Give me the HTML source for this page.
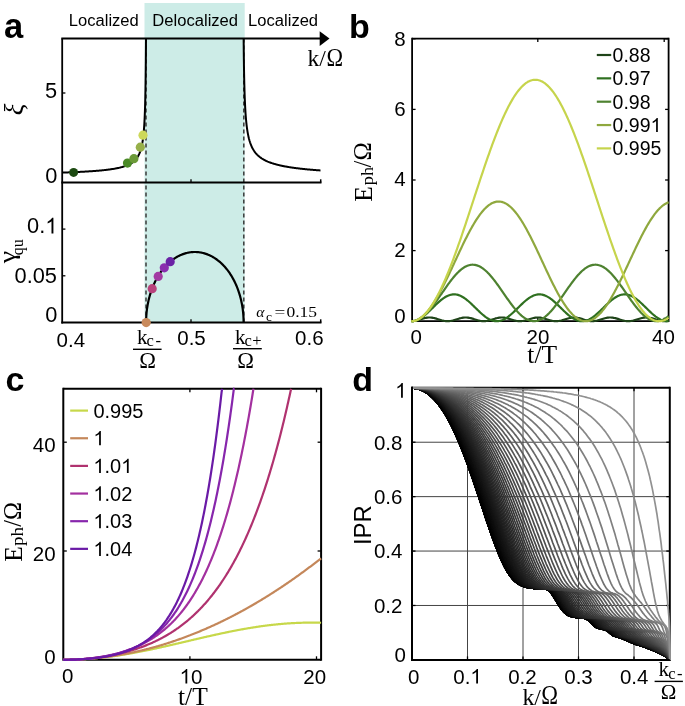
<!DOCTYPE html>
<html><head><meta charset="utf-8"><style>
html,body{margin:0;padding:0;background:#fff;}
svg{display:block;will-change:transform;}
text{-webkit-font-smoothing:antialiased;}
</style></head><body>
<svg width="685" height="706" viewBox="0 0 685 706"><rect x="144.5" y="3" width="100.2" height="319.5" fill="#cdece7"/>
<text x="4" y="38.2" font-family='"Liberation Sans", sans-serif' font-size="34.5" font-weight="bold">a</text>
<text x="68.8" y="25.5" font-family='"Liberation Sans", sans-serif' font-size="15.6" textLength="70" lengthAdjust="spacingAndGlyphs">Localized</text>
<text x="152.3" y="25.5" font-family='"Liberation Sans", sans-serif' font-size="15.6" textLength="85.8" lengthAdjust="spacingAndGlyphs">Delocalized</text>
<text x="248.1" y="25.8" font-family='"Liberation Sans", sans-serif' font-size="15.6" textLength="70" lengthAdjust="spacingAndGlyphs">Localized</text>
<line x1="146" y1="38.5" x2="146" y2="322.5" stroke="#3a3a3a" stroke-width="1.5" stroke-dasharray="4 3"/>
<line x1="243.8" y1="38.5" x2="243.8" y2="322.5" stroke="#3a3a3a" stroke-width="1.5" stroke-dasharray="4 3"/>
<path d="M62.2 172.6 L62.85 172.58 L63.51 172.56 L64.16 172.54 L64.82 172.51 L65.47 172.49 L66.12 172.47 L66.78 172.44 L67.43 172.42 L68.08 172.39 L68.74 172.37 L69.39 172.34 L70.05 172.32 L70.7 172.29 L71.35 172.27 L72.01 172.24 L72.66 172.21 L73.31 172.19 L73.97 172.16 L74.62 172.13 L75.28 172.1 L75.93 172.07 L76.58 172.04 L77.24 172.01 L77.89 171.98 L78.54 171.95 L79.2 171.92 L79.85 171.89 L80.51 171.85 L81.16 171.82 L81.81 171.79 L82.47 171.75 L83.12 171.72 L83.77 171.68 L84.43 171.64 L85.08 171.61 L85.74 171.57 L86.39 171.53 L87.04 171.49 L87.7 171.45 L88.35 171.41 L89.01 171.37 L89.66 171.33 L90.31 171.28 L90.97 171.24 L91.62 171.19 L92.27 171.15 L92.93 171.1 L93.58 171.05 L94.24 171 L94.89 170.95 L95.54 170.9 L96.2 170.85 L96.85 170.8 L97.5 170.74 L98.16 170.69 L98.81 170.63 L99.47 170.57 L100.12 170.51 L100.77 170.45 L101.43 170.39 L102.08 170.32 L102.73 170.26 L103.39 170.19 L104.04 170.12 L104.7 170.05 L105.35 169.97 L106 169.9 L106.66 169.82 L107.31 169.74 L107.96 169.66 L108.62 169.57 L109.27 169.49 L109.93 169.4 L110.58 169.31 L111.23 169.21 L111.89 169.11 L112.54 169.01 L113.19 168.9 L113.85 168.8 L114.5 168.68 L115.16 168.57 L115.81 168.44 L116.46 168.32 L117.12 168.19 L117.77 168.05 L118.43 167.91 L119.08 167.77 L119.73 167.61 L120.39 167.46 L121.04 167.29 L121.69 167.12 L122.35 166.93 L123 166.74 L123.66 166.55 L124.31 166.34 L124.96 166.12 L125.62 165.88 L126.27 165.64 L126.92 165.38 L127.58 165.11 L128.23 164.82 L128.89 164.51 L129.54 164.18 L130.19 163.83 L130.85 163.45 L131.5 163.05 L132.15 162.61 L132.81 162.14 L133.46 161.63 L134.12 161.07 L134.77 160.46 L135.42 159.79 L136.08 159.05 L136.73 158.23 L137.38 157.3 L138.04 156.26 L138.69 155.06 L139.35 153.69 L140 152.09 L140.66 150.15 L141.22 148.22 L141.69 146.28 L142.1 144.35 L142.45 142.42 L142.75 140.48 L143.02 138.55 L143.26 136.62 L143.47 134.68 L143.66 132.75 L143.84 130.82 L143.99 128.88 L144.13 126.95 L144.26 125.01 L144.38 123.08 L144.48 121.15 L144.58 119.21 L144.67 117.28 L144.76 115.35 L144.83 113.41 L144.91 111.48 L144.97 109.54 L145.04 107.61 L145.1 105.68 L145.15 103.74 L145.2 101.81 L145.25 99.88 L145.3 97.94 L145.34 96.01 L145.38 94.08 L145.42 92.14 L145.46 90.21 L145.49 88.27 L145.52 86.34 L145.56 84.41 L145.59 82.47 L145.61 80.54 L145.64 78.61 L145.67 76.67 L145.69 74.74 L145.71 72.81 L145.74 70.87 L145.76 68.94 L145.78 67 L145.8 65.07 L145.82 63.14 L145.84 61.2 L145.85 59.27 L145.87 57.34 L145.89 55.4 L145.9 53.47 L145.92 51.54 L145.93 49.6 L145.94 47.67 L145.96 45.73 L145.97 43.8 L145.98 41.87 L146 39.93 L146.01 38" fill="none" stroke="#000" stroke-width="2" stroke-linejoin="round" stroke-linecap="butt" />
<path d="M243.63 38 L243.65 39.77 L243.66 41.53 L243.68 43.3 L243.7 45.07 L243.72 46.83 L243.73 48.6 L243.75 50.37 L243.77 52.13 L243.79 53.9 L243.81 55.67 L243.84 57.43 L243.86 59.2 L243.88 60.97 L243.91 62.73 L243.93 64.5 L243.96 66.27 L243.99 68.03 L244.02 69.8 L244.05 71.57 L244.08 73.33 L244.12 75.1 L244.15 76.87 L244.19 78.63 L244.23 80.4 L244.27 82.17 L244.31 83.93 L244.36 85.7 L244.41 87.47 L244.46 89.23 L244.51 91 L244.56 92.77 L244.62 94.53 L244.69 96.3 L244.75 98.07 L244.82 99.83 L244.9 101.6 L244.98 103.37 L245.06 105.13 L245.16 106.9 L245.25 108.67 L245.36 110.43 L245.47 112.2 L245.59 113.97 L245.72 115.73 L245.86 117.5 L246.01 119.27 L246.17 121.03 L246.35 122.8 L246.54 124.57 L246.75 126.33 L246.98 128.1 L247.23 129.87 L247.51 131.63 L247.82 133.4 L248.17 135.17 L248.55 136.93 L248.97 138.7 L249.46 140.47 L250 142.23 L250.59 143.93 L251.18 145.43 L251.78 146.77 L252.37 147.98 L252.96 149.08 L253.55 150.07 L254.15 150.99 L254.74 151.83 L255.33 152.6 L255.92 153.33 L256.52 154 L257.11 154.62 L257.7 155.21 L258.29 155.76 L258.89 156.28 L259.48 156.77 L260.07 157.24 L260.66 157.67 L261.26 158.09 L261.85 158.49 L262.44 158.86 L263.03 159.22 L263.63 159.56 L264.22 159.89 L264.81 160.21 L265.4 160.51 L266 160.8 L266.59 161.07 L267.18 161.34 L267.77 161.6 L268.37 161.84 L268.96 162.08 L269.55 162.31 L270.14 162.53 L270.74 162.75 L271.33 162.96 L271.92 163.16 L272.51 163.35 L273.11 163.54 L273.7 163.72 L274.29 163.9 L274.88 164.07 L275.47 164.24 L276.07 164.4 L276.66 164.56 L277.25 164.72 L277.84 164.87 L278.44 165.01 L279.03 165.15 L279.62 165.29 L280.21 165.43 L280.81 165.56 L281.4 165.69 L281.99 165.81 L282.58 165.94 L283.18 166.05 L283.77 166.17 L284.36 166.29 L284.95 166.4 L285.55 166.51 L286.14 166.61 L286.73 166.72 L287.32 166.82 L287.92 166.92 L288.51 167.02 L289.1 167.12 L289.69 167.21 L290.29 167.3 L290.88 167.39 L291.47 167.48 L292.06 167.57 L292.66 167.66 L293.25 167.74 L293.84 167.82 L294.43 167.9 L295.03 167.98 L295.62 168.06 L296.21 168.14 L296.8 168.21 L297.39 168.29 L297.99 168.36 L298.58 168.43 L299.17 168.5 L299.76 168.57 L300.36 168.64 L300.95 168.71 L301.54 168.78 L302.13 168.84 L302.73 168.9 L303.32 168.97 L303.91 169.03 L304.5 169.09 L305.1 169.15 L305.69 169.21 L306.28 169.27 L306.87 169.33 L307.47 169.38 L308.06 169.44 L308.65 169.5 L309.24 169.55 L309.84 169.6 L310.43 169.66 L311.02 169.71 L311.61 169.76 L312.21 169.81 L312.8 169.86 L313.39 169.91 L313.98 169.96 L314.58 170.01 L315.17 170.06 L315.76 170.1 L316.35 170.15 L316.95 170.2 L317.54 170.24 L318.13 170.29 L318.72 170.33 L319.32 170.37 L319.91 170.42 L320.5 170.46" fill="none" stroke="#000" stroke-width="2" stroke-linejoin="round" stroke-linecap="butt" />
<path d="M146.1 322.5 L146.11 321.39 L146.12 320.27 L146.15 319.16 L146.2 318.05 L146.25 316.94 L146.32 315.83 L146.4 314.73 L146.49 313.62 L146.59 312.52 L146.71 311.42 L146.83 310.32 L146.97 309.22 L147.12 308.13 L147.29 307.04 L147.46 305.96 L147.65 304.88 L147.85 303.81 L148.06 302.73 L148.28 301.67 L148.51 300.61 L148.75 299.55 L149.01 298.5 L149.28 297.46 L149.56 296.42 L149.85 295.39 L150.15 294.37 L150.46 293.35 L150.79 292.34 L151.12 291.34 L151.47 290.35 L151.82 289.36 L152.19 288.38 L152.57 287.41 L152.96 286.45 L153.35 285.5 L153.76 284.56 L154.18 283.62 L154.61 282.7 L155.05 281.78 L155.5 280.88 L155.96 279.99 L156.43 279.11 L156.91 278.23 L157.4 277.37 L157.89 276.52 L158.4 275.69 L158.91 274.86 L159.44 274.05 L159.97 273.24 L160.51 272.45 L161.07 271.68 L161.62 270.91 L162.19 270.16 L162.77 269.42 L163.35 268.69 L163.94 267.98 L164.54 267.28 L165.15 266.6 L165.76 265.93 L166.38 265.27 L167.01 264.63 L167.65 264 L168.29 263.38 L168.94 262.78 L169.59 262.2 L170.25 261.63 L170.92 261.08 L171.59 260.54 L172.27 260.02 L172.96 259.51 L173.65 259.02 L174.34 258.54 L175.05 258.08 L175.75 257.64 L176.46 257.21 L177.18 256.8 L177.9 256.4 L178.62 256.02 L179.35 255.66 L180.08 255.31 L180.81 254.99 L181.55 254.67 L182.29 254.38 L183.04 254.1 L183.79 253.84 L184.54 253.6 L185.29 253.37 L186.05 253.16 L186.81 252.97 L187.57 252.79 L188.33 252.63 L189.09 252.49 L189.86 252.37 L190.62 252.27 L191.39 252.18 L192.16 252.11 L192.93 252.05 L193.7 252.02 L194.47 252 L195.23 252 L196 252.02 L196.77 252.05 L197.54 252.11 L198.31 252.18 L199.08 252.27 L199.84 252.37 L200.61 252.49 L201.37 252.63 L202.13 252.79 L202.89 252.97 L203.65 253.16 L204.41 253.37 L205.16 253.6 L205.91 253.84 L206.66 254.1 L207.41 254.38 L208.15 254.67 L208.89 254.99 L209.62 255.31 L210.35 255.66 L211.08 256.02 L211.8 256.4 L212.52 256.8 L213.24 257.21 L213.95 257.64 L214.65 258.08 L215.36 258.54 L216.05 259.02 L216.74 259.51 L217.43 260.02 L218.11 260.54 L218.78 261.08 L219.45 261.63 L220.11 262.2 L220.76 262.78 L221.41 263.38 L222.05 264 L222.69 264.63 L223.32 265.27 L223.94 265.93 L224.55 266.6 L225.16 267.28 L225.76 267.98 L226.35 268.69 L226.93 269.42 L227.51 270.16 L228.08 270.91 L228.63 271.68 L229.19 272.45 L229.73 273.24 L230.26 274.05 L230.79 274.86 L231.3 275.69 L231.81 276.52 L232.3 277.37 L232.79 278.23 L233.27 279.11 L233.74 279.99 L234.2 280.88 L234.65 281.78 L235.09 282.7 L235.52 283.62 L235.94 284.56 L236.35 285.5 L236.74 286.45 L237.13 287.41 L237.51 288.38 L237.88 289.36 L238.23 290.35 L238.58 291.34 L238.91 292.34 L239.24 293.35 L239.55 294.37 L239.85 295.39 L240.14 296.42 L240.42 297.46 L240.69 298.5 L240.95 299.55 L241.19 300.61 L241.42 301.67 L241.64 302.73 L241.85 303.81 L242.05 304.88 L242.24 305.96 L242.41 307.04 L242.58 308.13 L242.73 309.22 L242.87 310.32 L242.99 311.42 L243.11 312.52 L243.21 313.62 L243.3 314.73 L243.38 315.83 L243.45 316.94 L243.5 318.05 L243.55 319.16 L243.58 320.27 L243.59 321.39 L243.6 322.5" fill="none" stroke="#000" stroke-width="2.2" stroke-linejoin="round" stroke-linecap="butt" />
<line x1="62.2" y1="38.5" x2="62.2" y2="323.4" stroke="#000" stroke-width="1.8" />
<line x1="61.3" y1="38.5" x2="320.5" y2="38.5" stroke="#000" stroke-width="1.8" />
<polygon points="319.7,31.2 329.5,38.6 319.7,46" fill="#000"/>
<line x1="61.3" y1="182.5" x2="321.5" y2="182.5" stroke="#000" stroke-width="1.8" />
<line x1="61.3" y1="322.5" x2="321.5" y2="322.5" stroke="#000" stroke-width="1.8" />
<line x1="191" y1="182.5" x2="191" y2="179.3" stroke="#000" stroke-width="1.3" />
<line x1="191" y1="322.5" x2="191" y2="319.3" stroke="#000" stroke-width="1.3" />
<line x1="320.7" y1="182.5" x2="320.7" y2="179.3" stroke="#000" stroke-width="1.5" />
<line x1="320.7" y1="322.5" x2="320.7" y2="319.3" stroke="#000" stroke-width="1.5" />
<line x1="62.2" y1="93" x2="65.4" y2="93" stroke="#000" stroke-width="1.3" />
<line x1="62.2" y1="229.1" x2="65.4" y2="229.1" stroke="#000" stroke-width="1.3" />
<line x1="62.2" y1="275.8" x2="65.4" y2="275.8" stroke="#000" stroke-width="1.3" />
<circle cx="73.6" cy="172.4" r="4.5" fill="#1d4a12"/>
<circle cx="127.5" cy="163.1" r="4.6" fill="#4a8a26"/>
<circle cx="133.9" cy="158.7" r="4.6" fill="#6b9a38"/>
<circle cx="140.3" cy="147.2" r="4.6" fill="#97b04a"/>
<circle cx="143" cy="135.2" r="4.6" fill="#cdd85a"/>
<circle cx="146.2" cy="322.6" r="4.6" fill="#c98a5c"/>
<circle cx="152.2" cy="288.7" r="4.6" fill="#b8427c"/>
<circle cx="158.2" cy="276.4" r="4.6" fill="#a23aa2"/>
<circle cx="164.3" cy="267.8" r="4.6" fill="#8a2eae"/>
<circle cx="170.2" cy="261.7" r="4.6" fill="#6a22a6"/>
<text x="57" y="97.7" font-family='"Liberation Sans", sans-serif' font-size="21.8" text-anchor="end">5</text>
<text x="57.4" y="183.3" font-family='"Liberation Sans", sans-serif' font-size="21.8" text-anchor="end">0</text>
<text x="27.1" y="233.4" font-family='"Liberation Sans", sans-serif' font-size="21.8" style="font-kerning:none">0. </text>
<path d="M764 0H584V1147Q519 1085 413 1023Q307 961 222 931V1104Q371 1174 483 1274Q595 1374 642 1466H764Z" transform="translate(45.28,233.4) scale(0.01064,-0.01064)"/>
<text x="57" y="283" font-family='"Liberation Sans", sans-serif' font-size="21.8" text-anchor="end">0.05</text>
<text x="57.4" y="322.3" font-family='"Liberation Sans", sans-serif' font-size="21.8" text-anchor="end">0</text>
<text x="70.8" y="347.4" font-family='"Liberation Sans", sans-serif' font-size="20.5" text-anchor="middle">0.4</text>
<text x="191.5" y="345.4" font-family='"Liberation Sans", sans-serif' font-size="20.5" text-anchor="middle">0.5</text>
<text x="309.3" y="345.4" font-family='"Liberation Sans", sans-serif' font-size="20.5" text-anchor="middle">0.6</text>
<text x="307.4" y="66.4" font-family='"Liberation Serif", serif' font-size="23.5">k/</text>
<text x="326.4" y="65.6" font-family='"Liberation Serif", serif' font-size="24.5" textLength="16.6" lengthAdjust="spacingAndGlyphs">Ω</text>
<text transform="translate(22.5,109.5) rotate(-90)" font-family='"Liberation Serif", serif' font-size="27" font-style="italic" text-anchor="middle">ξ</text>
<text transform="translate(14.7,263.2) rotate(-90)" font-family='"Liberation Serif", serif' font-size="24"><tspan textLength="12.3" lengthAdjust="spacingAndGlyphs">γ</tspan></text>
<text transform="translate(22.8,255.2) rotate(-90)" font-family='"Liberation Serif", serif' font-size="17" textLength="15.9" lengthAdjust="spacingAndGlyphs">qu</text>
<text x="137" y="344.1" font-family='"Liberation Serif", serif' font-size="21">k</text>
<text x="146.6" y="346.3" font-family='"Liberation Serif", serif' font-size="16.5">c</text>
<text x="155.5" y="346.3" font-family='"Liberation Serif", serif' font-size="16.5">-</text>
<text x="234.9" y="344" font-family='"Liberation Serif", serif' font-size="21">k</text>
<text x="244.5" y="346.2" font-family='"Liberation Serif", serif' font-size="16.5">c</text>
<text x="252.3" y="346.2" font-family='"Liberation Serif", serif' font-size="16.5">+</text>
<line x1="133" y1="349.3" x2="161.6" y2="349.3" stroke="#000" stroke-width="1.4" />
<line x1="233" y1="348.7" x2="261.8" y2="348.7" stroke="#000" stroke-width="1.4" />
<text x="147.6" y="367.7" font-family='"Liberation Serif", serif' font-size="22.5" text-anchor="middle">Ω</text>
<text x="245.5" y="367.7" font-family='"Liberation Serif", serif' font-size="22.5" text-anchor="middle">Ω</text>
<text x="256.3" y="317.3" font-family='"Liberation Serif", serif' font-size="15.5" font-style="italic">α</text>
<text x="266" y="321.3" font-family='"Liberation Serif", serif' font-size="13.5">c</text>
<text x="274.6" y="317" font-family='"Liberation Serif", serif' font-size="15" textLength="10.8" lengthAdjust="spacingAndGlyphs">=</text>
<text x="286.4" y="317.3" font-family='"Liberation Serif", serif' font-size="14.5" textLength="30.6" lengthAdjust="spacingAndGlyphs">0.15</text>
<text x="349" y="37.9" font-family='"Liberation Sans", sans-serif' font-size="34" font-weight="bold">b</text>
<line x1="412.1" y1="37.7" x2="412.1" y2="322.1" stroke="#000" stroke-width="1.8" />
<line x1="668.6" y1="37.7" x2="668.6" y2="322.1" stroke="#000" stroke-width="1.8" />
<line x1="412.1" y1="38.6" x2="668.6" y2="38.6" stroke="#000" stroke-width="1.8" />
<line x1="412.1" y1="321.2" x2="668.6" y2="321.2" stroke="#000" stroke-width="1.8" />
<line x1="412.1" y1="250.6" x2="415.6" y2="250.6" stroke="#000" stroke-width="1.3" />
<line x1="668.6" y1="250.6" x2="665.1" y2="250.6" stroke="#000" stroke-width="1.3" />
<line x1="412.1" y1="180" x2="415.6" y2="180" stroke="#000" stroke-width="1.3" />
<line x1="668.6" y1="180" x2="665.1" y2="180" stroke="#000" stroke-width="1.3" />
<line x1="412.1" y1="109.4" x2="415.6" y2="109.4" stroke="#000" stroke-width="1.3" />
<line x1="668.6" y1="109.4" x2="665.1" y2="109.4" stroke="#000" stroke-width="1.3" />
<line x1="412.1" y1="38.8" x2="415.6" y2="38.8" stroke="#000" stroke-width="1.3" />
<line x1="668.6" y1="38.8" x2="665.1" y2="38.8" stroke="#000" stroke-width="1.3" />
<line x1="537.8" y1="38.6" x2="537.8" y2="42.1" stroke="#000" stroke-width="1.3" />
<line x1="537.8" y1="321.2" x2="537.8" y2="317.7" stroke="#000" stroke-width="1.3" />
<line x1="664.2" y1="38.6" x2="664.2" y2="42.1" stroke="#000" stroke-width="1.3" />
<line x1="664.2" y1="321.2" x2="664.2" y2="317.7" stroke="#000" stroke-width="1.3" />
<path d="M411.4 321.2 L412.26 321.18 L413.12 321.12 L413.98 321.02 L414.84 320.88 L415.7 320.71 L416.56 320.5 L417.42 320.27 L418.28 320.03 L419.14 319.76 L420 319.49 L420.86 319.21 L421.72 318.94 L422.58 318.67 L423.44 318.42 L424.3 318.19 L425.16 317.99 L426.02 317.82 L426.88 317.68 L427.74 317.58 L428.6 317.51 L429.46 317.49 L430.32 317.51 L431.18 317.57 L432.04 317.68 L432.91 317.81 L433.77 317.99 L434.63 318.19 L435.49 318.42 L436.35 318.67 L437.21 318.93 L438.07 319.2 L438.93 319.48 L439.79 319.75 L440.65 320.02 L441.51 320.27 L442.37 320.5 L443.23 320.7 L444.09 320.87 L444.95 321.01 L445.81 321.12 L446.67 321.18 L447.53 321.2 L448.39 321.18 L449.25 321.12 L450.11 321.02 L450.97 320.88 L451.83 320.71 L452.69 320.51 L453.55 320.28 L454.41 320.03 L455.27 319.77 L456.13 319.49 L456.99 319.22 L457.85 318.94 L458.71 318.68 L459.57 318.43 L460.43 318.2 L461.29 317.99 L462.15 317.82 L463.01 317.68 L463.87 317.58 L464.73 317.52 L465.59 317.49 L466.45 317.51 L467.31 317.57 L468.17 317.67 L469.03 317.81 L469.89 317.98 L470.75 318.18 L471.61 318.41 L472.47 318.66 L473.33 318.92 L474.19 319.2 L475.05 319.47 L475.92 319.75 L476.78 320.01 L477.64 320.26 L478.5 320.49 L479.36 320.7 L480.22 320.87 L481.08 321.01 L481.94 321.11 L482.8 321.18 L483.66 321.2 L484.52 321.18 L485.38 321.12 L486.24 321.02 L487.1 320.89 L487.96 320.72 L488.82 320.51 L489.68 320.29 L490.54 320.04 L491.4 319.77 L492.26 319.5 L493.12 319.22 L493.98 318.95 L494.84 318.68 L495.7 318.43 L496.56 318.2 L497.42 318 L498.28 317.83 L499.14 317.68 L500 317.58 L500.86 317.52 L501.72 317.49 L502.58 317.51 L503.44 317.57 L504.3 317.67 L505.16 317.81 L506.02 317.98 L506.88 318.18 L507.74 318.4 L508.6 318.65 L509.46 318.92 L510.32 319.19 L511.18 319.47 L512.04 319.74 L512.9 320.01 L513.76 320.26 L514.62 320.49 L515.48 320.69 L516.34 320.87 L517.2 321.01 L518.06 321.11 L518.93 321.18 L519.79 321.2 L520.65 321.18 L521.51 321.12 L522.37 321.03 L523.23 320.89 L524.09 320.72 L524.95 320.52 L525.81 320.29 L526.67 320.04 L527.53 319.78 L528.39 319.51 L529.25 319.23 L530.11 318.96 L530.97 318.69 L531.83 318.44 L532.69 318.21 L533.55 318 L534.41 317.83 L535.27 317.69 L536.13 317.58 L536.99 317.52 L537.85 317.49 L538.71 317.51 L539.57 317.57 L540.43 317.67 L541.29 317.8 L542.15 317.97 L543.01 318.17 L543.87 318.4 L544.73 318.65 L545.59 318.91 L546.45 319.18 L547.31 319.46 L548.17 319.73 L549.03 320 L549.89 320.25 L550.75 320.48 L551.61 320.69 L552.47 320.86 L553.33 321 L554.19 321.11 L555.05 321.17 L555.91 321.2 L556.77 321.18 L557.63 321.13 L558.49 321.03 L559.35 320.89 L560.21 320.72 L561.07 320.53 L561.94 320.3 L562.8 320.05 L563.66 319.79 L564.52 319.52 L565.38 319.24 L566.24 318.96 L567.1 318.7 L567.96 318.45 L568.82 318.22 L569.68 318.01 L570.54 317.83 L571.4 317.69 L572.26 317.59 L573.12 317.52 L573.98 317.49 L574.84 317.51 L575.7 317.57 L576.56 317.66 L577.42 317.8 L578.28 317.97 L579.14 318.17 L580 318.39 L580.86 318.64 L581.72 318.9 L582.58 319.17 L583.44 319.45 L584.3 319.73 L585.16 319.99 L586.02 320.24 L586.88 320.48 L587.74 320.68 L588.6 320.86 L589.46 321 L590.32 321.11 L591.18 321.17 L592.04 321.2 L592.9 321.18 L593.76 321.13 L594.62 321.03 L595.48 320.9 L596.34 320.73 L597.2 320.53 L598.06 320.3 L598.92 320.06 L599.78 319.8 L600.64 319.52 L601.5 319.25 L602.36 318.97 L603.22 318.7 L604.08 318.45 L604.95 318.22 L605.81 318.01 L606.67 317.84 L607.53 317.69 L608.39 317.59 L609.25 317.52 L610.11 317.49 L610.97 317.51 L611.83 317.56 L612.69 317.66 L613.55 317.79 L614.41 317.96 L615.27 318.16 L616.13 318.39 L616.99 318.63 L617.85 318.9 L618.71 319.17 L619.57 319.44 L620.43 319.72 L621.29 319.99 L622.15 320.24 L623.01 320.47 L623.87 320.68 L624.73 320.85 L625.59 321 L626.45 321.1 L627.31 321.17 L628.17 321.2 L629.03 321.19 L629.89 321.13 L630.75 321.03 L631.61 320.9 L632.47 320.73 L633.33 320.54 L634.19 320.31 L635.05 320.06 L635.91 319.8 L636.77 319.53 L637.63 319.25 L638.49 318.98 L639.35 318.71 L640.21 318.46 L641.07 318.23 L641.93 318.02 L642.79 317.84 L643.65 317.7 L644.51 317.59 L645.37 317.52 L646.23 317.49 L647.09 317.51 L647.96 317.56 L648.82 317.66 L649.68 317.79 L650.54 317.96 L651.4 318.15 L652.26 318.38 L653.12 318.63 L653.98 318.89 L654.84 319.16 L655.7 319.44 L656.56 319.71 L657.42 319.98 L658.28 320.23 L659.14 320.46 L660 320.67 L660.86 320.85 L661.72 320.99 L662.58 321.1 L663.44 321.17 L664.3 321.2 L665.16 321.19 L666.02 321.13 L666.88 321.04 L667.74 320.91 L668.6 320.74" fill="none" stroke="#1f4419" stroke-width="2.2" stroke-linejoin="round" stroke-linecap="butt" />
<path d="M411.4 321.2 L412.26 321.17 L413.12 321.09 L413.98 320.96 L414.84 320.77 L415.7 320.53 L416.56 320.24 L417.42 319.9 L418.28 319.51 L419.14 319.08 L420 318.6 L420.86 318.07 L421.72 317.51 L422.58 316.9 L423.44 316.26 L424.3 315.59 L425.16 314.88 L426.02 314.14 L426.88 313.38 L427.74 312.6 L428.6 311.8 L429.46 310.98 L430.32 310.15 L431.18 309.31 L432.04 308.46 L432.91 307.61 L433.77 306.76 L434.63 305.92 L435.49 305.08 L436.35 304.26 L437.21 303.44 L438.07 302.65 L438.93 301.88 L439.79 301.12 L440.65 300.4 L441.51 299.71 L442.37 299.05 L443.23 298.42 L444.09 297.83 L444.95 297.28 L445.81 296.77 L446.67 296.31 L447.53 295.89 L448.39 295.53 L449.25 295.21 L450.11 294.94 L450.97 294.72 L451.83 294.55 L452.69 294.44 L453.55 294.38 L454.41 294.38 L455.27 294.43 L456.13 294.53 L456.99 294.68 L457.85 294.89 L458.71 295.15 L459.57 295.46 L460.43 295.82 L461.29 296.23 L462.15 296.68 L463.01 297.18 L463.87 297.72 L464.73 298.31 L465.59 298.93 L466.45 299.58 L467.31 300.27 L468.17 300.99 L469.03 301.73 L469.89 302.5 L470.75 303.29 L471.61 304.1 L472.47 304.93 L473.33 305.76 L474.19 306.61 L475.05 307.45 L475.92 308.3 L476.78 309.15 L477.64 309.99 L478.5 310.83 L479.36 311.65 L480.22 312.45 L481.08 313.24 L481.94 314.01 L482.8 314.75 L483.66 315.46 L484.52 316.14 L485.38 316.79 L486.24 317.4 L487.1 317.97 L487.96 318.5 L488.82 318.99 L489.68 319.44 L490.54 319.83 L491.4 320.18 L492.26 320.48 L493.12 320.73 L493.98 320.93 L494.84 321.07 L495.7 321.16 L496.56 321.2 L497.42 321.18 L498.28 321.11 L499.14 320.99 L500 320.81 L500.86 320.58 L501.72 320.3 L502.58 319.97 L503.44 319.59 L504.3 319.16 L505.16 318.69 L506.02 318.17 L506.88 317.62 L507.74 317.02 L508.6 316.38 L509.46 315.71 L510.32 315.01 L511.18 314.28 L512.04 313.53 L512.9 312.75 L513.76 311.95 L514.62 311.13 L515.48 310.31 L516.34 309.47 L517.2 308.62 L518.06 307.77 L518.93 306.92 L519.79 306.08 L520.65 305.24 L521.51 304.41 L522.37 303.59 L523.23 302.8 L524.09 302.02 L524.95 301.26 L525.81 300.53 L526.67 299.83 L527.53 299.17 L528.39 298.53 L529.25 297.94 L530.11 297.38 L530.97 296.86 L531.83 296.39 L532.69 295.97 L533.55 295.59 L534.41 295.26 L535.27 294.98 L536.13 294.75 L536.99 294.58 L537.85 294.46 L538.71 294.39 L539.57 294.37 L540.43 294.41 L541.29 294.5 L542.15 294.65 L543.01 294.85 L543.87 295.1 L544.73 295.4 L545.59 295.75 L546.45 296.15 L547.31 296.6 L548.17 297.09 L549.03 297.62 L549.89 298.19 L550.75 298.81 L551.61 299.46 L552.47 300.14 L553.33 300.85 L554.19 301.59 L555.05 302.36 L555.91 303.15 L556.77 303.95 L557.63 304.77 L558.49 305.61 L559.35 306.45 L560.21 307.3 L561.07 308.15 L561.94 308.99 L562.8 309.84 L563.66 310.67 L564.52 311.5 L565.38 312.31 L566.24 313.1 L567.1 313.86 L567.96 314.61 L568.82 315.33 L569.68 316.01 L570.54 316.67 L571.4 317.29 L572.26 317.87 L573.12 318.41 L573.98 318.9 L574.84 319.36 L575.7 319.76 L576.56 320.12 L577.42 320.43 L578.28 320.69 L579.14 320.9 L580 321.05 L580.86 321.15 L581.72 321.2 L582.58 321.19 L583.44 321.13 L584.3 321.01 L585.16 320.85 L586.02 320.63 L586.88 320.36 L587.74 320.04 L588.6 319.66 L589.46 319.25 L590.32 318.78 L591.18 318.27 L592.04 317.72 L592.9 317.13 L593.76 316.5 L594.62 315.84 L595.48 315.15 L596.34 314.42 L597.2 313.67 L598.06 312.9 L598.92 312.1 L599.78 311.29 L600.64 310.46 L601.5 309.62 L602.36 308.78 L603.22 307.93 L604.08 307.08 L604.95 306.23 L605.81 305.39 L606.67 304.56 L607.53 303.74 L608.39 302.94 L609.25 302.16 L610.11 301.4 L610.97 300.67 L611.83 299.96 L612.69 299.29 L613.55 298.65 L614.41 298.04 L615.27 297.48 L616.13 296.96 L616.99 296.48 L617.85 296.04 L618.71 295.66 L619.57 295.32 L620.43 295.03 L621.29 294.79 L622.15 294.61 L623.01 294.48 L623.87 294.4 L624.73 294.37 L625.59 294.4 L626.45 294.48 L627.31 294.62 L628.17 294.81 L629.03 295.05 L629.89 295.34 L630.75 295.68 L631.61 296.07 L632.47 296.51 L633.33 296.99 L634.19 297.52 L635.05 298.08 L635.91 298.69 L636.77 299.33 L637.63 300.01 L638.49 300.72 L639.35 301.45 L640.21 302.21 L641.07 303 L641.93 303.8 L642.79 304.62 L643.65 305.45 L644.51 306.29 L645.37 307.14 L646.23 307.99 L647.09 308.84 L647.96 309.68 L648.82 310.52 L649.68 311.34 L650.54 312.16 L651.4 312.95 L652.26 313.72 L653.12 314.47 L653.98 315.2 L654.84 315.89 L655.7 316.55 L656.56 317.17 L657.42 317.76 L658.28 318.31 L659.14 318.82 L660 319.28 L660.86 319.69 L661.72 320.06 L662.58 320.38 L663.44 320.64 L664.3 320.86 L665.16 321.02 L666.02 321.13 L666.88 321.19 L667.74 321.19 L668.6 321.14" fill="none" stroke="#2f7020" stroke-width="2.2" stroke-linejoin="round" stroke-linecap="butt" />
<path d="M411.4 321.2 L412.26 321.17 L413.12 321.09 L413.98 320.95 L414.84 320.76 L415.7 320.52 L416.56 320.22 L417.42 319.87 L418.28 319.46 L419.14 319.01 L420 318.5 L420.86 317.94 L421.72 317.34 L422.58 316.69 L423.44 315.99 L424.3 315.25 L425.16 314.46 L426.02 313.63 L426.88 312.77 L427.74 311.86 L428.6 310.92 L429.46 309.94 L430.32 308.93 L431.18 307.89 L432.04 306.82 L432.91 305.72 L433.77 304.6 L434.63 303.45 L435.49 302.28 L436.35 301.1 L437.21 299.9 L438.07 298.69 L438.93 297.46 L439.79 296.23 L440.65 294.99 L441.51 293.75 L442.37 292.5 L443.23 291.26 L444.09 290.02 L444.95 288.78 L445.81 287.56 L446.67 286.34 L447.53 285.14 L448.39 283.95 L449.25 282.78 L450.11 281.63 L450.97 280.5 L451.83 279.39 L452.69 278.32 L453.55 277.27 L454.41 276.25 L455.27 275.26 L456.13 274.31 L456.99 273.39 L457.85 272.51 L458.71 271.67 L459.57 270.88 L460.43 270.12 L461.29 269.41 L462.15 268.75 L463.01 268.13 L463.87 267.56 L464.73 267.04 L465.59 266.57 L466.45 266.16 L467.31 265.79 L468.17 265.48 L469.03 265.22 L469.89 265.01 L470.75 264.86 L471.61 264.76 L472.47 264.72 L473.33 264.73 L474.19 264.8 L475.05 264.92 L475.92 265.1 L476.78 265.33 L477.64 265.62 L478.5 265.95 L479.36 266.34 L480.22 266.79 L481.08 267.28 L481.94 267.82 L482.8 268.41 L483.66 269.05 L484.52 269.74 L485.38 270.47 L486.24 271.24 L487.1 272.06 L487.96 272.92 L488.82 273.81 L489.68 274.75 L490.54 275.72 L491.4 276.72 L492.26 277.75 L493.12 278.82 L493.98 279.91 L494.84 281.02 L495.7 282.16 L496.56 283.32 L497.42 284.5 L498.28 285.7 L499.14 286.91 L500 288.13 L500.86 289.36 L501.72 290.6 L502.58 291.84 L503.44 293.08 L504.3 294.33 L505.16 295.57 L506.02 296.81 L506.88 298.04 L507.74 299.25 L508.6 300.46 L509.46 301.65 L510.32 302.83 L511.18 303.99 L512.04 305.12 L512.9 306.23 L513.76 307.32 L514.62 308.38 L515.48 309.4 L516.34 310.4 L517.2 311.36 L518.06 312.29 L518.93 313.18 L519.79 314.03 L520.65 314.83 L521.51 315.6 L522.37 316.32 L523.23 317 L524.09 317.63 L524.95 318.21 L525.81 318.74 L526.67 319.23 L527.53 319.66 L528.39 320.04 L529.25 320.36 L530.11 320.64 L530.97 320.86 L531.83 321.02 L532.69 321.14 L533.55 321.19 L534.41 321.19 L535.27 321.14 L536.13 321.03 L536.99 320.87 L537.85 320.65 L538.71 320.38 L539.57 320.06 L540.43 319.68 L541.29 319.26 L542.15 318.78 L543.01 318.25 L543.87 317.67 L544.73 317.04 L545.59 316.37 L546.45 315.65 L547.31 314.89 L548.17 314.08 L549.03 313.24 L549.89 312.35 L550.75 311.43 L551.61 310.47 L552.47 309.47 L553.33 308.45 L554.19 307.39 L555.05 306.31 L555.91 305.2 L556.77 304.06 L557.63 302.91 L558.49 301.74 L559.35 300.54 L560.21 299.34 L561.07 298.12 L561.94 296.89 L562.8 295.65 L563.66 294.41 L564.52 293.17 L565.38 291.92 L566.24 290.68 L567.1 289.44 L567.96 288.21 L568.82 286.99 L569.68 285.78 L570.54 284.58 L571.4 283.4 L572.26 282.24 L573.12 281.1 L573.98 279.98 L574.84 278.89 L575.7 277.82 L576.56 276.79 L577.42 275.78 L578.28 274.81 L579.14 273.88 L580 272.98 L580.86 272.12 L581.72 271.3 L582.58 270.52 L583.44 269.79 L584.3 269.1 L585.16 268.46 L586.02 267.86 L586.88 267.32 L587.74 266.82 L588.6 266.37 L589.46 265.98 L590.32 265.64 L591.18 265.35 L592.04 265.12 L592.9 264.94 L593.76 264.81 L594.62 264.74 L595.48 264.72 L596.34 264.76 L597.2 264.85 L598.06 265 L598.92 265.2 L599.78 265.46 L600.64 265.77 L601.5 266.13 L602.36 266.54 L603.22 267.01 L604.08 267.53 L604.95 268.09 L605.81 268.71 L606.67 269.37 L607.53 270.07 L608.39 270.82 L609.25 271.62 L610.11 272.45 L610.97 273.33 L611.83 274.24 L612.69 275.19 L613.55 276.18 L614.41 277.2 L615.27 278.24 L616.13 279.32 L616.99 280.42 L617.85 281.55 L618.71 282.7 L619.57 283.87 L620.43 285.06 L621.29 286.26 L622.15 287.47 L623.01 288.7 L623.87 289.93 L624.73 291.18 L625.59 292.42 L626.45 293.66 L627.31 294.91 L628.17 296.15 L629.03 297.38 L629.89 298.6 L630.75 299.82 L631.61 301.02 L632.47 302.2 L633.33 303.37 L634.19 304.52 L635.05 305.64 L635.91 306.74 L636.77 307.81 L637.63 308.86 L638.49 309.87 L639.35 310.85 L640.21 311.8 L641.07 312.71 L641.93 313.58 L642.79 314.41 L643.65 315.2 L644.51 315.94 L645.37 316.64 L646.23 317.3 L647.09 317.9 L647.96 318.46 L648.82 318.97 L649.68 319.43 L650.54 319.84 L651.4 320.2 L652.26 320.5 L653.12 320.75 L653.98 320.94 L654.84 321.08 L655.7 321.17 L656.56 321.2 L657.42 321.18 L658.28 321.1 L659.14 320.96 L660 320.78 L660.86 320.54 L661.72 320.24 L662.58 319.89 L663.44 319.49 L664.3 319.04 L665.16 318.54 L666.02 317.98 L666.88 317.38 L667.74 316.73 L668.6 316.04" fill="none" stroke="#4e8230" stroke-width="2.2" stroke-linejoin="round" stroke-linecap="butt" />
<path d="M411.4 321.2 L412.26 321.17 L413.12 321.09 L413.98 320.94 L414.84 320.74 L415.7 320.48 L416.56 320.17 L417.42 319.8 L418.28 319.37 L419.14 318.89 L420 318.35 L420.86 317.76 L421.72 317.11 L422.58 316.41 L423.44 315.66 L424.3 314.85 L425.16 314 L426.02 313.09 L426.88 312.13 L427.74 311.13 L428.6 310.07 L429.46 308.97 L430.32 307.83 L431.18 306.64 L432.04 305.4 L432.91 304.13 L433.77 302.81 L434.63 301.45 L435.49 300.06 L436.35 298.63 L437.21 297.16 L438.07 295.66 L438.93 294.12 L439.79 292.55 L440.65 290.96 L441.51 289.33 L442.37 287.68 L443.23 286 L444.09 284.3 L444.95 282.58 L445.81 280.83 L446.67 279.07 L447.53 277.29 L448.39 275.5 L449.25 273.69 L450.11 271.87 L450.97 270.04 L451.83 268.2 L452.69 266.36 L453.55 264.51 L454.41 262.66 L455.27 260.8 L456.13 258.95 L456.99 257.1 L457.85 255.25 L458.71 253.41 L459.57 251.58 L460.43 249.75 L461.29 247.94 L462.15 246.14 L463.01 244.35 L463.87 242.58 L464.73 240.83 L465.59 239.1 L466.45 237.39 L467.31 235.71 L468.17 234.04 L469.03 232.41 L469.89 230.8 L470.75 229.22 L471.61 227.67 L472.47 226.16 L473.33 224.68 L474.19 223.23 L475.05 221.82 L475.92 220.45 L476.78 219.11 L477.64 217.82 L478.5 216.57 L479.36 215.36 L480.22 214.2 L481.08 213.08 L481.94 212.01 L482.8 210.99 L483.66 210.01 L484.52 209.08 L485.38 208.21 L486.24 207.38 L487.1 206.61 L487.96 205.89 L488.82 205.22 L489.68 204.61 L490.54 204.05 L491.4 203.54 L492.26 203.09 L493.12 202.7 L493.98 202.37 L494.84 202.09 L495.7 201.86 L496.56 201.7 L497.42 201.59 L498.28 201.54 L499.14 201.54 L500 201.61 L500.86 201.73 L501.72 201.91 L502.58 202.14 L503.44 202.43 L504.3 202.78 L505.16 203.19 L506.02 203.65 L506.88 204.17 L507.74 204.74 L508.6 205.36 L509.46 206.04 L510.32 206.77 L511.18 207.56 L512.04 208.4 L512.9 209.28 L513.76 210.22 L514.62 211.21 L515.48 212.24 L516.34 213.32 L517.2 214.45 L518.06 215.63 L518.93 216.84 L519.79 218.1 L520.65 219.4 L521.51 220.74 L522.37 222.12 L523.23 223.54 L524.09 225 L524.95 226.49 L525.81 228.01 L526.67 229.56 L527.53 231.15 L528.39 232.76 L529.25 234.41 L530.11 236.07 L530.97 237.77 L531.83 239.48 L532.69 241.22 L533.55 242.97 L534.41 244.74 L535.27 246.53 L536.13 248.34 L536.99 250.15 L537.85 251.98 L538.71 253.81 L539.57 255.65 L540.43 257.5 L541.29 259.35 L542.15 261.21 L543.01 263.06 L543.87 264.91 L544.73 266.76 L545.59 268.61 L546.45 270.44 L547.31 272.27 L548.17 274.09 L549.03 275.89 L549.89 277.68 L550.75 279.46 L551.61 281.22 L552.47 282.96 L553.33 284.68 L554.19 286.37 L555.05 288.04 L555.91 289.69 L556.77 291.31 L557.63 292.9 L558.49 294.46 L559.35 295.99 L560.21 297.48 L561.07 298.94 L561.94 300.37 L562.8 301.76 L563.66 303.1 L564.52 304.41 L565.38 305.68 L566.24 306.9 L567.1 308.08 L567.96 309.22 L568.82 310.31 L569.68 311.35 L570.54 312.35 L571.4 313.29 L572.26 314.19 L573.12 315.03 L573.98 315.83 L574.84 316.57 L575.7 317.26 L576.56 317.89 L577.42 318.47 L578.28 319 L579.14 319.47 L580 319.88 L580.86 320.24 L581.72 320.54 L582.58 320.79 L583.44 320.98 L584.3 321.11 L585.16 321.18 L586.02 321.2 L586.88 321.16 L587.74 321.06 L588.6 320.9 L589.46 320.69 L590.32 320.42 L591.18 320.09 L592.04 319.71 L592.9 319.27 L593.76 318.78 L594.62 318.23 L595.48 317.62 L596.34 316.96 L597.2 316.25 L598.06 315.49 L598.92 314.67 L599.78 313.8 L600.64 312.88 L601.5 311.92 L602.36 310.9 L603.22 309.84 L604.08 308.73 L604.95 307.57 L605.81 306.37 L606.67 305.13 L607.53 303.84 L608.39 302.52 L609.25 301.15 L610.11 299.75 L610.97 298.31 L611.83 296.83 L612.69 295.32 L613.55 293.78 L614.41 292.21 L615.27 290.6 L616.13 288.97 L616.99 287.31 L617.85 285.63 L618.71 283.92 L619.57 282.2 L620.43 280.45 L621.29 278.68 L622.15 276.9 L623.01 275.1 L623.87 273.29 L624.73 271.47 L625.59 269.64 L626.45 267.8 L627.31 265.95 L628.17 264.1 L629.03 262.25 L629.89 260.39 L630.75 258.54 L631.61 256.69 L632.47 254.85 L633.33 253.01 L634.19 251.17 L635.05 249.35 L635.91 247.54 L636.77 245.75 L637.63 243.96 L638.49 242.2 L639.35 240.45 L640.21 238.73 L641.07 237.02 L641.93 235.34 L642.79 233.68 L643.65 232.05 L644.51 230.45 L645.37 228.88 L646.23 227.34 L647.09 225.83 L647.96 224.35 L648.82 222.92 L649.68 221.51 L650.54 220.15 L651.4 218.83 L652.26 217.54 L653.12 216.3 L653.98 215.1 L654.84 213.95 L655.7 212.84 L656.56 211.78 L657.42 210.77 L658.28 209.8 L659.14 208.89 L660 208.02 L660.86 207.21 L661.72 206.45 L662.58 205.74 L663.44 205.08 L664.3 204.48 L665.16 203.93 L666.02 203.44 L666.88 203 L667.74 202.62 L668.6 202.3" fill="none" stroke="#8fa83e" stroke-width="2.2" stroke-linejoin="round" stroke-linecap="butt" />
<path d="M411.4 321.2 L412.26 321.17 L413.12 321.09 L413.98 320.94 L414.84 320.74 L415.7 320.48 L416.56 320.17 L417.42 319.8 L418.28 319.37 L419.14 318.88 L420 318.34 L420.86 317.74 L421.72 317.09 L422.58 316.38 L423.44 315.61 L424.3 314.79 L425.16 313.92 L426.02 312.99 L426.88 312.01 L427.74 310.98 L428.6 309.89 L429.46 308.75 L430.32 307.56 L431.18 306.32 L432.04 305.03 L432.91 303.68 L433.77 302.29 L434.63 300.85 L435.49 299.37 L436.35 297.83 L437.21 296.25 L438.07 294.63 L438.93 292.96 L439.79 291.24 L440.65 289.48 L441.51 287.68 L442.37 285.84 L443.23 283.96 L444.09 282.04 L444.95 280.08 L445.81 278.08 L446.67 276.04 L447.53 273.97 L448.39 271.86 L449.25 269.72 L450.11 267.55 L450.97 265.34 L451.83 263.11 L452.69 260.84 L453.55 258.54 L454.41 256.22 L455.27 253.87 L456.13 251.5 L456.99 249.1 L457.85 246.68 L458.71 244.23 L459.57 241.77 L460.43 239.28 L461.29 236.78 L462.15 234.26 L463.01 231.72 L463.87 229.17 L464.73 226.61 L465.59 224.03 L466.45 221.44 L467.31 218.84 L468.17 216.24 L469.03 213.62 L469.89 211 L470.75 208.37 L471.61 205.74 L472.47 203.11 L473.33 200.48 L474.19 197.85 L475.05 195.21 L475.92 192.58 L476.78 189.96 L477.64 187.34 L478.5 184.72 L479.36 182.11 L480.22 179.52 L481.08 176.93 L481.94 174.35 L482.8 171.78 L483.66 169.23 L484.52 166.7 L485.38 164.18 L486.24 161.67 L487.1 159.19 L487.96 156.72 L488.82 154.28 L489.68 151.86 L490.54 149.46 L491.4 147.08 L492.26 144.73 L493.12 142.41 L493.98 140.12 L494.84 137.85 L495.7 135.61 L496.56 133.41 L497.42 131.23 L498.28 129.09 L499.14 126.99 L500 124.91 L500.86 122.88 L501.72 120.88 L502.58 118.92 L503.44 117 L504.3 115.11 L505.16 113.27 L506.02 111.47 L506.88 109.71 L507.74 108 L508.6 106.33 L509.46 104.7 L510.32 103.12 L511.18 101.59 L512.04 100.1 L512.9 98.66 L513.76 97.27 L514.62 95.93 L515.48 94.63 L516.34 93.39 L517.2 92.2 L518.06 91.06 L518.93 89.98 L519.79 88.94 L520.65 87.96 L521.51 87.03 L522.37 86.16 L523.23 85.34 L524.09 84.57 L524.95 83.86 L525.81 83.21 L526.67 82.61 L527.53 82.07 L528.39 81.58 L529.25 81.15 L530.11 80.78 L530.97 80.47 L531.83 80.21 L532.69 80.01 L533.55 79.86 L534.41 79.78 L535.27 79.75 L536.13 79.78 L536.99 79.86 L537.85 80.01 L538.71 80.21 L539.57 80.46 L540.43 80.78 L541.29 81.15 L542.15 81.58 L543.01 82.07 L543.87 82.61 L544.73 83.21 L545.59 83.86 L546.45 84.57 L547.31 85.33 L548.17 86.15 L549.03 87.03 L549.89 87.95 L550.75 88.93 L551.61 89.97 L552.47 91.05 L553.33 92.19 L554.19 93.38 L555.05 94.62 L555.91 95.92 L556.77 97.26 L557.63 98.65 L558.49 100.09 L559.35 101.57 L560.21 103.11 L561.07 104.69 L561.94 106.31 L562.8 107.99 L563.66 109.7 L564.52 111.46 L565.38 113.26 L566.24 115.1 L567.1 116.98 L567.96 118.9 L568.82 120.86 L569.68 122.86 L570.54 124.9 L571.4 126.97 L572.26 129.08 L573.12 131.22 L573.98 133.39 L574.84 135.6 L575.7 137.83 L576.56 140.1 L577.42 142.39 L578.28 144.72 L579.14 147.07 L580 149.44 L580.86 151.84 L581.72 154.26 L582.58 156.71 L583.44 159.17 L584.3 161.66 L585.16 164.16 L586.02 166.68 L586.88 169.21 L587.74 171.77 L588.6 174.33 L589.46 176.91 L590.32 179.5 L591.18 182.1 L592.04 184.7 L592.9 187.32 L593.76 189.94 L594.62 192.56 L595.48 195.19 L596.34 197.83 L597.2 200.46 L598.06 203.09 L598.92 205.73 L599.78 208.36 L600.64 210.98 L601.5 213.6 L602.36 216.22 L603.22 218.82 L604.08 221.42 L604.95 224.01 L605.81 226.59 L606.67 229.15 L607.53 231.71 L608.39 234.24 L609.25 236.76 L610.11 239.27 L610.97 241.75 L611.83 244.22 L612.69 246.66 L613.55 249.08 L614.41 251.48 L615.27 253.86 L616.13 256.21 L616.99 258.53 L617.85 260.82 L618.71 263.09 L619.57 265.33 L620.43 267.53 L621.29 269.71 L622.15 271.85 L623.01 273.95 L623.87 276.03 L624.73 278.06 L625.59 280.06 L626.45 282.02 L627.31 283.95 L628.17 285.83 L629.03 287.67 L629.89 289.47 L630.75 291.23 L631.61 292.94 L632.47 294.62 L633.33 296.24 L634.19 297.82 L635.05 299.36 L635.91 300.84 L636.77 302.28 L637.63 303.68 L638.49 305.02 L639.35 306.31 L640.21 307.55 L641.07 308.74 L641.93 309.88 L642.79 310.97 L643.65 312 L644.51 312.99 L645.37 313.91 L646.23 314.79 L647.09 315.61 L647.96 316.37 L648.82 317.08 L649.68 317.74 L650.54 318.33 L651.4 318.88 L652.26 319.36 L653.12 319.79 L653.98 320.16 L654.84 320.48 L655.7 320.74 L656.56 320.94 L657.42 321.08 L658.28 321.17 L659.14 321.2 L660 321.17 L660.86 321.09 L661.72 320.94 L662.58 320.74 L663.44 320.48 L664.3 320.17 L665.16 319.8 L666.02 319.37 L666.88 318.88 L667.74 318.34 L668.6 317.74" fill="none" stroke="#c6d44c" stroke-width="2.2" stroke-linejoin="round" stroke-linecap="butt" />
<line x1="596.8" y1="55" x2="611.2" y2="55" stroke="#1f4419" stroke-width="2.2" />
<text x="612.6" y="61.9" font-family='"Liberation Sans", sans-serif' font-size="19.5">0.88</text>
<line x1="596.8" y1="78.35" x2="611.2" y2="78.35" stroke="#2f7020" stroke-width="2.2" />
<text x="612.6" y="85.25" font-family='"Liberation Sans", sans-serif' font-size="19.5">0.97</text>
<line x1="596.8" y1="101.7" x2="611.2" y2="101.7" stroke="#4e8230" stroke-width="2.2" />
<text x="612.6" y="108.6" font-family='"Liberation Sans", sans-serif' font-size="19.5">0.98</text>
<line x1="596.8" y1="125.05" x2="611.2" y2="125.05" stroke="#8fa83e" stroke-width="2.2" />
<text x="612.6" y="131.95" font-family='"Liberation Sans", sans-serif' font-size="19.5" style="font-kerning:none">0.99 </text>
<path d="M764 0H584V1147Q519 1085 413 1023Q307 961 222 931V1104Q371 1174 483 1274Q595 1374 642 1466H764Z" transform="translate(650.55,131.95) scale(0.00952,-0.00952)"/>
<line x1="596.8" y1="148.4" x2="611.2" y2="148.4" stroke="#c6d44c" stroke-width="2.2" />
<text x="612.6" y="155.3" font-family='"Liberation Sans", sans-serif' font-size="19.5">0.995</text>
<text x="405.6" y="45.8" font-family='"Liberation Sans", sans-serif' font-size="20.5" text-anchor="end">8</text>
<text x="405.6" y="115.9" font-family='"Liberation Sans", sans-serif' font-size="20.5" text-anchor="end">6</text>
<text x="405.6" y="186.4" font-family='"Liberation Sans", sans-serif' font-size="20.5" text-anchor="end">4</text>
<text x="405.6" y="257" font-family='"Liberation Sans", sans-serif' font-size="20.5" text-anchor="end">2</text>
<text x="405.6" y="322.8" font-family='"Liberation Sans", sans-serif' font-size="20.5" text-anchor="end">0</text>
<text x="416.3" y="344.2" font-family='"Liberation Sans", sans-serif' font-size="20.5" text-anchor="middle">0</text>
<text x="538" y="344.2" font-family='"Liberation Sans", sans-serif' font-size="20.5" text-anchor="middle">20</text>
<text x="663.5" y="344.2" font-family='"Liberation Sans", sans-serif' font-size="20.5" text-anchor="middle">40</text>
<text x="542.2" y="363.4" font-family='"Liberation Serif", serif' font-size="25" text-anchor="middle" textLength="29.8" lengthAdjust="spacingAndGlyphs">t/T</text>
<text transform="translate(371.9,201.8) rotate(-90)" font-family='"Liberation Serif", serif' font-size="24.8" textLength="15.5" lengthAdjust="spacingAndGlyphs">E</text>
<text transform="translate(372.93,185.2) rotate(-90)" font-family='"Liberation Serif", serif' font-size="16" textLength="18.2" lengthAdjust="spacingAndGlyphs">ph</text>
<text transform="translate(371,167.4) rotate(-90)" font-family='"Liberation Serif", serif' font-size="25.8" textLength="25.1" lengthAdjust="spacingAndGlyphs">/Ω</text>
<text x="5.6" y="391" font-family='"Liberation Sans", sans-serif' font-size="34" font-weight="bold">c</text>
<line x1="63.3" y1="387.8" x2="63.3" y2="660.8" stroke="#000" stroke-width="2" />
<line x1="321.1" y1="387.8" x2="321.1" y2="660.8" stroke="#000" stroke-width="2" />
<line x1="63.3" y1="388.8" x2="321.1" y2="388.8" stroke="#000" stroke-width="2" />
<line x1="63.3" y1="659.8" x2="321.1" y2="659.8" stroke="#000" stroke-width="2" />
<line x1="63.3" y1="551" x2="66.8" y2="551" stroke="#000" stroke-width="1.3" />
<line x1="321.1" y1="551" x2="317.6" y2="551" stroke="#000" stroke-width="1.3" />
<line x1="63.3" y1="442.2" x2="66.8" y2="442.2" stroke="#000" stroke-width="1.3" />
<line x1="321.1" y1="442.2" x2="317.6" y2="442.2" stroke="#000" stroke-width="1.3" />
<line x1="189.9" y1="388.8" x2="189.9" y2="392.3" stroke="#000" stroke-width="1.3" />
<line x1="189.9" y1="659.8" x2="189.9" y2="656.3" stroke="#000" stroke-width="1.3" />
<line x1="316.5" y1="388.8" x2="316.5" y2="392.3" stroke="#000" stroke-width="1.3" />
<line x1="316.5" y1="659.8" x2="316.5" y2="656.3" stroke="#000" stroke-width="1.3" />
<path d="M63.3 659.8 L63.95 659.8 L64.59 659.8 L65.24 659.79 L65.88 659.79 L66.53 659.78 L67.18 659.78 L67.82 659.77 L68.47 659.76 L69.12 659.75 L69.76 659.74 L70.41 659.72 L71.05 659.71 L71.7 659.69 L72.35 659.68 L72.99 659.66 L73.64 659.64 L74.28 659.62 L74.93 659.6 L75.58 659.58 L76.22 659.55 L76.87 659.53 L77.51 659.5 L78.16 659.47 L78.81 659.44 L79.45 659.41 L80.1 659.38 L80.75 659.35 L81.39 659.31 L82.04 659.28 L82.68 659.24 L83.33 659.21 L83.98 659.17 L84.62 659.13 L85.27 659.09 L85.91 659.04 L86.56 659 L87.21 658.95 L87.85 658.91 L88.5 658.86 L89.14 658.81 L89.79 658.76 L90.44 658.71 L91.08 658.66 L91.73 658.61 L92.38 658.55 L93.02 658.5 L93.67 658.44 L94.31 658.39 L94.96 658.33 L95.61 658.27 L96.25 658.21 L96.9 658.14 L97.54 658.08 L98.19 658.02 L98.84 657.95 L99.48 657.88 L100.13 657.82 L100.77 657.75 L101.42 657.68 L102.07 657.61 L102.71 657.53 L103.36 657.46 L104.01 657.39 L104.65 657.31 L105.3 657.23 L105.94 657.16 L106.59 657.08 L107.24 657 L107.88 656.92 L108.53 656.83 L109.17 656.75 L109.82 656.67 L110.47 656.58 L111.11 656.5 L111.76 656.41 L112.4 656.32 L113.05 656.23 L113.7 656.14 L114.34 656.05 L114.99 655.96 L115.64 655.87 L116.28 655.77 L116.93 655.68 L117.57 655.58 L118.22 655.48 L118.87 655.39 L119.51 655.29 L120.16 655.19 L120.8 655.09 L121.45 654.99 L122.1 654.88 L122.74 654.78 L123.39 654.67 L124.03 654.57 L124.68 654.46 L125.33 654.36 L125.97 654.25 L126.62 654.14 L127.27 654.03 L127.91 653.92 L128.56 653.81 L129.2 653.7 L129.85 653.58 L130.5 653.47 L131.14 653.35 L131.79 653.24 L132.43 653.12 L133.08 653 L133.73 652.89 L134.37 652.77 L135.02 652.65 L135.66 652.53 L136.31 652.41 L136.96 652.29 L137.6 652.16 L138.25 652.04 L138.9 651.92 L139.54 651.79 L140.19 651.67 L140.83 651.54 L141.48 651.41 L142.13 651.28 L142.77 651.16 L143.42 651.03 L144.06 650.9 L144.71 650.77 L145.36 650.64 L146 650.51 L146.65 650.37 L147.29 650.24 L147.94 650.11 L148.59 649.97 L149.23 649.84 L149.88 649.71 L150.53 649.57 L151.17 649.43 L151.82 649.3 L152.46 649.16 L153.11 649.02 L153.76 648.88 L154.4 648.74 L155.05 648.61 L155.69 648.47 L156.34 648.33 L156.99 648.18 L157.63 648.04 L158.28 647.9 L158.93 647.76 L159.57 647.62 L160.22 647.47 L160.86 647.33 L161.51 647.19 L162.16 647.04 L162.8 646.9 L163.45 646.75 L164.09 646.61 L164.74 646.46 L165.39 646.32 L166.03 646.17 L166.68 646.02 L167.32 645.88 L167.97 645.73 L168.62 645.58 L169.26 645.43 L169.91 645.28 L170.56 645.14 L171.2 644.99 L171.85 644.84 L172.49 644.69 L173.14 644.54 L173.79 644.39 L174.43 644.24 L175.08 644.09 L175.72 643.94 L176.37 643.79 L177.02 643.64 L177.66 643.49 L178.31 643.34 L178.95 643.19 L179.6 643.03 L180.25 642.88 L180.89 642.73 L181.54 642.58 L182.19 642.43 L182.83 642.28 L183.48 642.12 L184.12 641.97 L184.77 641.82 L185.42 641.67 L186.06 641.52 L186.71 641.36 L187.35 641.21 L188 641.06 L188.65 640.91 L189.29 640.76 L189.94 640.6 L190.58 640.45 L191.23 640.3 L191.88 640.15 L192.52 640 L193.17 639.84 L193.82 639.69 L194.46 639.54 L195.11 639.39 L195.75 639.24 L196.4 639.09 L197.05 638.94 L197.69 638.79 L198.34 638.64 L198.98 638.48 L199.63 638.33 L200.28 638.18 L200.92 638.03 L201.57 637.88 L202.21 637.73 L202.86 637.59 L203.51 637.44 L204.15 637.29 L204.8 637.14 L205.45 636.99 L206.09 636.84 L206.74 636.7 L207.38 636.55 L208.03 636.4 L208.68 636.25 L209.32 636.11 L209.97 635.96 L210.61 635.82 L211.26 635.67 L211.91 635.53 L212.55 635.38 L213.2 635.24 L213.84 635.09 L214.49 634.95 L215.14 634.81 L215.78 634.66 L216.43 634.52 L217.08 634.38 L217.72 634.24 L218.37 634.1 L219.01 633.96 L219.66 633.82 L220.31 633.68 L220.95 633.54 L221.6 633.4 L222.24 633.26 L222.89 633.13 L223.54 632.99 L224.18 632.85 L224.83 632.72 L225.47 632.58 L226.12 632.45 L226.77 632.32 L227.41 632.18 L228.06 632.05 L228.71 631.92 L229.35 631.79 L230 631.65 L230.64 631.52 L231.29 631.4 L231.94 631.27 L232.58 631.14 L233.23 631.01 L233.87 630.88 L234.52 630.76 L235.17 630.63 L235.81 630.51 L236.46 630.38 L237.11 630.26 L237.75 630.14 L238.4 630.02 L239.04 629.89 L239.69 629.77 L240.34 629.66 L240.98 629.54 L241.63 629.42 L242.27 629.3 L242.92 629.18 L243.57 629.07 L244.21 628.95 L244.86 628.84 L245.5 628.73 L246.15 628.62 L246.8 628.5 L247.44 628.39 L248.09 628.28 L248.74 628.17 L249.38 628.07 L250.03 627.96 L250.67 627.85 L251.32 627.75 L251.97 627.64 L252.61 627.54 L253.26 627.44 L253.9 627.34 L254.55 627.23 L255.2 627.13 L255.84 627.04 L256.49 626.94 L257.13 626.84 L257.78 626.74 L258.43 626.65 L259.07 626.56 L259.72 626.46 L260.37 626.37 L261.01 626.28 L261.66 626.19 L262.3 626.1 L262.95 626.01 L263.6 625.92 L264.24 625.84 L264.89 625.75 L265.53 625.67 L266.18 625.59 L266.83 625.5 L267.47 625.42 L268.12 625.34 L268.76 625.27 L269.41 625.19 L270.06 625.11 L270.7 625.04 L271.35 624.96 L272 624.89 L272.64 624.82 L273.29 624.74 L273.93 624.67 L274.58 624.61 L275.23 624.54 L275.87 624.47 L276.52 624.41 L277.16 624.34 L277.81 624.28 L278.46 624.21 L279.1 624.15 L279.75 624.09 L280.39 624.04 L281.04 623.98 L281.69 623.92 L282.33 623.87 L282.98 623.81 L283.63 623.76 L284.27 623.71 L284.92 623.66 L285.56 623.61 L286.21 623.56 L286.86 623.51 L287.5 623.46 L288.15 623.42 L288.79 623.38 L289.44 623.33 L290.09 623.29 L290.73 623.25 L291.38 623.21 L292.02 623.18 L292.67 623.14 L293.32 623.1 L293.96 623.07 L294.61 623.04 L295.26 623.01 L295.9 622.98 L296.55 622.95 L297.19 622.92 L297.84 622.89 L298.49 622.87 L299.13 622.84 L299.78 622.82 L300.42 622.8 L301.07 622.78 L301.72 622.76 L302.36 622.74 L303.01 622.72 L303.65 622.71 L304.3 622.69 L304.95 622.68 L305.59 622.67 L306.24 622.66 L306.89 622.65 L307.53 622.64 L308.18 622.63 L308.82 622.63 L309.47 622.62 L310.12 622.62 L310.76 622.62 L311.41 622.62 L312.05 622.62 L312.7 622.62 L313.35 622.62 L313.99 622.63 L314.64 622.63 L315.28 622.64 L315.93 622.65 L316.58 622.66 L317.22 622.67 L317.87 622.68 L318.52 622.69 L319.16 622.71 L319.81 622.72 L320.45 622.74 L321.1 622.76" fill="none" stroke="#c7d84a" stroke-width="2.2" stroke-linejoin="round" stroke-linecap="butt" />
<path d="M63.3 659.8 L63.95 659.8 L64.59 659.8 L65.24 659.79 L65.88 659.79 L66.53 659.78 L67.18 659.78 L67.82 659.77 L68.47 659.76 L69.12 659.75 L69.76 659.74 L70.41 659.72 L71.05 659.71 L71.7 659.69 L72.35 659.68 L72.99 659.66 L73.64 659.64 L74.28 659.62 L74.93 659.59 L75.58 659.57 L76.22 659.54 L76.87 659.52 L77.51 659.49 L78.16 659.46 L78.81 659.43 L79.45 659.4 L80.1 659.37 L80.75 659.34 L81.39 659.3 L82.04 659.26 L82.68 659.23 L83.33 659.19 L83.98 659.15 L84.62 659.11 L85.27 659.06 L85.91 659.02 L86.56 658.97 L87.21 658.93 L87.85 658.88 L88.5 658.83 L89.14 658.78 L89.79 658.73 L90.44 658.68 L91.08 658.62 L91.73 658.57 L92.38 658.51 L93.02 658.45 L93.67 658.39 L94.31 658.33 L94.96 658.27 L95.61 658.21 L96.25 658.14 L96.9 658.08 L97.54 658.01 L98.19 657.94 L98.84 657.87 L99.48 657.8 L100.13 657.73 L100.77 657.66 L101.42 657.58 L102.07 657.5 L102.71 657.43 L103.36 657.35 L104.01 657.27 L104.65 657.19 L105.3 657.11 L105.94 657.02 L106.59 656.94 L107.24 656.85 L107.88 656.76 L108.53 656.68 L109.17 656.59 L109.82 656.49 L110.47 656.4 L111.11 656.31 L111.76 656.21 L112.4 656.12 L113.05 656.02 L113.7 655.92 L114.34 655.82 L114.99 655.72 L115.64 655.62 L116.28 655.51 L116.93 655.41 L117.57 655.3 L118.22 655.19 L118.87 655.08 L119.51 654.97 L120.16 654.86 L120.8 654.75 L121.45 654.64 L122.1 654.52 L122.74 654.4 L123.39 654.29 L124.03 654.17 L124.68 654.05 L125.33 653.92 L125.97 653.8 L126.62 653.68 L127.27 653.55 L127.91 653.42 L128.56 653.3 L129.2 653.17 L129.85 653.04 L130.5 652.9 L131.14 652.77 L131.79 652.64 L132.43 652.5 L133.08 652.36 L133.73 652.22 L134.37 652.08 L135.02 651.94 L135.66 651.8 L136.31 651.66 L136.96 651.51 L137.6 651.37 L138.25 651.22 L138.9 651.07 L139.54 650.92 L140.19 650.77 L140.83 650.62 L141.48 650.46 L142.13 650.31 L142.77 650.15 L143.42 650 L144.06 649.84 L144.71 649.68 L145.36 649.52 L146 649.35 L146.65 649.19 L147.29 649.02 L147.94 648.86 L148.59 648.69 L149.23 648.52 L149.88 648.35 L150.53 648.18 L151.17 648.01 L151.82 647.83 L152.46 647.66 L153.11 647.48 L153.76 647.3 L154.4 647.12 L155.05 646.94 L155.69 646.76 L156.34 646.58 L156.99 646.39 L157.63 646.21 L158.28 646.02 L158.93 645.83 L159.57 645.64 L160.22 645.45 L160.86 645.26 L161.51 645.07 L162.16 644.87 L162.8 644.68 L163.45 644.48 L164.09 644.28 L164.74 644.08 L165.39 643.88 L166.03 643.68 L166.68 643.48 L167.32 643.27 L167.97 643.07 L168.62 642.86 L169.26 642.65 L169.91 642.44 L170.56 642.23 L171.2 642.02 L171.85 641.8 L172.49 641.59 L173.14 641.37 L173.79 641.16 L174.43 640.94 L175.08 640.72 L175.72 640.5 L176.37 640.27 L177.02 640.05 L177.66 639.82 L178.31 639.6 L178.95 639.37 L179.6 639.14 L180.25 638.91 L180.89 638.68 L181.54 638.45 L182.19 638.21 L182.83 637.98 L183.48 637.74 L184.12 637.5 L184.77 637.26 L185.42 637.02 L186.06 636.78 L186.71 636.54 L187.35 636.29 L188 636.05 L188.65 635.8 L189.29 635.55 L189.94 635.31 L190.58 635.05 L191.23 634.8 L191.88 634.55 L192.52 634.3 L193.17 634.04 L193.82 633.78 L194.46 633.52 L195.11 633.26 L195.75 633 L196.4 632.74 L197.05 632.48 L197.69 632.21 L198.34 631.95 L198.98 631.68 L199.63 631.41 L200.28 631.14 L200.92 630.87 L201.57 630.6 L202.21 630.33 L202.86 630.05 L203.51 629.77 L204.15 629.5 L204.8 629.22 L205.45 628.94 L206.09 628.66 L206.74 628.38 L207.38 628.09 L208.03 627.81 L208.68 627.52 L209.32 627.23 L209.97 626.94 L210.61 626.65 L211.26 626.36 L211.91 626.07 L212.55 625.78 L213.2 625.48 L213.84 625.18 L214.49 624.89 L215.14 624.59 L215.78 624.29 L216.43 623.99 L217.08 623.68 L217.72 623.38 L218.37 623.07 L219.01 622.77 L219.66 622.46 L220.31 622.15 L220.95 621.84 L221.6 621.53 L222.24 621.21 L222.89 620.9 L223.54 620.58 L224.18 620.27 L224.83 619.95 L225.47 619.63 L226.12 619.31 L226.77 618.99 L227.41 618.66 L228.06 618.34 L228.71 618.01 L229.35 617.69 L230 617.36 L230.64 617.03 L231.29 616.7 L231.94 616.36 L232.58 616.03 L233.23 615.7 L233.87 615.36 L234.52 615.02 L235.17 614.68 L235.81 614.34 L236.46 614 L237.11 613.66 L237.75 613.32 L238.4 612.97 L239.04 612.63 L239.69 612.28 L240.34 611.93 L240.98 611.58 L241.63 611.23 L242.27 610.88 L242.92 610.52 L243.57 610.17 L244.21 609.81 L244.86 609.45 L245.5 609.09 L246.15 608.73 L246.8 608.37 L247.44 608.01 L248.09 607.64 L248.74 607.28 L249.38 606.91 L250.03 606.55 L250.67 606.18 L251.32 605.81 L251.97 605.43 L252.61 605.06 L253.26 604.69 L253.9 604.31 L254.55 603.93 L255.2 603.56 L255.84 603.18 L256.49 602.8 L257.13 602.41 L257.78 602.03 L258.43 601.65 L259.07 601.26 L259.72 600.87 L260.37 600.49 L261.01 600.1 L261.66 599.7 L262.3 599.31 L262.95 598.92 L263.6 598.52 L264.24 598.13 L264.89 597.73 L265.53 597.33 L266.18 596.93 L266.83 596.53 L267.47 596.13 L268.12 595.73 L268.76 595.32 L269.41 594.91 L270.06 594.51 L270.7 594.1 L271.35 593.69 L272 593.28 L272.64 592.86 L273.29 592.45 L273.93 592.04 L274.58 591.62 L275.23 591.2 L275.87 590.78 L276.52 590.36 L277.16 589.94 L277.81 589.52 L278.46 589.09 L279.1 588.67 L279.75 588.24 L280.39 587.81 L281.04 587.39 L281.69 586.96 L282.33 586.52 L282.98 586.09 L283.63 585.66 L284.27 585.22 L284.92 584.78 L285.56 584.35 L286.21 583.91 L286.86 583.47 L287.5 583.02 L288.15 582.58 L288.79 582.14 L289.44 581.69 L290.09 581.24 L290.73 580.8 L291.38 580.35 L292.02 579.9 L292.67 579.44 L293.32 578.99 L293.96 578.54 L294.61 578.08 L295.26 577.62 L295.9 577.16 L296.55 576.7 L297.19 576.24 L297.84 575.78 L298.49 575.32 L299.13 574.85 L299.78 574.39 L300.42 573.92 L301.07 573.45 L301.72 572.98 L302.36 572.51 L303.01 572.04 L303.65 571.56 L304.3 571.09 L304.95 570.61 L305.59 570.13 L306.24 569.66 L306.89 569.18 L307.53 568.69 L308.18 568.21 L308.82 567.73 L309.47 567.24 L310.12 566.76 L310.76 566.27 L311.41 565.78 L312.05 565.29 L312.7 564.8 L313.35 564.3 L313.99 563.81 L314.64 563.31 L315.28 562.82 L315.93 562.32 L316.58 561.82 L317.22 561.32 L317.87 560.82 L318.52 560.31 L319.16 559.81 L319.81 559.3 L320.45 558.8 L321.1 558.29" fill="none" stroke="#c4875a" stroke-width="2.2" stroke-linejoin="round" stroke-linecap="butt" />
<path d="M63.3 659.8 L63.95 659.8 L64.59 659.8 L65.24 659.79 L65.88 659.79 L66.53 659.78 L67.18 659.77 L67.82 659.76 L68.47 659.75 L69.12 659.74 L69.76 659.72 L70.41 659.71 L71.05 659.69 L71.7 659.67 L72.35 659.65 L72.99 659.63 L73.64 659.61 L74.28 659.58 L74.93 659.55 L75.58 659.53 L76.22 659.5 L76.87 659.47 L77.51 659.43 L78.16 659.4 L78.81 659.36 L79.45 659.33 L80.1 659.29 L80.75 659.25 L81.39 659.2 L82.04 659.16 L82.68 659.11 L83.33 659.07 L83.98 659.02 L84.62 658.97 L85.27 658.92 L85.91 658.86 L86.56 658.81 L87.21 658.75 L87.85 658.69 L88.5 658.63 L89.14 658.57 L89.79 658.51 L90.44 658.45 L91.08 658.38 L91.73 658.31 L92.38 658.24 L93.02 658.17 L93.67 658.1 L94.31 658.02 L94.96 657.94 L95.61 657.87 L96.25 657.79 L96.9 657.7 L97.54 657.62 L98.19 657.54 L98.84 657.45 L99.48 657.36 L100.13 657.27 L100.77 657.18 L101.42 657.08 L102.07 656.99 L102.71 656.89 L103.36 656.79 L104.01 656.69 L104.65 656.58 L105.3 656.48 L105.94 656.37 L106.59 656.26 L107.24 656.15 L107.88 656.04 L108.53 655.92 L109.17 655.81 L109.82 655.69 L110.47 655.57 L111.11 655.45 L111.76 655.32 L112.4 655.19 L113.05 655.07 L113.7 654.93 L114.34 654.8 L114.99 654.67 L115.64 654.53 L116.28 654.39 L116.93 654.25 L117.57 654.11 L118.22 653.96 L118.87 653.81 L119.51 653.66 L120.16 653.51 L120.8 653.36 L121.45 653.2 L122.1 653.04 L122.74 652.88 L123.39 652.72 L124.03 652.55 L124.68 652.38 L125.33 652.21 L125.97 652.04 L126.62 651.86 L127.27 651.69 L127.91 651.51 L128.56 651.32 L129.2 651.14 L129.85 650.95 L130.5 650.76 L131.14 650.57 L131.79 650.37 L132.43 650.18 L133.08 649.98 L133.73 649.77 L134.37 649.57 L135.02 649.36 L135.66 649.15 L136.31 648.93 L136.96 648.72 L137.6 648.5 L138.25 648.28 L138.9 648.05 L139.54 647.83 L140.19 647.59 L140.83 647.36 L141.48 647.13 L142.13 646.89 L142.77 646.64 L143.42 646.4 L144.06 646.15 L144.71 645.9 L145.36 645.64 L146 645.39 L146.65 645.13 L147.29 644.86 L147.94 644.6 L148.59 644.33 L149.23 644.05 L149.88 643.78 L150.53 643.5 L151.17 643.21 L151.82 642.93 L152.46 642.64 L153.11 642.34 L153.76 642.04 L154.4 641.74 L155.05 641.44 L155.69 641.13 L156.34 640.82 L156.99 640.51 L157.63 640.19 L158.28 639.86 L158.93 639.54 L159.57 639.21 L160.22 638.87 L160.86 638.54 L161.51 638.19 L162.16 637.85 L162.8 637.5 L163.45 637.14 L164.09 636.79 L164.74 636.42 L165.39 636.06 L166.03 635.69 L166.68 635.31 L167.32 634.93 L167.97 634.55 L168.62 634.16 L169.26 633.77 L169.91 633.38 L170.56 632.97 L171.2 632.57 L171.85 632.16 L172.49 631.74 L173.14 631.33 L173.79 630.9 L174.43 630.47 L175.08 630.04 L175.72 629.6 L176.37 629.16 L177.02 628.71 L177.66 628.25 L178.31 627.8 L178.95 627.33 L179.6 626.86 L180.25 626.39 L180.89 625.91 L181.54 625.42 L182.19 624.93 L182.83 624.44 L183.48 623.94 L184.12 623.43 L184.77 622.92 L185.42 622.4 L186.06 621.88 L186.71 621.35 L187.35 620.81 L188 620.27 L188.65 619.72 L189.29 619.17 L189.94 618.61 L190.58 618.04 L191.23 617.47 L191.88 616.89 L192.52 616.31 L193.17 615.72 L193.82 615.12 L194.46 614.51 L195.11 613.9 L195.75 613.29 L196.4 612.66 L197.05 612.03 L197.69 611.39 L198.34 610.75 L198.98 610.09 L199.63 609.43 L200.28 608.77 L200.92 608.09 L201.57 607.41 L202.21 606.72 L202.86 606.03 L203.51 605.32 L204.15 604.61 L204.8 603.89 L205.45 603.17 L206.09 602.43 L206.74 601.69 L207.38 600.94 L208.03 600.18 L208.68 599.41 L209.32 598.63 L209.97 597.85 L210.61 597.06 L211.26 596.26 L211.91 595.45 L212.55 594.63 L213.2 593.8 L213.84 592.96 L214.49 592.12 L215.14 591.26 L215.78 590.4 L216.43 589.52 L217.08 588.64 L217.72 587.75 L218.37 586.84 L219.01 585.93 L219.66 585.01 L220.31 584.08 L220.95 583.13 L221.6 582.18 L222.24 581.22 L222.89 580.25 L223.54 579.26 L224.18 578.27 L224.83 577.26 L225.47 576.25 L226.12 575.22 L226.77 574.18 L227.41 573.13 L228.06 572.07 L228.71 571 L229.35 569.92 L230 568.82 L230.64 567.72 L231.29 566.6 L231.94 565.47 L232.58 564.32 L233.23 563.17 L233.87 562 L234.52 560.82 L235.17 559.62 L235.81 558.42 L236.46 557.2 L237.11 555.97 L237.75 554.72 L238.4 553.46 L239.04 552.19 L239.69 550.9 L240.34 549.6 L240.98 548.29 L241.63 546.96 L242.27 545.62 L242.92 544.26 L243.57 542.89 L244.21 541.5 L244.86 540.1 L245.5 538.69 L246.15 537.25 L246.8 535.81 L247.44 534.34 L248.09 532.87 L248.74 531.37 L249.38 529.86 L250.03 528.34 L250.67 526.79 L251.32 525.23 L251.97 523.66 L252.61 522.06 L253.26 520.45 L253.9 518.83 L254.55 517.18 L255.2 515.52 L255.84 513.84 L256.49 512.14 L257.13 510.42 L257.78 508.69 L258.43 506.93 L259.07 505.16 L259.72 503.37 L260.37 501.56 L261.01 499.73 L261.66 497.88 L262.3 496.01 L262.95 494.12 L263.6 492.21 L264.24 490.28 L264.89 488.33 L265.53 486.35 L266.18 484.36 L266.83 482.35 L267.47 480.31 L268.12 478.25 L268.76 476.17 L269.41 474.07 L270.06 471.94 L270.7 469.79 L271.35 467.62 L272 465.43 L272.64 463.21 L273.29 460.97 L273.93 458.7 L274.58 456.41 L275.23 454.1 L275.87 451.76 L276.52 449.4 L277.16 447.01 L277.81 444.59 L278.46 442.15 L279.1 439.68 L279.75 437.19 L280.39 434.67 L281.04 432.12 L281.69 429.55 L282.33 426.94 L282.98 424.31 L283.63 421.65 L284.27 418.97 L284.92 416.25 L285.56 413.51 L286.21 410.73 L286.86 407.93 L287.5 405.09 L288.15 402.23 L288.79 399.33 L289.44 396.41 L290.09 393.45 L290.73 390.46 L291.3 388.8" fill="none" stroke="#b0326f" stroke-width="2.2" stroke-linejoin="round" stroke-linecap="butt" />
<path d="M63.3 659.8 L63.95 659.8 L64.59 659.8 L65.24 659.79 L65.88 659.79 L66.53 659.78 L67.18 659.77 L67.82 659.76 L68.47 659.75 L69.12 659.73 L69.76 659.72 L70.41 659.7 L71.05 659.68 L71.7 659.66 L72.35 659.64 L72.99 659.62 L73.64 659.59 L74.28 659.56 L74.93 659.53 L75.58 659.5 L76.22 659.47 L76.87 659.44 L77.51 659.4 L78.16 659.36 L78.81 659.33 L79.45 659.28 L80.1 659.24 L80.75 659.2 L81.39 659.15 L82.04 659.1 L82.68 659.05 L83.33 659 L83.98 658.95 L84.62 658.89 L85.27 658.84 L85.91 658.78 L86.56 658.72 L87.21 658.66 L87.85 658.59 L88.5 658.53 L89.14 658.46 L89.79 658.39 L90.44 658.32 L91.08 658.24 L91.73 658.17 L92.38 658.09 L93.02 658.01 L93.67 657.93 L94.31 657.84 L94.96 657.76 L95.61 657.67 L96.25 657.58 L96.9 657.49 L97.54 657.39 L98.19 657.3 L98.84 657.2 L99.48 657.1 L100.13 657 L100.77 656.89 L101.42 656.78 L102.07 656.67 L102.71 656.56 L103.36 656.45 L104.01 656.33 L104.65 656.21 L105.3 656.09 L105.94 655.97 L106.59 655.84 L107.24 655.71 L107.88 655.58 L108.53 655.45 L109.17 655.31 L109.82 655.17 L110.47 655.03 L111.11 654.89 L111.76 654.74 L112.4 654.59 L113.05 654.44 L113.7 654.28 L114.34 654.13 L114.99 653.97 L115.64 653.8 L116.28 653.64 L116.93 653.47 L117.57 653.29 L118.22 653.12 L118.87 652.94 L119.51 652.76 L120.16 652.57 L120.8 652.39 L121.45 652.2 L122.1 652 L122.74 651.8 L123.39 651.6 L124.03 651.4 L124.68 651.19 L125.33 650.98 L125.97 650.77 L126.62 650.55 L127.27 650.33 L127.91 650.1 L128.56 649.87 L129.2 649.64 L129.85 649.4 L130.5 649.16 L131.14 648.92 L131.79 648.67 L132.43 648.42 L133.08 648.16 L133.73 647.9 L134.37 647.64 L135.02 647.37 L135.66 647.1 L136.31 646.82 L136.96 646.54 L137.6 646.25 L138.25 645.96 L138.9 645.67 L139.54 645.37 L140.19 645.07 L140.83 644.76 L141.48 644.44 L142.13 644.12 L142.77 643.8 L143.42 643.47 L144.06 643.14 L144.71 642.8 L145.36 642.46 L146 642.11 L146.65 641.75 L147.29 641.39 L147.94 641.03 L148.59 640.65 L149.23 640.28 L149.88 639.89 L150.53 639.51 L151.17 639.11 L151.82 638.71 L152.46 638.3 L153.11 637.89 L153.76 637.47 L154.4 637.05 L155.05 636.61 L155.69 636.18 L156.34 635.73 L156.99 635.28 L157.63 634.82 L158.28 634.35 L158.93 633.88 L159.57 633.4 L160.22 632.92 L160.86 632.42 L161.51 631.92 L162.16 631.41 L162.8 630.89 L163.45 630.37 L164.09 629.84 L164.74 629.3 L165.39 628.75 L166.03 628.19 L166.68 627.63 L167.32 627.05 L167.97 626.47 L168.62 625.88 L169.26 625.28 L169.91 624.67 L170.56 624.06 L171.2 623.43 L171.85 622.79 L172.49 622.15 L173.14 621.49 L173.79 620.83 L174.43 620.15 L175.08 619.47 L175.72 618.77 L176.37 618.07 L177.02 617.35 L177.66 616.63 L178.31 615.89 L178.95 615.14 L179.6 614.38 L180.25 613.61 L180.89 612.83 L181.54 612.04 L182.19 611.23 L182.83 610.42 L183.48 609.59 L184.12 608.75 L184.77 607.89 L185.42 607.03 L186.06 606.15 L186.71 605.26 L187.35 604.35 L188 603.43 L188.65 602.5 L189.29 601.55 L189.94 600.59 L190.58 599.62 L191.23 598.63 L191.88 597.63 L192.52 596.61 L193.17 595.58 L193.82 594.53 L194.46 593.47 L195.11 592.39 L195.75 591.29 L196.4 590.18 L197.05 589.06 L197.69 587.91 L198.34 586.75 L198.98 585.57 L199.63 584.38 L200.28 583.17 L200.92 581.93 L201.57 580.69 L202.21 579.42 L202.86 578.13 L203.51 576.83 L204.15 575.5 L204.8 574.16 L205.45 572.8 L206.09 571.42 L206.74 570.01 L207.38 568.59 L208.03 567.14 L208.68 565.68 L209.32 564.19 L209.97 562.68 L210.61 561.15 L211.26 559.59 L211.91 558.02 L212.55 556.42 L213.2 554.79 L213.84 553.14 L214.49 551.47 L215.14 549.78 L215.78 548.05 L216.43 546.31 L217.08 544.54 L217.72 542.74 L218.37 540.91 L219.01 539.06 L219.66 537.18 L220.31 535.28 L220.95 533.34 L221.6 531.38 L222.24 529.39 L222.89 527.37 L223.54 525.32 L224.18 523.24 L224.83 521.13 L225.47 518.99 L226.12 516.81 L226.77 514.61 L227.41 512.37 L228.06 510.1 L228.71 507.8 L229.35 505.46 L230 503.09 L230.64 500.68 L231.29 498.24 L231.94 495.76 L232.58 493.25 L233.23 490.7 L233.87 488.11 L234.52 485.48 L235.17 482.82 L235.81 480.11 L236.46 477.37 L237.11 474.59 L237.75 471.76 L238.4 468.9 L239.04 465.99 L239.69 463.04 L240.34 460.05 L240.98 457.01 L241.63 453.93 L242.27 450.8 L242.92 447.63 L243.57 444.41 L244.21 441.14 L244.86 437.82 L245.5 434.46 L246.15 431.05 L246.8 427.59 L247.44 424.07 L248.09 420.51 L248.74 416.89 L249.38 413.22 L250.03 409.5 L250.67 405.72 L251.32 401.88 L251.97 397.99 L252.61 394.05 L253.26 390.04 L253.62 388.8" fill="none" stroke="#a3309f" stroke-width="2.2" stroke-linejoin="round" stroke-linecap="butt" />
<path d="M63.3 659.8 L63.95 659.8 L64.59 659.8 L65.24 659.79 L65.88 659.79 L66.53 659.78 L67.18 659.77 L67.82 659.76 L68.47 659.75 L69.12 659.74 L69.76 659.73 L70.41 659.71 L71.05 659.7 L71.7 659.68 L72.35 659.66 L72.99 659.64 L73.64 659.61 L74.28 659.59 L74.93 659.56 L75.58 659.54 L76.22 659.51 L76.87 659.48 L77.51 659.45 L78.16 659.41 L78.81 659.38 L79.45 659.34 L80.1 659.3 L80.75 659.26 L81.39 659.22 L82.04 659.18 L82.68 659.13 L83.33 659.09 L83.98 659.04 L84.62 658.99 L85.27 658.94 L85.91 658.89 L86.56 658.83 L87.21 658.77 L87.85 658.71 L88.5 658.65 L89.14 658.59 L89.79 658.53 L90.44 658.46 L91.08 658.39 L91.73 658.32 L92.38 658.25 L93.02 658.18 L93.67 658.1 L94.31 658.03 L94.96 657.95 L95.61 657.87 L96.25 657.78 L96.9 657.7 L97.54 657.61 L98.19 657.52 L98.84 657.42 L99.48 657.33 L100.13 657.23 L100.77 657.13 L101.42 657.03 L102.07 656.93 L102.71 656.82 L103.36 656.71 L104.01 656.6 L104.65 656.49 L105.3 656.37 L105.94 656.25 L106.59 656.13 L107.24 656 L107.88 655.88 L108.53 655.75 L109.17 655.61 L109.82 655.48 L110.47 655.34 L111.11 655.2 L111.76 655.05 L112.4 654.91 L113.05 654.75 L113.7 654.6 L114.34 654.44 L114.99 654.28 L115.64 654.12 L116.28 653.95 L116.93 653.78 L117.57 653.61 L118.22 653.43 L118.87 653.25 L119.51 653.06 L120.16 652.88 L120.8 652.68 L121.45 652.49 L122.1 652.29 L122.74 652.08 L123.39 651.88 L124.03 651.66 L124.68 651.45 L125.33 651.23 L125.97 651 L126.62 650.77 L127.27 650.54 L127.91 650.3 L128.56 650.06 L129.2 649.81 L129.85 649.55 L130.5 649.3 L131.14 649.03 L131.79 648.77 L132.43 648.49 L133.08 648.21 L133.73 647.93 L134.37 647.64 L135.02 647.35 L135.66 647.05 L136.31 646.74 L136.96 646.43 L137.6 646.11 L138.25 645.79 L138.9 645.45 L139.54 645.12 L140.19 644.77 L140.83 644.43 L141.48 644.07 L142.13 643.71 L142.77 643.34 L143.42 642.96 L144.06 642.57 L144.71 642.18 L145.36 641.78 L146 641.38 L146.65 640.96 L147.29 640.54 L147.94 640.11 L148.59 639.67 L149.23 639.23 L149.88 638.77 L150.53 638.31 L151.17 637.84 L151.82 637.35 L152.46 636.86 L153.11 636.37 L153.76 635.86 L154.4 635.34 L155.05 634.81 L155.69 634.27 L156.34 633.72 L156.99 633.17 L157.63 632.6 L158.28 632.02 L158.93 631.43 L159.57 630.83 L160.22 630.21 L160.86 629.59 L161.51 628.95 L162.16 628.3 L162.8 627.64 L163.45 626.97 L164.09 626.29 L164.74 625.59 L165.39 624.88 L166.03 624.15 L166.68 623.42 L167.32 622.67 L167.97 621.9 L168.62 621.12 L169.26 620.33 L169.91 619.52 L170.56 618.69 L171.2 617.85 L171.85 617 L172.49 616.13 L173.14 615.24 L173.79 614.33 L174.43 613.41 L175.08 612.47 L175.72 611.52 L176.37 610.54 L177.02 609.55 L177.66 608.54 L178.31 607.51 L178.95 606.46 L179.6 605.4 L180.25 604.31 L180.89 603.2 L181.54 602.07 L182.19 600.92 L182.83 599.75 L183.48 598.56 L184.12 597.34 L184.77 596.1 L185.42 594.84 L186.06 593.56 L186.71 592.25 L187.35 590.92 L188 589.56 L188.65 588.18 L189.29 586.77 L189.94 585.33 L190.58 583.87 L191.23 582.38 L191.88 580.87 L192.52 579.32 L193.17 577.75 L193.82 576.15 L194.46 574.51 L195.11 572.85 L195.75 571.16 L196.4 569.43 L197.05 567.67 L197.69 565.88 L198.34 564.06 L198.98 562.2 L199.63 560.31 L200.28 558.38 L200.92 556.42 L201.57 554.42 L202.21 552.38 L202.86 550.31 L203.51 548.19 L204.15 546.04 L204.8 543.85 L205.45 541.61 L206.09 539.34 L206.74 537.02 L207.38 534.66 L208.03 532.25 L208.68 529.8 L209.32 527.31 L209.97 524.77 L210.61 522.18 L211.26 519.54 L211.91 516.86 L212.55 514.12 L213.2 511.33 L213.84 508.49 L214.49 505.6 L215.14 502.66 L215.78 499.66 L216.43 496.6 L217.08 493.49 L217.72 490.32 L218.37 487.09 L219.01 483.8 L219.66 480.45 L220.31 477.04 L220.95 473.56 L221.6 470.02 L222.24 466.41 L222.89 462.74 L223.54 458.99 L224.18 455.18 L224.83 451.3 L225.47 447.34 L226.12 443.31 L226.77 439.21 L227.41 435.03 L228.06 430.77 L228.71 426.44 L229.35 422.02 L230 417.52 L230.64 412.93 L231.29 408.27 L231.94 403.51 L232.58 398.67 L233.23 393.73 L233.87 388.71 L233.99 388.8" fill="none" stroke="#8726ac" stroke-width="2.2" stroke-linejoin="round" stroke-linecap="butt" />
<path d="M63.3 659.8 L63.95 659.8 L64.59 659.8 L65.24 659.79 L65.88 659.79 L66.53 659.78 L67.18 659.78 L67.82 659.77 L68.47 659.76 L69.12 659.75 L69.76 659.74 L70.41 659.72 L71.05 659.71 L71.7 659.69 L72.35 659.68 L72.99 659.66 L73.64 659.64 L74.28 659.62 L74.93 659.59 L75.58 659.57 L76.22 659.55 L76.87 659.52 L77.51 659.49 L78.16 659.46 L78.81 659.43 L79.45 659.4 L80.1 659.36 L80.75 659.33 L81.39 659.29 L82.04 659.25 L82.68 659.22 L83.33 659.17 L83.98 659.13 L84.62 659.09 L85.27 659.04 L85.91 658.99 L86.56 658.94 L87.21 658.89 L87.85 658.84 L88.5 658.79 L89.14 658.73 L89.79 658.67 L90.44 658.61 L91.08 658.55 L91.73 658.49 L92.38 658.43 L93.02 658.36 L93.67 658.29 L94.31 658.22 L94.96 658.15 L95.61 658.07 L96.25 658 L96.9 657.92 L97.54 657.84 L98.19 657.75 L98.84 657.67 L99.48 657.58 L100.13 657.49 L100.77 657.4 L101.42 657.3 L102.07 657.21 L102.71 657.11 L103.36 657 L104.01 656.9 L104.65 656.79 L105.3 656.68 L105.94 656.57 L106.59 656.45 L107.24 656.33 L107.88 656.21 L108.53 656.09 L109.17 655.96 L109.82 655.83 L110.47 655.7 L111.11 655.56 L111.76 655.42 L112.4 655.28 L113.05 655.13 L113.7 654.98 L114.34 654.83 L114.99 654.67 L115.64 654.51 L116.28 654.35 L116.93 654.18 L117.57 654.01 L118.22 653.83 L118.87 653.65 L119.51 653.47 L120.16 653.28 L120.8 653.09 L121.45 652.89 L122.1 652.69 L122.74 652.48 L123.39 652.27 L124.03 652.05 L124.68 651.83 L125.33 651.61 L125.97 651.38 L126.62 651.14 L127.27 650.9 L127.91 650.65 L128.56 650.4 L129.2 650.14 L129.85 649.88 L130.5 649.61 L131.14 649.33 L131.79 649.05 L132.43 648.76 L133.08 648.47 L133.73 648.17 L134.37 647.86 L135.02 647.54 L135.66 647.22 L136.31 646.89 L136.96 646.56 L137.6 646.21 L138.25 645.86 L138.9 645.5 L139.54 645.14 L140.19 644.76 L140.83 644.38 L141.48 643.98 L142.13 643.58 L142.77 643.17 L143.42 642.76 L144.06 642.33 L144.71 641.89 L145.36 641.44 L146 640.99 L146.65 640.52 L147.29 640.04 L147.94 639.55 L148.59 639.05 L149.23 638.54 L149.88 638.02 L150.53 637.49 L151.17 636.95 L151.82 636.39 L152.46 635.82 L153.11 635.24 L153.76 634.65 L154.4 634.04 L155.05 633.42 L155.69 632.79 L156.34 632.14 L156.99 631.48 L157.63 630.8 L158.28 630.11 L158.93 629.4 L159.57 628.68 L160.22 627.94 L160.86 627.19 L161.51 626.42 L162.16 625.63 L162.8 624.82 L163.45 624 L164.09 623.16 L164.74 622.3 L165.39 621.42 L166.03 620.52 L166.68 619.61 L167.32 618.67 L167.97 617.71 L168.62 616.73 L169.26 615.73 L169.91 614.71 L170.56 613.66 L171.2 612.6 L171.85 611.5 L172.49 610.39 L173.14 609.25 L173.79 608.08 L174.43 606.89 L175.08 605.68 L175.72 604.44 L176.37 603.16 L177.02 601.87 L177.66 600.54 L178.31 599.18 L178.95 597.8 L179.6 596.38 L180.25 594.94 L180.89 593.46 L181.54 591.95 L182.19 590.4 L182.83 588.82 L183.48 587.21 L184.12 585.56 L184.77 583.88 L185.42 582.16 L186.06 580.4 L186.71 578.6 L187.35 576.77 L188 574.89 L188.65 572.97 L189.29 571.01 L189.94 569.01 L190.58 566.96 L191.23 564.87 L191.88 562.73 L192.52 560.54 L193.17 558.31 L193.82 556.03 L194.46 553.7 L195.11 551.32 L195.75 548.88 L196.4 546.39 L197.05 543.85 L197.69 541.25 L198.34 538.6 L198.98 535.88 L199.63 533.11 L200.28 530.28 L200.92 527.38 L201.57 524.42 L202.21 521.4 L202.86 518.31 L203.51 515.15 L204.15 511.92 L204.8 508.62 L205.45 505.25 L206.09 501.81 L206.74 498.29 L207.38 494.69 L208.03 491.01 L208.68 487.26 L209.32 483.42 L209.97 479.5 L210.61 475.49 L211.26 471.39 L211.91 467.2 L212.55 462.93 L213.2 458.55 L213.84 454.09 L214.49 449.52 L215.14 444.85 L215.78 440.09 L216.43 435.21 L217.08 430.23 L217.72 425.15 L218.37 419.95 L219.01 414.63 L219.66 409.2 L220.31 403.65 L220.95 397.98 L221.6 392.19 L222.08 388.8" fill="none" stroke="#6a1aa6" stroke-width="2.2" stroke-linejoin="round" stroke-linecap="butt" />
<line x1="70.2" y1="410.6" x2="88" y2="410.6" stroke="#c7d84a" stroke-width="2.2" />
<text x="93.4" y="417.7" font-family='"Liberation Sans", sans-serif' font-size="20">0.995</text>
<line x1="70.2" y1="438.25" x2="88" y2="438.25" stroke="#c4875a" stroke-width="2.2" />
<text x="93.4" y="445.35" font-family='"Liberation Sans", sans-serif' font-size="20" style="font-kerning:none"> </text>
<path d="M764 0H584V1147Q519 1085 413 1023Q307 961 222 931V1104Q371 1174 483 1274Q595 1374 642 1466H764Z" transform="translate(93.4,445.35) scale(0.00977,-0.00977)"/>
<line x1="70.2" y1="465.9" x2="88" y2="465.9" stroke="#b0326f" stroke-width="2.2" />
<text x="93.4" y="473" font-family='"Liberation Sans", sans-serif' font-size="20" style="font-kerning:none"> .0 </text>
<path d="M764 0H584V1147Q519 1085 413 1023Q307 961 222 931V1104Q371 1174 483 1274Q595 1374 642 1466H764Z" transform="translate(93.4,473) scale(0.00977,-0.00977)"/>
<path d="M764 0H584V1147Q519 1085 413 1023Q307 961 222 931V1104Q371 1174 483 1274Q595 1374 642 1466H764Z" transform="translate(121.2,473) scale(0.00977,-0.00977)"/>
<line x1="70.2" y1="493.55" x2="88" y2="493.55" stroke="#a3309f" stroke-width="2.2" />
<text x="93.4" y="500.65" font-family='"Liberation Sans", sans-serif' font-size="20" style="font-kerning:none"> .02</text>
<path d="M764 0H584V1147Q519 1085 413 1023Q307 961 222 931V1104Q371 1174 483 1274Q595 1374 642 1466H764Z" transform="translate(93.4,500.65) scale(0.00977,-0.00977)"/>
<line x1="70.2" y1="521.2" x2="88" y2="521.2" stroke="#8726ac" stroke-width="2.2" />
<text x="93.4" y="528.3" font-family='"Liberation Sans", sans-serif' font-size="20" style="font-kerning:none"> .03</text>
<path d="M764 0H584V1147Q519 1085 413 1023Q307 961 222 931V1104Q371 1174 483 1274Q595 1374 642 1466H764Z" transform="translate(93.4,528.3) scale(0.00977,-0.00977)"/>
<line x1="70.2" y1="548.85" x2="88" y2="548.85" stroke="#6a1aa6" stroke-width="2.2" />
<text x="93.4" y="555.95" font-family='"Liberation Sans", sans-serif' font-size="20" style="font-kerning:none"> .04</text>
<path d="M764 0H584V1147Q519 1085 413 1023Q307 961 222 931V1104Q371 1174 483 1274Q595 1374 642 1466H764Z" transform="translate(93.4,555.95) scale(0.00977,-0.00977)"/>
<text x="55.6" y="452.3" font-family='"Liberation Sans", sans-serif' font-size="20.5" text-anchor="end">40</text>
<text x="55.6" y="561.2" font-family='"Liberation Sans", sans-serif' font-size="20.5" text-anchor="end">20</text>
<text x="55.6" y="664" font-family='"Liberation Sans", sans-serif' font-size="20.5" text-anchor="end">0</text>
<text x="67.8" y="682.6" font-family='"Liberation Sans", sans-serif' font-size="20.5" text-anchor="middle">0</text>
<text x="179.6" y="683.6" font-family='"Liberation Sans", sans-serif' font-size="20.5" style="font-kerning:none"> 0</text>
<path d="M764 0H584V1147Q519 1085 413 1023Q307 961 222 931V1104Q371 1174 483 1274Q595 1374 642 1466H764Z" transform="translate(179.6,683.6) scale(0.01001,-0.01001)"/>
<text x="314.7" y="683.6" font-family='"Liberation Sans", sans-serif' font-size="20.5" text-anchor="middle">20</text>
<text x="192.9" y="704.9" font-family='"Liberation Serif", serif' font-size="25" text-anchor="middle" textLength="29.8" lengthAdjust="spacingAndGlyphs">t/T</text>
<text transform="translate(21.9,561.8) rotate(-90)" font-family='"Liberation Serif", serif' font-size="24.8" textLength="15.5" lengthAdjust="spacingAndGlyphs">E</text>
<text transform="translate(22.93,546) rotate(-90)" font-family='"Liberation Serif", serif' font-size="16" textLength="19.1" lengthAdjust="spacingAndGlyphs">ph</text>
<text transform="translate(21.1,526.8) rotate(-90)" font-family='"Liberation Serif", serif' font-size="25.8" textLength="24.6" lengthAdjust="spacingAndGlyphs">/Ω</text>
<text x="352.3" y="391" font-family='"Liberation Sans", sans-serif' font-size="34" font-weight="bold">d</text>
<line x1="467.5" y1="387.8" x2="467.5" y2="659.9" stroke="#444" stroke-width="1" />
<line x1="523" y1="387.8" x2="523" y2="659.9" stroke="#444" stroke-width="1" />
<line x1="578.5" y1="387.8" x2="578.5" y2="659.9" stroke="#444" stroke-width="1" />
<line x1="634" y1="387.8" x2="634" y2="659.9" stroke="#444" stroke-width="1" />
<line x1="412" y1="605.48" x2="669.8" y2="605.48" stroke="#444" stroke-width="1" />
<line x1="412" y1="551.06" x2="669.8" y2="551.06" stroke="#444" stroke-width="1" />
<line x1="412" y1="496.64" x2="669.8" y2="496.64" stroke="#444" stroke-width="1" />
<line x1="412" y1="442.22" x2="669.8" y2="442.22" stroke="#444" stroke-width="1" />
<line x1="412" y1="386.8" x2="412" y2="660.9" stroke="#000" stroke-width="2" />
<line x1="669.8" y1="386.8" x2="669.8" y2="660.9" stroke="#000" stroke-width="2" />
<line x1="412" y1="387.8" x2="669.8" y2="387.8" stroke="#000" stroke-width="2" />
<line x1="412" y1="659.9" x2="669.8" y2="659.9" stroke="#000" stroke-width="2" />
<line x1="412" y1="605.48" x2="415.5" y2="605.48" stroke="#000" stroke-width="1.3" />
<line x1="669.8" y1="605.48" x2="666.3" y2="605.48" stroke="#000" stroke-width="1.3" />
<line x1="412" y1="551.06" x2="415.5" y2="551.06" stroke="#000" stroke-width="1.3" />
<line x1="669.8" y1="551.06" x2="666.3" y2="551.06" stroke="#000" stroke-width="1.3" />
<line x1="412" y1="496.64" x2="415.5" y2="496.64" stroke="#000" stroke-width="1.3" />
<line x1="669.8" y1="496.64" x2="666.3" y2="496.64" stroke="#000" stroke-width="1.3" />
<line x1="412" y1="442.22" x2="415.5" y2="442.22" stroke="#000" stroke-width="1.3" />
<line x1="669.8" y1="442.22" x2="666.3" y2="442.22" stroke="#000" stroke-width="1.3" />
<line x1="467.5" y1="387.8" x2="467.5" y2="391.3" stroke="#000" stroke-width="1.3" />
<line x1="467.5" y1="659.9" x2="467.5" y2="656.4" stroke="#000" stroke-width="1.3" />
<line x1="523" y1="387.8" x2="523" y2="391.3" stroke="#000" stroke-width="1.3" />
<line x1="523" y1="659.9" x2="523" y2="656.4" stroke="#000" stroke-width="1.3" />
<line x1="578.5" y1="387.8" x2="578.5" y2="391.3" stroke="#000" stroke-width="1.3" />
<line x1="578.5" y1="659.9" x2="578.5" y2="656.4" stroke="#000" stroke-width="1.3" />
<line x1="634" y1="387.8" x2="634" y2="391.3" stroke="#000" stroke-width="1.3" />
<line x1="634" y1="659.9" x2="634" y2="656.4" stroke="#000" stroke-width="1.3" />
<polyline points="412.0,387.8 413.7,387.9 415.4,388.1 417.2,388.4 418.9,388.9 420.6,389.4 422.3,390.2 424.0,391.0 425.7,392.0 427.4,393.1 429.1,394.4 430.7,395.8 432.4,397.3 434.1,399.0 435.8,400.9 437.4,402.8 439.1,405.0 440.7,407.2 442.4,409.6 444.0,412.2 445.7,414.9 447.3,417.7 448.9,420.6 450.6,423.7 452.2,427.0 453.8,430.3 455.4,433.8 457.0,437.4 458.6,441.2 460.2,445.0 461.8,449.0 463.4,453.0 465.0,457.2 466.6,461.5 468.2,465.8 469.7,470.2 471.3,474.7 472.9,479.2 474.4,483.8 476.0,488.4 477.5,493.0 479.1,497.7 480.6,502.3 482.2,507.0 483.7,511.6 485.2,516.2 486.7,520.8 488.3,525.3 489.8,529.7 491.3,534.0 492.8,538.3 494.3,542.4 495.8,546.3 497.3,550.2 498.7,553.8 500.2,557.3 501.7,560.6 503.2,563.7 504.6,566.6 506.1,569.3 507.5,571.8 509.0,574.0 510.4,576.0 511.9,577.9 513.3,579.5 514.7,580.9 516.2,582.1 517.6,583.2 519.0,584.1 520.4,584.9 521.8,585.5 523.2,586.1 524.6,586.6 526.0,586.9 527.4,587.3 528.8,587.5 530.1,587.8 531.5,588.0 532.9,588.1 534.2,588.2 535.6,588.4 536.9,588.4 538.3,588.5 539.6,588.6 541.0,588.7 542.3,588.8 543.6,588.9 544.9,589.0 546.2,589.1 547.6,589.6 548.9,590.5 550.2,591.8 551.5,593.5 552.7,595.4 554.0,597.4 555.3,599.5 556.6,601.6 557.8,603.7 559.1,605.8 560.4,607.7 561.6,609.3 562.8,610.8 564.1,612.2 565.3,613.4 566.6,614.5 567.8,615.2 569.0,615.7 570.2,616.1 571.4,616.5 572.6,616.8 573.8,617.0 575.0,617.2 576.2,617.3 577.4,617.4 578.5,617.5 579.7,617.5 580.9,617.6 582.0,617.7 583.2,618.0 584.3,618.3 585.5,618.7 586.6,619.2 587.7,619.8 588.8,620.6 590.0,621.6 591.1,622.7 592.2,623.9 593.3,625.1 594.4,626.2 595.5,627.0 596.5,627.6 597.6,628.0 598.7,628.3 599.7,628.5 600.8,628.8 601.9,629.0 602.9,629.3 603.9,629.5 605.0,629.8 606.0,630.2 607.0,630.7 608.0,631.4 609.0,632.3 610.0,633.2 611.0,634.1 612.0,634.9 613.0,635.5 614.0,635.9 615.0,636.3 615.9,636.6 616.9,636.8 617.8,637.1 618.8,637.3 619.7,637.6 620.7,637.9 621.6,638.2 622.5,638.6 623.4,639.0 624.3,639.4 625.2,639.8 626.1,640.2 627.0,640.6 627.9,640.9 628.7,641.3 629.6,641.7 630.5,642.1 631.3,642.4 632.2,642.8 633.0,643.1 633.8,643.5 634.7,643.8 635.5,644.1 636.3,644.4 637.1,644.6 637.9,644.9 638.7,645.1 639.4,645.3 640.2,645.6 641.0,645.8 641.7,646.0 642.5,646.3 643.2,646.5 644.0,646.8 644.7,647.0 645.4,647.3 646.1,647.6 646.8,647.8 647.5,648.1 648.2,648.4 648.9,648.7 649.6,648.9 650.2,649.2 650.9,649.4 651.5,649.7 652.2,649.9 652.8,650.2 653.4,650.4 654.0,650.7 654.6,651.0 655.2,651.2 655.8,651.5 656.4,651.7 657.0,652.0 657.5,652.2 658.1,652.5 658.6,652.7 659.1,653.0 659.7,653.2 660.2,653.5 660.7,653.7 661.2,653.9 661.6,654.2 662.1,654.4 662.6,654.6 663.0,654.9 663.5,655.1 663.9,655.4 664.3,655.6 664.7,655.8 665.1,656.1 665.5,656.3 665.9,656.6 666.2,656.8 666.6,657.1 666.9,657.3 667.2,657.5 667.6,657.7 667.8,658.0 668.1,658.2 668.4,658.3 668.6,658.5 668.9,658.7 669.1,658.8 669.3,658.9 669.5,659.0 669.6,659.1 669.8,659.2 669.9,659.2 670.0,659.3 670.0,659.9" fill="none" stroke="#000000" stroke-width="1.7" stroke-linejoin="round"/>
<polyline points="412.0,388.1 413.7,388.2 415.4,388.4 417.2,388.7 418.9,389.1 420.6,389.7 422.3,390.5 424.0,391.3 425.7,392.3 427.4,393.4 429.1,394.7 430.7,396.1 432.4,397.6 434.1,399.3 435.8,401.2 437.4,403.1 439.1,405.2 440.7,407.5 442.4,409.9 444.0,412.5 445.7,415.1 447.3,418.0 448.9,420.9 450.6,424.0 452.2,427.3 453.8,430.6 455.4,434.1 457.0,437.7 458.6,441.5 460.2,445.3 461.8,449.3 463.4,453.3 465.0,457.5 466.6,461.7 468.2,466.0 469.7,470.4 471.3,474.9 472.9,479.4 474.4,484.0 476.0,488.6 477.5,493.2 479.1,497.9 480.6,502.5 482.2,507.2 483.7,511.8 485.2,516.4 486.7,521.0 488.3,525.4 489.8,529.9 491.3,534.2 492.8,538.4 494.3,542.5 495.8,546.5 497.3,550.3 498.7,553.9 500.2,557.4 501.7,560.7 503.2,563.8 504.6,566.7 506.1,569.4 507.5,571.8 509.0,574.1 510.4,576.1 511.9,577.9 513.3,579.5 514.7,580.9 516.2,582.2 517.6,583.2 519.0,584.1 520.4,584.9 521.8,585.5 523.2,586.1 524.6,586.6 526.0,587.0 527.4,587.3 528.8,587.6 530.1,587.8 531.5,588.0 532.9,588.1 534.2,588.2 535.6,588.4 536.9,588.4 538.3,588.5 539.6,588.6 541.0,588.7 542.3,588.8 543.6,588.9 544.9,589.0 546.2,589.1 547.6,589.6 548.9,590.5 550.2,591.8 551.5,593.5 552.7,595.4 554.0,597.4 555.3,599.5 556.6,601.6 557.8,603.7 559.1,605.8 560.4,607.6 561.6,609.3 562.8,610.8 564.1,612.2 565.3,613.4 566.6,614.4 567.8,615.2 569.0,615.7 570.2,616.1 571.4,616.5 572.6,616.8 573.8,617.0 575.0,617.2 576.2,617.3 577.4,617.4 578.5,617.5 579.7,617.5 580.9,617.6 582.0,617.7 583.2,617.9 584.3,618.3 585.5,618.7 586.6,619.2 587.7,619.8 588.8,620.6 590.0,621.6 591.1,622.7 592.2,623.9 593.3,625.1 594.4,626.1 595.5,627.0 596.5,627.6 597.6,628.0 598.7,628.3 599.7,628.5 600.8,628.8 601.9,629.0 602.9,629.3 603.9,629.5 605.0,629.8 606.0,630.2 607.0,630.7 608.0,631.4 609.0,632.3 610.0,633.2 611.0,634.1 612.0,634.9 613.0,635.5 614.0,635.9 615.0,636.3 615.9,636.6 616.9,636.8 617.8,637.1 618.8,637.3 619.7,637.6 620.7,637.9 621.6,638.2 622.5,638.6 623.4,639.0 624.3,639.4 625.2,639.8 626.1,640.2 627.0,640.6 627.9,640.9 628.7,641.3 629.6,641.7 630.5,642.1 631.3,642.4 632.2,642.8 633.0,643.1 633.8,643.5 634.7,643.8 635.5,644.1 636.3,644.4 637.1,644.6 637.9,644.9 638.7,645.1 639.4,645.3 640.2,645.6 641.0,645.8 641.7,646.0 642.5,646.3 643.2,646.5 644.0,646.8 644.7,647.0 645.4,647.3 646.1,647.6 646.8,647.8 647.5,648.1 648.2,648.4 648.9,648.7 649.6,648.9 650.2,649.2 650.9,649.4 651.5,649.7 652.2,649.9 652.8,650.2 653.4,650.4 654.0,650.7 654.6,651.0 655.2,651.2 655.8,651.5 656.4,651.7 657.0,652.0 657.5,652.2 658.1,652.5 658.6,652.7 659.1,653.0 659.7,653.2 660.2,653.5 660.7,653.7 661.2,653.9 661.6,654.2 662.1,654.4 662.6,654.6 663.0,654.9 663.5,655.1 663.9,655.4 664.3,655.6 664.7,655.8 665.1,656.1 665.5,656.3 665.9,656.6 666.2,656.8 666.6,657.1 666.9,657.3 667.2,657.5 667.6,657.7 667.8,658.0 668.1,658.2 668.4,658.3 668.6,658.5 668.9,658.7 669.1,658.8 669.3,658.9 669.5,659.0 669.6,659.1 669.8,659.2 669.9,659.2 670.0,659.3 670.0,659.9" fill="none" stroke="#000000" stroke-width="1.7" stroke-linejoin="round"/>
<polyline points="412.0,388.1 413.7,388.2 415.4,388.4 417.2,388.7 418.9,389.1 420.6,389.7 422.3,390.5 424.0,391.3 425.7,392.3 427.4,393.4 429.1,394.7 430.7,396.1 432.4,397.6 434.1,399.3 435.8,401.2 437.4,403.1 439.1,405.2 440.7,407.5 442.4,409.9 444.0,412.5 445.7,415.1 447.3,418.0 448.9,420.9 450.6,424.0 452.2,427.3 453.8,430.6 455.4,434.1 457.0,437.7 458.6,441.5 460.2,445.3 461.8,449.3 463.4,453.3 465.0,457.5 466.6,461.7 468.2,466.0 469.7,470.4 471.3,474.9 472.9,479.4 474.4,484.0 476.0,488.6 477.5,493.2 479.1,497.9 480.6,502.6 482.2,507.2 483.7,511.8 485.2,516.4 486.7,521.0 488.3,525.5 489.8,529.9 491.3,534.2 492.8,538.4 494.3,542.5 495.8,546.5 497.3,550.3 498.7,553.9 500.2,557.4 501.7,560.7 503.2,563.8 504.6,566.7 506.1,569.4 507.5,571.8 509.0,574.1 510.4,576.1 511.9,577.9 513.3,579.5 514.7,580.9 516.2,582.2 517.6,583.2 519.0,584.1 520.4,584.9 521.8,585.5 523.2,586.1 524.6,586.6 526.0,587.0 527.4,587.3 528.8,587.6 530.1,587.8 531.5,588.0 532.9,588.1 534.2,588.2 535.6,588.4 536.9,588.5 538.3,588.5 539.6,588.6 541.0,588.7 542.3,588.8 543.6,588.9 544.9,589.0 546.2,589.1 547.6,589.6 548.9,590.4 550.2,591.8 551.5,593.5 552.7,595.4 554.0,597.4 555.3,599.5 556.6,601.6 557.8,603.7 559.1,605.8 560.4,607.6 561.6,609.3 562.8,610.8 564.1,612.2 565.3,613.4 566.6,614.4 567.8,615.2 569.0,615.7 570.2,616.1 571.4,616.5 572.6,616.8 573.8,617.0 575.0,617.2 576.2,617.3 577.4,617.4 578.5,617.5 579.7,617.5 580.9,617.6 582.0,617.7 583.2,617.9 584.3,618.3 585.5,618.7 586.6,619.2 587.7,619.8 588.8,620.6 590.0,621.6 591.1,622.7 592.2,623.9 593.3,625.1 594.4,626.1 595.5,627.0 596.5,627.6 597.6,628.0 598.7,628.3 599.7,628.5 600.8,628.8 601.9,629.0 602.9,629.3 603.9,629.5 605.0,629.8 606.0,630.2 607.0,630.7 608.0,631.4 609.0,632.3 610.0,633.2 611.0,634.1 612.0,634.9 613.0,635.5 614.0,635.9 615.0,636.3 615.9,636.6 616.9,636.8 617.8,637.1 618.8,637.3 619.7,637.6 620.7,637.9 621.6,638.2 622.5,638.6 623.4,639.0 624.3,639.4 625.2,639.8 626.1,640.2 627.0,640.6 627.9,640.9 628.7,641.3 629.6,641.7 630.5,642.1 631.3,642.4 632.2,642.8 633.0,643.1 633.8,643.5 634.7,643.8 635.5,644.1 636.3,644.4 637.1,644.6 637.9,644.9 638.7,645.1 639.4,645.3 640.2,645.6 641.0,645.8 641.7,646.0 642.5,646.3 643.2,646.5 644.0,646.8 644.7,647.0 645.4,647.3 646.1,647.6 646.8,647.8 647.5,648.1 648.2,648.4 648.9,648.7 649.6,648.9 650.2,649.2 650.9,649.4 651.5,649.7 652.2,649.9 652.8,650.2 653.4,650.4 654.0,650.7 654.6,651.0 655.2,651.2 655.8,651.5 656.4,651.7 657.0,652.0 657.5,652.2 658.1,652.5 658.6,652.7 659.1,653.0 659.7,653.2 660.2,653.5 660.7,653.7 661.2,653.9 661.6,654.2 662.1,654.4 662.6,654.6 663.0,654.9 663.5,655.1 663.9,655.4 664.3,655.6 664.7,655.8 665.1,656.1 665.5,656.3 665.9,656.6 666.2,656.8 666.6,657.1 666.9,657.3 667.2,657.5 667.6,657.7 667.8,658.0 668.1,658.2 668.4,658.3 668.6,658.5 668.9,658.7 669.1,658.8 669.3,658.9 669.5,659.0 669.6,659.1 669.8,659.2 669.9,659.2 670.0,659.3 670.0,659.9" fill="none" stroke="#000000" stroke-width="1.7" stroke-linejoin="round"/>
<polyline points="412.0,388.1 413.7,388.2 415.4,388.4 417.2,388.7 418.9,389.1 420.6,389.7 422.3,390.5 424.0,391.3 425.7,392.3 427.4,393.4 429.1,394.7 430.7,396.1 432.4,397.6 434.1,399.3 435.8,401.2 437.4,403.1 439.1,405.2 440.7,407.5 442.4,409.9 444.0,412.5 445.7,415.1 447.3,418.0 448.9,420.9 450.6,424.0 452.2,427.3 453.8,430.6 455.4,434.1 457.0,437.7 458.6,441.5 460.2,445.3 461.8,449.3 463.4,453.3 465.0,457.5 466.6,461.7 468.2,466.0 469.7,470.4 471.3,474.9 472.9,479.4 474.4,484.0 476.0,488.6 477.5,493.2 479.1,497.9 480.6,502.6 482.2,507.2 483.7,511.8 485.2,516.4 486.7,521.0 488.3,525.5 489.8,529.9 491.3,534.2 492.8,538.4 494.3,542.5 495.8,546.5 497.3,550.3 498.7,554.0 500.2,557.4 501.7,560.7 503.2,563.8 504.6,566.7 506.1,569.4 507.5,571.9 509.0,574.1 510.4,576.1 511.9,577.9 513.3,579.5 514.7,581.0 516.2,582.2 517.6,583.2 519.0,584.2 520.4,584.9 521.8,585.6 523.2,586.1 524.6,586.6 526.0,587.0 527.4,587.3 528.8,587.6 530.1,587.8 531.5,588.0 532.9,588.1 534.2,588.2 535.6,588.4 536.9,588.5 538.3,588.5 539.6,588.6 541.0,588.7 542.3,588.8 543.6,588.9 544.9,589.0 546.2,589.1 547.6,589.6 548.9,590.4 550.2,591.8 551.5,593.5 552.7,595.4 554.0,597.4 555.3,599.5 556.6,601.6 557.8,603.7 559.1,605.8 560.4,607.6 561.6,609.3 562.8,610.8 564.1,612.2 565.3,613.4 566.6,614.4 567.8,615.2 569.0,615.7 570.2,616.1 571.4,616.5 572.6,616.8 573.8,617.0 575.0,617.2 576.2,617.3 577.4,617.4 578.5,617.5 579.7,617.5 580.9,617.6 582.0,617.7 583.2,617.9 584.3,618.3 585.5,618.7 586.6,619.2 587.7,619.8 588.8,620.6 590.0,621.6 591.1,622.7 592.2,623.9 593.3,625.1 594.4,626.1 595.5,627.0 596.5,627.6 597.6,628.0 598.7,628.3 599.7,628.5 600.8,628.8 601.9,629.0 602.9,629.3 603.9,629.5 605.0,629.8 606.0,630.2 607.0,630.7 608.0,631.4 609.0,632.3 610.0,633.2 611.0,634.1 612.0,634.9 613.0,635.5 614.0,635.9 615.0,636.3 615.9,636.6 616.9,636.8 617.8,637.1 618.8,637.3 619.7,637.6 620.7,637.9 621.6,638.2 622.5,638.6 623.4,639.0 624.3,639.4 625.2,639.8 626.1,640.2 627.0,640.6 627.9,640.9 628.7,641.3 629.6,641.7 630.5,642.1 631.3,642.4 632.2,642.8 633.0,643.1 633.8,643.5 634.7,643.8 635.5,644.1 636.3,644.4 637.1,644.6 637.9,644.9 638.7,645.1 639.4,645.3 640.2,645.6 641.0,645.8 641.7,646.0 642.5,646.3 643.2,646.5 644.0,646.8 644.7,647.0 645.4,647.3 646.1,647.6 646.8,647.8 647.5,648.1 648.2,648.4 648.9,648.7 649.6,648.9 650.2,649.2 650.9,649.4 651.5,649.7 652.2,649.9 652.8,650.2 653.4,650.4 654.0,650.7 654.6,651.0 655.2,651.2 655.8,651.5 656.4,651.7 657.0,652.0 657.5,652.2 658.1,652.5 658.6,652.7 659.1,653.0 659.7,653.2 660.2,653.5 660.7,653.7 661.2,653.9 661.6,654.2 662.1,654.4 662.6,654.6 663.0,654.9 663.5,655.1 663.9,655.4 664.3,655.6 664.7,655.8 665.1,656.1 665.5,656.3 665.9,656.6 666.2,656.8 666.6,657.1 666.9,657.3 667.2,657.5 667.6,657.7 667.8,658.0 668.1,658.2 668.4,658.3 668.6,658.5 668.9,658.7 669.1,658.8 669.3,658.9 669.5,659.0 669.6,659.1 669.8,659.2 669.9,659.2 670.0,659.3 670.0,659.9" fill="none" stroke="#000000" stroke-width="1.7" stroke-linejoin="round"/>
<polyline points="412.0,388.1 413.7,388.2 415.4,388.4 417.2,388.7 418.9,389.1 420.6,389.7 422.3,390.5 424.0,391.3 425.7,392.3 427.4,393.4 429.1,394.7 430.7,396.1 432.4,397.6 434.1,399.3 435.8,401.2 437.4,403.1 439.1,405.2 440.7,407.5 442.4,409.9 444.0,412.5 445.7,415.1 447.3,418.0 448.9,420.9 450.6,424.0 452.2,427.3 453.8,430.6 455.4,434.1 457.0,437.7 458.6,441.4 460.2,445.3 461.8,449.2 463.4,453.3 465.0,457.5 466.6,461.7 468.2,466.0 469.7,470.4 471.3,474.9 472.9,479.4 474.4,484.0 476.0,488.6 477.5,493.2 479.1,497.9 480.6,502.6 482.2,507.2 483.7,511.8 485.2,516.4 486.7,521.0 488.3,525.5 489.8,529.9 491.3,534.2 492.8,538.4 494.3,542.5 495.8,546.5 497.3,550.3 498.7,554.0 500.2,557.4 501.7,560.7 503.2,563.8 504.6,566.7 506.1,569.4 507.5,571.9 509.0,574.1 510.4,576.1 511.9,578.0 513.3,579.6 514.7,581.0 516.2,582.2 517.6,583.3 519.0,584.2 520.4,584.9 521.8,585.6 523.2,586.1 524.6,586.6 526.0,587.0 527.4,587.3 528.8,587.6 530.1,587.8 531.5,588.0 532.9,588.1 534.2,588.2 535.6,588.4 536.9,588.5 538.3,588.5 539.6,588.6 541.0,588.7 542.3,588.8 543.6,588.9 544.9,589.0 546.2,589.1 547.6,589.6 548.9,590.4 550.2,591.8 551.5,593.5 552.7,595.4 554.0,597.4 555.3,599.5 556.6,601.6 557.8,603.7 559.1,605.7 560.4,607.6 561.6,609.3 562.8,610.8 564.1,612.2 565.3,613.4 566.6,614.4 567.8,615.2 569.0,615.7 570.2,616.1 571.4,616.4 572.6,616.8 573.8,617.0 575.0,617.2 576.2,617.3 577.4,617.4 578.5,617.5 579.7,617.5 580.9,617.6 582.0,617.7 583.2,617.9 584.3,618.3 585.5,618.7 586.6,619.2 587.7,619.8 588.8,620.6 590.0,621.6 591.1,622.7 592.2,623.9 593.3,625.1 594.4,626.1 595.5,627.0 596.5,627.6 597.6,628.0 598.7,628.3 599.7,628.5 600.8,628.8 601.9,629.0 602.9,629.3 603.9,629.5 605.0,629.8 606.0,630.2 607.0,630.7 608.0,631.4 609.0,632.3 610.0,633.2 611.0,634.1 612.0,634.9 613.0,635.5 614.0,635.9 615.0,636.3 615.9,636.6 616.9,636.8 617.8,637.1 618.8,637.3 619.7,637.6 620.7,637.9 621.6,638.2 622.5,638.6 623.4,639.0 624.3,639.4 625.2,639.8 626.1,640.2 627.0,640.6 627.9,640.9 628.7,641.3 629.6,641.7 630.5,642.0 631.3,642.4 632.2,642.8 633.0,643.1 633.8,643.5 634.7,643.8 635.5,644.1 636.3,644.4 637.1,644.6 637.9,644.9 638.7,645.1 639.4,645.3 640.2,645.6 641.0,645.8 641.7,646.0 642.5,646.3 643.2,646.5 644.0,646.8 644.7,647.0 645.4,647.3 646.1,647.6 646.8,647.8 647.5,648.1 648.2,648.4 648.9,648.7 649.6,648.9 650.2,649.2 650.9,649.4 651.5,649.7 652.2,649.9 652.8,650.2 653.4,650.4 654.0,650.7 654.6,651.0 655.2,651.2 655.8,651.5 656.4,651.7 657.0,652.0 657.5,652.2 658.1,652.5 658.6,652.7 659.1,653.0 659.7,653.2 660.2,653.5 660.7,653.7 661.2,653.9 661.6,654.2 662.1,654.4 662.6,654.6 663.0,654.9 663.5,655.1 663.9,655.4 664.3,655.6 664.7,655.8 665.1,656.1 665.5,656.3 665.9,656.6 666.2,656.8 666.6,657.1 666.9,657.3 667.2,657.5 667.6,657.7 667.8,658.0 668.1,658.2 668.4,658.3 668.6,658.5 668.9,658.7 669.1,658.8 669.3,658.9 669.5,659.0 669.6,659.1 669.8,659.2 669.9,659.2 670.0,659.3 670.0,659.9" fill="none" stroke="#000000" stroke-width="1.7" stroke-linejoin="round"/>
<polyline points="412.0,388.1 413.7,388.2 415.4,388.4 417.2,388.7 418.9,389.1 420.6,389.7 422.3,390.4 424.0,391.3 425.7,392.3 427.4,393.4 429.1,394.7 430.7,396.1 432.4,397.6 434.1,399.3 435.8,401.2 437.4,403.1 439.1,405.2 440.7,407.5 442.4,409.9 444.0,412.4 445.7,415.1 447.3,418.0 448.9,420.9 450.6,424.0 452.2,427.2 453.8,430.6 455.4,434.1 457.0,437.7 458.6,441.4 460.2,445.3 461.8,449.2 463.4,453.3 465.0,457.5 466.6,461.7 468.2,466.0 469.7,470.4 471.3,474.9 472.9,479.4 474.4,484.0 476.0,488.6 477.5,493.2 479.1,497.9 480.6,502.6 482.2,507.2 483.7,511.8 485.2,516.4 486.7,521.0 488.3,525.5 489.8,529.9 491.3,534.2 492.8,538.4 494.3,542.5 495.8,546.5 497.3,550.3 498.7,554.0 500.2,557.5 501.7,560.8 503.2,563.9 504.6,566.8 506.1,569.4 507.5,571.9 509.0,574.1 510.4,576.2 511.9,578.0 513.3,579.6 514.7,581.0 516.2,582.2 517.6,583.3 519.0,584.2 520.4,584.9 521.8,585.6 523.2,586.1 524.6,586.6 526.0,587.0 527.4,587.3 528.8,587.6 530.1,587.8 531.5,588.0 532.9,588.1 534.2,588.3 535.6,588.4 536.9,588.5 538.3,588.5 539.6,588.6 541.0,588.7 542.3,588.8 543.6,588.9 544.9,589.0 546.2,589.1 547.6,589.6 548.9,590.4 550.2,591.8 551.5,593.5 552.7,595.3 554.0,597.4 555.3,599.5 556.6,601.6 557.8,603.7 559.1,605.7 560.4,607.6 561.6,609.3 562.8,610.8 564.1,612.2 565.3,613.4 566.6,614.4 567.8,615.2 569.0,615.7 570.2,616.1 571.4,616.4 572.6,616.8 573.8,617.0 575.0,617.2 576.2,617.3 577.4,617.4 578.5,617.5 579.7,617.5 580.9,617.6 582.0,617.7 583.2,617.9 584.3,618.3 585.5,618.7 586.6,619.2 587.7,619.8 588.8,620.6 590.0,621.6 591.1,622.7 592.2,623.9 593.3,625.1 594.4,626.1 595.5,627.0 596.5,627.6 597.6,628.0 598.7,628.3 599.7,628.5 600.8,628.8 601.9,629.0 602.9,629.3 603.9,629.5 605.0,629.8 606.0,630.2 607.0,630.7 608.0,631.4 609.0,632.3 610.0,633.2 611.0,634.1 612.0,634.8 613.0,635.5 614.0,635.9 615.0,636.3 615.9,636.6 616.9,636.8 617.8,637.1 618.8,637.3 619.7,637.6 620.7,637.9 621.6,638.2 622.5,638.6 623.4,639.0 624.3,639.4 625.2,639.8 626.1,640.2 627.0,640.5 627.9,640.9 628.7,641.3 629.6,641.7 630.5,642.0 631.3,642.4 632.2,642.8 633.0,643.1 633.8,643.5 634.7,643.8 635.5,644.1 636.3,644.4 637.1,644.6 637.9,644.9 638.7,645.1 639.4,645.3 640.2,645.6 641.0,645.8 641.7,646.0 642.5,646.3 643.2,646.5 644.0,646.8 644.7,647.0 645.4,647.3 646.1,647.6 646.8,647.8 647.5,648.1 648.2,648.4 648.9,648.6 649.6,648.9 650.2,649.2 650.9,649.4 651.5,649.7 652.2,649.9 652.8,650.2 653.4,650.4 654.0,650.7 654.6,650.9 655.2,651.2 655.8,651.5 656.4,651.7 657.0,652.0 657.5,652.2 658.1,652.5 658.6,652.7 659.1,653.0 659.7,653.2 660.2,653.5 660.7,653.7 661.2,653.9 661.6,654.2 662.1,654.4 662.6,654.6 663.0,654.9 663.5,655.1 663.9,655.4 664.3,655.6 664.7,655.8 665.1,656.1 665.5,656.3 665.9,656.6 666.2,656.8 666.6,657.1 666.9,657.3 667.2,657.5 667.6,657.7 667.8,658.0 668.1,658.2 668.4,658.3 668.6,658.5 668.9,658.7 669.1,658.8 669.3,658.9 669.5,659.0 669.6,659.1 669.8,659.2 669.9,659.2 670.0,659.3 670.0,659.9" fill="none" stroke="#000000" stroke-width="1.7" stroke-linejoin="round"/>
<polyline points="412.0,388.1 413.7,388.2 415.4,388.4 417.2,388.7 418.9,389.1 420.6,389.7 422.3,390.4 424.0,391.3 425.7,392.3 427.4,393.4 429.1,394.7 430.7,396.1 432.4,397.6 434.1,399.3 435.8,401.1 437.4,403.1 439.1,405.2 440.7,407.5 442.4,409.9 444.0,412.4 445.7,415.1 447.3,417.9 448.9,420.9 450.6,424.0 452.2,427.2 453.8,430.6 455.4,434.1 457.0,437.7 458.6,441.4 460.2,445.3 461.8,449.2 463.4,453.3 465.0,457.4 466.6,461.7 468.2,466.0 469.7,470.4 471.3,474.9 472.9,479.4 474.4,484.0 476.0,488.6 477.5,493.2 479.1,497.9 480.6,502.5 482.2,507.2 483.7,511.8 485.2,516.4 486.7,521.0 488.3,525.5 489.8,529.9 491.3,534.2 492.8,538.4 494.3,542.5 495.8,546.5 497.3,550.3 498.7,554.0 500.2,557.5 501.7,560.8 503.2,563.9 504.6,566.8 506.1,569.5 507.5,571.9 509.0,574.2 510.4,576.2 511.9,578.0 513.3,579.6 514.7,581.0 516.2,582.2 517.6,583.3 519.0,584.2 520.4,585.0 521.8,585.6 523.2,586.1 524.6,586.6 526.0,587.0 527.4,587.3 528.8,587.6 530.1,587.8 531.5,588.0 532.9,588.1 534.2,588.3 535.6,588.4 536.9,588.5 538.3,588.5 539.6,588.6 541.0,588.7 542.3,588.8 543.6,588.9 544.9,589.0 546.2,589.1 547.6,589.6 548.9,590.4 550.2,591.8 551.5,593.5 552.7,595.3 554.0,597.3 555.3,599.4 556.6,601.6 557.8,603.7 559.1,605.7 560.4,607.6 561.6,609.3 562.8,610.8 564.1,612.2 565.3,613.4 566.6,614.4 567.8,615.2 569.0,615.7 570.2,616.1 571.4,616.4 572.6,616.8 573.8,617.0 575.0,617.2 576.2,617.3 577.4,617.4 578.5,617.5 579.7,617.5 580.9,617.6 582.0,617.7 583.2,617.9 584.3,618.3 585.5,618.7 586.6,619.2 587.7,619.8 588.8,620.6 590.0,621.6 591.1,622.7 592.2,623.9 593.3,625.1 594.4,626.1 595.5,627.0 596.5,627.6 597.6,628.0 598.7,628.3 599.7,628.5 600.8,628.8 601.9,629.0 602.9,629.3 603.9,629.5 605.0,629.8 606.0,630.2 607.0,630.7 608.0,631.4 609.0,632.3 610.0,633.2 611.0,634.1 612.0,634.8 613.0,635.5 614.0,635.9 615.0,636.3 615.9,636.6 616.9,636.8 617.8,637.1 618.8,637.3 619.7,637.6 620.7,637.9 621.6,638.2 622.5,638.6 623.4,639.0 624.3,639.4 625.2,639.8 626.1,640.2 627.0,640.5 627.9,640.9 628.7,641.3 629.6,641.7 630.5,642.0 631.3,642.4 632.2,642.8 633.0,643.1 633.8,643.5 634.7,643.8 635.5,644.1 636.3,644.4 637.1,644.6 637.9,644.9 638.7,645.1 639.4,645.3 640.2,645.6 641.0,645.8 641.7,646.0 642.5,646.3 643.2,646.5 644.0,646.8 644.7,647.0 645.4,647.3 646.1,647.6 646.8,647.8 647.5,648.1 648.2,648.4 648.9,648.6 649.6,648.9 650.2,649.2 650.9,649.4 651.5,649.7 652.2,649.9 652.8,650.2 653.4,650.4 654.0,650.7 654.6,650.9 655.2,651.2 655.8,651.5 656.4,651.7 657.0,652.0 657.5,652.2 658.1,652.5 658.6,652.7 659.1,653.0 659.7,653.2 660.2,653.5 660.7,653.7 661.2,653.9 661.6,654.2 662.1,654.4 662.6,654.6 663.0,654.9 663.5,655.1 663.9,655.4 664.3,655.6 664.7,655.8 665.1,656.1 665.5,656.3 665.9,656.6 666.2,656.8 666.6,657.1 666.9,657.3 667.2,657.5 667.6,657.7 667.8,658.0 668.1,658.2 668.4,658.3 668.6,658.5 668.9,658.7 669.1,658.8 669.3,658.9 669.5,659.0 669.6,659.1 669.8,659.2 669.9,659.2 670.0,659.3 670.0,659.9" fill="none" stroke="#000000" stroke-width="1.7" stroke-linejoin="round"/>
<polyline points="412.0,388.1 413.7,388.2 415.4,388.4 417.2,388.7 418.9,389.1 420.6,389.7 422.3,390.4 424.0,391.3 425.7,392.3 427.4,393.4 429.1,394.7 430.7,396.1 432.4,397.6 434.1,399.3 435.8,401.1 437.4,403.1 439.1,405.2 440.7,407.5 442.4,409.9 444.0,412.4 445.7,415.1 447.3,417.9 448.9,420.9 450.6,424.0 452.2,427.2 453.8,430.6 455.4,434.1 457.0,437.7 458.6,441.4 460.2,445.2 461.8,449.2 463.4,453.3 465.0,457.4 466.6,461.7 468.2,466.0 469.7,470.4 471.3,474.8 472.9,479.4 474.4,483.9 476.0,488.6 477.5,493.2 479.1,497.9 480.6,502.5 482.2,507.2 483.7,511.8 485.2,516.4 486.7,521.0 488.3,525.5 489.8,529.9 491.3,534.2 492.8,538.4 494.3,542.5 495.8,546.5 497.3,550.3 498.7,554.0 500.2,557.5 501.7,560.8 503.2,563.9 504.6,566.8 506.1,569.5 507.5,571.9 509.0,574.2 510.4,576.2 511.9,578.0 513.3,579.6 514.7,581.0 516.2,582.3 517.6,583.3 519.0,584.2 520.4,585.0 521.8,585.6 523.2,586.1 524.6,586.6 526.0,587.0 527.4,587.3 528.8,587.6 530.1,587.8 531.5,588.0 532.9,588.1 534.2,588.3 535.6,588.4 536.9,588.5 538.3,588.5 539.6,588.6 541.0,588.7 542.3,588.8 543.6,588.9 544.9,589.0 546.2,589.1 547.6,589.5 548.9,590.4 550.2,591.8 551.5,593.4 552.7,595.3 554.0,597.3 555.3,599.4 556.6,601.5 557.8,603.6 559.1,605.7 560.4,607.6 561.6,609.3 562.8,610.8 564.1,612.1 565.3,613.4 566.6,614.4 567.8,615.2 569.0,615.7 570.2,616.1 571.4,616.4 572.6,616.8 573.8,617.0 575.0,617.2 576.2,617.3 577.4,617.4 578.5,617.5 579.7,617.5 580.9,617.6 582.0,617.7 583.2,617.9 584.3,618.3 585.5,618.7 586.6,619.1 587.7,619.8 588.8,620.5 590.0,621.5 591.1,622.7 592.2,623.9 593.3,625.0 594.4,626.1 595.5,627.0 596.5,627.6 597.6,628.0 598.7,628.3 599.7,628.5 600.8,628.8 601.9,629.0 602.9,629.3 603.9,629.5 605.0,629.8 606.0,630.2 607.0,630.7 608.0,631.4 609.0,632.3 610.0,633.2 611.0,634.0 612.0,634.8 613.0,635.5 614.0,635.9 615.0,636.3 615.9,636.5 616.9,636.8 617.8,637.1 618.8,637.3 619.7,637.6 620.7,637.9 621.6,638.2 622.5,638.6 623.4,639.0 624.3,639.4 625.2,639.8 626.1,640.2 627.0,640.5 627.9,640.9 628.7,641.3 629.6,641.7 630.5,642.0 631.3,642.4 632.2,642.8 633.0,643.1 633.8,643.5 634.7,643.8 635.5,644.1 636.3,644.4 637.1,644.6 637.9,644.9 638.7,645.1 639.4,645.3 640.2,645.6 641.0,645.8 641.7,646.0 642.5,646.3 643.2,646.5 644.0,646.8 644.7,647.0 645.4,647.3 646.1,647.6 646.8,647.8 647.5,648.1 648.2,648.4 648.9,648.6 649.6,648.9 650.2,649.2 650.9,649.4 651.5,649.7 652.2,649.9 652.8,650.2 653.4,650.4 654.0,650.7 654.6,650.9 655.2,651.2 655.8,651.5 656.4,651.7 657.0,652.0 657.5,652.2 658.1,652.5 658.6,652.7 659.1,653.0 659.7,653.2 660.2,653.4 660.7,653.7 661.2,653.9 661.6,654.2 662.1,654.4 662.6,654.6 663.0,654.9 663.5,655.1 663.9,655.3 664.3,655.6 664.7,655.8 665.1,656.1 665.5,656.3 665.9,656.6 666.2,656.8 666.6,657.1 666.9,657.3 667.2,657.5 667.6,657.7 667.8,658.0 668.1,658.2 668.4,658.3 668.6,658.5 668.9,658.7 669.1,658.8 669.3,658.9 669.5,659.0 669.6,659.1 669.8,659.2 669.9,659.2 670.0,659.3 670.0,659.9" fill="none" stroke="#000000" stroke-width="1.7" stroke-linejoin="round"/>
<polyline points="412.0,388.1 413.7,388.2 415.4,388.4 417.2,388.7 418.9,389.1 420.6,389.7 422.3,390.4 424.0,391.3 425.7,392.3 427.4,393.4 429.1,394.7 430.7,396.1 432.4,397.6 434.1,399.3 435.8,401.1 437.4,403.1 439.1,405.2 440.7,407.5 442.4,409.9 444.0,412.4 445.7,415.1 447.3,417.9 448.9,420.9 450.6,424.0 452.2,427.2 453.8,430.5 455.4,434.0 457.0,437.6 458.6,441.4 460.2,445.2 461.8,449.2 463.4,453.2 465.0,457.4 466.6,461.6 468.2,465.9 469.7,470.3 471.3,474.8 472.9,479.3 474.4,483.9 476.0,488.5 477.5,493.2 479.1,497.8 480.6,502.5 482.2,507.1 483.7,511.8 485.2,516.4 486.7,520.9 488.3,525.4 489.8,529.9 491.3,534.2 492.8,538.4 494.3,542.5 495.8,546.5 497.3,550.3 498.7,554.0 500.2,557.5 501.7,560.8 503.2,563.9 504.6,566.8 506.1,569.5 507.5,571.9 509.0,574.2 510.4,576.2 511.9,578.0 513.3,579.6 514.7,581.1 516.2,582.3 517.6,583.3 519.0,584.2 520.4,585.0 521.8,585.6 523.2,586.2 524.6,586.6 526.0,587.0 527.4,587.3 528.8,587.6 530.1,587.8 531.5,588.0 532.9,588.1 534.2,588.3 535.6,588.4 536.9,588.5 538.3,588.5 539.6,588.6 541.0,588.7 542.3,588.8 543.6,588.9 544.9,589.0 546.2,589.1 547.6,589.5 548.9,590.4 550.2,591.7 551.5,593.4 552.7,595.3 554.0,597.3 555.3,599.4 556.6,601.5 557.8,603.6 559.1,605.7 560.4,607.6 561.6,609.2 562.8,610.7 564.1,612.1 565.3,613.4 566.6,614.4 567.8,615.2 569.0,615.7 570.2,616.1 571.4,616.4 572.6,616.8 573.8,617.0 575.0,617.2 576.2,617.3 577.4,617.4 578.5,617.5 579.7,617.5 580.9,617.6 582.0,617.7 583.2,617.9 584.3,618.2 585.5,618.7 586.6,619.1 587.7,619.7 588.8,620.5 590.0,621.5 591.1,622.7 592.2,623.9 593.3,625.0 594.4,626.1 595.5,626.9 596.5,627.6 597.6,628.0 598.7,628.3 599.7,628.5 600.8,628.8 601.9,629.0 602.9,629.3 603.9,629.5 605.0,629.8 606.0,630.2 607.0,630.7 608.0,631.4 609.0,632.2 610.0,633.1 611.0,634.0 612.0,634.8 613.0,635.4 614.0,635.9 615.0,636.3 615.9,636.5 616.9,636.8 617.8,637.1 618.8,637.3 619.7,637.6 620.7,637.9 621.6,638.2 622.5,638.6 623.4,639.0 624.3,639.4 625.2,639.8 626.1,640.1 627.0,640.5 627.9,640.9 628.7,641.3 629.6,641.7 630.5,642.0 631.3,642.4 632.2,642.8 633.0,643.1 633.8,643.5 634.7,643.8 635.5,644.1 636.3,644.4 637.1,644.6 637.9,644.9 638.7,645.1 639.4,645.3 640.2,645.6 641.0,645.8 641.7,646.0 642.5,646.3 643.2,646.5 644.0,646.8 644.7,647.0 645.4,647.3 646.1,647.6 646.8,647.8 647.5,648.1 648.2,648.4 648.9,648.6 649.6,648.9 650.2,649.2 650.9,649.4 651.5,649.7 652.2,649.9 652.8,650.2 653.4,650.4 654.0,650.7 654.6,650.9 655.2,651.2 655.8,651.5 656.4,651.7 657.0,652.0 657.5,652.2 658.1,652.5 658.6,652.7 659.1,653.0 659.7,653.2 660.2,653.4 660.7,653.7 661.2,653.9 661.6,654.1 662.1,654.4 662.6,654.6 663.0,654.9 663.5,655.1 663.9,655.3 664.3,655.6 664.7,655.8 665.1,656.1 665.5,656.3 665.9,656.6 666.2,656.8 666.6,657.1 666.9,657.3 667.2,657.5 667.6,657.7 667.8,658.0 668.1,658.2 668.4,658.3 668.6,658.5 668.9,658.7 669.1,658.8 669.3,658.9 669.5,659.0 669.6,659.1 669.8,659.2 669.9,659.2 670.0,659.3 670.0,659.9" fill="none" stroke="#000000" stroke-width="1.7" stroke-linejoin="round"/>
<polyline points="412.0,388.1 413.7,388.2 415.4,388.4 417.2,388.7 418.9,389.1 420.6,389.7 422.3,390.4 424.0,391.3 425.7,392.3 427.4,393.4 429.1,394.7 430.7,396.1 432.4,397.6 434.1,399.3 435.8,401.1 437.4,403.1 439.1,405.2 440.7,407.5 442.4,409.8 444.0,412.4 445.7,415.1 447.3,417.9 448.9,420.8 450.6,423.9 452.2,427.2 453.8,430.5 455.4,434.0 457.0,437.6 458.6,441.3 460.2,445.2 461.8,449.1 463.4,453.2 465.0,457.3 466.6,461.6 468.2,465.9 469.7,470.3 471.3,474.8 472.9,479.3 474.4,483.9 476.0,488.5 477.5,493.1 479.1,497.8 480.6,502.4 482.2,507.1 483.7,511.7 485.2,516.3 486.7,520.9 488.3,525.4 489.8,529.8 491.3,534.2 492.8,538.4 494.3,542.5 495.8,546.5 497.3,550.3 498.7,554.0 500.2,557.5 501.7,560.8 503.2,563.9 504.6,566.8 506.1,569.5 507.5,572.0 509.0,574.2 510.4,576.2 511.9,578.1 513.3,579.7 514.7,581.1 516.2,582.3 517.6,583.3 519.0,584.2 520.4,585.0 521.8,585.6 523.2,586.2 524.6,586.6 526.0,587.0 527.4,587.3 528.8,587.6 530.1,587.8 531.5,588.0 532.9,588.1 534.2,588.3 535.6,588.4 536.9,588.5 538.3,588.5 539.6,588.6 541.0,588.7 542.3,588.8 543.6,588.9 544.9,589.0 546.2,589.1 547.6,589.5 548.9,590.4 550.2,591.7 551.5,593.4 552.7,595.2 554.0,597.2 555.3,599.3 556.6,601.5 557.8,603.6 559.1,605.6 560.4,607.5 561.6,609.2 562.8,610.7 564.1,612.1 565.3,613.3 566.6,614.4 567.8,615.1 569.0,615.7 570.2,616.1 571.4,616.4 572.6,616.8 573.8,617.0 575.0,617.2 576.2,617.3 577.4,617.4 578.5,617.5 579.7,617.5 580.9,617.6 582.0,617.7 583.2,617.9 584.3,618.2 585.5,618.6 586.6,619.1 587.7,619.7 588.8,620.5 590.0,621.5 591.1,622.6 592.2,623.8 593.3,625.0 594.4,626.1 595.5,626.9 596.5,627.5 597.6,628.0 598.7,628.3 599.7,628.5 600.8,628.8 601.9,629.0 602.9,629.3 603.9,629.5 605.0,629.8 606.0,630.2 607.0,630.7 608.0,631.4 609.0,632.2 610.0,633.1 611.0,634.0 612.0,634.8 613.0,635.4 614.0,635.9 615.0,636.3 615.9,636.5 616.9,636.8 617.8,637.1 618.8,637.3 619.7,637.6 620.7,637.9 621.6,638.2 622.5,638.6 623.4,639.0 624.3,639.4 625.2,639.7 626.1,640.1 627.0,640.5 627.9,640.9 628.7,641.3 629.6,641.7 630.5,642.0 631.3,642.4 632.2,642.8 633.0,643.1 633.8,643.5 634.7,643.8 635.5,644.1 636.3,644.4 637.1,644.6 637.9,644.9 638.7,645.1 639.4,645.3 640.2,645.6 641.0,645.8 641.7,646.0 642.5,646.3 643.2,646.5 644.0,646.7 644.7,647.0 645.4,647.3 646.1,647.6 646.8,647.8 647.5,648.1 648.2,648.4 648.9,648.6 649.6,648.9 650.2,649.2 650.9,649.4 651.5,649.7 652.2,649.9 652.8,650.2 653.4,650.4 654.0,650.7 654.6,650.9 655.2,651.2 655.8,651.5 656.4,651.7 657.0,652.0 657.5,652.2 658.1,652.5 658.6,652.7 659.1,653.0 659.7,653.2 660.2,653.4 660.7,653.7 661.2,653.9 661.6,654.1 662.1,654.4 662.6,654.6 663.0,654.9 663.5,655.1 663.9,655.3 664.3,655.6 664.7,655.8 665.1,656.1 665.5,656.3 665.9,656.6 666.2,656.8 666.6,657.0 666.9,657.3 667.2,657.5 667.6,657.7 667.8,658.0 668.1,658.2 668.4,658.3 668.6,658.5 668.9,658.7 669.1,658.8 669.3,658.9 669.5,659.0 669.6,659.1 669.8,659.2 669.9,659.2 670.0,659.3 670.0,659.9" fill="none" stroke="#000000" stroke-width="1.7" stroke-linejoin="round"/>
<polyline points="412.0,388.1 413.7,388.2 415.4,388.4 417.2,388.7 418.9,389.1 420.6,389.7 422.3,390.4 424.0,391.3 425.7,392.3 427.4,393.4 429.1,394.7 430.7,396.1 432.4,397.6 434.1,399.3 435.8,401.1 437.4,403.1 439.1,405.2 440.7,407.4 442.4,409.8 444.0,412.4 445.7,415.0 447.3,417.9 448.9,420.8 450.6,423.9 452.2,427.1 453.8,430.5 455.4,433.9 457.0,437.6 458.6,441.3 460.2,445.1 461.8,449.1 463.4,453.1 465.0,457.3 466.6,461.5 468.2,465.8 469.7,470.2 471.3,474.7 472.9,479.2 474.4,483.8 476.0,488.4 477.5,493.0 479.1,497.7 480.6,502.4 482.2,507.0 483.7,511.7 485.2,516.3 486.7,520.8 488.3,525.3 489.8,529.8 491.3,534.1 492.8,538.3 494.3,542.5 495.8,546.4 497.3,550.3 498.7,554.0 500.2,557.5 501.7,560.8 503.2,563.9 504.6,566.8 506.1,569.5 507.5,572.0 509.0,574.2 510.4,576.3 511.9,578.1 513.3,579.7 514.7,581.1 516.2,582.3 517.6,583.4 519.0,584.3 520.4,585.0 521.8,585.6 523.2,586.2 524.6,586.6 526.0,587.0 527.4,587.3 528.8,587.6 530.1,587.8 531.5,588.0 532.9,588.1 534.2,588.3 535.6,588.4 536.9,588.5 538.3,588.6 539.6,588.6 541.0,588.7 542.3,588.8 543.6,588.9 544.9,589.0 546.2,589.1 547.6,589.5 548.9,590.4 550.2,591.7 551.5,593.3 552.7,595.2 554.0,597.2 555.3,599.3 556.6,601.4 557.8,603.5 559.1,605.6 560.4,607.5 561.6,609.2 562.8,610.7 564.1,612.1 565.3,613.3 566.6,614.4 567.8,615.1 569.0,615.7 570.2,616.1 571.4,616.4 572.6,616.7 573.8,617.0 575.0,617.2 576.2,617.3 577.4,617.4 578.5,617.5 579.7,617.5 580.9,617.6 582.0,617.7 583.2,617.9 584.3,618.2 585.5,618.6 586.6,619.1 587.7,619.7 588.8,620.5 590.0,621.5 591.1,622.6 592.2,623.8 593.3,625.0 594.4,626.0 595.5,626.9 596.5,627.5 597.6,628.0 598.7,628.3 599.7,628.5 600.8,628.8 601.9,629.0 602.9,629.3 603.9,629.5 605.0,629.8 606.0,630.2 607.0,630.7 608.0,631.4 609.0,632.2 610.0,633.1 611.0,634.0 612.0,634.8 613.0,635.4 614.0,635.9 615.0,636.2 615.9,636.5 616.9,636.8 617.8,637.0 618.8,637.3 619.7,637.6 620.7,637.9 621.6,638.2 622.5,638.6 623.4,639.0 624.3,639.3 625.2,639.7 626.1,640.1 627.0,640.5 627.9,640.9 628.7,641.3 629.6,641.6 630.5,642.0 631.3,642.4 632.2,642.7 633.0,643.1 633.8,643.4 634.7,643.8 635.5,644.1 636.3,644.4 637.1,644.6 637.9,644.9 638.7,645.1 639.4,645.3 640.2,645.6 641.0,645.8 641.7,646.0 642.5,646.2 643.2,646.5 644.0,646.7 644.7,647.0 645.4,647.3 646.1,647.5 646.8,647.8 647.5,648.1 648.2,648.4 648.9,648.6 649.6,648.9 650.2,649.2 650.9,649.4 651.5,649.7 652.2,649.9 652.8,650.2 653.4,650.4 654.0,650.7 654.6,650.9 655.2,651.2 655.8,651.4 656.4,651.7 657.0,652.0 657.5,652.2 658.1,652.5 658.6,652.7 659.1,653.0 659.7,653.2 660.2,653.4 660.7,653.7 661.2,653.9 661.6,654.1 662.1,654.4 662.6,654.6 663.0,654.9 663.5,655.1 663.9,655.3 664.3,655.6 664.7,655.8 665.1,656.1 665.5,656.3 665.9,656.6 666.2,656.8 666.6,657.0 666.9,657.3 667.2,657.5 667.6,657.7 667.8,657.9 668.1,658.2 668.4,658.3 668.6,658.5 668.9,658.7 669.1,658.8 669.3,658.9 669.5,659.0 669.6,659.1 669.8,659.2 669.9,659.2 670.0,659.3 670.0,659.9" fill="none" stroke="#000000" stroke-width="1.7" stroke-linejoin="round"/>
<polyline points="412.0,388.1 413.7,388.2 415.4,388.4 417.2,388.7 418.9,389.1 420.6,389.7 422.3,390.4 424.0,391.3 425.7,392.3 427.4,393.4 429.1,394.7 430.7,396.0 432.4,397.6 434.1,399.3 435.8,401.1 437.4,403.0 439.1,405.2 440.7,407.4 442.4,409.8 444.0,412.3 445.7,415.0 447.3,417.8 448.9,420.8 450.6,423.8 452.2,427.1 453.8,430.4 455.4,433.9 457.0,437.5 458.6,441.2 460.2,445.0 461.8,449.0 463.4,453.0 465.0,457.2 466.6,461.4 468.2,465.7 469.7,470.1 471.3,474.6 472.9,479.1 474.4,483.7 476.0,488.3 477.5,492.9 479.1,497.6 480.6,502.3 482.2,506.9 483.7,511.6 485.2,516.2 486.7,520.7 488.3,525.3 489.8,529.7 491.3,534.0 492.8,538.3 494.3,542.4 495.8,546.4 497.3,550.2 498.7,553.9 500.2,557.4 501.7,560.8 503.2,563.9 504.6,566.8 506.1,569.5 507.5,572.0 509.0,574.2 510.4,576.3 511.9,578.1 513.3,579.7 514.7,581.1 516.2,582.3 517.6,583.4 519.0,584.3 520.4,585.0 521.8,585.7 523.2,586.2 524.6,586.6 526.0,587.0 527.4,587.3 528.8,587.6 530.1,587.8 531.5,588.0 532.9,588.1 534.2,588.3 535.6,588.4 536.9,588.5 538.3,588.6 539.6,588.6 541.0,588.7 542.3,588.8 543.6,588.9 544.9,589.0 546.2,589.1 547.6,589.5 548.9,590.3 550.2,591.6 551.5,593.3 552.7,595.2 554.0,597.1 555.3,599.2 556.6,601.4 557.8,603.5 559.1,605.5 560.4,607.4 561.6,609.1 562.8,610.6 564.1,612.0 565.3,613.3 566.6,614.3 567.8,615.1 569.0,615.6 570.2,616.1 571.4,616.4 572.6,616.7 573.8,617.0 575.0,617.2 576.2,617.3 577.4,617.4 578.5,617.5 579.7,617.5 580.9,617.6 582.0,617.7 583.2,617.9 584.3,618.2 585.5,618.6 586.6,619.1 587.7,619.7 588.8,620.5 590.0,621.4 591.1,622.6 592.2,623.8 593.3,624.9 594.4,626.0 595.5,626.9 596.5,627.5 597.6,627.9 598.7,628.2 599.7,628.5 600.8,628.8 601.9,629.0 602.9,629.3 603.9,629.5 605.0,629.8 606.0,630.1 607.0,630.7 608.0,631.3 609.0,632.2 610.0,633.1 611.0,634.0 612.0,634.8 613.0,635.4 614.0,635.9 615.0,636.2 615.9,636.5 616.9,636.8 617.8,637.0 618.8,637.3 619.7,637.6 620.7,637.9 621.6,638.2 622.5,638.6 623.4,638.9 624.3,639.3 625.2,639.7 626.1,640.1 627.0,640.5 627.9,640.9 628.7,641.3 629.6,641.6 630.5,642.0 631.3,642.4 632.2,642.7 633.0,643.1 633.8,643.4 634.7,643.8 635.5,644.1 636.3,644.3 637.1,644.6 637.9,644.9 638.7,645.1 639.4,645.3 640.2,645.5 641.0,645.8 641.7,646.0 642.5,646.2 643.2,646.5 644.0,646.7 644.7,647.0 645.4,647.3 646.1,647.5 646.8,647.8 647.5,648.1 648.2,648.4 648.9,648.6 649.6,648.9 650.2,649.1 650.9,649.4 651.5,649.7 652.2,649.9 652.8,650.2 653.4,650.4 654.0,650.7 654.6,650.9 655.2,651.2 655.8,651.4 656.4,651.7 657.0,652.0 657.5,652.2 658.1,652.5 658.6,652.7 659.1,653.0 659.7,653.2 660.2,653.4 660.7,653.7 661.2,653.9 661.6,654.1 662.1,654.4 662.6,654.6 663.0,654.9 663.5,655.1 663.9,655.3 664.3,655.6 664.7,655.8 665.1,656.1 665.5,656.3 665.9,656.6 666.2,656.8 666.6,657.0 666.9,657.3 667.2,657.5 667.6,657.7 667.8,657.9 668.1,658.2 668.4,658.3 668.6,658.5 668.9,658.7 669.1,658.8 669.3,658.9 669.5,659.0 669.6,659.1 669.8,659.2 669.9,659.2 670.0,659.3 670.0,659.9" fill="none" stroke="#000000" stroke-width="1.7" stroke-linejoin="round"/>
<polyline points="412.0,388.1 413.7,388.2 415.4,388.4 417.2,388.7 418.9,389.1 420.6,389.7 422.3,390.4 424.0,391.3 425.7,392.3 427.4,393.4 429.1,394.6 430.7,396.0 432.4,397.6 434.1,399.2 435.8,401.1 437.4,403.0 439.1,405.1 440.7,407.4 442.4,409.8 444.0,412.3 445.7,415.0 447.3,417.8 448.9,420.7 450.6,423.8 452.2,427.0 453.8,430.3 455.4,433.8 457.0,437.4 458.6,441.1 460.2,445.0 461.8,448.9 463.4,452.9 465.0,457.1 466.6,461.3 468.2,465.6 469.7,470.0 471.3,474.5 472.9,479.0 474.4,483.6 476.0,488.2 477.5,492.8 479.1,497.5 480.6,502.2 482.2,506.8 483.7,511.5 485.2,516.1 486.7,520.6 488.3,525.2 489.8,529.6 491.3,533.9 492.8,538.2 494.3,542.3 495.8,546.3 497.3,550.2 498.7,553.9 500.2,557.4 501.7,560.7 503.2,563.8 504.6,566.8 506.1,569.5 507.5,571.9 509.0,574.2 510.4,576.3 511.9,578.1 513.3,579.7 514.7,581.1 516.2,582.3 517.6,583.4 519.0,584.3 520.4,585.0 521.8,585.7 523.2,586.2 524.6,586.7 526.0,587.0 527.4,587.4 528.8,587.6 530.1,587.8 531.5,588.0 532.9,588.2 534.2,588.3 535.6,588.4 536.9,588.5 538.3,588.6 539.6,588.6 541.0,588.7 542.3,588.8 543.6,588.9 544.9,589.0 546.2,589.1 547.6,589.5 548.9,590.3 550.2,591.6 551.5,593.2 552.7,595.1 554.0,597.1 555.3,599.2 556.6,601.3 557.8,603.4 559.1,605.5 560.4,607.4 561.6,609.1 562.8,610.6 564.1,612.0 565.3,613.3 566.6,614.3 567.8,615.1 569.0,615.6 570.2,616.0 571.4,616.4 572.6,616.7 573.8,617.0 575.0,617.2 576.2,617.3 577.4,617.4 578.5,617.5 579.7,617.5 580.9,617.6 582.0,617.7 583.2,617.9 584.3,618.2 585.5,618.6 586.6,619.1 587.7,619.7 588.8,620.4 590.0,621.4 591.1,622.5 592.2,623.7 593.3,624.9 594.4,626.0 595.5,626.9 596.5,627.5 597.6,627.9 598.7,628.2 599.7,628.5 600.8,628.8 601.9,629.0 602.9,629.2 603.9,629.5 605.0,629.8 606.0,630.1 607.0,630.6 608.0,631.3 609.0,632.1 610.0,633.0 611.0,633.9 612.0,634.7 613.0,635.4 614.0,635.9 615.0,636.2 615.9,636.5 616.9,636.8 617.8,637.0 618.8,637.3 619.7,637.6 620.7,637.9 621.6,638.2 622.5,638.5 623.4,638.9 624.3,639.3 625.2,639.7 626.1,640.1 627.0,640.5 627.9,640.9 628.7,641.3 629.6,641.6 630.5,642.0 631.3,642.4 632.2,642.7 633.0,643.1 633.8,643.4 634.7,643.8 635.5,644.1 636.3,644.3 637.1,644.6 637.9,644.8 638.7,645.1 639.4,645.3 640.2,645.5 641.0,645.8 641.7,646.0 642.5,646.2 643.2,646.5 644.0,646.7 644.7,647.0 645.4,647.3 646.1,647.5 646.8,647.8 647.5,648.1 648.2,648.3 648.9,648.6 649.6,648.9 650.2,649.1 650.9,649.4 651.5,649.7 652.2,649.9 652.8,650.2 653.4,650.4 654.0,650.7 654.6,650.9 655.2,651.2 655.8,651.4 656.4,651.7 657.0,651.9 657.5,652.2 658.1,652.5 658.6,652.7 659.1,652.9 659.7,653.2 660.2,653.4 660.7,653.7 661.2,653.9 661.6,654.1 662.1,654.4 662.6,654.6 663.0,654.8 663.5,655.1 663.9,655.3 664.3,655.6 664.7,655.8 665.1,656.1 665.5,656.3 665.9,656.6 666.2,656.8 666.6,657.0 666.9,657.3 667.2,657.5 667.6,657.7 667.8,657.9 668.1,658.1 668.4,658.3 668.6,658.5 668.9,658.7 669.1,658.8 669.3,658.9 669.5,659.0 669.6,659.1 669.8,659.2 669.9,659.2 670.0,659.3 670.0,659.9" fill="none" stroke="#000000" stroke-width="1.7" stroke-linejoin="round"/>
<polyline points="412.0,388.1 413.7,388.2 415.4,388.4 417.2,388.7 418.9,389.1 420.6,389.7 422.3,390.4 424.0,391.3 425.7,392.3 427.4,393.4 429.1,394.6 430.7,396.0 432.4,397.5 434.1,399.2 435.8,401.0 437.4,403.0 439.1,405.1 440.7,407.3 442.4,409.7 444.0,412.2 445.7,414.9 447.3,417.7 448.9,420.6 450.6,423.7 452.2,426.9 453.8,430.3 455.4,433.7 457.0,437.3 458.6,441.0 460.2,444.9 461.8,448.8 463.4,452.8 465.0,457.0 466.6,461.2 468.2,465.5 469.7,469.9 471.3,474.4 472.9,478.9 474.4,483.4 476.0,488.1 477.5,492.7 479.1,497.4 480.6,502.0 482.2,506.7 483.7,511.3 485.2,515.9 486.7,520.5 488.3,525.0 489.8,529.5 491.3,533.8 492.8,538.1 494.3,542.2 495.8,546.2 497.3,550.1 498.7,553.8 500.2,557.3 501.7,560.7 503.2,563.8 504.6,566.7 506.1,569.4 507.5,571.9 509.0,574.2 510.4,576.2 511.9,578.1 513.3,579.7 514.7,581.1 516.2,582.3 517.6,583.4 519.0,584.3 520.4,585.0 521.8,585.7 523.2,586.2 524.6,586.7 526.0,587.0 527.4,587.4 528.8,587.6 530.1,587.8 531.5,588.0 532.9,588.2 534.2,588.3 535.6,588.4 536.9,588.5 538.3,588.6 539.6,588.6 541.0,588.7 542.3,588.8 543.6,588.9 544.9,589.0 546.2,589.1 547.6,589.5 548.9,590.3 550.2,591.6 551.5,593.2 552.7,595.0 554.0,597.0 555.3,599.1 556.6,601.2 557.8,603.3 559.1,605.4 560.4,607.3 561.6,609.0 562.8,610.5 564.1,611.9 565.3,613.2 566.6,614.3 567.8,615.1 569.0,615.6 570.2,616.0 571.4,616.4 572.6,616.7 573.8,617.0 575.0,617.2 576.2,617.3 577.4,617.4 578.5,617.5 579.7,617.5 580.9,617.6 582.0,617.7 583.2,617.9 584.3,618.2 585.5,618.6 586.6,619.1 587.7,619.7 588.8,620.4 590.0,621.4 591.1,622.5 592.2,623.7 593.3,624.9 594.4,625.9 595.5,626.8 596.5,627.5 597.6,627.9 598.7,628.2 599.7,628.5 600.8,628.7 601.9,629.0 602.9,629.2 603.9,629.5 605.0,629.8 606.0,630.1 607.0,630.6 608.0,631.3 609.0,632.1 610.0,633.0 611.0,633.9 612.0,634.7 613.0,635.4 614.0,635.9 615.0,636.2 615.9,636.5 616.9,636.8 617.8,637.0 618.8,637.3 619.7,637.5 620.7,637.8 621.6,638.2 622.5,638.5 623.4,638.9 624.3,639.3 625.2,639.7 626.1,640.1 627.0,640.5 627.9,640.9 628.7,641.2 629.6,641.6 630.5,642.0 631.3,642.3 632.2,642.7 633.0,643.1 633.8,643.4 634.7,643.7 635.5,644.0 636.3,644.3 637.1,644.6 637.9,644.8 638.7,645.1 639.4,645.3 640.2,645.5 641.0,645.8 641.7,646.0 642.5,646.2 643.2,646.5 644.0,646.7 644.7,647.0 645.4,647.2 646.1,647.5 646.8,647.8 647.5,648.1 648.2,648.3 648.9,648.6 649.6,648.9 650.2,649.1 650.9,649.4 651.5,649.6 652.2,649.9 652.8,650.2 653.4,650.4 654.0,650.7 654.6,650.9 655.2,651.2 655.8,651.4 656.4,651.7 657.0,651.9 657.5,652.2 658.1,652.4 658.6,652.7 659.1,652.9 659.7,653.2 660.2,653.4 660.7,653.7 661.2,653.9 661.6,654.1 662.1,654.4 662.6,654.6 663.0,654.8 663.5,655.1 663.9,655.3 664.3,655.6 664.7,655.8 665.1,656.1 665.5,656.3 665.9,656.6 666.2,656.8 666.6,657.0 666.9,657.3 667.2,657.5 667.6,657.7 667.8,657.9 668.1,658.1 668.4,658.3 668.6,658.5 668.9,658.7 669.1,658.8 669.3,658.9 669.5,659.0 669.6,659.1 669.8,659.2 669.9,659.2 670.0,659.3 670.0,659.9" fill="none" stroke="#000000" stroke-width="1.7" stroke-linejoin="round"/>
<polyline points="412.0,388.1 413.7,388.2 415.4,388.4 417.2,388.7 418.9,389.1 420.6,389.7 422.3,390.4 424.0,391.3 425.7,392.2 427.4,393.4 429.1,394.6 430.7,396.0 432.4,397.5 434.1,399.2 435.8,401.0 437.4,403.0 439.1,405.0 440.7,407.3 442.4,409.7 444.0,412.2 445.7,414.8 447.3,417.6 448.9,420.6 450.6,423.6 452.2,426.8 453.8,430.2 455.4,433.6 457.0,437.2 458.6,440.9 460.2,444.7 461.8,448.7 463.4,452.7 465.0,456.8 466.6,461.1 468.2,465.4 469.7,469.7 471.3,474.2 472.9,478.7 474.4,483.3 476.0,487.9 477.5,492.5 479.1,497.2 480.6,501.9 482.2,506.5 483.7,511.2 485.2,515.8 486.7,520.4 488.3,524.9 489.8,529.3 491.3,533.7 492.8,538.0 494.3,542.1 495.8,546.1 497.3,550.0 498.7,553.7 500.2,557.2 501.7,560.6 503.2,563.7 504.6,566.7 506.1,569.4 507.5,571.9 509.0,574.2 510.4,576.2 511.9,578.1 513.3,579.7 514.7,581.1 516.2,582.3 517.6,583.4 519.0,584.3 520.4,585.0 521.8,585.7 523.2,586.2 524.6,586.7 526.0,587.1 527.4,587.4 528.8,587.6 530.1,587.8 531.5,588.0 532.9,588.2 534.2,588.3 535.6,588.4 536.9,588.5 538.3,588.6 539.6,588.6 541.0,588.7 542.3,588.8 543.6,588.9 544.9,589.0 546.2,589.1 547.6,589.5 548.9,590.2 550.2,591.5 551.5,593.1 552.7,595.0 554.0,596.9 555.3,599.0 556.6,601.1 557.8,603.3 559.1,605.3 560.4,607.2 561.6,609.0 562.8,610.5 564.1,611.9 565.3,613.2 566.6,614.2 567.8,615.0 569.0,615.6 570.2,616.0 571.4,616.4 572.6,616.7 573.8,617.0 575.0,617.2 576.2,617.3 577.4,617.4 578.5,617.5 579.7,617.5 580.9,617.6 582.0,617.7 583.2,617.9 584.3,618.2 585.5,618.6 586.6,619.0 587.7,619.6 588.8,620.4 590.0,621.3 591.1,622.4 592.2,623.6 593.3,624.8 594.4,625.9 595.5,626.8 596.5,627.5 597.6,627.9 598.7,628.2 599.7,628.5 600.8,628.7 601.9,629.0 602.9,629.2 603.9,629.5 605.0,629.8 606.0,630.1 607.0,630.6 608.0,631.3 609.0,632.1 610.0,633.0 611.0,633.9 612.0,634.7 613.0,635.3 614.0,635.8 615.0,636.2 615.9,636.5 616.9,636.8 617.8,637.0 618.8,637.3 619.7,637.5 620.7,637.8 621.6,638.2 622.5,638.5 623.4,638.9 624.3,639.3 625.2,639.7 626.1,640.1 627.0,640.5 627.9,640.8 628.7,641.2 629.6,641.6 630.5,642.0 631.3,642.3 632.2,642.7 633.0,643.1 633.8,643.4 634.7,643.7 635.5,644.0 636.3,644.3 637.1,644.6 637.9,644.8 638.7,645.1 639.4,645.3 640.2,645.5 641.0,645.8 641.7,646.0 642.5,646.2 643.2,646.5 644.0,646.7 644.7,647.0 645.4,647.2 646.1,647.5 646.8,647.8 647.5,648.1 648.2,648.3 648.9,648.6 649.6,648.9 650.2,649.1 650.9,649.4 651.5,649.6 652.2,649.9 652.8,650.1 653.4,650.4 654.0,650.7 654.6,650.9 655.2,651.2 655.8,651.4 656.4,651.7 657.0,651.9 657.5,652.2 658.1,652.4 658.6,652.7 659.1,652.9 659.7,653.2 660.2,653.4 660.7,653.7 661.2,653.9 661.6,654.1 662.1,654.4 662.6,654.6 663.0,654.8 663.5,655.1 663.9,655.3 664.3,655.6 664.7,655.8 665.1,656.1 665.5,656.3 665.9,656.5 666.2,656.8 666.6,657.0 666.9,657.3 667.2,657.5 667.6,657.7 667.8,657.9 668.1,658.1 668.4,658.3 668.6,658.5 668.9,658.7 669.1,658.8 669.3,658.9 669.5,659.0 669.6,659.1 669.8,659.2 669.9,659.2 670.0,659.3 670.0,659.9" fill="none" stroke="#010101" stroke-width="1.7" stroke-linejoin="round"/>
<polyline points="412.0,388.1 413.7,388.2 415.4,388.3 417.2,388.7 418.9,389.1 420.6,389.7 422.3,390.4 424.0,391.3 425.7,392.2 427.4,393.3 429.1,394.6 430.7,396.0 432.4,397.5 434.1,399.2 435.8,401.0 437.4,402.9 439.1,405.0 440.7,407.2 442.4,409.6 444.0,412.1 445.7,414.8 447.3,417.6 448.9,420.5 450.6,423.5 452.2,426.7 453.8,430.1 455.4,433.5 457.0,437.1 458.6,440.8 460.2,444.6 461.8,448.5 463.4,452.5 465.0,456.7 466.6,460.9 468.2,465.2 469.7,469.6 471.3,474.0 472.9,478.5 474.4,483.1 476.0,487.7 477.5,492.3 479.1,497.0 480.6,501.7 482.2,506.3 483.7,511.0 485.2,515.6 486.7,520.2 488.3,524.7 489.8,529.2 491.3,533.5 492.8,537.8 494.3,541.9 495.8,546.0 497.3,549.9 498.7,553.6 500.2,557.1 501.7,560.5 503.2,563.6 504.6,566.6 506.1,569.3 507.5,571.8 509.0,574.1 510.4,576.2 511.9,578.0 513.3,579.7 514.7,581.1 516.2,582.3 517.6,583.4 519.0,584.3 520.4,585.0 521.8,585.7 523.2,586.2 524.6,586.7 526.0,587.1 527.4,587.4 528.8,587.6 530.1,587.8 531.5,588.0 532.9,588.2 534.2,588.3 535.6,588.4 536.9,588.5 538.3,588.6 539.6,588.6 541.0,588.7 542.3,588.8 543.6,588.9 544.9,589.0 546.2,589.1 547.6,589.4 548.9,590.2 550.2,591.4 551.5,593.0 552.7,594.9 554.0,596.8 555.3,598.9 556.6,601.0 557.8,603.2 559.1,605.2 560.4,607.2 561.6,608.9 562.8,610.4 564.1,611.8 565.3,613.1 566.6,614.2 567.8,615.0 569.0,615.6 570.2,616.0 571.4,616.4 572.6,616.7 573.8,617.0 575.0,617.2 576.2,617.3 577.4,617.4 578.5,617.5 579.7,617.5 580.9,617.6 582.0,617.7 583.2,617.9 584.3,618.2 585.5,618.6 586.6,619.0 587.7,619.6 588.8,620.3 590.0,621.3 591.1,622.4 592.2,623.6 593.3,624.8 594.4,625.9 595.5,626.8 596.5,627.4 597.6,627.9 598.7,628.2 599.7,628.5 600.8,628.7 601.9,629.0 602.9,629.2 603.9,629.5 605.0,629.7 606.0,630.1 607.0,630.6 608.0,631.2 609.0,632.0 610.0,632.9 611.0,633.8 612.0,634.6 613.0,635.3 614.0,635.8 615.0,636.2 615.9,636.5 616.9,636.7 617.8,637.0 618.8,637.3 619.7,637.5 620.7,637.8 621.6,638.1 622.5,638.5 623.4,638.9 624.3,639.3 625.2,639.7 626.1,640.1 627.0,640.4 627.9,640.8 628.7,641.2 629.6,641.6 630.5,641.9 631.3,642.3 632.2,642.7 633.0,643.0 633.8,643.4 634.7,643.7 635.5,644.0 636.3,644.3 637.1,644.6 637.9,644.8 638.7,645.1 639.4,645.3 640.2,645.5 641.0,645.7 641.7,646.0 642.5,646.2 643.2,646.4 644.0,646.7 644.7,647.0 645.4,647.2 646.1,647.5 646.8,647.8 647.5,648.0 648.2,648.3 648.9,648.6 649.6,648.9 650.2,649.1 650.9,649.4 651.5,649.6 652.2,649.9 652.8,650.1 653.4,650.4 654.0,650.6 654.6,650.9 655.2,651.2 655.8,651.4 656.4,651.7 657.0,651.9 657.5,652.2 658.1,652.4 658.6,652.7 659.1,652.9 659.7,653.2 660.2,653.4 660.7,653.6 661.2,653.9 661.6,654.1 662.1,654.4 662.6,654.6 663.0,654.8 663.5,655.1 663.9,655.3 664.3,655.6 664.7,655.8 665.1,656.1 665.5,656.3 665.9,656.5 666.2,656.8 666.6,657.0 666.9,657.3 667.2,657.5 667.6,657.7 667.8,657.9 668.1,658.1 668.4,658.3 668.6,658.5 668.9,658.7 669.1,658.8 669.3,658.9 669.5,659.0 669.6,659.1 669.8,659.2 669.9,659.2 670.0,659.3 670.0,659.9" fill="none" stroke="#010101" stroke-width="1.7" stroke-linejoin="round"/>
<polyline points="412.0,388.1 413.7,388.2 415.4,388.3 417.2,388.7 418.9,389.1 420.6,389.7 422.3,390.4 424.0,391.2 425.7,392.2 427.4,393.3 429.1,394.6 430.7,395.9 432.4,397.5 434.1,399.1 435.8,400.9 437.4,402.9 439.1,404.9 440.7,407.2 442.4,409.5 444.0,412.0 445.7,414.7 447.3,417.5 448.9,420.4 450.6,423.4 452.2,426.6 453.8,429.9 455.4,433.4 457.0,437.0 458.6,440.6 460.2,444.4 461.8,448.4 463.4,452.4 465.0,456.5 466.6,460.7 468.2,465.0 469.7,469.4 471.3,473.8 472.9,478.3 474.4,482.9 476.0,487.5 477.5,492.1 479.1,496.8 480.6,501.4 482.2,506.1 483.7,510.8 485.2,515.4 486.7,520.0 488.3,524.5 489.8,528.9 491.3,533.3 492.8,537.6 494.3,541.8 495.8,545.8 497.3,549.7 498.7,553.4 500.2,557.0 501.7,560.4 503.2,563.5 504.6,566.5 506.1,569.2 507.5,571.8 509.0,574.1 510.4,576.1 511.9,578.0 513.3,579.6 514.7,581.1 516.2,582.3 517.6,583.4 519.0,584.3 520.4,585.0 521.8,585.7 523.2,586.2 524.6,586.7 526.0,587.1 527.4,587.4 528.8,587.6 530.1,587.8 531.5,588.0 532.9,588.2 534.2,588.3 535.6,588.4 536.9,588.5 538.3,588.6 539.6,588.6 541.0,588.7 542.3,588.8 543.6,588.9 544.9,589.0 546.2,589.1 547.6,589.4 548.9,590.1 550.2,591.4 551.5,593.0 552.7,594.8 554.0,596.7 555.3,598.8 556.6,600.9 557.8,603.1 559.1,605.1 560.4,607.1 561.6,608.8 562.8,610.3 564.1,611.8 565.3,613.1 566.6,614.2 567.8,615.0 569.0,615.6 570.2,616.0 571.4,616.4 572.6,616.7 573.8,617.0 575.0,617.2 576.2,617.3 577.4,617.4 578.5,617.5 579.7,617.5 580.9,617.6 582.0,617.7 583.2,617.9 584.3,618.2 585.5,618.5 586.6,619.0 587.7,619.6 588.8,620.3 590.0,621.2 591.1,622.3 592.2,623.5 593.3,624.7 594.4,625.8 595.5,626.7 596.5,627.4 597.6,627.9 598.7,628.2 599.7,628.5 600.8,628.7 601.9,629.0 602.9,629.2 603.9,629.5 605.0,629.7 606.0,630.1 607.0,630.5 608.0,631.2 609.0,632.0 610.0,632.9 611.0,633.8 612.0,634.6 613.0,635.3 614.0,635.8 615.0,636.2 615.9,636.5 616.9,636.7 617.8,637.0 618.8,637.2 619.7,637.5 620.7,637.8 621.6,638.1 622.5,638.5 623.4,638.9 624.3,639.3 625.2,639.6 626.1,640.0 627.0,640.4 627.9,640.8 628.7,641.2 629.6,641.6 630.5,641.9 631.3,642.3 632.2,642.7 633.0,643.0 633.8,643.4 634.7,643.7 635.5,644.0 636.3,644.3 637.1,644.6 637.9,644.8 638.7,645.0 639.4,645.3 640.2,645.5 641.0,645.7 641.7,646.0 642.5,646.2 643.2,646.4 644.0,646.7 644.7,646.9 645.4,647.2 646.1,647.5 646.8,647.8 647.5,648.0 648.2,648.3 648.9,648.6 649.6,648.8 650.2,649.1 650.9,649.4 651.5,649.6 652.2,649.9 652.8,650.1 653.4,650.4 654.0,650.6 654.6,650.9 655.2,651.1 655.8,651.4 656.4,651.7 657.0,651.9 657.5,652.2 658.1,652.4 658.6,652.7 659.1,652.9 659.7,653.2 660.2,653.4 660.7,653.6 661.2,653.9 661.6,654.1 662.1,654.3 662.6,654.6 663.0,654.8 663.5,655.1 663.9,655.3 664.3,655.6 664.7,655.8 665.1,656.0 665.5,656.3 665.9,656.5 666.2,656.8 666.6,657.0 666.9,657.3 667.2,657.5 667.6,657.7 667.8,657.9 668.1,658.1 668.4,658.3 668.6,658.5 668.9,658.7 669.1,658.8 669.3,658.9 669.5,659.0 669.6,659.1 669.8,659.2 669.9,659.2 670.0,659.3 670.0,659.9" fill="none" stroke="#010101" stroke-width="1.7" stroke-linejoin="round"/>
<polyline points="412.0,388.1 413.7,388.2 415.4,388.3 417.2,388.7 418.9,389.1 420.6,389.7 422.3,390.4 424.0,391.2 425.7,392.2 427.4,393.3 429.1,394.5 430.7,395.9 432.4,397.4 434.1,399.1 435.8,400.9 437.4,402.8 439.1,404.9 440.7,407.1 442.4,409.5 444.0,411.9 445.7,414.6 447.3,417.4 448.9,420.3 450.6,423.3 452.2,426.5 453.8,429.8 455.4,433.2 457.0,436.8 458.6,440.5 460.2,444.3 461.8,448.2 463.4,452.2 465.0,456.3 466.6,460.5 468.2,464.8 469.7,469.1 471.3,473.6 472.9,478.1 474.4,482.6 476.0,487.2 477.5,491.9 479.1,496.5 480.6,501.2 482.2,505.8 483.7,510.5 485.2,515.1 486.7,519.7 488.3,524.2 489.8,528.7 491.3,533.1 492.8,537.4 494.3,541.6 495.8,545.6 497.3,549.5 498.7,553.2 500.2,556.8 501.7,560.2 503.2,563.4 504.6,566.4 506.1,569.1 507.5,571.7 509.0,574.0 510.4,576.1 511.9,577.9 513.3,579.6 514.7,581.0 516.2,582.3 517.6,583.4 519.0,584.3 520.4,585.0 521.8,585.7 523.2,586.2 524.6,586.7 526.0,587.1 527.4,587.4 528.8,587.6 530.1,587.9 531.5,588.0 532.9,588.2 534.2,588.3 535.6,588.4 536.9,588.5 538.3,588.6 539.6,588.6 541.0,588.7 542.3,588.8 543.6,588.9 544.9,589.0 546.2,589.1 547.6,589.4 548.9,590.1 550.2,591.3 551.5,592.9 552.7,594.7 554.0,596.6 555.3,598.7 556.6,600.8 557.8,602.9 559.1,605.0 560.4,607.0 561.6,608.7 562.8,610.3 564.1,611.7 565.3,613.0 566.6,614.1 567.8,614.9 569.0,615.5 570.2,616.0 571.4,616.3 572.6,616.7 573.8,617.0 575.0,617.2 576.2,617.3 577.4,617.4 578.5,617.4 579.7,617.5 580.9,617.6 582.0,617.7 583.2,617.9 584.3,618.1 585.5,618.5 586.6,619.0 587.7,619.5 588.8,620.2 590.0,621.2 591.1,622.3 592.2,623.4 593.3,624.6 594.4,625.7 595.5,626.7 596.5,627.4 597.6,627.8 598.7,628.2 599.7,628.4 600.8,628.7 601.9,628.9 602.9,629.2 603.9,629.4 605.0,629.7 606.0,630.0 607.0,630.5 608.0,631.1 609.0,631.9 610.0,632.8 611.0,633.7 612.0,634.6 613.0,635.2 614.0,635.8 615.0,636.2 615.9,636.5 616.9,636.7 617.8,637.0 618.8,637.2 619.7,637.5 620.7,637.8 621.6,638.1 622.5,638.5 623.4,638.8 624.3,639.2 625.2,639.6 626.1,640.0 627.0,640.4 627.9,640.8 628.7,641.2 629.6,641.5 630.5,641.9 631.3,642.3 632.2,642.6 633.0,643.0 633.8,643.3 634.7,643.7 635.5,644.0 636.3,644.3 637.1,644.5 637.9,644.8 638.7,645.0 639.4,645.3 640.2,645.5 641.0,645.7 641.7,646.0 642.5,646.2 643.2,646.4 644.0,646.7 644.7,646.9 645.4,647.2 646.1,647.5 646.8,647.7 647.5,648.0 648.2,648.3 648.9,648.6 649.6,648.8 650.2,649.1 650.9,649.4 651.5,649.6 652.2,649.9 652.8,650.1 653.4,650.4 654.0,650.6 654.6,650.9 655.2,651.1 655.8,651.4 656.4,651.6 657.0,651.9 657.5,652.2 658.1,652.4 658.6,652.7 659.1,652.9 659.7,653.2 660.2,653.4 660.7,653.6 661.2,653.9 661.6,654.1 662.1,654.3 662.6,654.6 663.0,654.8 663.5,655.1 663.9,655.3 664.3,655.5 664.7,655.8 665.1,656.0 665.5,656.3 665.9,656.5 666.2,656.8 666.6,657.0 666.9,657.3 667.2,657.5 667.6,657.7 667.8,657.9 668.1,658.1 668.4,658.3 668.6,658.5 668.9,658.7 669.1,658.8 669.3,658.9 669.5,659.0 669.6,659.1 669.8,659.2 669.9,659.2 670.0,659.3 670.0,659.9" fill="none" stroke="#010101" stroke-width="1.7" stroke-linejoin="round"/>
<polyline points="412.0,388.1 413.7,388.2 415.4,388.3 417.2,388.7 418.9,389.1 420.6,389.7 422.3,390.4 424.0,391.2 425.7,392.2 427.4,393.3 429.1,394.5 430.7,395.9 432.4,397.4 434.1,399.0 435.8,400.8 437.4,402.7 439.1,404.8 440.7,407.0 442.4,409.4 444.0,411.9 445.7,414.5 447.3,417.2 448.9,420.1 450.6,423.2 452.2,426.3 453.8,429.6 455.4,433.1 457.0,436.6 458.6,440.3 460.2,444.1 461.8,448.0 463.4,452.0 465.0,456.1 466.6,460.2 468.2,464.5 469.7,468.9 471.3,473.3 472.9,477.8 474.4,482.4 476.0,486.9 477.5,491.6 479.1,496.2 480.6,500.9 482.2,505.5 483.7,510.2 485.2,514.8 486.7,519.4 488.3,524.0 489.8,528.4 491.3,532.8 492.8,537.1 494.3,541.3 495.8,545.4 497.3,549.3 498.7,553.0 500.2,556.6 501.7,560.0 503.2,563.2 504.6,566.2 506.1,569.0 507.5,571.6 509.0,573.9 510.4,576.0 511.9,577.9 513.3,579.5 514.7,581.0 516.2,582.3 517.6,583.3 519.0,584.3 520.4,585.0 521.8,585.7 523.2,586.2 524.6,586.7 526.0,587.1 527.4,587.4 528.8,587.6 530.1,587.9 531.5,588.0 532.9,588.2 534.2,588.3 535.6,588.4 536.9,588.5 538.3,588.6 539.6,588.6 541.0,588.7 542.3,588.8 543.6,588.9 544.9,589.0 546.2,589.1 547.6,589.4 548.9,590.0 550.2,591.2 551.5,592.8 552.7,594.6 554.0,596.5 555.3,598.6 556.6,600.7 557.8,602.8 559.1,604.9 560.4,606.9 561.6,608.6 562.8,610.2 564.1,611.6 565.3,612.9 566.6,614.0 567.8,614.9 569.0,615.5 570.2,615.9 571.4,616.3 572.6,616.7 573.8,616.9 575.0,617.2 576.2,617.3 577.4,617.4 578.5,617.4 579.7,617.5 580.9,617.6 582.0,617.7 583.2,617.9 584.3,618.1 585.5,618.5 586.6,618.9 587.7,619.5 588.8,620.2 590.0,621.1 591.1,622.2 592.2,623.4 593.3,624.5 594.4,625.7 595.5,626.6 596.5,627.3 597.6,627.8 598.7,628.2 599.7,628.4 600.8,628.7 601.9,628.9 602.9,629.2 603.9,629.4 605.0,629.7 606.0,630.0 607.0,630.5 608.0,631.1 609.0,631.9 610.0,632.8 611.0,633.7 612.0,634.5 613.0,635.2 614.0,635.7 615.0,636.1 615.9,636.4 616.9,636.7 617.8,637.0 618.8,637.2 619.7,637.5 620.7,637.8 621.6,638.1 622.5,638.4 623.4,638.8 624.3,639.2 625.2,639.6 626.1,640.0 627.0,640.4 627.9,640.8 628.7,641.1 629.6,641.5 630.5,641.9 631.3,642.3 632.2,642.6 633.0,643.0 633.8,643.3 634.7,643.7 635.5,644.0 636.3,644.3 637.1,644.5 637.9,644.8 638.7,645.0 639.4,645.3 640.2,645.5 641.0,645.7 641.7,645.9 642.5,646.2 643.2,646.4 644.0,646.7 644.7,646.9 645.4,647.2 646.1,647.5 646.8,647.7 647.5,648.0 648.2,648.3 648.9,648.5 649.6,648.8 650.2,649.1 650.9,649.3 651.5,649.6 652.2,649.8 652.8,650.1 653.4,650.4 654.0,650.6 654.6,650.9 655.2,651.1 655.8,651.4 656.4,651.6 657.0,651.9 657.5,652.1 658.1,652.4 658.6,652.7 659.1,652.9 659.7,653.1 660.2,653.4 660.7,653.6 661.2,653.9 661.6,654.1 662.1,654.3 662.6,654.6 663.0,654.8 663.5,655.0 663.9,655.3 664.3,655.5 664.7,655.8 665.1,656.0 665.5,656.3 665.9,656.5 666.2,656.8 666.6,657.0 666.9,657.2 667.2,657.5 667.6,657.7 667.8,657.9 668.1,658.1 668.4,658.3 668.6,658.5 668.9,658.7 669.1,658.8 669.3,658.9 669.5,659.0 669.6,659.1 669.8,659.2 669.9,659.2 670.0,659.3 670.0,659.9" fill="none" stroke="#010101" stroke-width="1.7" stroke-linejoin="round"/>
<polyline points="412.0,388.1 413.7,388.2 415.4,388.3 417.2,388.7 418.9,389.1 420.6,389.7 422.3,390.4 424.0,391.2 425.7,392.2 427.4,393.3 429.1,394.5 430.7,395.9 432.4,397.4 434.1,399.0 435.8,400.8 437.4,402.7 439.1,404.7 440.7,406.9 442.4,409.3 444.0,411.7 445.7,414.4 447.3,417.1 448.9,420.0 450.6,423.0 452.2,426.2 453.8,429.5 455.4,432.9 457.0,436.4 458.6,440.1 460.2,443.8 461.8,447.7 463.4,451.7 465.0,455.8 466.6,460.0 468.2,464.2 469.7,468.6 471.3,473.0 472.9,477.5 474.4,482.0 476.0,486.6 477.5,491.2 479.1,495.9 480.6,500.6 482.2,505.2 483.7,509.9 485.2,514.5 486.7,519.1 488.3,523.6 489.8,528.1 491.3,532.5 492.8,536.8 494.3,541.0 495.8,545.1 497.3,549.0 498.7,552.8 500.2,556.4 501.7,559.8 503.2,563.1 504.6,566.1 506.1,568.9 507.5,571.4 509.0,573.8 510.4,575.9 511.9,577.8 513.3,579.5 514.7,580.9 516.2,582.2 517.6,583.3 519.0,584.2 520.4,585.0 521.8,585.7 523.2,586.2 524.6,586.7 526.0,587.1 527.4,587.4 528.8,587.6 530.1,587.9 531.5,588.0 532.9,588.2 534.2,588.3 535.6,588.4 536.9,588.5 538.3,588.6 539.6,588.7 541.0,588.7 542.3,588.8 543.6,588.9 544.9,589.0 546.2,589.1 547.6,589.4 548.9,590.0 550.2,591.1 551.5,592.7 552.7,594.5 554.0,596.4 555.3,598.4 556.6,600.6 557.8,602.7 559.1,604.8 560.4,606.7 561.6,608.5 562.8,610.1 564.1,611.5 565.3,612.8 566.6,614.0 567.8,614.9 569.0,615.5 570.2,615.9 571.4,616.3 572.6,616.6 573.8,616.9 575.0,617.1 576.2,617.3 577.4,617.4 578.5,617.4 579.7,617.5 580.9,617.6 582.0,617.7 583.2,617.8 584.3,618.1 585.5,618.5 586.6,618.9 587.7,619.4 588.8,620.1 590.0,621.0 591.1,622.1 592.2,623.3 593.3,624.5 594.4,625.6 595.5,626.6 596.5,627.3 597.6,627.8 598.7,628.1 599.7,628.4 600.8,628.7 601.9,628.9 602.9,629.2 603.9,629.4 605.0,629.7 606.0,630.0 607.0,630.4 608.0,631.0 609.0,631.8 610.0,632.7 611.0,633.6 612.0,634.4 613.0,635.2 614.0,635.7 615.0,636.1 615.9,636.4 616.9,636.7 617.8,636.9 618.8,637.2 619.7,637.5 620.7,637.7 621.6,638.1 622.5,638.4 623.4,638.8 624.3,639.2 625.2,639.6 626.1,640.0 627.0,640.4 627.9,640.7 628.7,641.1 629.6,641.5 630.5,641.9 631.3,642.2 632.2,642.6 633.0,643.0 633.8,643.3 634.7,643.6 635.5,644.0 636.3,644.2 637.1,644.5 637.9,644.8 638.7,645.0 639.4,645.2 640.2,645.5 641.0,645.7 641.7,645.9 642.5,646.2 643.2,646.4 644.0,646.6 644.7,646.9 645.4,647.2 646.1,647.4 646.8,647.7 647.5,648.0 648.2,648.3 648.9,648.5 649.6,648.8 650.2,649.1 650.9,649.3 651.5,649.6 652.2,649.8 652.8,650.1 653.4,650.3 654.0,650.6 654.6,650.8 655.2,651.1 655.8,651.4 656.4,651.6 657.0,651.9 657.5,652.1 658.1,652.4 658.6,652.6 659.1,652.9 659.7,653.1 660.2,653.4 660.7,653.6 661.2,653.8 661.6,654.1 662.1,654.3 662.6,654.6 663.0,654.8 663.5,655.0 663.9,655.3 664.3,655.5 664.7,655.8 665.1,656.0 665.5,656.3 665.9,656.5 666.2,656.8 666.6,657.0 666.9,657.2 667.2,657.5 667.6,657.7 667.8,657.9 668.1,658.1 668.4,658.3 668.6,658.5 668.9,658.7 669.1,658.8 669.3,658.9 669.5,659.0 669.6,659.1 669.8,659.2 669.9,659.2 670.0,659.3 670.0,659.9" fill="none" stroke="#020202" stroke-width="1.7" stroke-linejoin="round"/>
<polyline points="412.0,388.1 413.7,388.2 415.4,388.3 417.2,388.7 418.9,389.1 420.6,389.7 422.3,390.4 424.0,391.2 425.7,392.1 427.4,393.2 429.1,394.5 430.7,395.8 432.4,397.3 434.1,398.9 435.8,400.7 437.4,402.6 439.1,404.7 440.7,406.8 442.4,409.2 444.0,411.6 445.7,414.2 447.3,417.0 448.9,419.8 450.6,422.9 452.2,426.0 453.8,429.3 455.4,432.7 457.0,436.2 458.6,439.8 460.2,443.6 461.8,447.5 463.4,451.4 465.0,455.5 466.6,459.7 468.2,463.9 469.7,468.3 471.3,472.7 472.9,477.2 474.4,481.7 476.0,486.3 477.5,490.9 479.1,495.5 480.6,500.2 482.2,504.8 483.7,509.5 485.2,514.1 486.7,518.7 488.3,523.3 489.8,527.8 491.3,532.2 492.8,536.5 494.3,540.7 495.8,544.8 497.3,548.7 498.7,552.5 500.2,556.1 501.7,559.6 503.2,562.8 504.6,565.9 506.1,568.7 507.5,571.3 509.0,573.7 510.4,575.8 511.9,577.7 513.3,579.4 514.7,580.9 516.2,582.2 517.6,583.3 519.0,584.2 520.4,585.0 521.8,585.6 523.2,586.2 524.6,586.7 526.0,587.1 527.4,587.4 528.8,587.6 530.1,587.9 531.5,588.0 532.9,588.2 534.2,588.3 535.6,588.4 536.9,588.5 538.3,588.6 539.6,588.7 541.0,588.7 542.3,588.8 543.6,588.9 544.9,589.0 546.2,589.1 547.6,589.3 548.9,589.9 550.2,591.0 551.5,592.6 552.7,594.3 554.0,596.3 555.3,598.3 556.6,600.4 557.8,602.5 559.1,604.6 560.4,606.6 561.6,608.4 562.8,610.0 564.1,611.4 565.3,612.7 566.6,613.9 567.8,614.8 569.0,615.4 570.2,615.9 571.4,616.3 572.6,616.6 573.8,616.9 575.0,617.1 576.2,617.3 577.4,617.4 578.5,617.4 579.7,617.5 580.9,617.6 582.0,617.7 583.2,617.8 584.3,618.1 585.5,618.4 586.6,618.9 587.7,619.4 588.8,620.1 590.0,621.0 591.1,622.0 592.2,623.2 593.3,624.4 594.4,625.5 595.5,626.5 596.5,627.2 597.6,627.8 598.7,628.1 599.7,628.4 600.8,628.7 601.9,628.9 602.9,629.1 603.9,629.4 605.0,629.7 606.0,630.0 607.0,630.4 608.0,631.0 609.0,631.7 610.0,632.6 611.0,633.5 612.0,634.4 613.0,635.1 614.0,635.7 615.0,636.1 615.9,636.4 616.9,636.7 617.8,636.9 618.8,637.2 619.7,637.4 620.7,637.7 621.6,638.0 622.5,638.4 623.4,638.8 624.3,639.1 625.2,639.5 626.1,639.9 627.0,640.3 627.9,640.7 628.7,641.1 629.6,641.5 630.5,641.8 631.3,642.2 632.2,642.6 633.0,642.9 633.8,643.3 634.7,643.6 635.5,643.9 636.3,644.2 637.1,644.5 637.9,644.7 638.7,645.0 639.4,645.2 640.2,645.4 641.0,645.7 641.7,645.9 642.5,646.1 643.2,646.4 644.0,646.6 644.7,646.9 645.4,647.2 646.1,647.4 646.8,647.7 647.5,648.0 648.2,648.2 648.9,648.5 649.6,648.8 650.2,649.0 650.9,649.3 651.5,649.6 652.2,649.8 652.8,650.1 653.4,650.3 654.0,650.6 654.6,650.8 655.2,651.1 655.8,651.3 656.4,651.6 657.0,651.9 657.5,652.1 658.1,652.4 658.6,652.6 659.1,652.9 659.7,653.1 660.2,653.4 660.7,653.6 661.2,653.8 661.6,654.1 662.1,654.3 662.6,654.5 663.0,654.8 663.5,655.0 663.9,655.3 664.3,655.5 664.7,655.8 665.1,656.0 665.5,656.3 665.9,656.5 666.2,656.8 666.6,657.0 666.9,657.2 667.2,657.5 667.6,657.7 667.8,657.9 668.1,658.1 668.4,658.3 668.6,658.5 668.9,658.7 669.1,658.8 669.3,658.9 669.5,659.0 669.6,659.1 669.8,659.2 669.9,659.3 670.0,659.3 670.0,659.9" fill="none" stroke="#020202" stroke-width="1.7" stroke-linejoin="round"/>
<polyline points="412.0,388.1 413.7,388.2 415.4,388.3 417.2,388.7 418.9,389.1 420.6,389.7 422.3,390.4 424.0,391.2 425.7,392.1 427.4,393.2 429.1,394.4 430.7,395.8 432.4,397.3 434.1,398.9 435.8,400.6 437.4,402.5 439.1,404.6 440.7,406.7 442.4,409.0 444.0,411.5 445.7,414.1 447.3,416.8 448.9,419.7 450.6,422.7 452.2,425.8 453.8,429.1 455.4,432.4 457.0,435.9 458.6,439.6 460.2,443.3 461.8,447.2 463.4,451.1 465.0,455.2 466.6,459.3 468.2,463.6 469.7,467.9 471.3,472.3 472.9,476.8 474.4,481.3 476.0,485.9 477.5,490.5 479.1,495.1 480.6,499.8 482.2,504.4 483.7,509.1 485.2,513.7 486.7,518.3 488.3,522.9 489.8,527.4 491.3,531.8 492.8,536.1 494.3,540.3 495.8,544.4 497.3,548.4 498.7,552.2 500.2,555.8 501.7,559.3 503.2,562.6 504.6,565.6 506.1,568.5 507.5,571.1 509.0,573.5 510.4,575.7 511.9,577.6 513.3,579.3 514.7,580.8 516.2,582.1 517.6,583.2 519.0,584.2 520.4,585.0 521.8,585.6 523.2,586.2 524.6,586.7 526.0,587.1 527.4,587.4 528.8,587.6 530.1,587.9 531.5,588.0 532.9,588.2 534.2,588.3 535.6,588.4 536.9,588.5 538.3,588.6 539.6,588.7 541.0,588.7 542.3,588.8 543.6,588.9 544.9,589.0 546.2,589.1 547.6,589.3 548.9,589.9 550.2,590.9 551.5,592.4 552.7,594.2 554.0,596.1 555.3,598.1 556.6,600.2 557.8,602.4 559.1,604.5 560.4,606.4 561.6,608.3 562.8,609.9 564.1,611.3 565.3,612.6 566.6,613.8 567.8,614.7 569.0,615.4 570.2,615.9 571.4,616.2 572.6,616.6 573.8,616.9 575.0,617.1 576.2,617.3 577.4,617.4 578.5,617.4 579.7,617.5 580.9,617.6 582.0,617.7 583.2,617.8 584.3,618.1 585.5,618.4 586.6,618.8 587.7,619.4 588.8,620.0 590.0,620.9 591.1,621.9 592.2,623.1 593.3,624.3 594.4,625.4 595.5,626.4 596.5,627.2 597.6,627.7 598.7,628.1 599.7,628.4 600.8,628.6 601.9,628.9 602.9,629.1 603.9,629.4 605.0,629.6 606.0,629.9 607.0,630.4 608.0,630.9 609.0,631.7 610.0,632.5 611.0,633.5 612.0,634.3 613.0,635.1 614.0,635.6 615.0,636.1 615.9,636.4 616.9,636.6 617.8,636.9 618.8,637.2 619.7,637.4 620.7,637.7 621.6,638.0 622.5,638.4 623.4,638.7 624.3,639.1 625.2,639.5 626.1,639.9 627.0,640.3 627.9,640.7 628.7,641.1 629.6,641.4 630.5,641.8 631.3,642.2 632.2,642.5 633.0,642.9 633.8,643.2 634.7,643.6 635.5,643.9 636.3,644.2 637.1,644.5 637.9,644.7 638.7,645.0 639.4,645.2 640.2,645.4 641.0,645.7 641.7,645.9 642.5,646.1 643.2,646.4 644.0,646.6 644.7,646.9 645.4,647.1 646.1,647.4 646.8,647.7 647.5,648.0 648.2,648.2 648.9,648.5 649.6,648.8 650.2,649.0 650.9,649.3 651.5,649.5 652.2,649.8 652.8,650.1 653.4,650.3 654.0,650.6 654.6,650.8 655.2,651.1 655.8,651.3 656.4,651.6 657.0,651.8 657.5,652.1 658.1,652.4 658.6,652.6 659.1,652.9 659.7,653.1 660.2,653.3 660.7,653.6 661.2,653.8 661.6,654.1 662.1,654.3 662.6,654.5 663.0,654.8 663.5,655.0 663.9,655.3 664.3,655.5 664.7,655.8 665.1,656.0 665.5,656.3 665.9,656.5 666.2,656.7 666.6,657.0 666.9,657.2 667.2,657.5 667.6,657.7 667.8,657.9 668.1,658.1 668.4,658.3 668.6,658.5 668.9,658.7 669.1,658.8 669.3,658.9 669.5,659.0 669.6,659.1 669.8,659.2 669.9,659.3 670.0,659.3 670.0,659.9" fill="none" stroke="#020202" stroke-width="1.7" stroke-linejoin="round"/>
<polyline points="412.0,388.1 413.7,388.2 415.4,388.3 417.2,388.7 418.9,389.1 420.6,389.7 422.3,390.3 424.0,391.2 425.7,392.1 427.4,393.2 429.1,394.4 430.7,395.7 432.4,397.2 434.1,398.8 435.8,400.6 437.4,402.4 439.1,404.5 440.7,406.6 442.4,408.9 444.0,411.4 445.7,413.9 447.3,416.6 448.9,419.5 450.6,422.5 452.2,425.6 453.8,428.8 455.4,432.2 457.0,435.7 458.6,439.3 460.2,443.0 461.8,446.9 463.4,450.8 465.0,454.8 466.6,459.0 468.2,463.2 469.7,467.5 471.3,471.9 472.9,476.4 474.4,480.9 476.0,485.4 477.5,490.0 479.1,494.7 480.6,499.3 482.2,504.0 483.7,508.6 485.2,513.2 486.7,517.8 488.3,522.4 489.8,526.9 491.3,531.3 492.8,535.7 494.3,539.9 495.8,544.0 497.3,548.0 498.7,551.8 500.2,555.5 501.7,559.0 503.2,562.3 504.6,565.4 506.1,568.2 507.5,570.9 509.0,573.3 510.4,575.5 511.9,577.5 513.3,579.2 514.7,580.7 516.2,582.0 517.6,583.2 519.0,584.1 520.4,584.9 521.8,585.6 523.2,586.2 524.6,586.7 526.0,587.0 527.4,587.4 528.8,587.6 530.1,587.9 531.5,588.0 532.9,588.2 534.2,588.3 535.6,588.4 536.9,588.5 538.3,588.6 539.6,588.7 541.0,588.7 542.3,588.8 543.6,588.9 544.9,589.0 546.2,589.1 547.6,589.3 548.9,589.8 550.2,590.8 551.5,592.3 552.7,594.0 554.0,595.9 555.3,598.0 556.6,600.1 557.8,602.2 559.1,604.3 560.4,606.3 561.6,608.1 562.8,609.7 564.1,611.2 565.3,612.5 566.6,613.7 567.8,614.7 569.0,615.4 570.2,615.8 571.4,616.2 572.6,616.6 573.8,616.9 575.0,617.1 576.2,617.3 577.4,617.4 578.5,617.4 579.7,617.5 580.9,617.6 582.0,617.7 583.2,617.8 584.3,618.0 585.5,618.4 586.6,618.8 587.7,619.3 588.8,620.0 590.0,620.8 591.1,621.8 592.2,623.0 593.3,624.2 594.4,625.3 595.5,626.3 596.5,627.1 597.6,627.7 598.7,628.1 599.7,628.4 600.8,628.6 601.9,628.9 602.9,629.1 603.9,629.4 605.0,629.6 606.0,629.9 607.0,630.3 608.0,630.9 609.0,631.6 610.0,632.5 611.0,633.4 612.0,634.2 613.0,635.0 614.0,635.6 615.0,636.0 615.9,636.3 616.9,636.6 617.8,636.9 618.8,637.1 619.7,637.4 620.7,637.7 621.6,638.0 622.5,638.3 623.4,638.7 624.3,639.1 625.2,639.5 626.1,639.9 627.0,640.3 627.9,640.6 628.7,641.0 629.6,641.4 630.5,641.8 631.3,642.1 632.2,642.5 633.0,642.9 633.8,643.2 634.7,643.6 635.5,643.9 636.3,644.2 637.1,644.5 637.9,644.7 638.7,644.9 639.4,645.2 640.2,645.4 641.0,645.6 641.7,645.9 642.5,646.1 643.2,646.3 644.0,646.6 644.7,646.8 645.4,647.1 646.1,647.4 646.8,647.7 647.5,647.9 648.2,648.2 648.9,648.5 649.6,648.7 650.2,649.0 650.9,649.3 651.5,649.5 652.2,649.8 652.8,650.0 653.4,650.3 654.0,650.5 654.6,650.8 655.2,651.1 655.8,651.3 656.4,651.6 657.0,651.8 657.5,652.1 658.1,652.3 658.6,652.6 659.1,652.8 659.7,653.1 660.2,653.3 660.7,653.6 661.2,653.8 661.6,654.0 662.1,654.3 662.6,654.5 663.0,654.8 663.5,655.0 663.9,655.3 664.3,655.5 664.7,655.7 665.1,656.0 665.5,656.2 665.9,656.5 666.2,656.7 666.6,657.0 666.9,657.2 667.2,657.5 667.6,657.7 667.8,657.9 668.1,658.1 668.4,658.3 668.6,658.5 668.9,658.6 669.1,658.8 669.3,658.9 669.5,659.0 669.6,659.1 669.8,659.2 669.9,659.3 670.0,659.3 670.0,659.9" fill="none" stroke="#020202" stroke-width="1.7" stroke-linejoin="round"/>
<polyline points="412.0,388.1 413.7,388.2 415.4,388.3 417.2,388.7 418.9,389.1 420.6,389.6 422.3,390.3 424.0,391.1 425.7,392.1 427.4,393.1 429.1,394.3 430.7,395.7 432.4,397.1 434.1,398.7 435.8,400.5 437.4,402.3 439.1,404.3 440.7,406.5 442.4,408.8 444.0,411.2 445.7,413.8 447.3,416.5 448.9,419.3 450.6,422.2 452.2,425.3 453.8,428.6 455.4,431.9 457.0,435.4 458.6,439.0 460.2,442.7 461.8,446.5 463.4,450.4 465.0,454.5 466.6,458.6 468.2,462.8 469.7,467.1 471.3,471.5 472.9,475.9 474.4,480.4 476.0,484.9 477.5,489.5 479.1,494.2 480.6,498.8 482.2,503.4 483.7,508.1 485.2,512.7 486.7,517.3 488.3,521.9 489.8,526.4 491.3,530.8 492.8,535.2 494.3,539.4 495.8,543.6 497.3,547.6 498.7,551.4 500.2,555.1 501.7,558.6 503.2,562.0 504.6,565.1 506.1,568.0 507.5,570.6 509.0,573.1 510.4,575.3 511.9,577.3 513.3,579.1 514.7,580.6 516.2,581.9 517.6,583.1 519.0,584.1 520.4,584.9 521.8,585.5 523.2,586.1 524.6,586.6 526.0,587.0 527.4,587.4 528.8,587.6 530.1,587.9 531.5,588.0 532.9,588.2 534.2,588.3 535.6,588.4 536.9,588.5 538.3,588.6 539.6,588.7 541.0,588.7 542.3,588.8 543.6,588.9 544.9,589.0 546.2,589.1 547.6,589.3 548.9,589.8 550.2,590.7 551.5,592.2 552.7,593.9 554.0,595.8 555.3,597.8 556.6,599.9 557.8,602.0 559.1,604.1 560.4,606.1 561.6,608.0 562.8,609.6 564.1,611.1 565.3,612.4 566.6,613.6 567.8,614.6 569.0,615.3 570.2,615.8 571.4,616.2 572.6,616.5 573.8,616.9 575.0,617.1 576.2,617.3 577.4,617.4 578.5,617.4 579.7,617.5 580.9,617.6 582.0,617.7 583.2,617.8 584.3,618.0 585.5,618.3 586.6,618.8 587.7,619.3 588.8,619.9 590.0,620.7 591.1,621.7 592.2,622.9 593.3,624.1 594.4,625.2 595.5,626.2 596.5,627.1 597.6,627.7 598.7,628.0 599.7,628.3 600.8,628.6 601.9,628.8 602.9,629.1 603.9,629.3 605.0,629.6 606.0,629.9 607.0,630.3 608.0,630.8 609.0,631.5 610.0,632.4 611.0,633.3 612.0,634.2 613.0,634.9 614.0,635.5 615.0,636.0 615.9,636.3 616.9,636.6 617.8,636.9 618.8,637.1 619.7,637.4 620.7,637.6 621.6,638.0 622.5,638.3 623.4,638.7 624.3,639.0 625.2,639.4 626.1,639.8 627.0,640.2 627.9,640.6 628.7,641.0 629.6,641.4 630.5,641.7 631.3,642.1 632.2,642.5 633.0,642.8 633.8,643.2 634.7,643.5 635.5,643.9 636.3,644.2 637.1,644.4 637.9,644.7 638.7,644.9 639.4,645.2 640.2,645.4 641.0,645.6 641.7,645.9 642.5,646.1 643.2,646.3 644.0,646.6 644.7,646.8 645.4,647.1 646.1,647.4 646.8,647.6 647.5,647.9 648.2,648.2 648.9,648.5 649.6,648.7 650.2,649.0 650.9,649.2 651.5,649.5 652.2,649.8 652.8,650.0 653.4,650.3 654.0,650.5 654.6,650.8 655.2,651.0 655.8,651.3 656.4,651.6 657.0,651.8 657.5,652.1 658.1,652.3 658.6,652.6 659.1,652.8 659.7,653.1 660.2,653.3 660.7,653.6 661.2,653.8 661.6,654.0 662.1,654.3 662.6,654.5 663.0,654.8 663.5,655.0 663.9,655.2 664.3,655.5 664.7,655.7 665.1,656.0 665.5,656.2 665.9,656.5 666.2,656.7 666.6,657.0 666.9,657.2 667.2,657.4 667.6,657.7 667.8,657.9 668.1,658.1 668.4,658.3 668.6,658.5 668.9,658.6 669.1,658.8 669.3,658.9 669.5,659.0 669.6,659.1 669.8,659.2 669.9,659.3 670.0,659.3 670.0,659.9" fill="none" stroke="#030303" stroke-width="1.7" stroke-linejoin="round"/>
<polyline points="412.0,388.1 413.7,388.2 415.4,388.3 417.2,388.6 418.9,389.1 420.6,389.6 422.3,390.3 424.0,391.1 425.7,392.0 427.4,393.1 429.1,394.3 430.7,395.6 432.4,397.1 434.1,398.7 435.8,400.4 437.4,402.2 439.1,404.2 440.7,406.4 442.4,408.6 444.0,411.0 445.7,413.6 447.3,416.3 448.9,419.1 450.6,422.0 452.2,425.1 453.8,428.3 455.4,431.6 457.0,435.1 458.6,438.6 460.2,442.3 461.8,446.1 463.4,450.0 465.0,454.0 466.6,458.1 468.2,462.3 469.7,466.6 471.3,471.0 472.9,475.4 474.4,479.9 476.0,484.4 477.5,489.0 479.1,493.6 480.6,498.2 482.2,502.9 483.7,507.5 485.2,512.2 486.7,516.8 488.3,521.3 489.8,525.8 491.3,530.3 492.8,534.7 494.3,538.9 495.8,543.1 497.3,547.1 498.7,551.0 500.2,554.7 501.7,558.2 503.2,561.6 504.6,564.7 506.1,567.7 507.5,570.4 509.0,572.8 510.4,575.1 511.9,577.1 513.3,578.9 514.7,580.5 516.2,581.8 517.6,583.0 519.0,584.0 520.4,584.8 521.8,585.5 523.2,586.1 524.6,586.6 526.0,587.0 527.4,587.4 528.8,587.6 530.1,587.9 531.5,588.0 532.9,588.2 534.2,588.3 535.6,588.4 536.9,588.5 538.3,588.6 539.6,588.7 541.0,588.7 542.3,588.8 543.6,588.9 544.9,589.0 546.2,589.1 547.6,589.3 548.9,589.7 550.2,590.6 551.5,592.0 552.7,593.7 554.0,595.6 555.3,597.6 556.6,599.7 557.8,601.8 559.1,603.9 560.4,605.9 561.6,607.8 562.8,609.4 564.1,610.9 565.3,612.3 566.6,613.5 567.8,614.5 569.0,615.3 570.2,615.8 571.4,616.2 572.6,616.5 573.8,616.8 575.0,617.1 576.2,617.3 577.4,617.4 578.5,617.4 579.7,617.5 580.9,617.6 582.0,617.7 583.2,617.8 584.3,618.0 585.5,618.3 586.6,618.7 587.7,619.2 588.8,619.8 590.0,620.6 591.1,621.6 592.2,622.7 593.3,623.9 594.4,625.1 595.5,626.2 596.5,627.0 597.6,627.6 598.7,628.0 599.7,628.3 600.8,628.6 601.9,628.8 602.9,629.1 603.9,629.3 605.0,629.6 606.0,629.8 607.0,630.2 608.0,630.7 609.0,631.4 610.0,632.3 611.0,633.2 612.0,634.1 613.0,634.9 614.0,635.5 615.0,635.9 615.9,636.3 616.9,636.6 617.8,636.8 618.8,637.1 619.7,637.3 620.7,637.6 621.6,637.9 622.5,638.3 623.4,638.6 624.3,639.0 625.2,639.4 626.1,639.8 627.0,640.2 627.9,640.6 628.7,641.0 629.6,641.3 630.5,641.7 631.3,642.1 632.2,642.4 633.0,642.8 633.8,643.2 634.7,643.5 635.5,643.8 636.3,644.1 637.1,644.4 637.9,644.7 638.7,644.9 639.4,645.1 640.2,645.4 641.0,645.6 641.7,645.8 642.5,646.1 643.2,646.3 644.0,646.5 644.7,646.8 645.4,647.1 646.1,647.3 646.8,647.6 647.5,647.9 648.2,648.2 648.9,648.4 649.6,648.7 650.2,649.0 650.9,649.2 651.5,649.5 652.2,649.7 652.8,650.0 653.4,650.3 654.0,650.5 654.6,650.8 655.2,651.0 655.8,651.3 656.4,651.5 657.0,651.8 657.5,652.1 658.1,652.3 658.6,652.6 659.1,652.8 659.7,653.1 660.2,653.3 660.7,653.5 661.2,653.8 661.6,654.0 662.1,654.3 662.6,654.5 663.0,654.7 663.5,655.0 663.9,655.2 664.3,655.5 664.7,655.7 665.1,656.0 665.5,656.2 665.9,656.5 666.2,656.7 666.6,657.0 666.9,657.2 667.2,657.4 667.6,657.7 667.8,657.9 668.1,658.1 668.4,658.3 668.6,658.5 668.9,658.6 669.1,658.8 669.3,658.9 669.5,659.0 669.6,659.1 669.8,659.2 669.9,659.3 670.0,659.3 670.0,659.9" fill="none" stroke="#030303" stroke-width="1.7" stroke-linejoin="round"/>
<polyline points="412.0,388.1 413.7,388.2 415.4,388.3 417.2,388.6 418.9,389.1 420.6,389.6 422.3,390.3 424.0,391.1 425.7,392.0 427.4,393.1 429.1,394.2 430.7,395.5 432.4,397.0 434.1,398.6 435.8,400.3 437.4,402.1 439.1,404.1 440.7,406.2 442.4,408.5 444.0,410.9 445.7,413.4 447.3,416.0 448.9,418.8 450.6,421.8 452.2,424.8 453.8,428.0 455.4,431.3 457.0,434.7 458.6,438.3 460.2,441.9 461.8,445.7 463.4,449.6 465.0,453.6 466.6,457.7 468.2,461.9 469.7,466.1 471.3,470.4 472.9,474.9 474.4,479.3 476.0,483.8 477.5,488.4 479.1,493.0 480.6,497.6 482.2,502.3 483.7,506.9 485.2,511.5 486.7,516.1 488.3,520.7 489.8,525.2 491.3,529.7 492.8,534.1 494.3,538.3 495.8,542.5 497.3,546.6 498.7,550.5 500.2,554.2 501.7,557.8 503.2,561.2 504.6,564.3 506.1,567.3 507.5,570.0 509.0,572.6 510.4,574.8 511.9,576.9 513.3,578.7 514.7,580.3 516.2,581.7 517.6,582.9 519.0,583.9 520.4,584.7 521.8,585.4 523.2,586.0 524.6,586.6 526.0,587.0 527.4,587.3 528.8,587.6 530.1,587.8 531.5,588.0 532.9,588.2 534.2,588.3 535.6,588.4 536.9,588.5 538.3,588.6 539.6,588.7 541.0,588.7 542.3,588.8 543.6,588.9 544.9,589.0 546.2,589.1 547.6,589.2 548.9,589.7 550.2,590.5 551.5,591.9 552.7,593.6 554.0,595.4 555.3,597.4 556.6,599.5 557.8,601.6 559.1,603.7 560.4,605.7 561.6,607.6 562.8,609.3 564.1,610.8 565.3,612.2 566.6,613.4 567.8,614.4 569.0,615.2 570.2,615.7 571.4,616.1 572.6,616.5 573.8,616.8 575.0,617.1 576.2,617.2 577.4,617.4 578.5,617.4 579.7,617.5 580.9,617.6 582.0,617.7 583.2,617.8 584.3,618.0 585.5,618.3 586.6,618.7 587.7,619.2 588.8,619.7 590.0,620.5 591.1,621.5 592.2,622.6 593.3,623.8 594.4,625.0 595.5,626.0 596.5,626.9 597.6,627.5 598.7,628.0 599.7,628.3 600.8,628.5 601.9,628.8 602.9,629.0 603.9,629.3 605.0,629.5 606.0,629.8 607.0,630.2 608.0,630.7 609.0,631.4 610.0,632.2 611.0,633.1 612.0,634.0 613.0,634.8 614.0,635.4 615.0,635.9 615.9,636.3 616.9,636.5 617.8,636.8 618.8,637.1 619.7,637.3 620.7,637.6 621.6,637.9 622.5,638.2 623.4,638.6 624.3,639.0 625.2,639.4 626.1,639.8 627.0,640.1 627.9,640.5 628.7,640.9 629.6,641.3 630.5,641.7 631.3,642.0 632.2,642.4 633.0,642.8 633.8,643.1 634.7,643.5 635.5,643.8 636.3,644.1 637.1,644.4 637.9,644.6 638.7,644.9 639.4,645.1 640.2,645.4 641.0,645.6 641.7,645.8 642.5,646.0 643.2,646.3 644.0,646.5 644.7,646.8 645.4,647.0 646.1,647.3 646.8,647.6 647.5,647.9 648.2,648.1 648.9,648.4 649.6,648.7 650.2,648.9 650.9,649.2 651.5,649.5 652.2,649.7 652.8,650.0 653.4,650.2 654.0,650.5 654.6,650.7 655.2,651.0 655.8,651.3 656.4,651.5 657.0,651.8 657.5,652.0 658.1,652.3 658.6,652.5 659.1,652.8 659.7,653.0 660.2,653.3 660.7,653.5 661.2,653.8 661.6,654.0 662.1,654.2 662.6,654.5 663.0,654.7 663.5,655.0 663.9,655.2 664.3,655.5 664.7,655.7 665.1,656.0 665.5,656.2 665.9,656.5 666.2,656.7 666.6,657.0 666.9,657.2 667.2,657.4 667.6,657.7 667.8,657.9 668.1,658.1 668.4,658.3 668.6,658.5 668.9,658.6 669.1,658.8 669.3,658.9 669.5,659.0 669.6,659.1 669.8,659.2 669.9,659.3 670.0,659.3 670.0,659.9" fill="none" stroke="#040404" stroke-width="1.7" stroke-linejoin="round"/>
<polyline points="412.0,388.1 413.7,388.2 415.4,388.3 417.2,388.6 418.9,389.1 420.6,389.6 422.3,390.3 424.0,391.1 425.7,392.0 427.4,393.0 429.1,394.2 430.7,395.5 432.4,396.9 434.1,398.5 435.8,400.2 437.4,402.0 439.1,404.0 440.7,406.1 442.4,408.3 444.0,410.7 445.7,413.2 447.3,415.8 448.9,418.6 450.6,421.5 452.2,424.5 453.8,427.7 455.4,430.9 457.0,434.4 458.6,437.9 460.2,441.5 461.8,445.3 463.4,449.1 465.0,453.1 466.6,457.2 468.2,461.3 469.7,465.6 471.3,469.9 472.9,474.3 474.4,478.7 476.0,483.2 477.5,487.8 479.1,492.4 480.6,497.0 482.2,501.6 483.7,506.2 485.2,510.9 486.7,515.5 488.3,520.0 489.8,524.6 491.3,529.0 492.8,533.4 494.3,537.7 495.8,541.9 497.3,546.0 498.7,549.9 500.2,553.7 501.7,557.3 503.2,560.7 504.6,563.9 506.1,566.9 507.5,569.7 509.0,572.2 510.4,574.6 511.9,576.6 513.3,578.5 514.7,580.1 516.2,581.5 517.6,582.8 519.0,583.8 520.4,584.7 521.8,585.4 523.2,586.0 524.6,586.6 526.0,587.0 527.4,587.3 528.8,587.6 530.1,587.8 531.5,588.0 532.9,588.2 534.2,588.3 535.6,588.4 536.9,588.5 538.3,588.6 539.6,588.7 541.0,588.7 542.3,588.8 543.6,588.9 544.9,589.0 546.2,589.1 547.6,589.2 548.9,589.6 550.2,590.4 551.5,591.7 552.7,593.4 554.0,595.2 555.3,597.2 556.6,599.3 557.8,601.4 559.1,603.5 560.4,605.5 561.6,607.4 562.8,609.1 564.1,610.6 565.3,612.0 566.6,613.3 567.8,614.3 569.0,615.1 570.2,615.7 571.4,616.1 572.6,616.4 573.8,616.8 575.0,617.0 576.2,617.2 577.4,617.4 578.5,617.4 579.7,617.5 580.9,617.6 582.0,617.7 583.2,617.8 584.3,618.0 585.5,618.2 586.6,618.6 587.7,619.1 588.8,619.7 590.0,620.4 591.1,621.4 592.2,622.5 593.3,623.7 594.4,624.8 595.5,625.9 596.5,626.8 597.6,627.5 598.7,627.9 599.7,628.3 600.8,628.5 601.9,628.8 602.9,629.0 603.9,629.3 605.0,629.5 606.0,629.8 607.0,630.1 608.0,630.6 609.0,631.3 610.0,632.1 611.0,633.0 612.0,633.9 613.0,634.7 614.0,635.4 615.0,635.9 615.9,636.2 616.9,636.5 617.8,636.8 618.8,637.0 619.7,637.3 620.7,637.6 621.6,637.9 622.5,638.2 623.4,638.5 624.3,638.9 625.2,639.3 626.1,639.7 627.0,640.1 627.9,640.5 628.7,640.9 629.6,641.2 630.5,641.6 631.3,642.0 632.2,642.4 633.0,642.7 633.8,643.1 634.7,643.4 635.5,643.8 636.3,644.1 637.1,644.3 637.9,644.6 638.7,644.9 639.4,645.1 640.2,645.3 641.0,645.6 641.7,645.8 642.5,646.0 643.2,646.3 644.0,646.5 644.7,646.7 645.4,647.0 646.1,647.3 646.8,647.6 647.5,647.8 648.2,648.1 648.9,648.4 649.6,648.6 650.2,648.9 650.9,649.2 651.5,649.4 652.2,649.7 652.8,650.0 653.4,650.2 654.0,650.5 654.6,650.7 655.2,651.0 655.8,651.2 656.4,651.5 657.0,651.8 657.5,652.0 658.1,652.3 658.6,652.5 659.1,652.8 659.7,653.0 660.2,653.3 660.7,653.5 661.2,653.7 661.6,654.0 662.1,654.2 662.6,654.5 663.0,654.7 663.5,655.0 663.9,655.2 664.3,655.4 664.7,655.7 665.1,655.9 665.5,656.2 665.9,656.4 666.2,656.7 666.6,656.9 666.9,657.2 667.2,657.4 667.6,657.7 667.8,657.9 668.1,658.1 668.4,658.3 668.6,658.5 668.9,658.6 669.1,658.8 669.3,658.9 669.5,659.0 669.6,659.1 669.8,659.2 669.9,659.3 670.0,659.3 670.0,659.9" fill="none" stroke="#040404" stroke-width="1.7" stroke-linejoin="round"/>
<polyline points="412.0,388.1 413.7,388.2 415.4,388.3 417.2,388.6 418.9,389.1 420.6,389.6 422.3,390.2 424.0,391.0 425.7,391.9 427.4,393.0 429.1,394.1 430.7,395.4 432.4,396.8 434.1,398.4 435.8,400.1 437.4,401.9 439.1,403.8 440.7,405.9 442.4,408.1 444.0,410.5 445.7,412.9 447.3,415.5 448.9,418.3 450.6,421.2 452.2,424.2 453.8,427.3 455.4,430.6 457.0,434.0 458.6,437.5 460.2,441.1 461.8,444.8 463.4,448.6 465.0,452.6 466.6,456.6 468.2,460.7 469.7,465.0 471.3,469.3 472.9,473.6 474.4,478.1 476.0,482.5 477.5,487.1 479.1,491.7 480.6,496.3 482.2,500.9 483.7,505.5 485.2,510.1 486.7,514.7 488.3,519.3 489.8,523.8 491.3,528.3 492.8,532.7 494.3,537.0 495.8,541.2 497.3,545.3 498.7,549.3 500.2,553.1 501.7,556.7 503.2,560.2 504.6,563.4 506.1,566.4 507.5,569.3 509.0,571.9 510.4,574.2 511.9,576.4 513.3,578.2 514.7,579.9 516.2,581.4 517.6,582.6 519.0,583.7 520.4,584.6 521.8,585.3 523.2,585.9 524.6,586.5 526.0,586.9 527.4,587.3 528.8,587.6 530.1,587.8 531.5,588.0 532.9,588.2 534.2,588.3 535.6,588.4 536.9,588.5 538.3,588.6 539.6,588.7 541.0,588.7 542.3,588.8 543.6,588.9 544.9,589.0 546.2,589.1 547.6,589.2 548.9,589.6 550.2,590.3 551.5,591.6 552.7,593.2 554.0,595.0 555.3,597.0 556.6,599.0 557.8,601.1 559.1,603.2 560.4,605.3 561.6,607.2 562.8,608.9 564.1,610.5 565.3,611.9 566.6,613.1 567.8,614.2 569.0,615.1 570.2,615.6 571.4,616.0 572.6,616.4 573.8,616.7 575.0,617.0 576.2,617.2 577.4,617.3 578.5,617.4 579.7,617.5 580.9,617.6 582.0,617.6 583.2,617.8 584.3,617.9 585.5,618.2 586.6,618.6 587.7,619.0 588.8,619.6 590.0,620.3 591.1,621.2 592.2,622.3 593.3,623.5 594.4,624.7 595.5,625.8 596.5,626.7 597.6,627.4 598.7,627.9 599.7,628.2 600.8,628.5 601.9,628.7 602.9,629.0 603.9,629.2 605.0,629.5 606.0,629.7 607.0,630.1 608.0,630.5 609.0,631.2 610.0,632.0 611.0,632.9 612.0,633.8 613.0,634.6 614.0,635.3 615.0,635.8 615.9,636.2 616.9,636.5 617.8,636.8 618.8,637.0 619.7,637.3 620.7,637.5 621.6,637.8 622.5,638.1 623.4,638.5 624.3,638.9 625.2,639.3 626.1,639.7 627.0,640.1 627.9,640.4 628.7,640.8 629.6,641.2 630.5,641.6 631.3,641.9 632.2,642.3 633.0,642.7 633.8,643.0 634.7,643.4 635.5,643.7 636.3,644.0 637.1,644.3 637.9,644.6 638.7,644.8 639.4,645.1 640.2,645.3 641.0,645.5 641.7,645.8 642.5,646.0 643.2,646.2 644.0,646.5 644.7,646.7 645.4,647.0 646.1,647.3 646.8,647.5 647.5,647.8 648.2,648.1 648.9,648.4 649.6,648.6 650.2,648.9 650.9,649.2 651.5,649.4 652.2,649.7 652.8,649.9 653.4,650.2 654.0,650.4 654.6,650.7 655.2,650.9 655.8,651.2 656.4,651.5 657.0,651.7 657.5,652.0 658.1,652.2 658.6,652.5 659.1,652.8 659.7,653.0 660.2,653.2 660.7,653.5 661.2,653.7 661.6,654.0 662.1,654.2 662.6,654.4 663.0,654.7 663.5,654.9 663.9,655.2 664.3,655.4 664.7,655.7 665.1,655.9 665.5,656.2 665.9,656.4 666.2,656.7 666.6,656.9 666.9,657.2 667.2,657.4 667.6,657.6 667.8,657.9 668.1,658.1 668.4,658.3 668.6,658.5 668.9,658.6 669.1,658.8 669.3,658.9 669.5,659.0 669.6,659.1 669.8,659.2 669.9,659.3 670.0,659.3 670.0,659.9" fill="none" stroke="#050505" stroke-width="1.7" stroke-linejoin="round"/>
<polyline points="412.0,388.1 413.7,388.2 415.4,388.3 417.2,388.6 418.9,389.0 420.6,389.6 422.3,390.2 424.0,391.0 425.7,391.9 427.4,392.9 429.1,394.1 430.7,395.3 432.4,396.7 434.1,398.3 435.8,399.9 437.4,401.7 439.1,403.7 440.7,405.7 442.4,407.9 444.0,410.2 445.7,412.7 447.3,415.3 448.9,418.0 450.6,420.9 452.2,423.8 453.8,426.9 455.4,430.2 457.0,433.5 458.6,437.0 460.2,440.6 461.8,444.3 463.4,448.1 465.0,452.0 466.6,456.0 468.2,460.1 469.7,464.3 471.3,468.6 472.9,472.9 474.4,477.3 476.0,481.8 477.5,486.3 479.1,490.9 480.6,495.5 482.2,500.1 483.7,504.7 485.2,509.3 486.7,513.9 488.3,518.5 489.8,523.0 491.3,527.5 492.8,531.9 494.3,536.2 495.8,540.5 497.3,544.6 498.7,548.6 500.2,552.4 501.7,556.1 503.2,559.6 504.6,562.9 506.1,565.9 507.5,568.8 509.0,571.5 510.4,573.9 511.9,576.0 513.3,578.0 514.7,579.7 516.2,581.2 517.6,582.4 519.0,583.5 520.4,584.4 521.8,585.2 523.2,585.9 524.6,586.5 526.0,586.9 527.4,587.3 528.8,587.6 530.1,587.8 531.5,588.0 532.9,588.2 534.2,588.3 535.6,588.4 536.9,588.5 538.3,588.6 539.6,588.7 541.0,588.7 542.3,588.8 543.6,588.9 544.9,589.0 546.2,589.1 547.6,589.2 548.9,589.5 550.2,590.2 551.5,591.4 552.7,593.0 554.0,594.8 555.3,596.7 556.6,598.8 557.8,600.9 559.1,603.0 560.4,605.0 561.6,607.0 562.8,608.7 564.1,610.3 565.3,611.7 566.6,613.0 567.8,614.1 569.0,615.0 570.2,615.6 571.4,616.0 572.6,616.4 573.8,616.7 575.0,617.0 576.2,617.2 577.4,617.3 578.5,617.4 579.7,617.5 580.9,617.6 582.0,617.6 583.2,617.7 584.3,617.9 585.5,618.2 586.6,618.5 587.7,619.0 588.8,619.5 590.0,620.2 591.1,621.1 592.2,622.2 593.3,623.4 594.4,624.5 595.5,625.7 596.5,626.6 597.6,627.3 598.7,627.8 599.7,628.2 600.8,628.5 601.9,628.7 602.9,629.0 603.9,629.2 605.0,629.4 606.0,629.7 607.0,630.0 608.0,630.5 609.0,631.1 610.0,631.9 611.0,632.7 612.0,633.6 613.0,634.5 614.0,635.2 615.0,635.7 615.9,636.1 616.9,636.5 617.8,636.7 618.8,637.0 619.7,637.2 620.7,637.5 621.6,637.8 622.5,638.1 623.4,638.4 624.3,638.8 625.2,639.2 626.1,639.6 627.0,640.0 627.9,640.4 628.7,640.8 629.6,641.2 630.5,641.5 631.3,641.9 632.2,642.3 633.0,642.6 633.8,643.0 634.7,643.3 635.5,643.7 636.3,644.0 637.1,644.3 637.9,644.5 638.7,644.8 639.4,645.0 640.2,645.3 641.0,645.5 641.7,645.7 642.5,646.0 643.2,646.2 644.0,646.4 644.7,646.7 645.4,647.0 646.1,647.2 646.8,647.5 647.5,647.8 648.2,648.0 648.9,648.3 649.6,648.6 650.2,648.9 650.9,649.1 651.5,649.4 652.2,649.6 652.8,649.9 653.4,650.2 654.0,650.4 654.6,650.7 655.2,650.9 655.8,651.2 656.4,651.4 657.0,651.7 657.5,652.0 658.1,652.2 658.6,652.5 659.1,652.7 659.7,653.0 660.2,653.2 660.7,653.5 661.2,653.7 661.6,653.9 662.1,654.2 662.6,654.4 663.0,654.7 663.5,654.9 663.9,655.2 664.3,655.4 664.7,655.7 665.1,655.9 665.5,656.2 665.9,656.4 666.2,656.7 666.6,656.9 666.9,657.2 667.2,657.4 667.6,657.6 667.8,657.9 668.1,658.1 668.4,658.3 668.6,658.5 668.9,658.6 669.1,658.8 669.3,658.9 669.5,659.0 669.6,659.1 669.8,659.2 669.9,659.3 670.0,659.3 670.0,659.9" fill="none" stroke="#050505" stroke-width="1.7" stroke-linejoin="round"/>
<polyline points="412.0,388.1 413.7,388.1 415.4,388.3 417.2,388.6 418.9,389.0 420.6,389.6 422.3,390.2 424.0,391.0 425.7,391.9 427.4,392.9 429.1,394.0 430.7,395.3 432.4,396.6 434.1,398.2 435.8,399.8 437.4,401.6 439.1,403.5 440.7,405.5 442.4,407.7 444.0,410.0 445.7,412.4 447.3,415.0 448.9,417.7 450.6,420.5 452.2,423.5 453.8,426.5 455.4,429.7 457.0,433.1 458.6,436.5 460.2,440.1 461.8,443.7 463.4,447.5 465.0,451.4 466.6,455.4 468.2,459.5 469.7,463.6 471.3,467.9 472.9,472.2 474.4,476.6 476.0,481.0 477.5,485.5 479.1,490.1 480.6,494.6 482.2,499.2 483.7,503.8 485.2,508.5 486.7,513.0 488.3,517.6 489.8,522.2 491.3,526.6 492.8,531.1 494.3,535.4 495.8,539.7 497.3,543.8 498.7,547.8 500.2,551.7 501.7,555.4 503.2,558.9 504.6,562.2 506.1,565.4 507.5,568.3 509.0,571.0 510.4,573.4 511.9,575.7 513.3,577.6 514.7,579.4 516.2,580.9 517.6,582.2 519.0,583.4 520.4,584.3 521.8,585.1 523.2,585.8 524.6,586.4 526.0,586.9 527.4,587.2 528.8,587.5 530.1,587.8 531.5,588.0 532.9,588.2 534.2,588.3 535.6,588.4 536.9,588.5 538.3,588.6 539.6,588.7 541.0,588.8 542.3,588.8 543.6,588.9 544.9,589.0 546.2,589.1 547.6,589.2 548.9,589.5 550.2,590.1 551.5,591.2 552.7,592.8 554.0,594.5 555.3,596.5 556.6,598.5 557.8,600.6 559.1,602.7 560.4,604.8 561.6,606.7 562.8,608.5 564.1,610.1 565.3,611.5 566.6,612.8 567.8,614.0 569.0,614.9 570.2,615.5 571.4,615.9 572.6,616.3 573.8,616.7 575.0,617.0 576.2,617.2 577.4,617.3 578.5,617.4 579.7,617.5 580.9,617.6 582.0,617.6 583.2,617.7 584.3,617.9 585.5,618.1 586.6,618.5 587.7,618.9 588.8,619.4 590.0,620.1 591.1,621.0 592.2,622.0 593.3,623.2 594.4,624.4 595.5,625.5 596.5,626.5 597.6,627.3 598.7,627.8 599.7,628.1 600.8,628.4 601.9,628.7 602.9,628.9 603.9,629.2 605.0,629.4 606.0,629.7 607.0,630.0 608.0,630.4 609.0,631.0 610.0,631.7 611.0,632.6 612.0,633.5 613.0,634.4 614.0,635.1 615.0,635.7 615.9,636.1 616.9,636.4 617.8,636.7 618.8,636.9 619.7,637.2 620.7,637.5 621.6,637.7 622.5,638.0 623.4,638.4 624.3,638.8 625.2,639.2 626.1,639.6 627.0,639.9 627.9,640.3 628.7,640.7 629.6,641.1 630.5,641.5 631.3,641.9 632.2,642.2 633.0,642.6 633.8,642.9 634.7,643.3 635.5,643.6 636.3,644.0 637.1,644.2 637.9,644.5 638.7,644.8 639.4,645.0 640.2,645.2 641.0,645.5 641.7,645.7 642.5,645.9 643.2,646.2 644.0,646.4 644.7,646.7 645.4,646.9 646.1,647.2 646.8,647.5 647.5,647.7 648.2,648.0 648.9,648.3 649.6,648.6 650.2,648.8 650.9,649.1 651.5,649.4 652.2,649.6 652.8,649.9 653.4,650.1 654.0,650.4 654.6,650.6 655.2,650.9 655.8,651.2 656.4,651.4 657.0,651.7 657.5,651.9 658.1,652.2 658.6,652.5 659.1,652.7 659.7,653.0 660.2,653.2 660.7,653.4 661.2,653.7 661.6,653.9 662.1,654.2 662.6,654.4 663.0,654.7 663.5,654.9 663.9,655.1 664.3,655.4 664.7,655.6 665.1,655.9 665.5,656.2 665.9,656.4 666.2,656.7 666.6,656.9 666.9,657.1 667.2,657.4 667.6,657.6 667.8,657.9 668.1,658.1 668.4,658.3 668.6,658.5 668.9,658.6 669.1,658.8 669.3,658.9 669.5,659.0 669.6,659.1 669.8,659.2 669.9,659.3 670.0,659.3 670.0,659.9" fill="none" stroke="#060606" stroke-width="1.7" stroke-linejoin="round"/>
<polyline points="412.0,388.1 413.7,388.1 415.4,388.3 417.2,388.6 418.9,389.0 420.6,389.5 422.3,390.2 424.0,390.9 425.7,391.8 427.4,392.8 429.1,393.9 430.7,395.2 432.4,396.5 434.1,398.0 435.8,399.7 437.4,401.4 439.1,403.3 440.7,405.3 442.4,407.5 444.0,409.7 445.7,412.2 447.3,414.7 448.9,417.4 450.6,420.2 452.2,423.1 453.8,426.1 455.4,429.3 457.0,432.6 458.6,436.0 460.2,439.5 461.8,443.2 463.4,446.9 465.0,450.8 466.6,454.7 468.2,458.8 469.7,462.9 471.3,467.1 472.9,471.4 474.4,475.8 476.0,480.2 477.5,484.7 479.1,489.2 480.6,493.7 482.2,498.3 483.7,502.9 485.2,507.5 486.7,512.1 488.3,516.7 489.8,521.2 491.3,525.7 492.8,530.1 494.3,534.5 495.8,538.8 497.3,542.9 498.7,547.0 500.2,550.9 501.7,554.6 503.2,558.2 504.6,561.6 506.1,564.8 507.5,567.7 509.0,570.5 510.4,573.0 511.9,575.2 513.3,577.3 514.7,579.1 516.2,580.7 517.6,582.0 519.0,583.2 520.4,584.2 521.8,585.0 523.2,585.7 524.6,586.3 526.0,586.8 527.4,587.2 528.8,587.5 530.1,587.8 531.5,588.0 532.9,588.2 534.2,588.3 535.6,588.4 536.9,588.5 538.3,588.6 539.6,588.7 541.0,588.8 542.3,588.8 543.6,588.9 544.9,589.0 546.2,589.1 547.6,589.2 548.9,589.4 550.2,590.0 551.5,591.1 552.7,592.6 554.0,594.3 555.3,596.2 556.6,598.2 557.8,600.3 559.1,602.4 560.4,604.5 561.6,606.5 562.8,608.3 564.1,609.9 565.3,611.3 566.6,612.7 567.8,613.8 569.0,614.8 570.2,615.4 571.4,615.9 572.6,616.3 573.8,616.6 575.0,616.9 576.2,617.2 577.4,617.3 578.5,617.4 579.7,617.5 580.9,617.6 582.0,617.6 583.2,617.7 584.3,617.9 585.5,618.1 586.6,618.4 587.7,618.9 588.8,619.4 590.0,620.0 591.1,620.8 592.2,621.9 593.3,623.0 594.4,624.2 595.5,625.3 596.5,626.4 597.6,627.2 598.7,627.7 599.7,628.1 600.8,628.4 601.9,628.6 602.9,628.9 603.9,629.1 605.0,629.4 606.0,629.6 607.0,629.9 608.0,630.3 609.0,630.9 610.0,631.6 611.0,632.5 612.0,633.4 613.0,634.3 614.0,635.0 615.0,635.6 615.9,636.0 616.9,636.4 617.8,636.6 618.8,636.9 619.7,637.2 620.7,637.4 621.6,637.7 622.5,638.0 623.4,638.3 624.3,638.7 625.2,639.1 626.1,639.5 627.0,639.9 627.9,640.3 628.7,640.7 629.6,641.0 630.5,641.4 631.3,641.8 632.2,642.2 633.0,642.5 633.8,642.9 634.7,643.2 635.5,643.6 636.3,643.9 637.1,644.2 637.9,644.5 638.7,644.7 639.4,645.0 640.2,645.2 641.0,645.4 641.7,645.7 642.5,645.9 643.2,646.1 644.0,646.4 644.7,646.6 645.4,646.9 646.1,647.2 646.8,647.4 647.5,647.7 648.2,648.0 648.9,648.3 649.6,648.5 650.2,648.8 650.9,649.1 651.5,649.3 652.2,649.6 652.8,649.8 653.4,650.1 654.0,650.4 654.6,650.6 655.2,650.9 655.8,651.1 656.4,651.4 657.0,651.6 657.5,651.9 658.1,652.2 658.6,652.4 659.1,652.7 659.7,652.9 660.2,653.2 660.7,653.4 661.2,653.7 661.6,653.9 662.1,654.1 662.6,654.4 663.0,654.6 663.5,654.9 663.9,655.1 664.3,655.4 664.7,655.6 665.1,655.9 665.5,656.1 665.9,656.4 666.2,656.6 666.6,656.9 666.9,657.1 667.2,657.4 667.6,657.6 667.8,657.8 668.1,658.1 668.4,658.3 668.6,658.5 668.9,658.6 669.1,658.8 669.3,658.9 669.5,659.0 669.6,659.1 669.8,659.2 669.9,659.3 670.0,659.3 670.0,659.9" fill="none" stroke="#070707" stroke-width="1.7" stroke-linejoin="round"/>
<polyline points="412.0,388.1 413.7,388.1 415.4,388.3 417.2,388.6 418.9,389.0 420.6,389.5 422.3,390.2 424.0,390.9 425.7,391.8 427.4,392.7 429.1,393.9 430.7,395.1 432.4,396.4 434.1,397.9 435.8,399.5 437.4,401.3 439.1,403.1 440.7,405.1 442.4,407.2 444.0,409.5 445.7,411.9 447.3,414.4 448.9,417.0 450.6,419.8 452.2,422.7 453.8,425.7 455.4,428.8 457.0,432.1 458.6,435.5 460.2,438.9 461.8,442.5 463.4,446.3 465.0,450.1 466.6,454.0 468.2,458.0 469.7,462.1 471.3,466.3 472.9,470.6 474.4,474.9 476.0,479.3 477.5,483.7 479.1,488.2 480.6,492.8 482.2,497.3 483.7,501.9 485.2,506.5 486.7,511.1 488.3,515.7 489.8,520.2 491.3,524.7 492.8,529.1 494.3,533.5 495.8,537.8 497.3,542.0 498.7,546.1 500.2,550.0 501.7,553.8 503.2,557.4 504.6,560.8 506.1,564.1 507.5,567.1 509.0,569.9 510.4,572.4 511.9,574.8 513.3,576.9 514.7,578.7 516.2,580.4 517.6,581.8 519.0,583.0 520.4,584.0 521.8,584.8 523.2,585.6 524.6,586.2 526.0,586.7 527.4,587.1 528.8,587.5 530.1,587.7 531.5,588.0 532.9,588.1 534.2,588.3 535.6,588.4 536.9,588.5 538.3,588.6 539.6,588.7 541.0,588.8 542.3,588.8 543.6,588.9 544.9,589.0 546.2,589.1 547.6,589.2 548.9,589.4 550.2,589.9 551.5,590.9 552.7,592.3 554.0,594.0 555.3,595.9 556.6,597.9 557.8,600.0 559.1,602.1 560.4,604.2 561.6,606.2 562.8,608.0 564.1,609.7 565.3,611.1 566.6,612.5 567.8,613.7 569.0,614.7 570.2,615.4 571.4,615.8 572.6,616.2 573.8,616.6 575.0,616.9 576.2,617.1 577.4,617.3 578.5,617.4 579.7,617.5 580.9,617.6 582.0,617.6 583.2,617.7 584.3,617.8 585.5,618.1 586.6,618.4 587.7,618.8 588.8,619.3 590.0,619.9 591.1,620.7 592.2,621.7 593.3,622.8 594.4,624.0 595.5,625.2 596.5,626.2 597.6,627.1 598.7,627.7 599.7,628.1 600.8,628.4 601.9,628.6 602.9,628.9 603.9,629.1 605.0,629.3 606.0,629.6 607.0,629.9 608.0,630.3 609.0,630.8 610.0,631.5 611.0,632.3 612.0,633.2 613.0,634.1 614.0,634.9 615.0,635.5 615.9,636.0 616.9,636.3 617.8,636.6 618.8,636.9 619.7,637.1 620.7,637.4 621.6,637.7 622.5,638.0 623.4,638.3 624.3,638.7 625.2,639.0 626.1,639.4 627.0,639.8 627.9,640.2 628.7,640.6 629.6,641.0 630.5,641.4 631.3,641.7 632.2,642.1 633.0,642.5 633.8,642.8 634.7,643.2 635.5,643.5 636.3,643.9 637.1,644.2 637.9,644.4 638.7,644.7 639.4,644.9 640.2,645.2 641.0,645.4 641.7,645.6 642.5,645.9 643.2,646.1 644.0,646.3 644.7,646.6 645.4,646.8 646.1,647.1 646.8,647.4 647.5,647.7 648.2,647.9 648.9,648.2 649.6,648.5 650.2,648.8 650.9,649.0 651.5,649.3 652.2,649.6 652.8,649.8 653.4,650.1 654.0,650.3 654.6,650.6 655.2,650.8 655.8,651.1 656.4,651.4 657.0,651.6 657.5,651.9 658.1,652.1 658.6,652.4 659.1,652.7 659.7,652.9 660.2,653.2 660.7,653.4 661.2,653.6 661.6,653.9 662.1,654.1 662.6,654.4 663.0,654.6 663.5,654.9 663.9,655.1 664.3,655.4 664.7,655.6 665.1,655.9 665.5,656.1 665.9,656.4 666.2,656.6 666.6,656.9 666.9,657.1 667.2,657.4 667.6,657.6 667.8,657.8 668.1,658.1 668.4,658.3 668.6,658.4 668.9,658.6 669.1,658.8 669.3,658.9 669.5,659.0 669.6,659.1 669.8,659.2 669.9,659.3 670.0,659.3 670.0,659.9" fill="none" stroke="#070707" stroke-width="1.7" stroke-linejoin="round"/>
<polyline points="412.0,388.1 413.7,388.1 415.4,388.3 417.2,388.6 418.9,389.0 420.6,389.5 422.3,390.1 424.0,390.9 425.7,391.7 427.4,392.7 429.1,393.8 430.7,395.0 432.4,396.3 434.1,397.8 435.8,399.4 437.4,401.1 439.1,402.9 440.7,404.9 442.4,407.0 444.0,409.2 445.7,411.5 447.3,414.0 448.9,416.6 450.6,419.4 452.2,422.2 453.8,425.2 455.4,428.3 457.0,431.5 458.6,434.9 460.2,438.3 461.8,441.9 463.4,445.6 465.0,449.4 466.6,453.2 468.2,457.2 469.7,461.3 471.3,465.4 472.9,469.7 474.4,474.0 476.0,478.3 477.5,482.8 479.1,487.2 480.6,491.7 482.2,496.3 483.7,500.9 485.2,505.4 486.7,510.0 488.3,514.6 489.8,519.1 491.3,523.6 492.8,528.1 494.3,532.4 495.8,536.7 497.3,541.0 498.7,545.1 500.2,549.0 501.7,552.8 503.2,556.5 504.6,560.0 506.1,563.3 507.5,566.4 509.0,569.2 510.4,571.9 511.9,574.2 513.3,576.4 514.7,578.3 516.2,580.0 517.6,581.5 519.0,582.7 520.4,583.8 521.8,584.7 523.2,585.4 524.6,586.1 526.0,586.7 527.4,587.1 528.8,587.4 530.1,587.7 531.5,587.9 532.9,588.1 534.2,588.3 535.6,588.4 536.9,588.5 538.3,588.6 539.6,588.7 541.0,588.8 542.3,588.8 543.6,588.9 544.9,589.0 546.2,589.1 547.6,589.2 548.9,589.3 550.2,589.8 551.5,590.7 552.7,592.1 554.0,593.8 555.3,595.6 556.6,597.6 557.8,599.7 559.1,601.8 560.4,603.9 561.6,605.9 562.8,607.8 564.1,609.4 565.3,610.9 566.6,612.3 567.8,613.5 569.0,614.5 570.2,615.3 571.4,615.8 572.6,616.2 573.8,616.5 575.0,616.9 576.2,617.1 577.4,617.3 578.5,617.4 579.7,617.5 580.9,617.6 582.0,617.6 583.2,617.7 584.3,617.8 585.5,618.0 586.6,618.3 587.7,618.7 588.8,619.2 590.0,619.8 591.1,620.5 592.2,621.5 593.3,622.6 594.4,623.8 595.5,625.0 596.5,626.1 597.6,626.9 598.7,627.6 599.7,628.0 600.8,628.3 601.9,628.6 602.9,628.8 603.9,629.1 605.0,629.3 606.0,629.6 607.0,629.8 608.0,630.2 609.0,630.7 610.0,631.4 611.0,632.2 612.0,633.1 613.0,634.0 614.0,634.8 615.0,635.4 615.9,635.9 616.9,636.3 617.8,636.6 618.8,636.8 619.7,637.1 620.7,637.3 621.6,637.6 622.5,637.9 623.4,638.2 624.3,638.6 625.2,639.0 626.1,639.4 627.0,639.8 627.9,640.2 628.7,640.5 629.6,640.9 630.5,641.3 631.3,641.7 632.2,642.1 633.0,642.4 633.8,642.8 634.7,643.1 635.5,643.5 636.3,643.8 637.1,644.1 637.9,644.4 638.7,644.7 639.4,644.9 640.2,645.1 641.0,645.4 641.7,645.6 642.5,645.8 643.2,646.1 644.0,646.3 644.7,646.6 645.4,646.8 646.1,647.1 646.8,647.3 647.5,647.6 648.2,647.9 648.9,648.2 649.6,648.5 650.2,648.7 650.9,649.0 651.5,649.3 652.2,649.5 652.8,649.8 653.4,650.0 654.0,650.3 654.6,650.5 655.2,650.8 655.8,651.1 656.4,651.3 657.0,651.6 657.5,651.9 658.1,652.1 658.6,652.4 659.1,652.6 659.7,652.9 660.2,653.1 660.7,653.4 661.2,653.6 661.6,653.9 662.1,654.1 662.6,654.3 663.0,654.6 663.5,654.8 663.9,655.1 664.3,655.3 664.7,655.6 665.1,655.8 665.5,656.1 665.9,656.3 666.2,656.6 666.6,656.9 666.9,657.1 667.2,657.3 667.6,657.6 667.8,657.8 668.1,658.0 668.4,658.3 668.6,658.4 668.9,658.6 669.1,658.8 669.3,658.9 669.5,659.0 669.6,659.1 669.8,659.2 669.9,659.3 670.0,659.3 670.0,659.9" fill="none" stroke="#080808" stroke-width="1.7" stroke-linejoin="round"/>
<polyline points="412.0,388.1 413.7,388.1 415.4,388.3 417.2,388.6 418.9,389.0 420.6,389.5 422.3,390.1 424.0,390.8 425.7,391.7 427.4,392.6 429.1,393.7 430.7,394.9 432.4,396.2 434.1,397.6 435.8,399.2 437.4,400.9 439.1,402.7 440.7,404.6 442.4,406.7 444.0,408.9 445.7,411.2 447.3,413.7 448.9,416.2 450.6,418.9 452.2,421.8 453.8,424.7 455.4,427.8 457.0,431.0 458.6,434.3 460.2,437.7 461.8,441.2 463.4,444.8 465.0,448.6 466.6,452.4 468.2,456.4 469.7,460.4 471.3,464.5 472.9,468.7 474.4,473.0 476.0,477.3 477.5,481.7 479.1,486.2 480.6,490.6 482.2,495.2 483.7,499.7 485.2,504.3 486.7,508.8 488.3,513.4 489.8,517.9 491.3,522.4 492.8,526.9 494.3,531.3 495.8,535.6 497.3,539.8 498.7,544.0 500.2,548.0 501.7,551.8 503.2,555.5 504.6,559.1 506.1,562.4 507.5,565.6 509.0,568.5 510.4,571.2 511.9,573.7 513.3,575.9 514.7,577.9 516.2,579.6 517.6,581.1 519.0,582.4 520.4,583.6 521.8,584.5 523.2,585.3 524.6,586.0 526.0,586.6 527.4,587.0 528.8,587.4 530.1,587.7 531.5,587.9 532.9,588.1 534.2,588.3 535.6,588.4 536.9,588.5 538.3,588.6 539.6,588.7 541.0,588.8 542.3,588.8 543.6,588.9 544.9,589.0 546.2,589.1 547.6,589.2 548.9,589.3 550.2,589.7 551.5,590.5 552.7,591.9 554.0,593.5 555.3,595.3 556.6,597.3 557.8,599.4 559.1,601.5 560.4,603.5 561.6,605.6 562.8,607.5 564.1,609.2 565.3,610.7 566.6,612.0 567.8,613.3 569.0,614.4 570.2,615.2 571.4,615.7 572.6,616.1 573.8,616.5 575.0,616.8 576.2,617.1 577.4,617.3 578.5,617.4 579.7,617.5 580.9,617.6 582.0,617.6 583.2,617.7 584.3,617.8 585.5,618.0 586.6,618.3 587.7,618.6 588.8,619.1 590.0,619.7 591.1,620.4 592.2,621.3 593.3,622.4 594.4,623.6 595.5,624.8 596.5,625.9 597.6,626.8 598.7,627.5 599.7,627.9 600.8,628.3 601.9,628.5 602.9,628.8 603.9,629.0 605.0,629.3 606.0,629.5 607.0,629.8 608.0,630.1 609.0,630.6 610.0,631.2 611.0,632.0 612.0,632.9 613.0,633.8 614.0,634.6 615.0,635.3 615.9,635.8 616.9,636.2 617.8,636.5 618.8,636.8 619.7,637.0 620.7,637.3 621.6,637.6 622.5,637.8 623.4,638.2 624.3,638.5 625.2,638.9 626.1,639.3 627.0,639.7 627.9,640.1 628.7,640.5 629.6,640.9 630.5,641.2 631.3,641.6 632.2,642.0 633.0,642.4 633.8,642.7 634.7,643.1 635.5,643.4 636.3,643.8 637.1,644.1 637.9,644.4 638.7,644.6 639.4,644.9 640.2,645.1 641.0,645.3 641.7,645.6 642.5,645.8 643.2,646.0 644.0,646.3 644.7,646.5 645.4,646.8 646.1,647.0 646.8,647.3 647.5,647.6 648.2,647.9 648.9,648.1 649.6,648.4 650.2,648.7 650.9,649.0 651.5,649.2 652.2,649.5 652.8,649.7 653.4,650.0 654.0,650.3 654.6,650.5 655.2,650.8 655.8,651.0 656.4,651.3 657.0,651.6 657.5,651.8 658.1,652.1 658.6,652.3 659.1,652.6 659.7,652.9 660.2,653.1 660.7,653.3 661.2,653.6 661.6,653.8 662.1,654.1 662.6,654.3 663.0,654.6 663.5,654.8 663.9,655.1 664.3,655.3 664.7,655.6 665.1,655.8 665.5,656.1 665.9,656.3 666.2,656.6 666.6,656.8 666.9,657.1 667.2,657.3 667.6,657.6 667.8,657.8 668.1,658.0 668.4,658.2 668.6,658.4 668.9,658.6 669.1,658.8 669.3,658.9 669.5,659.0 669.6,659.1 669.8,659.2 669.9,659.3 670.0,659.3 670.0,659.9" fill="none" stroke="#090909" stroke-width="1.7" stroke-linejoin="round"/>
<polyline points="412.0,388.1 413.7,388.1 415.4,388.3 417.2,388.6 418.9,389.0 420.6,389.5 422.3,390.1 424.0,390.8 425.7,391.6 427.4,392.5 429.1,393.6 430.7,394.8 432.4,396.1 434.1,397.5 435.8,399.0 437.4,400.7 439.1,402.5 440.7,404.4 442.4,406.4 444.0,408.6 445.7,410.9 447.3,413.3 448.9,415.8 450.6,418.5 452.2,421.3 453.8,424.2 455.4,427.2 457.0,430.3 458.6,433.6 460.2,437.0 461.8,440.5 463.4,444.1 465.0,447.8 466.6,451.6 468.2,455.5 469.7,459.5 471.3,463.5 472.9,467.7 474.4,471.9 476.0,476.2 477.5,480.6 479.1,485.0 480.6,489.5 482.2,494.0 483.7,498.5 485.2,503.0 486.7,507.6 488.3,512.1 489.8,516.7 491.3,521.2 492.8,525.6 494.3,530.0 495.8,534.4 497.3,538.6 498.7,542.8 500.2,546.8 501.7,550.7 503.2,554.5 504.6,558.1 506.1,561.5 507.5,564.7 509.0,567.7 510.4,570.4 511.9,573.0 513.3,575.3 514.7,577.3 516.2,579.2 517.6,580.7 519.0,582.1 520.4,583.3 521.8,584.3 523.2,585.1 524.6,585.9 526.0,586.5 527.4,586.9 528.8,587.3 530.1,587.6 531.5,587.9 532.9,588.1 534.2,588.3 535.6,588.4 536.9,588.5 538.3,588.6 539.6,588.7 541.0,588.8 542.3,588.8 543.6,588.9 544.9,589.0 546.2,589.1 547.6,589.2 548.9,589.3 550.2,589.6 551.5,590.4 552.7,591.6 554.0,593.2 555.3,595.0 556.6,596.9 557.8,599.0 559.1,601.1 560.4,603.2 561.6,605.2 562.8,607.1 564.1,608.9 565.3,610.4 566.6,611.8 567.8,613.1 569.0,614.2 570.2,615.0 571.4,615.6 572.6,616.1 573.8,616.4 575.0,616.8 576.2,617.0 577.4,617.3 578.5,617.4 579.7,617.5 580.9,617.6 582.0,617.6 583.2,617.7 584.3,617.8 585.5,618.0 586.6,618.2 587.7,618.6 588.8,619.0 590.0,619.6 591.1,620.2 592.2,621.1 593.3,622.2 594.4,623.4 595.5,624.5 596.5,625.7 597.6,626.6 598.7,627.4 599.7,627.9 600.8,628.2 601.9,628.5 602.9,628.7 603.9,629.0 605.0,629.2 606.0,629.5 607.0,629.7 608.0,630.1 609.0,630.5 610.0,631.1 611.0,631.9 612.0,632.7 613.0,633.6 614.0,634.5 615.0,635.2 615.9,635.8 616.9,636.2 617.8,636.5 618.8,636.7 619.7,637.0 620.7,637.2 621.6,637.5 622.5,637.8 623.4,638.1 624.3,638.5 625.2,638.8 626.1,639.2 627.0,639.6 627.9,640.0 628.7,640.4 629.6,640.8 630.5,641.2 631.3,641.5 632.2,641.9 633.0,642.3 633.8,642.7 634.7,643.0 635.5,643.4 636.3,643.7 637.1,644.0 637.9,644.3 638.7,644.6 639.4,644.8 640.2,645.1 641.0,645.3 641.7,645.5 642.5,645.8 643.2,646.0 644.0,646.2 644.7,646.5 645.4,646.7 646.1,647.0 646.8,647.3 647.5,647.5 648.2,647.8 648.9,648.1 649.6,648.4 650.2,648.6 650.9,648.9 651.5,649.2 652.2,649.4 652.8,649.7 653.4,650.0 654.0,650.2 654.6,650.5 655.2,650.7 655.8,651.0 656.4,651.3 657.0,651.5 657.5,651.8 658.1,652.0 658.6,652.3 659.1,652.6 659.7,652.8 660.2,653.1 660.7,653.3 661.2,653.6 661.6,653.8 662.1,654.0 662.6,654.3 663.0,654.5 663.5,654.8 663.9,655.0 664.3,655.3 664.7,655.5 665.1,655.8 665.5,656.1 665.9,656.3 666.2,656.6 666.6,656.8 666.9,657.1 667.2,657.3 667.6,657.6 667.8,657.8 668.1,658.0 668.4,658.2 668.6,658.4 668.9,658.6 669.1,658.8 669.3,658.9 669.5,659.0 669.6,659.1 669.8,659.2 669.9,659.3 670.0,659.3 670.0,659.9" fill="none" stroke="#0a0a0a" stroke-width="1.7" stroke-linejoin="round"/>
<polyline points="412.0,388.1 413.7,388.1 415.4,388.3 417.2,388.6 418.9,389.0 420.6,389.4 422.3,390.0 424.0,390.7 425.7,391.5 427.4,392.5 429.1,393.5 430.7,394.7 432.4,395.9 434.1,397.3 435.8,398.9 437.4,400.5 439.1,402.2 440.7,404.1 442.4,406.1 444.0,408.3 445.7,410.5 447.3,412.9 448.9,415.4 450.6,418.0 452.2,420.8 453.8,423.6 455.4,426.6 457.0,429.7 458.6,432.9 460.2,436.3 461.8,439.7 463.4,443.3 465.0,446.9 466.6,450.7 468.2,454.5 469.7,458.5 471.3,462.5 472.9,466.6 474.4,470.8 476.0,475.1 477.5,479.4 479.1,483.8 480.6,488.2 482.2,492.7 483.7,497.2 485.2,501.7 486.7,506.3 488.3,510.8 489.8,515.3 491.3,519.8 492.8,524.3 494.3,528.7 495.8,533.0 497.3,537.3 498.7,541.5 500.2,545.6 501.7,549.5 503.2,553.3 504.6,557.0 506.1,560.4 507.5,563.7 509.0,566.8 510.4,569.6 511.9,572.2 513.3,574.6 514.7,576.7 516.2,578.6 517.6,580.3 519.0,581.7 520.4,583.0 521.8,584.0 523.2,584.9 524.6,585.7 526.0,586.4 527.4,586.8 528.8,587.3 530.1,587.6 531.5,587.8 532.9,588.1 534.2,588.2 535.6,588.4 536.9,588.5 538.3,588.6 539.6,588.7 541.0,588.8 542.3,588.8 543.6,588.9 544.9,589.0 546.2,589.1 547.6,589.2 548.9,589.3 550.2,589.6 551.5,590.2 552.7,591.3 554.0,592.9 555.3,594.6 556.6,596.6 557.8,598.6 559.1,600.7 560.4,602.8 561.6,604.8 562.8,606.8 564.1,608.6 565.3,610.1 566.6,611.5 567.8,612.9 569.0,614.0 570.2,614.9 571.4,615.5 572.6,616.0 573.8,616.4 575.0,616.7 576.2,617.0 577.4,617.2 578.5,617.4 579.7,617.5 580.9,617.5 582.0,617.6 583.2,617.7 584.3,617.8 585.5,617.9 586.6,618.2 587.7,618.5 588.8,618.9 590.0,619.4 591.1,620.1 592.2,620.9 593.3,622.0 594.4,623.1 595.5,624.3 596.5,625.4 597.6,626.4 598.7,627.2 599.7,627.8 600.8,628.2 601.9,628.4 602.9,628.7 603.9,628.9 605.0,629.2 606.0,629.4 607.0,629.7 608.0,630.0 609.0,630.4 610.0,630.9 611.0,631.7 612.0,632.5 613.0,633.4 614.0,634.3 615.0,635.1 615.9,635.7 616.9,636.1 617.8,636.4 618.8,636.7 619.7,636.9 620.7,637.2 621.6,637.5 622.5,637.7 623.4,638.0 624.3,638.4 625.2,638.8 626.1,639.1 627.0,639.5 627.9,639.9 628.7,640.3 629.6,640.7 630.5,641.1 631.3,641.5 632.2,641.8 633.0,642.2 633.8,642.6 634.7,642.9 635.5,643.3 636.3,643.6 637.1,644.0 637.9,644.3 638.7,644.5 639.4,644.8 640.2,645.0 641.0,645.3 641.7,645.5 642.5,645.7 643.2,646.0 644.0,646.2 644.7,646.4 645.4,646.7 646.1,646.9 646.8,647.2 647.5,647.5 648.2,647.8 648.9,648.0 649.6,648.3 650.2,648.6 650.9,648.9 651.5,649.1 652.2,649.4 652.8,649.7 653.4,649.9 654.0,650.2 654.6,650.4 655.2,650.7 655.8,650.9 656.4,651.2 657.0,651.5 657.5,651.7 658.1,652.0 658.6,652.3 659.1,652.5 659.7,652.8 660.2,653.0 660.7,653.3 661.2,653.5 661.6,653.8 662.1,654.0 662.6,654.3 663.0,654.5 663.5,654.8 663.9,655.0 664.3,655.3 664.7,655.5 665.1,655.8 665.5,656.0 665.9,656.3 666.2,656.5 666.6,656.8 666.9,657.0 667.2,657.3 667.6,657.5 667.8,657.8 668.1,658.0 668.4,658.2 668.6,658.4 668.9,658.6 669.1,658.8 669.3,658.9 669.5,659.0 669.6,659.1 669.8,659.2 669.9,659.3 670.0,659.3 670.0,659.9" fill="none" stroke="#0b0b0b" stroke-width="1.7" stroke-linejoin="round"/>
<polyline points="412.0,388.1 413.7,388.1 415.4,388.3 417.2,388.6 418.9,388.9 420.6,389.4 422.3,390.0 424.0,390.7 425.7,391.5 427.4,392.4 429.1,393.4 430.7,394.6 432.4,395.8 434.1,397.2 435.8,398.7 437.4,400.3 439.1,402.0 440.7,403.9 442.4,405.8 444.0,407.9 445.7,410.1 447.3,412.5 448.9,414.9 450.6,417.5 452.2,420.2 453.8,423.0 455.4,426.0 457.0,429.0 458.6,432.2 460.2,435.5 461.8,438.9 463.4,442.4 465.0,446.0 466.6,449.7 468.2,453.5 469.7,457.4 471.3,461.4 472.9,465.5 474.4,469.7 476.0,473.9 477.5,478.2 479.1,482.5 480.6,486.9 482.2,491.3 483.7,495.8 485.2,500.3 486.7,504.8 488.3,509.4 489.8,513.9 491.3,518.4 492.8,522.8 494.3,527.2 495.8,531.6 497.3,535.9 498.7,540.1 500.2,544.2 501.7,548.2 503.2,552.1 504.6,555.8 506.1,559.3 507.5,562.6 509.0,565.8 510.4,568.7 511.9,571.4 513.3,573.9 514.7,576.1 516.2,578.1 517.6,579.8 519.0,581.3 520.4,582.6 521.8,583.7 523.2,584.6 524.6,585.5 526.0,586.2 527.4,586.7 528.8,587.2 530.1,587.5 531.5,587.8 532.9,588.0 534.2,588.2 535.6,588.4 536.9,588.5 538.3,588.6 539.6,588.7 541.0,588.8 542.3,588.8 543.6,588.9 544.9,589.0 546.2,589.1 547.6,589.2 548.9,589.3 550.2,589.5 551.5,590.1 552.7,591.1 554.0,592.6 555.3,594.3 556.6,596.2 557.8,598.2 559.1,600.2 560.4,602.3 561.6,604.4 562.8,606.4 564.1,608.2 565.3,609.8 566.6,611.2 567.8,612.6 569.0,613.8 570.2,614.7 571.4,615.4 572.6,615.9 573.8,616.3 575.0,616.6 576.2,617.0 577.4,617.2 578.5,617.4 579.7,617.5 580.9,617.5 582.0,617.6 583.2,617.7 584.3,617.8 585.5,617.9 586.6,618.1 587.7,618.4 588.8,618.8 590.0,619.3 591.1,619.9 592.2,620.7 593.3,621.7 594.4,622.8 595.5,624.0 596.5,625.2 597.6,626.2 598.7,627.1 599.7,627.7 600.8,628.1 601.9,628.4 602.9,628.6 603.9,628.9 605.0,629.1 606.0,629.4 607.0,629.6 608.0,629.9 609.0,630.3 610.0,630.8 611.0,631.5 612.0,632.3 613.0,633.2 614.0,634.1 615.0,634.9 615.9,635.5 616.9,636.0 617.8,636.3 618.8,636.6 619.7,636.9 620.7,637.1 621.6,637.4 622.5,637.7 623.4,638.0 624.3,638.3 625.2,638.7 626.1,639.1 627.0,639.5 627.9,639.8 628.7,640.2 629.6,640.6 630.5,641.0 631.3,641.4 632.2,641.8 633.0,642.1 633.8,642.5 634.7,642.9 635.5,643.2 636.3,643.6 637.1,643.9 637.9,644.2 638.7,644.5 639.4,644.7 640.2,645.0 641.0,645.2 641.7,645.4 642.5,645.7 643.2,645.9 644.0,646.1 644.7,646.4 645.4,646.6 646.1,646.9 646.8,647.2 647.5,647.4 648.2,647.7 648.9,648.0 649.6,648.3 650.2,648.5 650.9,648.8 651.5,649.1 652.2,649.3 652.8,649.6 653.4,649.9 654.0,650.1 654.6,650.4 655.2,650.6 655.8,650.9 656.4,651.2 657.0,651.4 657.5,651.7 658.1,652.0 658.6,652.2 659.1,652.5 659.7,652.7 660.2,653.0 660.7,653.2 661.2,653.5 661.6,653.7 662.1,654.0 662.6,654.2 663.0,654.5 663.5,654.7 663.9,655.0 664.3,655.2 664.7,655.5 665.1,655.7 665.5,656.0 665.9,656.3 666.2,656.5 666.6,656.8 666.9,657.0 667.2,657.3 667.6,657.5 667.8,657.8 668.1,658.0 668.4,658.2 668.6,658.4 668.9,658.6 669.1,658.8 669.3,658.9 669.5,659.0 669.6,659.1 669.8,659.2 669.9,659.3 670.0,659.4 670.0,659.9" fill="none" stroke="#0c0c0c" stroke-width="1.7" stroke-linejoin="round"/>
<polyline points="412.0,388.1 413.7,388.1 415.4,388.3 417.2,388.6 418.9,388.9 420.6,389.4 422.3,390.0 424.0,390.6 425.7,391.4 427.4,392.3 429.1,393.3 430.7,394.4 432.4,395.7 434.1,397.0 435.8,398.5 437.4,400.1 439.1,401.8 440.7,403.6 442.4,405.5 444.0,407.6 445.7,409.7 447.3,412.0 448.9,414.5 450.6,417.0 452.2,419.7 453.8,422.4 455.4,425.3 457.0,428.3 458.6,431.5 460.2,434.7 461.8,438.0 463.4,441.5 465.0,445.1 466.6,448.7 468.2,452.5 469.7,456.3 471.3,460.3 472.9,464.3 474.4,468.4 476.0,472.6 477.5,476.8 479.1,481.2 480.6,485.5 482.2,489.9 483.7,494.4 485.2,498.8 486.7,503.3 488.3,507.8 489.8,512.3 491.3,516.8 492.8,521.3 494.3,525.7 495.8,530.1 497.3,534.4 498.7,538.6 500.2,542.8 501.7,546.8 503.2,550.7 504.6,554.4 506.1,558.0 507.5,561.4 509.0,564.7 510.4,567.7 511.9,570.5 513.3,573.0 514.7,575.3 516.2,577.4 517.6,579.2 519.0,580.8 520.4,582.2 521.8,583.4 523.2,584.4 524.6,585.3 526.0,586.0 527.4,586.6 528.8,587.1 530.1,587.4 531.5,587.7 532.9,588.0 534.2,588.2 535.6,588.3 536.9,588.5 538.3,588.6 539.6,588.7 541.0,588.8 542.3,588.8 543.6,588.9 544.9,589.0 546.2,589.1 547.6,589.2 548.9,589.3 550.2,589.4 551.5,589.9 552.7,590.8 554.0,592.2 555.3,593.9 556.6,595.7 557.8,597.7 559.1,599.8 560.4,601.9 561.6,603.9 562.8,605.9 564.1,607.8 565.3,609.4 566.6,610.9 567.8,612.3 569.0,613.5 570.2,614.5 571.4,615.3 572.6,615.8 573.8,616.2 575.0,616.6 576.2,616.9 577.4,617.2 578.5,617.3 579.7,617.5 580.9,617.5 582.0,617.6 583.2,617.7 584.3,617.8 585.5,617.9 586.6,618.1 587.7,618.3 588.8,618.7 590.0,619.2 591.1,619.8 592.2,620.5 593.3,621.5 594.4,622.6 595.5,623.7 596.5,624.9 597.6,626.0 598.7,626.9 599.7,627.6 600.8,628.0 601.9,628.3 602.9,628.6 603.9,628.8 605.0,629.1 606.0,629.3 607.0,629.6 608.0,629.8 609.0,630.2 610.0,630.7 611.0,631.3 612.0,632.1 613.0,633.0 614.0,633.9 615.0,634.7 615.9,635.4 616.9,635.9 617.8,636.3 618.8,636.6 619.7,636.8 620.7,637.1 621.6,637.3 622.5,637.6 623.4,637.9 624.3,638.2 625.2,638.6 626.1,639.0 627.0,639.4 627.9,639.8 628.7,640.1 629.6,640.5 630.5,640.9 631.3,641.3 632.2,641.7 633.0,642.0 633.8,642.4 634.7,642.8 635.5,643.1 636.3,643.5 637.1,643.8 637.9,644.1 638.7,644.4 639.4,644.7 640.2,644.9 641.0,645.2 641.7,645.4 642.5,645.6 643.2,645.9 644.0,646.1 644.7,646.3 645.4,646.6 646.1,646.8 646.8,647.1 647.5,647.4 648.2,647.7 648.9,647.9 649.6,648.2 650.2,648.5 650.9,648.8 651.5,649.0 652.2,649.3 652.8,649.6 653.4,649.8 654.0,650.1 654.6,650.3 655.2,650.6 655.8,650.9 656.4,651.1 657.0,651.4 657.5,651.7 658.1,651.9 658.6,652.2 659.1,652.4 659.7,652.7 660.2,653.0 660.7,653.2 661.2,653.5 661.6,653.7 662.1,653.9 662.6,654.2 663.0,654.4 663.5,654.7 663.9,654.9 664.3,655.2 664.7,655.5 665.1,655.7 665.5,656.0 665.9,656.2 666.2,656.5 666.6,656.7 666.9,657.0 667.2,657.3 667.6,657.5 667.8,657.7 668.1,658.0 668.4,658.2 668.6,658.4 668.9,658.6 669.1,658.8 669.3,658.9 669.5,659.0 669.6,659.1 669.8,659.2 669.9,659.3 670.0,659.4 670.0,659.9" fill="none" stroke="#0d0d0d" stroke-width="1.7" stroke-linejoin="round"/>
<polyline points="412.0,388.1 413.7,388.1 415.4,388.3 417.2,388.6 418.9,388.9 420.6,389.4 422.3,389.9 424.0,390.6 425.7,391.4 427.4,392.2 429.1,393.2 430.7,394.3 432.4,395.5 434.1,396.8 435.8,398.3 437.4,399.8 439.1,401.5 440.7,403.3 442.4,405.2 444.0,407.2 445.7,409.3 447.3,411.6 448.9,414.0 450.6,416.5 452.2,419.1 453.8,421.8 455.4,424.6 457.0,427.6 458.6,430.7 460.2,433.9 461.8,437.2 463.4,440.6 465.0,444.1 466.6,447.7 468.2,451.4 469.7,455.2 471.3,459.1 472.9,463.1 474.4,467.1 476.0,471.3 477.5,475.5 479.1,479.7 480.6,484.0 482.2,488.4 483.7,492.8 485.2,497.3 486.7,501.7 488.3,506.2 489.8,510.7 491.3,515.2 492.8,519.6 494.3,524.1 495.8,528.4 497.3,532.8 498.7,537.0 500.2,541.2 501.7,545.2 503.2,549.2 504.6,553.0 506.1,556.7 507.5,560.1 509.0,563.4 510.4,566.5 511.9,569.4 513.3,572.1 514.7,574.5 516.2,576.6 517.6,578.6 519.0,580.3 520.4,581.7 521.8,583.0 523.2,584.0 524.6,585.0 526.0,585.8 527.4,586.4 528.8,586.9 530.1,587.3 531.5,587.7 532.9,587.9 534.2,588.2 535.6,588.3 536.9,588.5 538.3,588.6 539.6,588.7 541.0,588.8 542.3,588.8 543.6,588.9 544.9,589.0 546.2,589.1 547.6,589.2 548.9,589.2 550.2,589.4 551.5,589.8 552.7,590.6 554.0,591.8 555.3,593.5 556.6,595.3 557.8,597.2 559.1,599.3 560.4,601.3 561.6,603.4 562.8,605.5 564.1,607.4 565.3,609.1 566.6,610.6 567.8,611.9 569.0,613.2 570.2,614.3 571.4,615.1 572.6,615.7 573.8,616.1 575.0,616.5 576.2,616.8 577.4,617.1 578.5,617.3 579.7,617.4 580.9,617.5 582.0,617.6 583.2,617.7 584.3,617.7 585.5,617.8 586.6,618.0 587.7,618.3 588.8,618.6 590.0,619.1 591.1,619.6 592.2,620.3 593.3,621.2 594.4,622.2 595.5,623.4 596.5,624.6 597.6,625.7 598.7,626.7 599.7,627.4 600.8,627.9 601.9,628.2 602.9,628.5 603.9,628.8 605.0,629.0 606.0,629.3 607.0,629.5 608.0,629.8 609.0,630.1 610.0,630.5 611.0,631.1 612.0,631.9 613.0,632.8 614.0,633.7 615.0,634.5 615.9,635.2 616.9,635.8 617.8,636.2 618.8,636.5 619.7,636.8 620.7,637.0 621.6,637.3 622.5,637.5 623.4,637.8 624.3,638.1 625.2,638.5 626.1,638.9 627.0,639.3 627.9,639.6 628.7,640.0 629.6,640.4 630.5,640.8 631.3,641.2 632.2,641.6 633.0,641.9 633.8,642.3 634.7,642.7 635.5,643.0 636.3,643.4 637.1,643.7 637.9,644.0 638.7,644.3 639.4,644.6 640.2,644.9 641.0,645.1 641.7,645.3 642.5,645.6 643.2,645.8 644.0,646.0 644.7,646.3 645.4,646.5 646.1,646.8 646.8,647.0 647.5,647.3 648.2,647.6 648.9,647.9 649.6,648.1 650.2,648.4 650.9,648.7 651.5,649.0 652.2,649.2 652.8,649.5 653.4,649.8 654.0,650.0 654.6,650.3 655.2,650.5 655.8,650.8 656.4,651.1 657.0,651.3 657.5,651.6 658.1,651.9 658.6,652.1 659.1,652.4 659.7,652.7 660.2,652.9 660.7,653.2 661.2,653.4 661.6,653.7 662.1,653.9 662.6,654.2 663.0,654.4 663.5,654.7 663.9,654.9 664.3,655.2 664.7,655.4 665.1,655.7 665.5,655.9 665.9,656.2 666.2,656.5 666.6,656.7 666.9,657.0 667.2,657.2 667.6,657.5 667.8,657.7 668.1,658.0 668.4,658.2 668.6,658.4 668.9,658.6 669.1,658.7 669.3,658.9 669.5,659.0 669.6,659.1 669.8,659.2 669.9,659.3 670.0,659.4 670.0,659.9" fill="none" stroke="#0e0e0e" stroke-width="1.7" stroke-linejoin="round"/>
<polyline points="412.0,388.1 413.7,388.1 415.4,388.3 417.2,388.5 418.9,388.9 420.6,389.3 422.3,389.9 424.0,390.5 425.7,391.3 427.4,392.1 429.1,393.1 430.7,394.2 432.4,395.4 434.1,396.7 435.8,398.1 437.4,399.6 439.1,401.2 440.7,403.0 442.4,404.8 444.0,406.8 445.7,408.9 447.3,411.1 448.9,413.4 450.6,415.9 452.2,418.5 453.8,421.1 455.4,423.9 457.0,426.8 458.6,429.9 460.2,433.0 461.8,436.2 463.4,439.6 465.0,443.0 466.6,446.6 468.2,450.2 469.7,454.0 471.3,457.8 472.9,461.8 474.4,465.8 476.0,469.8 477.5,474.0 479.1,478.2 480.6,482.5 482.2,486.8 483.7,491.2 485.2,495.6 486.7,500.0 488.3,504.5 489.8,509.0 491.3,513.4 492.8,517.9 494.3,522.3 495.8,526.7 497.3,531.0 498.7,535.3 500.2,539.5 501.7,543.6 503.2,547.6 504.6,551.4 506.1,555.2 507.5,558.7 509.0,562.1 510.4,565.3 511.9,568.2 513.3,571.0 514.7,573.5 516.2,575.8 517.6,577.8 519.0,579.6 520.4,581.2 521.8,582.5 523.2,583.6 524.6,584.7 526.0,585.5 527.4,586.2 528.8,586.8 530.1,587.2 531.5,587.6 532.9,587.9 534.2,588.1 535.6,588.3 536.9,588.4 538.3,588.6 539.6,588.7 541.0,588.8 542.3,588.8 543.6,588.9 544.9,589.0 546.2,589.1 547.6,589.2 548.9,589.2 550.2,589.4 551.5,589.7 552.7,590.3 554.0,591.5 555.3,593.0 556.6,594.8 557.8,596.7 559.1,598.7 560.4,600.8 561.6,602.8 562.8,604.9 564.1,606.8 565.3,608.6 566.6,610.2 567.8,611.6 569.0,612.9 570.2,614.0 571.4,614.9 572.6,615.6 573.8,616.0 575.0,616.4 576.2,616.7 577.4,617.0 578.5,617.3 579.7,617.4 580.9,617.5 582.0,617.6 583.2,617.7 584.3,617.7 585.5,617.8 586.6,618.0 587.7,618.2 588.8,618.5 590.0,618.9 591.1,619.4 592.2,620.1 593.3,620.9 594.4,621.9 595.5,623.0 596.5,624.2 597.6,625.4 598.7,626.4 599.7,627.2 600.8,627.8 601.9,628.2 602.9,628.5 603.9,628.7 605.0,629.0 606.0,629.2 607.0,629.4 608.0,629.7 609.0,630.0 610.0,630.4 611.0,630.9 612.0,631.6 613.0,632.5 614.0,633.4 615.0,634.3 615.9,635.0 616.9,635.6 617.8,636.1 618.8,636.4 619.7,636.7 620.7,636.9 621.6,637.2 622.5,637.5 623.4,637.7 624.3,638.0 625.2,638.4 626.1,638.7 627.0,639.1 627.9,639.5 628.7,639.9 629.6,640.3 630.5,640.7 631.3,641.1 632.2,641.5 633.0,641.8 633.8,642.2 634.7,642.6 635.5,642.9 636.3,643.3 637.1,643.6 637.9,644.0 638.7,644.3 639.4,644.5 640.2,644.8 641.0,645.0 641.7,645.3 642.5,645.5 643.2,645.7 644.0,646.0 644.7,646.2 645.4,646.5 646.1,646.7 646.8,647.0 647.5,647.2 648.2,647.5 648.9,647.8 649.6,648.1 650.2,648.4 650.9,648.6 651.5,648.9 652.2,649.2 652.8,649.4 653.4,649.7 654.0,650.0 654.6,650.2 655.2,650.5 655.8,650.7 656.4,651.0 657.0,651.3 657.5,651.5 658.1,651.8 658.6,652.1 659.1,652.3 659.7,652.6 660.2,652.9 660.7,653.1 661.2,653.4 661.6,653.6 662.1,653.9 662.6,654.1 663.0,654.4 663.5,654.6 663.9,654.9 664.3,655.1 664.7,655.4 665.1,655.6 665.5,655.9 665.9,656.2 666.2,656.4 666.6,656.7 666.9,656.9 667.2,657.2 667.6,657.5 667.8,657.7 668.1,657.9 668.4,658.2 668.6,658.4 668.9,658.6 669.1,658.7 669.3,658.9 669.5,659.0 669.6,659.1 669.8,659.2 669.9,659.3 670.0,659.4 670.0,659.9" fill="none" stroke="#0f0f0f" stroke-width="1.7" stroke-linejoin="round"/>
<polyline points="412.0,388.1 413.7,388.1 415.4,388.3 417.2,388.5 418.9,388.9 420.6,389.3 422.3,389.8 424.0,390.5 425.7,391.2 427.4,392.1 429.1,393.0 430.7,394.0 432.4,395.2 434.1,396.5 435.8,397.8 437.4,399.3 439.1,400.9 440.7,402.6 442.4,404.5 444.0,406.4 445.7,408.5 447.3,410.6 448.9,412.9 450.6,415.3 452.2,417.8 453.8,420.4 455.4,423.2 457.0,426.0 458.6,429.0 460.2,432.1 461.8,435.3 463.4,438.6 465.0,442.0 466.6,445.5 468.2,449.1 469.7,452.7 471.3,456.5 472.9,460.4 474.4,464.3 476.0,468.4 477.5,472.5 479.1,476.6 480.6,480.9 482.2,485.2 483.7,489.5 485.2,493.9 486.7,498.3 488.3,502.7 489.8,507.1 491.3,511.6 492.8,516.0 494.3,520.4 495.8,524.8 497.3,529.1 498.7,533.4 500.2,537.7 501.7,541.8 503.2,545.8 504.6,549.7 506.1,553.5 507.5,557.1 509.0,560.6 510.4,563.9 511.9,566.9 513.3,569.8 514.7,572.4 516.2,574.8 517.6,576.9 519.0,578.8 520.4,580.5 521.8,581.9 523.2,583.2 524.6,584.3 526.0,585.2 527.4,586.0 528.8,586.6 530.1,587.1 531.5,587.5 532.9,587.8 534.2,588.1 535.6,588.3 536.9,588.4 538.3,588.6 539.6,588.7 541.0,588.8 542.3,588.8 543.6,588.9 544.9,589.0 546.2,589.1 547.6,589.2 548.9,589.2 550.2,589.4 551.5,589.6 552.7,590.1 554.0,591.1 555.3,592.5 556.6,594.2 557.8,596.1 559.1,598.1 560.4,600.1 561.6,602.2 562.8,604.3 564.1,606.3 565.3,608.1 566.6,609.7 567.8,611.1 569.0,612.5 570.2,613.7 571.4,614.7 572.6,615.4 573.8,615.9 575.0,616.3 576.2,616.7 577.4,617.0 578.5,617.2 579.7,617.4 580.9,617.5 582.0,617.6 583.2,617.7 584.3,617.7 585.5,617.8 586.6,617.9 587.7,618.1 588.8,618.4 590.0,618.8 591.1,619.3 592.2,619.9 593.3,620.6 594.4,621.6 595.5,622.7 596.5,623.8 597.6,625.0 598.7,626.1 599.7,627.0 600.8,627.6 601.9,628.1 602.9,628.4 603.9,628.6 605.0,628.9 606.0,629.1 607.0,629.4 608.0,629.6 609.0,629.9 610.0,630.2 611.0,630.7 612.0,631.4 613.0,632.2 614.0,633.1 615.0,634.0 615.9,634.8 616.9,635.4 617.8,635.9 618.8,636.3 619.7,636.6 620.7,636.9 621.6,637.1 622.5,637.4 623.4,637.6 624.3,637.9 625.2,638.3 626.1,638.6 627.0,639.0 627.9,639.4 628.7,639.8 629.6,640.2 630.5,640.6 631.3,641.0 632.2,641.3 633.0,641.7 633.8,642.1 634.7,642.5 635.5,642.8 636.3,643.2 637.1,643.5 637.9,643.9 638.7,644.2 639.4,644.5 640.2,644.7 641.0,645.0 641.7,645.2 642.5,645.4 643.2,645.7 644.0,645.9 644.7,646.1 645.4,646.4 646.1,646.6 646.8,646.9 647.5,647.2 648.2,647.4 648.9,647.7 649.6,648.0 650.2,648.3 650.9,648.6 651.5,648.8 652.2,649.1 652.8,649.4 653.4,649.6 654.0,649.9 654.6,650.2 655.2,650.4 655.8,650.7 656.4,650.9 657.0,651.2 657.5,651.5 658.1,651.7 658.6,652.0 659.1,652.3 659.7,652.5 660.2,652.8 660.7,653.1 661.2,653.3 661.6,653.6 662.1,653.8 662.6,654.1 663.0,654.3 663.5,654.6 663.9,654.8 664.3,655.1 664.7,655.3 665.1,655.6 665.5,655.9 665.9,656.1 666.2,656.4 666.6,656.7 666.9,656.9 667.2,657.2 667.6,657.4 667.8,657.7 668.1,657.9 668.4,658.1 668.6,658.4 668.9,658.6 669.1,658.7 669.3,658.9 669.5,659.0 669.6,659.1 669.8,659.2 669.9,659.3 670.0,659.4 670.0,659.9" fill="none" stroke="#111111" stroke-width="1.7" stroke-linejoin="round"/>
<polyline points="412.0,388.1 413.7,388.1 415.4,388.3 417.2,388.5 418.9,388.9 420.6,389.3 422.3,389.8 424.0,390.4 425.7,391.1 427.4,392.0 429.1,392.9 430.7,393.9 432.4,395.0 434.1,396.3 435.8,397.6 437.4,399.1 439.1,400.6 440.7,402.3 442.4,404.1 444.0,406.0 445.7,408.0 447.3,410.1 448.9,412.3 450.6,414.7 452.2,417.2 453.8,419.7 455.4,422.4 457.0,425.2 458.6,428.1 460.2,431.1 461.8,434.3 463.4,437.5 465.0,440.8 466.6,444.3 468.2,447.8 469.7,451.4 471.3,455.2 472.9,459.0 474.4,462.9 476.0,466.8 477.5,470.9 479.1,475.0 480.6,479.2 482.2,483.4 483.7,487.7 485.2,492.0 486.7,496.4 488.3,500.8 489.8,505.2 491.3,509.6 492.8,514.0 494.3,518.4 495.8,522.8 497.3,527.1 498.7,531.4 500.2,535.7 501.7,539.9 503.2,543.9 504.6,547.9 506.1,551.7 507.5,555.4 509.0,559.0 510.4,562.3 511.9,565.5 513.3,568.5 514.7,571.2 516.2,573.7 517.6,576.0 519.0,578.0 520.4,579.8 521.8,581.3 523.2,582.6 524.6,583.8 526.0,584.9 527.4,585.7 528.8,586.4 530.1,586.9 531.5,587.4 532.9,587.7 534.2,588.0 535.6,588.2 536.9,588.4 538.3,588.5 539.6,588.7 541.0,588.8 542.3,588.8 543.6,588.9 544.9,589.0 546.2,589.1 547.6,589.2 548.9,589.3 550.2,589.3 551.5,589.5 552.7,589.9 554.0,590.7 555.3,592.0 556.6,593.7 557.8,595.5 559.1,597.4 560.4,599.5 561.6,601.5 562.8,603.6 564.1,605.6 565.3,607.5 566.6,609.2 567.8,610.7 569.0,612.0 570.2,613.3 571.4,614.4 572.6,615.2 573.8,615.8 575.0,616.2 576.2,616.6 577.4,616.9 578.5,617.2 579.7,617.4 580.9,617.5 582.0,617.6 583.2,617.7 584.3,617.7 585.5,617.8 586.6,617.9 587.7,618.1 588.8,618.3 590.0,618.7 591.1,619.1 592.2,619.6 593.3,620.3 594.4,621.2 595.5,622.2 596.5,623.4 597.6,624.6 598.7,625.7 599.7,626.7 600.8,627.4 601.9,627.9 602.9,628.3 603.9,628.6 605.0,628.8 606.0,629.0 607.0,629.3 608.0,629.5 609.0,629.8 610.0,630.1 611.0,630.5 612.0,631.1 613.0,631.9 614.0,632.7 615.0,633.6 615.9,634.5 616.9,635.2 617.8,635.8 618.8,636.2 619.7,636.5 620.7,636.8 621.6,637.0 622.5,637.3 623.4,637.6 624.3,637.8 625.2,638.2 626.1,638.5 627.0,638.9 627.9,639.3 628.7,639.7 629.6,640.1 630.5,640.4 631.3,640.8 632.2,641.2 633.0,641.6 633.8,642.0 634.7,642.3 635.5,642.7 636.3,643.1 637.1,643.4 637.9,643.8 638.7,644.1 639.4,644.4 640.2,644.6 641.0,644.9 641.7,645.1 642.5,645.4 643.2,645.6 644.0,645.8 644.7,646.1 645.4,646.3 646.1,646.6 646.8,646.8 647.5,647.1 648.2,647.4 648.9,647.6 649.6,647.9 650.2,648.2 650.9,648.5 651.5,648.7 652.2,649.0 652.8,649.3 653.4,649.6 654.0,649.8 654.6,650.1 655.2,650.3 655.8,650.6 656.4,650.9 657.0,651.1 657.5,651.4 658.1,651.7 658.6,651.9 659.1,652.2 659.7,652.5 660.2,652.7 660.7,653.0 661.2,653.3 661.6,653.5 662.1,653.8 662.6,654.0 663.0,654.3 663.5,654.5 663.9,654.8 664.3,655.0 664.7,655.3 665.1,655.6 665.5,655.8 665.9,656.1 666.2,656.4 666.6,656.6 666.9,656.9 667.2,657.1 667.6,657.4 667.8,657.7 668.1,657.9 668.4,658.1 668.6,658.3 668.9,658.5 669.1,658.7 669.3,658.9 669.5,659.0 669.6,659.1 669.8,659.2 669.9,659.3 670.0,659.4 670.0,659.9" fill="none" stroke="#121212" stroke-width="1.7" stroke-linejoin="round"/>
<polyline points="412.0,388.1 413.7,388.1 415.4,388.3 417.2,388.5 418.9,388.8 420.6,389.3 422.3,389.8 424.0,390.4 425.7,391.1 427.4,391.9 429.1,392.8 430.7,393.8 432.4,394.9 434.1,396.1 435.8,397.4 437.4,398.8 439.1,400.3 440.7,402.0 442.4,403.7 444.0,405.6 445.7,407.5 447.3,409.6 448.9,411.8 450.6,414.1 452.2,416.5 453.8,419.0 455.4,421.6 457.0,424.4 458.6,427.2 460.2,430.2 461.8,433.2 463.4,436.4 465.0,439.7 466.6,443.0 468.2,446.5 469.7,450.1 471.3,453.7 472.9,457.5 474.4,461.3 476.0,465.2 477.5,469.2 479.1,473.3 480.6,477.4 482.2,481.6 483.7,485.8 485.2,490.1 486.7,494.4 488.3,498.7 489.8,503.1 491.3,507.5 492.8,511.9 494.3,516.3 495.8,520.7 497.3,525.0 498.7,529.3 500.2,533.6 501.7,537.8 503.2,541.9 504.6,545.9 506.1,549.8 507.5,553.6 509.0,557.2 510.4,560.6 511.9,563.9 513.3,567.0 514.7,569.8 516.2,572.5 517.6,574.8 519.0,577.0 520.4,578.9 521.8,580.6 523.2,582.0 524.6,583.3 526.0,584.4 527.4,585.4 528.8,586.1 530.1,586.7 531.5,587.2 532.9,587.6 534.2,587.9 535.6,588.1 536.9,588.3 538.3,588.5 539.6,588.6 541.0,588.8 542.3,588.8 543.6,588.9 544.9,589.0 546.2,589.1 547.6,589.2 548.9,589.3 550.2,589.3 551.5,589.5 552.7,589.8 554.0,590.4 555.3,591.6 556.6,593.1 557.8,594.8 559.1,596.7 560.4,598.7 561.6,600.8 562.8,602.9 564.1,604.9 565.3,606.8 566.6,608.6 567.8,610.2 569.0,611.6 570.2,612.9 571.4,614.0 572.6,615.0 573.8,615.6 575.0,616.1 576.2,616.4 577.4,616.8 578.5,617.1 579.7,617.3 580.9,617.5 582.0,617.6 583.2,617.6 584.3,617.7 585.5,617.8 586.6,617.9 587.7,618.0 588.8,618.2 590.0,618.5 591.1,618.9 592.2,619.4 593.3,620.0 594.4,620.8 595.5,621.8 596.5,623.0 597.6,624.1 598.7,625.3 599.7,626.3 600.8,627.2 601.9,627.8 602.9,628.2 603.9,628.5 605.0,628.7 606.0,629.0 607.0,629.2 608.0,629.4 609.0,629.7 610.0,630.0 611.0,630.4 612.0,630.9 613.0,631.6 614.0,632.4 615.0,633.3 615.9,634.2 616.9,635.0 617.8,635.6 618.8,636.1 619.7,636.4 620.7,636.7 621.6,636.9 622.5,637.2 623.4,637.5 624.3,637.7 625.2,638.0 626.1,638.4 627.0,638.7 627.9,639.1 628.7,639.5 629.6,639.9 630.5,640.3 631.3,640.7 632.2,641.1 633.0,641.5 633.8,641.8 634.7,642.2 635.5,642.6 636.3,642.9 637.1,643.3 637.9,643.6 638.7,644.0 639.4,644.3 640.2,644.5 641.0,644.8 641.7,645.0 642.5,645.3 643.2,645.5 644.0,645.8 644.7,646.0 645.4,646.2 646.1,646.5 646.8,646.7 647.5,647.0 648.2,647.3 648.9,647.5 649.6,647.8 650.2,648.1 650.9,648.4 651.5,648.7 652.2,648.9 652.8,649.2 653.4,649.5 654.0,649.7 654.6,650.0 655.2,650.3 655.8,650.5 656.4,650.8 657.0,651.1 657.5,651.3 658.1,651.6 658.6,651.9 659.1,652.1 659.7,652.4 660.2,652.7 660.7,652.9 661.2,653.2 661.6,653.5 662.1,653.7 662.6,654.0 663.0,654.2 663.5,654.5 663.9,654.7 664.3,655.0 664.7,655.2 665.1,655.5 665.5,655.8 665.9,656.0 666.2,656.3 666.6,656.6 666.9,656.8 667.2,657.1 667.6,657.4 667.8,657.6 668.1,657.9 668.4,658.1 668.6,658.3 668.9,658.5 669.1,658.7 669.3,658.9 669.5,659.0 669.6,659.1 669.8,659.2 669.9,659.3 670.0,659.4 670.0,659.9" fill="none" stroke="#131313" stroke-width="1.7" stroke-linejoin="round"/>
<polyline points="412.0,388.1 413.7,388.1 415.4,388.3 417.2,388.5 418.9,388.8 420.6,389.2 422.3,389.7 424.0,390.3 425.7,391.0 427.4,391.8 429.1,392.6 430.7,393.6 432.4,394.7 434.1,395.9 435.8,397.1 437.4,398.5 439.1,400.0 440.7,401.6 442.4,403.3 444.0,405.1 445.7,407.0 447.3,409.0 448.9,411.2 450.6,413.4 452.2,415.8 453.8,418.2 455.4,420.8 457.0,423.5 458.6,426.3 460.2,429.2 461.8,432.1 463.4,435.3 465.0,438.5 466.6,441.8 468.2,445.2 469.7,448.7 471.3,452.2 472.9,455.9 474.4,459.7 476.0,463.5 477.5,467.4 479.1,471.4 480.6,475.5 482.2,479.6 483.7,483.8 485.2,488.0 486.7,492.3 488.3,496.6 489.8,501.0 491.3,505.3 492.8,509.7 494.3,514.1 495.8,518.4 497.3,522.8 498.7,527.1 500.2,531.3 501.7,535.5 503.2,539.7 504.6,543.7 506.1,547.7 507.5,551.5 509.0,555.2 510.4,558.8 511.9,562.1 513.3,565.3 514.7,568.3 516.2,571.0 517.6,573.6 519.0,575.9 520.4,577.9 521.8,579.7 523.2,581.3 524.6,582.7 526.0,583.9 527.4,584.9 528.8,585.8 530.1,586.4 531.5,587.0 532.9,587.4 534.2,587.8 535.6,588.1 536.9,588.3 538.3,588.5 539.6,588.6 541.0,588.7 542.3,588.8 543.6,588.9 544.9,589.0 546.2,589.1 547.6,589.2 548.9,589.3 550.2,589.3 551.5,589.4 552.7,589.6 554.0,590.1 555.3,591.1 556.6,592.5 557.8,594.2 559.1,596.0 560.4,598.0 561.6,600.0 562.8,602.1 564.1,604.1 565.3,606.1 566.6,607.9 567.8,609.6 569.0,611.0 570.2,612.4 571.4,613.6 572.6,614.6 573.8,615.4 575.0,615.9 576.2,616.3 577.4,616.7 578.5,617.0 579.7,617.2 580.9,617.4 582.0,617.6 583.2,617.6 584.3,617.7 585.5,617.8 586.6,617.9 587.7,618.0 588.8,618.1 590.0,618.4 591.1,618.8 592.2,619.2 593.3,619.8 594.4,620.5 595.5,621.4 596.5,622.5 597.6,623.6 598.7,624.8 599.7,625.9 600.8,626.8 601.9,627.5 602.9,628.0 603.9,628.4 605.0,628.6 606.0,628.9 607.0,629.1 608.0,629.4 609.0,629.6 610.0,629.9 611.0,630.2 612.0,630.6 613.0,631.2 614.0,632.0 615.0,632.9 615.9,633.8 616.9,634.6 617.8,635.3 618.8,635.9 619.7,636.3 620.7,636.6 621.6,636.8 622.5,637.1 623.4,637.4 624.3,637.6 625.2,637.9 626.1,638.2 627.0,638.6 627.9,639.0 628.7,639.4 629.6,639.7 630.5,640.1 631.3,640.5 632.2,640.9 633.0,641.3 633.8,641.7 634.7,642.1 635.5,642.4 636.3,642.8 637.1,643.2 637.9,643.5 638.7,643.8 639.4,644.1 640.2,644.4 641.0,644.7 641.7,645.0 642.5,645.2 643.2,645.4 644.0,645.7 644.7,645.9 645.4,646.1 646.1,646.4 646.8,646.6 647.5,646.9 648.2,647.2 648.9,647.4 649.6,647.7 650.2,648.0 650.9,648.3 651.5,648.6 652.2,648.8 652.8,649.1 653.4,649.4 654.0,649.7 654.6,649.9 655.2,650.2 655.8,650.4 656.4,650.7 657.0,651.0 657.5,651.3 658.1,651.5 658.6,651.8 659.1,652.1 659.7,652.3 660.2,652.6 660.7,652.9 661.2,653.1 661.6,653.4 662.1,653.6 662.6,653.9 663.0,654.2 663.5,654.4 663.9,654.7 664.3,654.9 664.7,655.2 665.1,655.5 665.5,655.7 665.9,656.0 666.2,656.3 666.6,656.5 666.9,656.8 667.2,657.1 667.6,657.3 667.8,657.6 668.1,657.8 668.4,658.1 668.6,658.3 668.9,658.5 669.1,658.7 669.3,658.9 669.5,659.0 669.6,659.1 669.8,659.2 669.9,659.3 670.0,659.4 670.0,659.9" fill="none" stroke="#151515" stroke-width="1.7" stroke-linejoin="round"/>
<polyline points="412.0,388.1 413.7,388.1 415.4,388.3 417.2,388.5 418.9,388.8 420.6,389.2 422.3,389.7 424.0,390.2 425.7,390.9 427.4,391.7 429.1,392.5 430.7,393.5 432.4,394.5 434.1,395.7 435.8,396.9 437.4,398.2 439.1,399.7 440.7,401.2 442.4,402.9 444.0,404.6 445.7,406.5 447.3,408.5 448.9,410.6 450.6,412.7 452.2,415.0 453.8,417.4 455.4,419.9 457.0,422.6 458.6,425.3 460.2,428.1 461.8,431.0 463.4,434.1 465.0,437.2 466.6,440.4 468.2,443.8 469.7,447.2 471.3,450.7 472.9,454.3 474.4,458.0 476.0,461.8 477.5,465.6 479.1,469.6 480.6,473.6 482.2,477.6 483.7,481.7 485.2,485.9 486.7,490.1 488.3,494.4 489.8,498.7 491.3,503.0 492.8,507.3 494.3,511.7 495.8,516.0 497.3,520.4 498.7,524.7 500.2,528.9 501.7,533.2 503.2,537.3 504.6,541.4 506.1,545.4 507.5,549.3 509.0,553.1 510.4,556.7 511.9,560.2 513.3,563.5 514.7,566.6 516.2,569.5 517.6,572.1 519.0,574.5 520.4,576.7 521.8,578.7 523.2,580.4 524.6,581.9 526.0,583.3 527.4,584.4 528.8,585.4 530.1,586.1 531.5,586.7 532.9,587.2 534.2,587.6 535.6,588.0 536.9,588.2 538.3,588.4 539.6,588.6 541.0,588.7 542.3,588.8 543.6,588.9 544.9,589.0 546.2,589.1 547.6,589.2 548.9,589.3 550.2,589.3 551.5,589.4 552.7,589.6 554.0,589.9 555.3,590.7 556.6,591.9 557.8,593.5 559.1,595.3 560.4,597.2 561.6,599.2 562.8,601.2 564.1,603.3 565.3,605.3 566.6,607.2 567.8,608.9 569.0,610.4 570.2,611.8 571.4,613.1 572.6,614.2 573.8,615.1 575.0,615.7 576.2,616.2 577.4,616.5 578.5,616.9 579.7,617.2 580.9,617.4 582.0,617.5 583.2,617.6 584.3,617.7 585.5,617.8 586.6,617.8 587.7,617.9 588.8,618.1 590.0,618.3 591.1,618.6 592.2,619.0 593.3,619.5 594.4,620.2 595.5,621.0 596.5,622.0 597.6,623.1 598.7,624.3 599.7,625.4 600.8,626.4 601.9,627.3 602.9,627.8 603.9,628.2 605.0,628.5 606.0,628.8 607.0,629.0 608.0,629.3 609.0,629.5 610.0,629.8 611.0,630.0 612.0,630.4 613.0,630.9 614.0,631.6 615.0,632.5 615.9,633.4 616.9,634.3 617.8,635.0 618.8,635.7 619.7,636.1 620.7,636.5 621.6,636.7 622.5,637.0 623.4,637.2 624.3,637.5 625.2,637.8 626.1,638.1 627.0,638.4 627.9,638.8 628.7,639.2 629.6,639.6 630.5,640.0 631.3,640.4 632.2,640.8 633.0,641.1 633.8,641.5 634.7,641.9 635.5,642.3 636.3,642.6 637.1,643.0 637.9,643.4 638.7,643.7 639.4,644.0 640.2,644.3 641.0,644.6 641.7,644.9 642.5,645.1 643.2,645.3 644.0,645.6 644.7,645.8 645.4,646.0 646.1,646.3 646.8,646.5 647.5,646.8 648.2,647.1 648.9,647.3 649.6,647.6 650.2,647.9 650.9,648.2 651.5,648.5 652.2,648.7 652.8,649.0 653.4,649.3 654.0,649.6 654.6,649.8 655.2,650.1 655.8,650.4 656.4,650.6 657.0,650.9 657.5,651.2 658.1,651.4 658.6,651.7 659.1,652.0 659.7,652.3 660.2,652.5 660.7,652.8 661.2,653.1 661.6,653.3 662.1,653.6 662.6,653.8 663.0,654.1 663.5,654.3 663.9,654.6 664.3,654.9 664.7,655.1 665.1,655.4 665.5,655.7 665.9,655.9 666.2,656.2 666.6,656.5 666.9,656.8 667.2,657.0 667.6,657.3 667.8,657.6 668.1,657.8 668.4,658.1 668.6,658.3 668.9,658.5 669.1,658.7 669.3,658.9 669.5,659.0 669.6,659.1 669.8,659.2 669.9,659.3 670.0,659.4 670.0,659.9" fill="none" stroke="#171717" stroke-width="1.7" stroke-linejoin="round"/>
<polyline points="412.0,388.1 413.7,388.1 415.4,388.3 417.2,388.5 418.9,388.8 420.6,389.2 422.3,389.6 424.0,390.2 425.7,390.8 427.4,391.6 429.1,392.4 430.7,393.3 432.4,394.3 434.1,395.4 435.8,396.6 437.4,397.9 439.1,399.4 440.7,400.9 442.4,402.5 444.0,404.2 445.7,406.0 447.3,407.9 448.9,409.9 450.6,412.1 452.2,414.3 453.8,416.6 455.4,419.1 457.0,421.6 458.6,424.3 460.2,427.0 461.8,429.9 463.4,432.8 465.0,435.9 466.6,439.1 468.2,442.3 469.7,445.7 471.3,449.1 472.9,452.6 474.4,456.3 476.0,460.0 477.5,463.7 479.1,467.6 480.6,471.5 482.2,475.5 483.7,479.6 485.2,483.7 486.7,487.9 488.3,492.1 489.8,496.3 491.3,500.6 492.8,504.9 494.3,509.2 495.8,513.5 497.3,517.8 498.7,522.1 500.2,526.4 501.7,530.6 503.2,534.8 504.6,538.9 506.1,543.0 507.5,546.9 509.0,550.7 510.4,554.5 511.9,558.0 513.3,561.4 514.7,564.6 516.2,567.7 517.6,570.5 519.0,573.0 520.4,575.4 521.8,577.5 523.2,579.4 524.6,581.1 526.0,582.5 527.4,583.8 528.8,584.8 530.1,585.7 531.5,586.4 532.9,587.0 534.2,587.5 535.6,587.8 536.9,588.1 538.3,588.4 539.6,588.5 541.0,588.7 542.3,588.8 543.6,588.9 544.9,589.0 546.2,589.1 547.6,589.2 548.9,589.3 550.2,589.3 551.5,589.4 552.7,589.5 554.0,589.8 555.3,590.3 556.6,591.3 557.8,592.8 559.1,594.5 560.4,596.3 561.6,598.3 562.8,600.3 564.1,602.4 565.3,604.4 566.6,606.4 567.8,608.2 569.0,609.8 570.2,611.2 571.4,612.5 572.6,613.7 573.8,614.7 575.0,615.5 576.2,616.0 577.4,616.4 578.5,616.7 579.7,617.1 580.9,617.3 582.0,617.5 583.2,617.6 584.3,617.7 585.5,617.8 586.6,617.8 587.7,617.9 588.8,618.0 590.0,618.2 591.1,618.5 592.2,618.8 593.3,619.3 594.4,619.8 595.5,620.6 596.5,621.5 597.6,622.5 598.7,623.7 599.7,624.9 600.8,626.0 601.9,626.9 602.9,627.6 603.9,628.1 605.0,628.4 606.0,628.7 607.0,628.9 608.0,629.2 609.0,629.4 610.0,629.6 611.0,629.9 612.0,630.2 613.0,630.7 614.0,631.3 615.0,632.1 615.9,632.9 616.9,633.8 617.8,634.7 618.8,635.4 619.7,635.9 620.7,636.3 621.6,636.6 622.5,636.9 623.4,637.1 624.3,637.4 625.2,637.6 626.1,637.9 627.0,638.3 627.9,638.6 628.7,639.0 629.6,639.4 630.5,639.8 631.3,640.2 632.2,640.6 633.0,641.0 633.8,641.3 634.7,641.7 635.5,642.1 636.3,642.5 637.1,642.8 637.9,643.2 638.7,643.5 639.4,643.9 640.2,644.2 641.0,644.5 641.7,644.7 642.5,645.0 643.2,645.2 644.0,645.5 644.7,645.7 645.4,645.9 646.1,646.2 646.8,646.4 647.5,646.7 648.2,646.9 648.9,647.2 649.6,647.5 650.2,647.8 650.9,648.1 651.5,648.3 652.2,648.6 652.8,648.9 653.4,649.2 654.0,649.5 654.6,649.7 655.2,650.0 655.8,650.3 656.4,650.5 657.0,650.8 657.5,651.1 658.1,651.3 658.6,651.6 659.1,651.9 659.7,652.2 660.2,652.4 660.7,652.7 661.2,653.0 661.6,653.2 662.1,653.5 662.6,653.8 663.0,654.0 663.5,654.3 663.9,654.5 664.3,654.8 664.7,655.1 665.1,655.3 665.5,655.6 665.9,655.9 666.2,656.2 666.6,656.4 666.9,656.7 667.2,657.0 667.6,657.2 667.8,657.5 668.1,657.8 668.4,658.0 668.6,658.3 668.9,658.5 669.1,658.7 669.3,658.9 669.5,659.0 669.6,659.1 669.8,659.3 669.9,659.3 670.0,659.4 670.0,659.9" fill="none" stroke="#181818" stroke-width="1.7" stroke-linejoin="round"/>
<polyline points="412.0,388.1 413.7,388.1 415.4,388.3 417.2,388.5 418.9,388.8 420.6,389.1 422.3,389.6 424.0,390.1 425.7,390.7 427.4,391.5 429.1,392.3 430.7,393.2 432.4,394.1 434.1,395.2 435.8,396.4 437.4,397.6 439.1,399.0 440.7,400.5 442.4,402.0 444.0,403.7 445.7,405.5 447.3,407.3 448.9,409.3 450.6,411.3 452.2,413.5 453.8,415.8 455.4,418.2 457.0,420.6 458.6,423.2 460.2,425.9 461.8,428.7 463.4,431.6 465.0,434.6 466.6,437.6 468.2,440.8 469.7,444.1 471.3,447.5 472.9,450.9 474.4,454.4 476.0,458.1 477.5,461.8 479.1,465.6 480.6,469.4 482.2,473.3 483.7,477.3 485.2,481.4 486.7,485.5 488.3,489.6 489.8,493.8 491.3,498.0 492.8,502.3 494.3,506.6 495.8,510.9 497.3,515.1 498.7,519.4 500.2,523.7 501.7,527.9 503.2,532.1 504.6,536.3 506.1,540.3 507.5,544.3 509.0,548.2 510.4,552.0 511.9,555.7 513.3,559.2 514.7,562.5 516.2,565.6 517.6,568.6 519.0,571.3 520.4,573.8 521.8,576.1 523.2,578.1 524.6,580.0 526.0,581.6 527.4,583.0 528.8,584.2 530.1,585.2 531.5,586.0 532.9,586.7 534.2,587.2 535.6,587.6 536.9,588.0 538.3,588.3 539.6,588.5 541.0,588.6 542.3,588.8 543.6,588.9 544.9,589.0 546.2,589.1 547.6,589.2 548.9,589.3 550.2,589.3 551.5,589.4 552.7,589.5 554.0,589.7 555.3,590.0 556.6,590.8 557.8,592.1 559.1,593.6 560.4,595.4 561.6,597.3 562.8,599.3 564.1,601.3 565.3,603.4 566.6,605.4 567.8,607.3 569.0,609.0 570.2,610.5 571.4,611.9 572.6,613.2 573.8,614.3 575.0,615.2 576.2,615.8 577.4,616.2 578.5,616.6 579.7,616.9 580.9,617.2 582.0,617.4 583.2,617.6 584.3,617.7 585.5,617.8 586.6,617.8 587.7,617.9 588.8,618.0 590.0,618.1 591.1,618.3 592.2,618.6 593.3,619.1 594.4,619.5 595.5,620.2 596.5,621.0 597.6,621.9 598.7,623.1 599.7,624.2 600.8,625.4 601.9,626.4 602.9,627.2 603.9,627.8 605.0,628.2 606.0,628.5 607.0,628.8 608.0,629.0 609.0,629.3 610.0,629.5 611.0,629.8 612.0,630.1 613.0,630.4 614.0,630.9 615.0,631.6 615.9,632.4 616.9,633.3 617.8,634.2 618.8,635.0 619.7,635.6 620.7,636.1 621.6,636.5 622.5,636.7 623.4,637.0 624.3,637.3 625.2,637.5 626.1,637.8 627.0,638.1 627.9,638.4 628.7,638.8 629.6,639.2 630.5,639.6 631.3,640.0 632.2,640.4 633.0,640.8 633.8,641.1 634.7,641.5 635.5,641.9 636.3,642.3 637.1,642.6 637.9,643.0 638.7,643.4 639.4,643.7 640.2,644.0 641.0,644.3 641.7,644.6 642.5,644.9 643.2,645.1 644.0,645.4 644.7,645.6 645.4,645.8 646.1,646.1 646.8,646.3 647.5,646.6 648.2,646.8 648.9,647.1 649.6,647.4 650.2,647.7 650.9,647.9 651.5,648.2 652.2,648.5 652.8,648.8 653.4,649.1 654.0,649.3 654.6,649.6 655.2,649.9 655.8,650.2 656.4,650.4 657.0,650.7 657.5,651.0 658.1,651.2 658.6,651.5 659.1,651.8 659.7,652.1 660.2,652.3 660.7,652.6 661.2,652.9 661.6,653.2 662.1,653.4 662.6,653.7 663.0,653.9 663.5,654.2 663.9,654.5 664.3,654.7 664.7,655.0 665.1,655.3 665.5,655.5 665.9,655.8 666.2,656.1 666.6,656.4 666.9,656.6 667.2,656.9 667.6,657.2 667.8,657.5 668.1,657.7 668.4,658.0 668.6,658.2 668.9,658.5 669.1,658.7 669.3,658.8 669.5,659.0 669.6,659.1 669.8,659.3 669.9,659.4 670.0,659.4 670.0,659.9" fill="none" stroke="#1a1a1a" stroke-width="1.7" stroke-linejoin="round"/>
<polyline points="412.0,388.1 413.7,388.1 415.4,388.3 417.2,388.5 418.9,388.7 420.6,389.1 422.3,389.5 424.0,390.1 425.7,390.7 427.4,391.3 429.1,392.1 430.7,393.0 432.4,393.9 434.1,395.0 435.8,396.1 437.4,397.3 439.1,398.7 440.7,400.1 442.4,401.6 444.0,403.2 445.7,404.9 447.3,406.7 448.9,408.6 450.6,410.6 452.2,412.7 453.8,414.9 455.4,417.2 457.0,419.6 458.6,422.2 460.2,424.8 461.8,427.5 463.4,430.3 465.0,433.2 466.6,436.2 468.2,439.3 469.7,442.5 471.3,445.7 472.9,449.1 474.4,452.6 476.0,456.1 477.5,459.7 479.1,463.4 480.6,467.2 482.2,471.1 483.7,475.0 485.2,479.0 486.7,483.0 488.3,487.1 489.8,491.2 491.3,495.4 492.8,499.6 494.3,503.8 495.8,508.1 497.3,512.3 498.7,516.6 500.2,520.8 501.7,525.0 503.2,529.2 504.6,533.4 506.1,537.5 507.5,541.5 509.0,545.5 510.4,549.3 511.9,553.1 513.3,556.7 514.7,560.1 516.2,563.4 517.6,566.5 519.0,569.4 520.4,572.1 521.8,574.5 523.2,576.7 524.6,578.7 526.0,580.5 527.4,582.1 528.8,583.4 530.1,584.6 531.5,585.5 532.9,586.3 534.2,586.9 535.6,587.4 536.9,587.8 538.3,588.1 539.6,588.4 541.0,588.6 542.3,588.8 543.6,588.9 544.9,589.0 546.2,589.1 547.6,589.2 548.9,589.3 550.2,589.4 551.5,589.4 552.7,589.5 554.0,589.6 555.3,589.8 556.6,590.4 557.8,591.4 559.1,592.8 560.4,594.5 561.6,596.3 562.8,598.2 564.1,600.2 565.3,602.3 566.6,604.3 567.8,606.3 569.0,608.1 570.2,609.7 571.4,611.1 572.6,612.5 573.8,613.7 575.0,614.7 576.2,615.5 577.4,616.0 578.5,616.4 579.7,616.7 580.9,617.1 582.0,617.3 583.2,617.5 584.3,617.7 585.5,617.7 586.6,617.8 587.7,617.9 588.8,618.0 590.0,618.1 591.1,618.2 592.2,618.5 593.3,618.8 594.4,619.3 595.5,619.8 596.5,620.5 597.6,621.3 598.7,622.4 599.7,623.5 600.8,624.7 601.9,625.8 602.9,626.8 603.9,627.5 605.0,628.0 606.0,628.4 607.0,628.7 608.0,628.9 609.0,629.1 610.0,629.4 611.0,629.6 612.0,629.9 613.0,630.2 614.0,630.6 615.0,631.2 615.9,631.9 616.9,632.8 617.8,633.7 618.8,634.6 619.7,635.3 620.7,635.9 621.6,636.3 622.5,636.6 623.4,636.9 624.3,637.1 625.2,637.4 626.1,637.6 627.0,637.9 627.9,638.2 628.7,638.6 629.6,639.0 630.5,639.3 631.3,639.7 632.2,640.1 633.0,640.5 633.8,640.9 634.7,641.3 635.5,641.7 636.3,642.1 637.1,642.4 637.9,642.8 638.7,643.2 639.4,643.5 640.2,643.9 641.0,644.2 641.7,644.5 642.5,644.7 643.2,645.0 644.0,645.2 644.7,645.5 645.4,645.7 646.1,645.9 646.8,646.2 647.5,646.4 648.2,646.7 648.9,647.0 649.6,647.2 650.2,647.5 650.9,647.8 651.5,648.1 652.2,648.4 652.8,648.7 653.4,648.9 654.0,649.2 654.6,649.5 655.2,649.8 655.8,650.0 656.4,650.3 657.0,650.6 657.5,650.8 658.1,651.1 658.6,651.4 659.1,651.7 659.7,652.0 660.2,652.2 660.7,652.5 661.2,652.8 661.6,653.1 662.1,653.3 662.6,653.6 663.0,653.9 663.5,654.1 663.9,654.4 664.3,654.6 664.7,654.9 665.1,655.2 665.5,655.5 665.9,655.7 666.2,656.0 666.6,656.3 666.9,656.6 667.2,656.9 667.6,657.1 667.8,657.4 668.1,657.7 668.4,658.0 668.6,658.2 668.9,658.4 669.1,658.6 669.3,658.8 669.5,659.0 669.6,659.1 669.8,659.3 669.9,659.4 670.0,659.4 670.0,659.9" fill="none" stroke="#1c1c1c" stroke-width="1.7" stroke-linejoin="round"/>
<polyline points="412.0,388.1 413.7,388.1 415.4,388.3 417.2,388.4 418.9,388.7 420.6,389.1 422.3,389.5 424.0,390.0 425.7,390.6 427.4,391.2 429.1,392.0 430.7,392.8 432.4,393.7 434.1,394.7 435.8,395.8 437.4,397.0 439.1,398.3 440.7,399.7 442.4,401.1 444.0,402.7 445.7,404.3 447.3,406.1 448.9,407.9 450.6,409.9 452.2,411.9 453.8,414.1 455.4,416.3 457.0,418.6 458.6,421.1 460.2,423.6 461.8,426.2 463.4,428.9 465.0,431.8 466.6,434.7 468.2,437.7 469.7,440.8 471.3,444.0 472.9,447.3 474.4,450.6 476.0,454.1 477.5,457.6 479.1,461.3 480.6,465.0 482.2,468.7 483.7,472.6 485.2,476.5 486.7,480.4 488.3,484.4 489.8,488.5 491.3,492.6 492.8,496.7 494.3,500.9 495.8,505.1 497.3,509.3 498.7,513.6 500.2,517.8 501.7,522.0 503.2,526.2 504.6,530.3 506.1,534.5 507.5,538.5 509.0,542.5 510.4,546.4 511.9,550.2 513.3,553.9 514.7,557.5 516.2,560.9 517.6,564.1 519.0,567.2 520.4,570.0 521.8,572.6 523.2,575.0 524.6,577.2 526.0,579.2 527.4,581.0 528.8,582.5 530.1,583.8 531.5,584.9 532.9,585.8 534.2,586.5 535.6,587.1 536.9,587.6 538.3,588.0 539.6,588.3 541.0,588.5 542.3,588.7 543.6,588.8 544.9,589.0 546.2,589.1 547.6,589.2 548.9,589.3 550.2,589.4 551.5,589.4 552.7,589.5 554.0,589.6 555.3,589.7 556.6,590.1 557.8,590.8 559.1,592.0 560.4,593.5 561.6,595.2 562.8,597.1 564.1,599.0 565.3,601.1 566.6,603.1 567.8,605.1 569.0,607.0 570.2,608.7 571.4,610.3 572.6,611.7 573.8,613.0 575.0,614.1 576.2,615.0 577.4,615.7 578.5,616.2 579.7,616.6 580.9,616.9 582.0,617.2 583.2,617.4 584.3,617.6 585.5,617.7 586.6,617.8 587.7,617.9 588.8,617.9 590.0,618.0 591.1,618.1 592.2,618.3 593.3,618.6 594.4,619.0 595.5,619.5 596.5,620.0 597.6,620.8 598.7,621.7 599.7,622.8 600.8,623.9 601.9,625.1 602.9,626.2 603.9,627.1 605.0,627.7 606.0,628.2 607.0,628.5 608.0,628.8 609.0,629.0 610.0,629.2 611.0,629.5 612.0,629.7 613.0,630.0 614.0,630.3 615.0,630.8 615.9,631.4 616.9,632.2 617.8,633.1 618.8,634.0 619.7,634.8 620.7,635.5 621.6,636.0 622.5,636.4 623.4,636.7 624.3,637.0 625.2,637.2 626.1,637.5 627.0,637.7 627.9,638.0 628.7,638.4 629.6,638.7 630.5,639.1 631.3,639.5 632.2,639.9 633.0,640.3 633.8,640.7 634.7,641.1 635.5,641.4 636.3,641.8 637.1,642.2 637.9,642.6 638.7,642.9 639.4,643.3 640.2,643.7 641.0,644.0 641.7,644.3 642.5,644.6 643.2,644.8 644.0,645.1 644.7,645.3 645.4,645.6 646.1,645.8 646.8,646.1 647.5,646.3 648.2,646.5 648.9,646.8 649.6,647.1 650.2,647.4 650.9,647.6 651.5,647.9 652.2,648.2 652.8,648.5 653.4,648.8 654.0,649.1 654.6,649.4 655.2,649.6 655.8,649.9 656.4,650.2 657.0,650.4 657.5,650.7 658.1,651.0 658.6,651.3 659.1,651.5 659.7,651.8 660.2,652.1 660.7,652.4 661.2,652.7 661.6,652.9 662.1,653.2 662.6,653.5 663.0,653.8 663.5,654.0 663.9,654.3 664.3,654.6 664.7,654.8 665.1,655.1 665.5,655.4 665.9,655.7 666.2,655.9 666.6,656.2 666.9,656.5 667.2,656.8 667.6,657.1 667.8,657.4 668.1,657.6 668.4,657.9 668.6,658.2 668.9,658.4 669.1,658.6 669.3,658.8 669.5,659.0 669.6,659.1 669.8,659.3 669.9,659.4 670.0,659.5 670.0,659.9" fill="none" stroke="#1e1e1e" stroke-width="1.7" stroke-linejoin="round"/>
<polyline points="412.0,388.1 413.7,388.1 415.4,388.2 417.2,388.4 418.9,388.7 420.6,389.0 422.3,389.4 424.0,389.9 425.7,390.5 427.4,391.1 429.1,391.8 430.7,392.6 432.4,393.5 434.1,394.5 435.8,395.6 437.4,396.7 439.1,397.9 440.7,399.3 442.4,400.7 444.0,402.2 445.7,403.8 447.3,405.5 448.9,407.2 450.6,409.1 452.2,411.1 453.8,413.2 455.4,415.3 457.0,417.6 458.6,419.9 460.2,422.4 461.8,424.9 463.4,427.6 465.0,430.3 466.6,433.1 468.2,436.1 469.7,439.1 471.3,442.2 472.9,445.4 474.4,448.7 476.0,452.0 477.5,455.5 479.1,459.0 480.6,462.6 482.2,466.3 483.7,470.0 485.2,473.9 486.7,477.7 488.3,481.7 489.8,485.7 491.3,489.7 492.8,493.8 494.3,497.9 495.8,502.0 497.3,506.2 498.7,510.4 500.2,514.6 501.7,518.8 503.2,522.9 504.6,527.1 506.1,531.2 507.5,535.3 509.0,539.3 510.4,543.3 511.9,547.2 513.3,550.9 514.7,554.6 516.2,558.1 517.6,561.5 519.0,564.7 520.4,567.7 521.8,570.5 523.2,573.1 524.6,575.5 526.0,577.7 527.4,579.6 528.8,581.3 530.1,582.8 531.5,584.1 532.9,585.1 534.2,586.0 535.6,586.7 536.9,587.3 538.3,587.7 539.6,588.1 541.0,588.4 542.3,588.6 543.6,588.8 544.9,588.9 546.2,589.1 547.6,589.2 548.9,589.3 550.2,589.4 551.5,589.4 552.7,589.5 554.0,589.6 555.3,589.7 556.6,589.9 557.8,590.3 559.1,591.2 560.4,592.5 561.6,594.1 562.8,595.8 564.1,597.7 565.3,599.7 566.6,601.8 567.8,603.8 569.0,605.7 570.2,607.6 571.4,609.3 572.6,610.7 573.8,612.1 575.0,613.4 576.2,614.5 577.4,615.3 578.5,615.9 579.7,616.3 580.9,616.7 582.0,617.0 583.2,617.3 584.3,617.5 585.5,617.7 586.6,617.8 587.7,617.9 588.8,617.9 590.0,618.0 591.1,618.1 592.2,618.2 593.3,618.4 594.4,618.7 595.5,619.1 596.5,619.6 597.6,620.2 598.7,621.0 599.7,622.0 600.8,623.1 601.9,624.2 602.9,625.4 603.9,626.4 605.0,627.3 606.0,627.9 607.0,628.3 608.0,628.6 609.0,628.8 610.0,629.1 611.0,629.3 612.0,629.6 613.0,629.8 614.0,630.1 615.0,630.5 615.9,630.9 616.9,631.6 617.8,632.4 618.8,633.3 619.7,634.2 620.7,635.0 621.6,635.7 622.5,636.1 623.4,636.5 624.3,636.8 625.2,637.0 626.1,637.3 627.0,637.6 627.9,637.8 628.7,638.1 629.6,638.5 630.5,638.8 631.3,639.2 632.2,639.6 633.0,640.0 633.8,640.4 634.7,640.8 635.5,641.2 636.3,641.6 637.1,641.9 637.9,642.3 638.7,642.7 639.4,643.1 640.2,643.4 641.0,643.8 641.7,644.1 642.5,644.4 643.2,644.7 644.0,644.9 644.7,645.2 645.4,645.4 646.1,645.7 646.8,645.9 647.5,646.1 648.2,646.4 648.9,646.6 649.6,646.9 650.2,647.2 650.9,647.5 651.5,647.8 652.2,648.0 652.8,648.3 653.4,648.6 654.0,648.9 654.6,649.2 655.2,649.5 655.8,649.7 656.4,650.0 657.0,650.3 657.5,650.6 658.1,650.8 658.6,651.1 659.1,651.4 659.7,651.7 660.2,652.0 660.7,652.3 661.2,652.5 661.6,652.8 662.1,653.1 662.6,653.4 663.0,653.6 663.5,653.9 663.9,654.2 664.3,654.5 664.7,654.7 665.1,655.0 665.5,655.3 665.9,655.6 666.2,655.9 666.6,656.1 666.9,656.4 667.2,656.7 667.6,657.0 667.8,657.3 668.1,657.6 668.4,657.9 668.6,658.1 668.9,658.4 669.1,658.6 669.3,658.8 669.5,659.0 669.6,659.1 669.8,659.3 669.9,659.4 670.0,659.5 670.0,659.9" fill="none" stroke="#202020" stroke-width="1.7" stroke-linejoin="round"/>
<polyline points="412.0,388.1 413.7,388.1 415.4,388.2 417.2,388.4 418.9,388.7 420.6,389.0 422.3,389.4 424.0,389.8 425.7,390.4 427.4,391.0 429.1,391.7 430.7,392.5 432.4,393.3 434.1,394.3 435.8,395.3 437.4,396.4 439.1,397.6 440.7,398.8 442.4,400.2 444.0,401.6 445.7,403.2 447.3,404.8 448.9,406.5 450.6,408.3 452.2,410.2 453.8,412.2 455.4,414.3 457.0,416.5 458.6,418.8 460.2,421.1 461.8,423.6 463.4,426.2 465.0,428.8 466.6,431.6 468.2,434.4 469.7,437.3 471.3,440.3 472.9,443.4 474.4,446.6 476.0,449.9 477.5,453.2 479.1,456.7 480.6,460.2 482.2,463.8 483.7,467.4 485.2,471.2 486.7,475.0 488.3,478.8 489.8,482.7 491.3,486.7 492.8,490.7 494.3,494.7 495.8,498.8 497.3,502.9 498.7,507.1 500.2,511.2 501.7,515.4 503.2,519.5 504.6,523.7 506.1,527.8 507.5,531.9 509.0,535.9 510.4,539.9 511.9,543.9 513.3,547.7 514.7,551.4 516.2,555.1 517.6,558.5 519.0,561.9 520.4,565.1 521.8,568.0 523.2,570.8 524.6,573.4 526.0,575.8 527.4,578.0 528.8,579.9 530.1,581.6 531.5,583.0 532.9,584.3 534.2,585.3 535.6,586.1 536.9,586.8 538.3,587.4 539.6,587.8 541.0,588.2 542.3,588.5 543.6,588.7 544.9,588.9 546.2,589.0 547.6,589.1 548.9,589.3 550.2,589.3 551.5,589.4 552.7,589.5 554.0,589.6 555.3,589.7 556.6,589.8 557.8,590.0 559.1,590.6 560.4,591.5 561.6,592.9 562.8,594.6 564.1,596.4 565.3,598.3 566.6,600.3 567.8,602.3 569.0,604.3 570.2,606.2 571.4,608.0 572.6,609.6 573.8,611.1 575.0,612.4 576.2,613.6 577.4,614.7 578.5,615.5 579.7,616.0 580.9,616.4 582.0,616.8 583.2,617.1 584.3,617.4 585.5,617.6 586.6,617.7 587.7,617.8 588.8,617.9 590.0,618.0 591.1,618.0 592.2,618.1 593.3,618.3 594.4,618.5 595.5,618.8 596.5,619.3 597.6,619.7 598.7,620.4 599.7,621.2 600.8,622.2 601.9,623.3 602.9,624.5 603.9,625.6 605.0,626.6 606.0,627.4 607.0,628.0 608.0,628.4 609.0,628.7 610.0,628.9 611.0,629.2 612.0,629.4 613.0,629.6 614.0,629.9 615.0,630.2 615.9,630.5 616.9,631.1 617.8,631.8 618.8,632.6 619.7,633.5 620.7,634.4 621.6,635.1 622.5,635.8 623.4,636.2 624.3,636.6 625.2,636.8 626.1,637.1 627.0,637.4 627.9,637.6 628.7,637.9 629.6,638.2 630.5,638.5 631.3,638.9 632.2,639.3 633.0,639.7 633.8,640.1 634.7,640.5 635.5,640.9 636.3,641.3 637.1,641.7 637.9,642.0 638.7,642.4 639.4,642.8 640.2,643.1 641.0,643.5 641.7,643.9 642.5,644.2 643.2,644.5 644.0,644.7 644.7,645.0 645.4,645.3 646.1,645.5 646.8,645.7 647.5,646.0 648.2,646.2 648.9,646.5 649.6,646.7 650.2,647.0 650.9,647.3 651.5,647.6 652.2,647.9 652.8,648.1 653.4,648.4 654.0,648.7 654.6,649.0 655.2,649.3 655.8,649.6 656.4,649.9 657.0,650.1 657.5,650.4 658.1,650.7 658.6,651.0 659.1,651.2 659.7,651.5 660.2,651.8 660.7,652.1 661.2,652.4 661.6,652.7 662.1,653.0 662.6,653.2 663.0,653.5 663.5,653.8 663.9,654.1 664.3,654.3 664.7,654.6 665.1,654.9 665.5,655.2 665.9,655.5 666.2,655.8 666.6,656.0 666.9,656.3 667.2,656.6 667.6,656.9 667.8,657.2 668.1,657.5 668.4,657.8 668.6,658.1 668.9,658.3 669.1,658.6 669.3,658.8 669.5,659.0 669.6,659.1 669.8,659.3 669.9,659.4 670.0,659.5 670.0,659.9" fill="none" stroke="#222222" stroke-width="1.7" stroke-linejoin="round"/>
<polyline points="412.0,388.1 413.7,388.1 415.4,388.2 417.2,388.4 418.9,388.6 420.6,389.0 422.3,389.3 424.0,389.8 425.7,390.3 427.4,390.9 429.1,391.6 430.7,392.3 432.4,393.1 434.1,394.0 435.8,395.0 437.4,396.0 439.1,397.2 440.7,398.4 442.4,399.7 444.0,401.1 445.7,402.6 447.3,404.1 448.9,405.8 450.6,407.5 452.2,409.4 453.8,411.3 455.4,413.3 457.0,415.4 458.6,417.6 460.2,419.9 461.8,422.3 463.4,424.7 465.0,427.3 466.6,429.9 468.2,432.7 469.7,435.5 471.3,438.4 472.9,441.4 474.4,444.5 476.0,447.7 477.5,450.9 479.1,454.3 480.6,457.7 482.2,461.2 483.7,464.7 485.2,468.4 486.7,472.1 488.3,475.8 489.8,479.7 491.3,483.5 492.8,487.5 494.3,491.4 495.8,495.5 497.3,499.5 498.7,503.6 500.2,507.7 501.7,511.8 503.2,515.9 504.6,520.0 506.1,524.1 507.5,528.2 509.0,532.3 510.4,536.3 511.9,540.3 513.3,544.2 514.7,548.0 516.2,551.7 517.6,555.3 519.0,558.8 520.4,562.1 521.8,565.2 523.2,568.2 524.6,571.0 526.0,573.6 527.4,576.0 528.8,578.1 530.1,580.0 531.5,581.7 532.9,583.2 534.2,584.4 535.6,585.4 536.9,586.3 538.3,587.0 539.6,587.5 541.0,587.9 542.3,588.3 543.6,588.6 544.9,588.8 546.2,589.0 547.6,589.1 548.9,589.2 550.2,589.3 551.5,589.4 552.7,589.5 554.0,589.6 555.3,589.7 556.6,589.8 557.8,589.9 559.1,590.2 560.4,590.7 561.6,591.8 562.8,593.2 564.1,594.9 565.3,596.7 566.6,598.6 567.8,600.6 569.0,602.6 570.2,604.6 571.4,606.5 572.6,608.3 573.8,609.8 575.0,611.3 576.2,612.6 577.4,613.8 578.5,614.8 579.7,615.6 580.9,616.1 582.0,616.5 583.2,616.9 584.3,617.2 585.5,617.5 586.6,617.7 587.7,617.8 588.8,617.9 590.0,618.0 591.1,618.0 592.2,618.1 593.3,618.2 594.4,618.3 595.5,618.6 596.5,618.9 597.6,619.3 598.7,619.8 599.7,620.4 600.8,621.2 601.9,622.2 602.9,623.4 603.9,624.5 605.0,625.6 606.0,626.7 607.0,627.5 608.0,628.0 609.0,628.4 610.0,628.7 611.0,629.0 612.0,629.2 613.0,629.4 614.0,629.7 615.0,629.9 615.9,630.2 616.9,630.6 617.8,631.1 618.8,631.8 619.7,632.6 620.7,633.5 621.6,634.4 622.5,635.2 623.4,635.8 624.3,636.3 625.2,636.6 626.1,636.9 627.0,637.1 627.9,637.4 628.7,637.6 629.6,637.9 630.5,638.2 631.3,638.6 632.2,638.9 633.0,639.3 633.8,639.7 634.7,640.1 635.5,640.5 636.3,640.9 637.1,641.3 637.9,641.7 638.7,642.1 639.4,642.5 640.2,642.8 641.0,643.2 641.7,643.6 642.5,643.9 643.2,644.2 644.0,644.5 644.7,644.8 645.4,645.1 646.1,645.3 646.8,645.5 647.5,645.8 648.2,646.0 648.9,646.3 649.6,646.5 650.2,646.8 650.9,647.1 651.5,647.3 652.2,647.6 652.8,647.9 653.4,648.2 654.0,648.5 654.6,648.8 655.2,649.1 655.8,649.4 656.4,649.7 657.0,649.9 657.5,650.2 658.1,650.5 658.6,650.8 659.1,651.1 659.7,651.4 660.2,651.6 660.7,651.9 661.2,652.2 661.6,652.5 662.1,652.8 662.6,653.1 663.0,653.4 663.5,653.7 663.9,653.9 664.3,654.2 664.7,654.5 665.1,654.8 665.5,655.1 665.9,655.3 666.2,655.6 666.6,655.9 666.9,656.2 667.2,656.5 667.6,656.8 667.8,657.1 668.1,657.4 668.4,657.7 668.6,658.0 668.9,658.3 669.1,658.5 669.3,658.8 669.5,659.0 669.6,659.1 669.8,659.3 669.9,659.4 670.0,659.5 670.0,659.9" fill="none" stroke="#242424" stroke-width="1.7" stroke-linejoin="round"/>
<polyline points="412.0,388.1 413.7,388.1 415.4,388.2 417.2,388.4 418.9,388.6 420.6,388.9 422.3,389.3 424.0,389.7 425.7,390.2 427.4,390.8 429.1,391.4 430.7,392.1 432.4,392.9 434.1,393.8 435.8,394.7 437.4,395.7 439.1,396.8 440.7,398.0 442.4,399.2 444.0,400.6 445.7,402.0 447.3,403.5 448.9,405.1 450.6,406.7 452.2,408.5 453.8,410.3 455.4,412.3 457.0,414.3 458.6,416.4 460.2,418.6 461.8,420.9 463.4,423.3 465.0,425.7 466.6,428.3 468.2,430.9 469.7,433.7 471.3,436.5 472.9,439.4 474.4,442.4 476.0,445.4 477.5,448.6 479.1,451.8 480.6,455.1 482.2,458.5 483.7,462.0 485.2,465.5 486.7,469.1 488.3,472.8 489.8,476.5 491.3,480.3 492.8,484.1 494.3,488.0 495.8,492.0 497.3,495.9 498.7,500.0 500.2,504.0 501.7,508.0 503.2,512.1 504.6,516.2 506.1,520.3 507.5,524.4 509.0,528.4 510.4,532.4 511.9,536.4 513.3,540.4 514.7,544.2 516.2,548.0 517.6,551.7 519.0,555.3 520.4,558.8 521.8,562.1 523.2,565.2 524.6,568.2 526.0,571.0 527.4,573.6 528.8,576.0 530.1,578.2 531.5,580.1 532.9,581.8 534.2,583.2 535.6,584.5 536.9,585.5 538.3,586.3 539.6,587.0 541.0,587.6 542.3,588.0 543.6,588.4 544.9,588.7 546.2,588.9 547.6,589.1 548.9,589.2 550.2,589.3 551.5,589.4 552.7,589.5 554.0,589.6 555.3,589.7 556.6,589.8 557.8,589.9 559.1,590.0 560.4,590.2 561.6,590.8 562.8,591.9 564.1,593.3 565.3,594.9 566.6,596.7 567.8,598.6 569.0,600.6 570.2,602.6 571.4,604.5 572.6,606.5 573.8,608.2 575.0,609.8 576.2,611.2 577.4,612.6 578.5,613.8 579.7,614.8 580.9,615.6 582.0,616.1 583.2,616.5 584.3,616.9 585.5,617.2 586.6,617.5 587.7,617.7 588.8,617.8 590.0,617.9 591.1,618.0 592.2,618.1 593.3,618.1 594.4,618.2 595.5,618.4 596.5,618.6 597.6,618.9 598.7,619.3 599.7,619.8 600.8,620.4 601.9,621.2 602.9,622.1 603.9,623.2 605.0,624.4 606.0,625.5 607.0,626.6 608.0,627.4 609.0,628.0 610.0,628.4 611.0,628.7 612.0,629.0 613.0,629.2 614.0,629.4 615.0,629.7 615.9,629.9 616.9,630.2 617.8,630.6 618.8,631.0 619.7,631.7 620.7,632.5 621.6,633.4 622.5,634.3 623.4,635.1 624.3,635.7 625.2,636.2 626.1,636.6 627.0,636.9 627.9,637.1 628.7,637.4 629.6,637.6 630.5,637.9 631.3,638.2 632.2,638.6 633.0,638.9 633.8,639.3 634.7,639.7 635.5,640.1 636.3,640.5 637.1,640.9 637.9,641.3 638.7,641.7 639.4,642.1 640.2,642.4 641.0,642.8 641.7,643.2 642.5,643.5 643.2,643.9 644.0,644.2 644.7,644.5 645.4,644.8 646.1,645.1 646.8,645.3 647.5,645.6 648.2,645.8 648.9,646.0 649.6,646.3 650.2,646.5 650.9,646.8 651.5,647.1 652.2,647.4 652.8,647.7 653.4,648.0 654.0,648.3 654.6,648.6 655.2,648.8 655.8,649.1 656.4,649.4 657.0,649.7 657.5,650.0 658.1,650.3 658.6,650.6 659.1,650.8 659.7,651.1 660.2,651.4 660.7,651.7 661.2,652.0 661.6,652.3 662.1,652.6 662.6,652.9 663.0,653.2 663.5,653.5 663.9,653.8 664.3,654.0 664.7,654.3 665.1,654.6 665.5,654.9 665.9,655.2 666.2,655.5 666.6,655.8 666.9,656.1 667.2,656.4 667.6,656.7 667.8,657.0 668.1,657.3 668.4,657.6 668.6,657.9 668.9,658.2 669.1,658.5 669.3,658.7 669.5,658.9 669.6,659.1 669.8,659.3 669.9,659.4 670.0,659.5 670.0,659.9" fill="none" stroke="#262626" stroke-width="1.7" stroke-linejoin="round"/>
<polyline points="412.0,388.1 413.7,388.1 415.4,388.2 417.2,388.4 418.9,388.6 420.6,388.9 422.3,389.2 424.0,389.6 425.7,390.1 427.4,390.6 429.1,391.3 430.7,391.9 432.4,392.7 434.1,393.5 435.8,394.4 437.4,395.4 439.1,396.4 440.7,397.5 442.4,398.7 444.0,400.0 445.7,401.4 447.3,402.8 448.9,404.3 450.6,405.9 452.2,407.6 453.8,409.4 455.4,411.2 457.0,413.2 458.6,415.2 460.2,417.3 461.8,419.5 463.4,421.8 465.0,424.1 466.6,426.6 468.2,429.1 469.7,431.8 471.3,434.5 472.9,437.3 474.4,440.2 476.0,443.1 477.5,446.2 479.1,449.3 480.6,452.5 482.2,455.8 483.7,459.1 485.2,462.6 486.7,466.1 488.3,469.6 489.8,473.2 491.3,476.9 492.8,480.7 494.3,484.5 495.8,488.3 497.3,492.2 498.7,496.2 500.2,500.1 501.7,504.1 503.2,508.1 504.6,512.2 506.1,516.2 507.5,520.3 509.0,524.3 510.4,528.3 511.9,532.3 513.3,536.3 514.7,540.2 516.2,544.0 517.6,547.8 519.0,551.5 520.4,555.1 521.8,558.5 523.2,561.8 524.6,565.0 526.0,568.0 527.4,570.8 528.8,573.5 530.1,575.9 531.5,578.0 532.9,580.0 534.2,581.7 535.6,583.2 536.9,584.5 538.3,585.5 539.6,586.4 541.0,587.1 542.3,587.6 543.6,588.1 544.9,588.5 546.2,588.7 547.6,589.0 548.9,589.2 550.2,589.3 551.5,589.4 552.7,589.5 554.0,589.6 555.3,589.7 556.6,589.8 557.8,589.9 559.1,590.0 560.4,590.1 561.6,590.3 562.8,590.8 564.1,591.7 565.3,593.1 566.6,594.7 567.8,596.4 569.0,598.3 570.2,600.2 571.4,602.2 572.6,604.2 573.8,606.1 575.0,607.9 576.2,609.5 577.4,611.0 578.5,612.3 579.7,613.5 580.9,614.6 582.0,615.5 583.2,616.1 584.3,616.5 585.5,616.9 586.6,617.2 587.7,617.5 588.8,617.7 590.0,617.9 591.1,618.0 592.2,618.1 593.3,618.1 594.4,618.2 595.5,618.3 596.5,618.4 597.6,618.6 598.7,618.9 599.7,619.2 600.8,619.7 601.9,620.2 602.9,620.9 603.9,621.8 605.0,622.9 606.0,624.0 607.0,625.2 608.0,626.3 609.0,627.2 610.0,627.9 611.0,628.3 612.0,628.7 613.0,628.9 614.0,629.2 615.0,629.4 615.9,629.6 616.9,629.9 617.8,630.2 618.8,630.5 619.7,630.9 620.7,631.5 621.6,632.3 622.5,633.1 623.4,634.0 624.3,634.9 625.2,635.6 626.1,636.1 627.0,636.5 627.9,636.8 628.7,637.1 629.6,637.3 630.5,637.6 631.3,637.9 632.2,638.2 633.0,638.5 633.8,638.8 634.7,639.2 635.5,639.6 636.3,640.0 637.1,640.4 637.9,640.8 638.7,641.2 639.4,641.6 640.2,642.0 641.0,642.4 641.7,642.7 642.5,643.1 643.2,643.5 644.0,643.8 644.7,644.2 645.4,644.5 646.1,644.8 646.8,645.0 647.5,645.3 648.2,645.5 648.9,645.8 649.6,646.0 650.2,646.3 650.9,646.5 651.5,646.8 652.2,647.1 652.8,647.4 653.4,647.7 654.0,648.0 654.6,648.3 655.2,648.6 655.8,648.9 656.4,649.1 657.0,649.4 657.5,649.7 658.1,650.0 658.6,650.3 659.1,650.6 659.7,650.9 660.2,651.2 660.7,651.5 661.2,651.8 661.6,652.1 662.1,652.4 662.6,652.7 663.0,653.0 663.5,653.3 663.9,653.6 664.3,653.9 664.7,654.1 665.1,654.4 665.5,654.7 665.9,655.0 666.2,655.3 666.6,655.6 666.9,656.0 667.2,656.3 667.6,656.6 667.8,656.9 668.1,657.2 668.4,657.5 668.6,657.9 668.9,658.2 669.1,658.4 669.3,658.7 669.5,658.9 669.6,659.1 669.8,659.3 669.9,659.4 670.0,659.5 670.0,659.9" fill="none" stroke="#292929" stroke-width="1.7" stroke-linejoin="round"/>
<polyline points="412.0,388.1 413.7,388.1 415.4,388.2 417.2,388.4 418.9,388.6 420.6,388.8 422.3,389.2 424.0,389.6 425.7,390.0 427.4,390.5 429.1,391.1 430.7,391.8 432.4,392.5 434.1,393.3 435.8,394.1 437.4,395.0 439.1,396.0 440.7,397.1 442.4,398.2 444.0,399.4 445.7,400.7 447.3,402.1 448.9,403.6 450.6,405.1 452.2,406.7 453.8,408.4 455.4,410.2 457.0,412.0 458.6,413.9 460.2,416.0 461.8,418.1 463.4,420.3 465.0,422.5 466.6,424.9 468.2,427.3 469.7,429.8 471.3,432.4 472.9,435.1 474.4,437.9 476.0,440.8 477.5,443.7 479.1,446.7 480.6,449.8 482.2,453.0 483.7,456.2 485.2,459.5 486.7,462.9 488.3,466.4 489.8,469.9 491.3,473.5 492.8,477.1 494.3,480.8 495.8,484.6 497.3,488.4 498.7,492.2 500.2,496.1 501.7,500.0 503.2,504.0 504.6,508.0 506.1,511.9 507.5,515.9 509.0,520.0 510.4,524.0 511.9,527.9 513.3,531.9 514.7,535.8 516.2,539.7 517.6,543.5 519.0,547.3 520.4,551.0 521.8,554.5 523.2,558.0 524.6,561.3 526.0,564.5 527.4,567.6 528.8,570.4 530.1,573.1 531.5,575.5 532.9,577.8 534.2,579.7 535.6,581.5 536.9,583.0 538.3,584.4 539.6,585.4 541.0,586.3 542.3,587.1 543.6,587.7 544.9,588.1 546.2,588.5 547.6,588.8 548.9,589.0 550.2,589.2 551.5,589.4 552.7,589.5 554.0,589.6 555.3,589.7 556.6,589.8 557.8,589.9 559.1,590.0 560.4,590.0 561.6,590.1 562.8,590.3 564.1,590.7 565.3,591.5 566.6,592.7 567.8,594.2 569.0,595.9 570.2,597.7 571.4,599.6 572.6,601.6 573.8,603.5 575.0,605.4 576.2,607.3 577.4,609.0 578.5,610.5 579.7,611.8 580.9,613.1 582.0,614.3 583.2,615.2 584.3,615.9 585.5,616.4 586.6,616.8 587.7,617.1 588.8,617.4 590.0,617.7 591.1,617.9 592.2,618.0 593.3,618.1 594.4,618.2 595.5,618.2 596.5,618.3 597.6,618.4 598.7,618.5 599.7,618.8 600.8,619.1 601.9,619.5 602.9,620.0 603.9,620.6 605.0,621.4 606.0,622.4 607.0,623.5 608.0,624.6 609.0,625.8 610.0,626.8 611.0,627.6 612.0,628.2 613.0,628.5 614.0,628.8 615.0,629.1 615.9,629.3 616.9,629.6 617.8,629.8 618.8,630.1 619.7,630.3 620.7,630.7 621.6,631.2 622.5,631.9 623.4,632.7 624.3,633.6 625.2,634.5 626.1,635.3 627.0,635.9 627.9,636.4 628.7,636.7 629.6,637.0 630.5,637.2 631.3,637.5 632.2,637.8 633.0,638.0 633.8,638.3 634.7,638.7 635.5,639.1 636.3,639.5 637.1,639.9 637.9,640.3 638.7,640.7 639.4,641.1 640.2,641.5 641.0,641.8 641.7,642.2 642.5,642.6 643.2,643.0 644.0,643.4 644.7,643.7 645.4,644.1 646.1,644.4 646.8,644.7 647.5,645.0 648.2,645.2 648.9,645.5 649.6,645.7 650.2,646.0 650.9,646.2 651.5,646.5 652.2,646.7 652.8,647.0 653.4,647.3 654.0,647.6 654.6,647.9 655.2,648.2 655.8,648.5 656.4,648.8 657.0,649.1 657.5,649.4 658.1,649.7 658.6,650.0 659.1,650.3 659.7,650.6 660.2,650.9 660.7,651.2 661.2,651.5 661.6,651.8 662.1,652.1 662.6,652.4 663.0,652.7 663.5,653.0 663.9,653.3 664.3,653.6 664.7,653.9 665.1,654.2 665.5,654.5 665.9,654.8 666.2,655.1 666.6,655.5 666.9,655.8 667.2,656.1 667.6,656.4 667.8,656.8 668.1,657.1 668.4,657.4 668.6,657.7 668.9,658.1 669.1,658.4 669.3,658.6 669.5,658.9 669.6,659.1 669.8,659.3 669.9,659.4 670.0,659.5 670.0,659.9" fill="none" stroke="#2b2b2b" stroke-width="1.7" stroke-linejoin="round"/>
<polyline points="412.0,388.1 413.7,388.1 415.4,388.2 417.2,388.4 418.9,388.5 420.6,388.8 422.3,389.1 424.0,389.5 425.7,389.9 427.4,390.4 429.1,391.0 430.7,391.6 432.4,392.2 434.1,393.0 435.8,393.8 437.4,394.7 439.1,395.6 440.7,396.6 442.4,397.7 444.0,398.9 445.7,400.1 447.3,401.4 448.9,402.8 450.6,404.3 452.2,405.8 453.8,407.4 455.4,409.1 457.0,410.9 458.6,412.7 460.2,414.6 461.8,416.6 463.4,418.7 465.0,420.9 466.6,423.1 468.2,425.5 469.7,427.9 471.3,430.4 472.9,433.0 474.4,435.6 476.0,438.4 477.5,441.2 479.1,444.1 480.6,447.0 482.2,450.1 483.7,453.2 485.2,456.4 486.7,459.7 488.3,463.0 489.8,466.4 491.3,469.9 492.8,473.4 494.3,477.0 495.8,480.7 497.3,484.4 498.7,488.1 500.2,491.9 501.7,495.8 503.2,499.6 504.6,503.5 506.1,507.5 507.5,511.4 509.0,515.4 510.4,519.3 511.9,523.3 513.3,527.2 514.7,531.2 516.2,535.1 517.6,538.9 519.0,542.8 520.4,546.5 521.8,550.2 523.2,553.7 524.6,557.2 526.0,560.6 527.4,563.8 528.8,566.9 530.1,569.8 531.5,572.5 532.9,575.0 534.2,577.3 535.6,579.3 536.9,581.2 538.3,582.7 539.6,584.1 541.0,585.3 542.3,586.2 543.6,587.0 544.9,587.6 546.2,588.1 547.6,588.5 548.9,588.9 550.2,589.1 551.5,589.3 552.7,589.5 554.0,589.6 555.3,589.7 556.6,589.8 557.8,589.9 559.1,590.0 560.4,590.1 561.6,590.1 562.8,590.2 564.1,590.3 565.3,590.6 566.6,591.2 567.8,592.2 569.0,593.5 570.2,595.1 571.4,596.8 572.6,598.7 573.8,600.6 575.0,602.5 576.2,604.5 577.4,606.4 578.5,608.1 579.7,609.7 580.9,611.1 582.0,612.4 583.2,613.7 584.3,614.7 585.5,615.6 586.6,616.2 587.7,616.6 588.8,617.0 590.0,617.3 591.1,617.6 592.2,617.9 593.3,618.0 594.4,618.1 595.5,618.2 596.5,618.3 597.6,618.3 598.7,618.4 599.7,618.5 600.8,618.7 601.9,618.9 602.9,619.3 603.9,619.7 605.0,620.2 606.0,620.9 607.0,621.8 608.0,622.8 609.0,623.9 610.0,625.0 611.0,626.1 612.0,627.1 613.0,627.8 614.0,628.3 615.0,628.7 615.9,629.0 616.9,629.2 617.8,629.5 618.8,629.7 619.7,629.9 620.7,630.2 621.6,630.5 622.5,630.9 623.4,631.4 624.3,632.1 625.2,633.0 626.1,633.9 627.0,634.8 627.9,635.5 628.7,636.1 629.6,636.5 630.5,636.8 631.3,637.1 632.2,637.4 633.0,637.6 633.8,637.9 634.7,638.2 635.5,638.5 636.3,638.8 637.1,639.2 637.9,639.6 638.7,640.0 639.4,640.4 640.2,640.8 641.0,641.2 641.7,641.6 642.5,642.0 643.2,642.4 644.0,642.8 644.7,643.2 645.4,643.5 646.1,643.9 646.8,644.2 647.5,644.6 648.2,644.8 648.9,645.1 649.6,645.4 650.2,645.6 650.9,645.9 651.5,646.1 652.2,646.4 652.8,646.7 653.4,646.9 654.0,647.2 654.6,647.5 655.2,647.8 655.8,648.1 656.4,648.4 657.0,648.7 657.5,649.1 658.1,649.4 658.6,649.7 659.1,650.0 659.7,650.3 660.2,650.6 660.7,650.9 661.2,651.2 661.6,651.5 662.1,651.8 662.6,652.1 663.0,652.4 663.5,652.7 663.9,653.1 664.3,653.4 664.7,653.7 665.1,654.0 665.5,654.3 665.9,654.6 666.2,654.9 666.6,655.2 666.9,655.6 667.2,655.9 667.6,656.2 667.8,656.6 668.1,656.9 668.4,657.3 668.6,657.6 668.9,657.9 669.1,658.3 669.3,658.6 669.5,658.8 669.6,659.1 669.8,659.3 669.9,659.4 670.0,659.6 670.0,659.9" fill="none" stroke="#2e2e2e" stroke-width="1.7" stroke-linejoin="round"/>
<polyline points="412.0,388.1 413.7,388.1 415.4,388.2 417.2,388.3 418.9,388.5 420.6,388.8 422.3,389.1 424.0,389.4 425.7,389.8 427.4,390.3 429.1,390.8 430.7,391.4 432.4,392.0 434.1,392.7 435.8,393.5 437.4,394.3 439.1,395.2 440.7,396.2 442.4,397.2 444.0,398.3 445.7,399.5 447.3,400.7 448.9,402.0 450.6,403.4 452.2,404.9 453.8,406.4 455.4,408.0 457.0,409.7 458.6,411.4 460.2,413.3 461.8,415.2 463.4,417.2 465.0,419.2 466.6,421.4 468.2,423.6 469.7,425.9 471.3,428.3 472.9,430.8 474.4,433.3 476.0,435.9 477.5,438.6 479.1,441.4 480.6,444.2 482.2,447.2 483.7,450.2 485.2,453.2 486.7,456.4 488.3,459.6 489.8,462.9 491.3,466.2 492.8,469.7 494.3,473.1 495.8,476.7 497.3,480.3 498.7,483.9 500.2,487.6 501.7,491.3 503.2,495.1 504.6,498.9 506.1,502.8 507.5,506.7 509.0,510.6 510.4,514.5 511.9,518.4 513.3,522.3 514.7,526.2 516.2,530.1 517.6,534.0 519.0,537.8 520.4,541.6 521.8,545.4 523.2,549.0 524.6,552.6 526.0,556.2 527.4,559.5 528.8,562.8 530.1,565.9 531.5,568.9 532.9,571.7 534.2,574.2 535.6,576.6 536.9,578.7 538.3,580.6 539.6,582.3 541.0,583.8 542.3,585.0 543.6,586.0 544.9,586.9 546.2,587.5 547.6,588.1 548.9,588.5 550.2,588.9 551.5,589.2 552.7,589.4 554.0,589.5 555.3,589.7 556.6,589.8 557.8,589.9 559.1,590.0 560.4,590.1 561.6,590.2 562.8,590.2 564.1,590.3 565.3,590.4 566.6,590.6 567.8,590.9 569.0,591.6 570.2,592.7 571.4,594.2 572.6,595.8 573.8,597.5 575.0,599.4 576.2,601.3 577.4,603.2 578.5,605.1 579.7,607.0 580.9,608.7 582.0,610.2 583.2,611.6 584.3,612.8 585.5,614.0 586.6,615.0 587.7,615.8 588.8,616.4 590.0,616.8 591.1,617.2 592.2,617.5 593.3,617.8 594.4,618.0 595.5,618.1 596.5,618.2 597.6,618.3 598.7,618.4 599.7,618.4 600.8,618.5 601.9,618.6 602.9,618.8 603.9,619.1 605.0,619.4 606.0,619.9 607.0,620.4 608.0,621.1 609.0,621.9 610.0,623.0 611.0,624.1 612.0,625.2 613.0,626.3 614.0,627.2 615.0,628.0 615.9,628.4 616.9,628.8 617.8,629.1 618.8,629.3 619.7,629.5 620.7,629.8 621.6,630.0 622.5,630.3 623.4,630.6 624.3,631.0 625.2,631.6 626.1,632.3 627.0,633.1 627.9,634.0 628.7,634.9 629.6,635.6 630.5,636.2 631.3,636.6 632.2,636.9 633.0,637.2 633.8,637.5 634.7,637.7 635.5,638.0 636.3,638.3 637.1,638.6 637.9,639.0 638.7,639.3 639.4,639.7 640.2,640.2 641.0,640.6 641.7,641.0 642.5,641.4 643.2,641.8 644.0,642.1 644.7,642.5 645.4,642.9 646.1,643.3 646.8,643.7 647.5,644.0 648.2,644.4 648.9,644.7 649.6,645.0 650.2,645.2 650.9,645.5 651.5,645.8 652.2,646.0 652.8,646.3 653.4,646.5 654.0,646.8 654.6,647.1 655.2,647.4 655.8,647.7 656.4,648.0 657.0,648.3 657.5,648.6 658.1,649.0 658.6,649.3 659.1,649.6 659.7,649.9 660.2,650.2 660.7,650.5 661.2,650.8 661.6,651.1 662.1,651.4 662.6,651.8 663.0,652.1 663.5,652.4 663.9,652.7 664.3,653.1 664.7,653.4 665.1,653.7 665.5,654.0 665.9,654.4 666.2,654.7 666.6,655.0 666.9,655.3 667.2,655.7 667.6,656.0 667.8,656.4 668.1,656.7 668.4,657.1 668.6,657.5 668.9,657.8 669.1,658.2 669.3,658.5 669.5,658.8 669.6,659.0 669.8,659.3 669.9,659.4 670.0,659.6 670.0,659.9" fill="none" stroke="#313131" stroke-width="1.7" stroke-linejoin="round"/>
<polyline points="412.0,388.1 413.7,388.1 415.4,388.2 417.2,388.3 418.9,388.5 420.6,388.7 422.3,389.0 424.0,389.3 425.7,389.7 427.4,390.2 429.1,390.7 430.7,391.2 432.4,391.8 434.1,392.5 435.8,393.2 437.4,394.0 439.1,394.8 440.7,395.7 442.4,396.7 444.0,397.7 445.7,398.8 447.3,400.0 448.9,401.3 450.6,402.6 452.2,403.9 453.8,405.4 455.4,406.9 457.0,408.5 458.6,410.2 460.2,411.9 461.8,413.7 463.4,415.6 465.0,417.6 466.6,419.6 468.2,421.7 469.7,423.9 471.3,426.2 472.9,428.5 474.4,430.9 476.0,433.4 477.5,436.0 479.1,438.7 480.6,441.4 482.2,444.2 483.7,447.1 485.2,450.0 486.7,453.0 488.3,456.1 489.8,459.3 491.3,462.5 492.8,465.8 494.3,469.1 495.8,472.5 497.3,476.0 498.7,479.5 500.2,483.1 501.7,486.8 503.2,490.4 504.6,494.2 506.1,497.9 507.5,501.7 509.0,505.5 510.4,509.4 511.9,513.2 513.3,517.1 514.7,521.0 516.2,524.8 517.6,528.7 519.0,532.6 520.4,536.4 521.8,540.2 523.2,543.9 524.6,547.6 526.0,551.2 527.4,554.7 528.8,558.2 530.1,561.5 531.5,564.6 532.9,567.7 534.2,570.5 535.6,573.2 536.9,575.6 538.3,577.9 539.6,579.9 541.0,581.7 542.3,583.2 543.6,584.6 544.9,585.7 546.2,586.6 547.6,587.4 548.9,588.0 550.2,588.5 551.5,588.9 552.7,589.2 554.0,589.4 555.3,589.6 556.6,589.8 557.8,589.9 559.1,590.0 560.4,590.1 561.6,590.2 562.8,590.2 564.1,590.3 565.3,590.4 566.6,590.5 567.8,590.6 569.0,590.8 570.2,591.2 571.4,592.0 572.6,593.2 573.8,594.7 575.0,596.3 576.2,598.0 577.4,599.9 578.5,601.8 579.7,603.7 580.9,605.5 582.0,607.3 583.2,609.0 584.3,610.5 585.5,611.8 586.6,613.1 587.7,614.2 588.8,615.2 590.0,616.0 591.1,616.5 592.2,616.9 593.3,617.3 594.4,617.6 595.5,617.9 596.5,618.1 597.6,618.2 598.7,618.3 599.7,618.4 600.8,618.5 601.9,618.5 602.9,618.6 603.9,618.7 605.0,618.9 606.0,619.2 607.0,619.5 608.0,620.0 609.0,620.5 610.0,621.2 611.0,622.0 612.0,623.0 613.0,624.1 614.0,625.3 615.0,626.3 615.9,627.3 616.9,628.0 617.8,628.5 618.8,628.9 619.7,629.1 620.7,629.4 621.6,629.6 622.5,629.9 623.4,630.1 624.3,630.3 625.2,630.6 626.1,631.0 627.0,631.6 627.9,632.3 628.7,633.2 629.6,634.1 630.5,634.9 631.3,635.7 632.2,636.2 633.0,636.7 633.8,637.0 634.7,637.2 635.5,637.5 636.3,637.8 637.1,638.0 637.9,638.3 638.7,638.7 639.4,639.0 640.2,639.4 641.0,639.8 641.7,640.2 642.5,640.6 643.2,641.0 644.0,641.4 644.7,641.8 645.4,642.2 646.1,642.6 646.8,643.0 647.5,643.4 648.2,643.8 648.9,644.1 649.6,644.5 650.2,644.8 650.9,645.1 651.5,645.3 652.2,645.6 652.8,645.9 653.4,646.1 654.0,646.4 654.6,646.7 655.2,646.9 655.8,647.2 656.4,647.5 657.0,647.9 657.5,648.2 658.1,648.5 658.6,648.8 659.1,649.1 659.7,649.5 660.2,649.8 660.7,650.1 661.2,650.4 661.6,650.7 662.1,651.1 662.6,651.4 663.0,651.7 663.5,652.0 663.9,652.4 664.3,652.7 664.7,653.1 665.1,653.4 665.5,653.7 665.9,654.1 666.2,654.4 666.6,654.7 666.9,655.1 667.2,655.4 667.6,655.8 667.8,656.2 668.1,656.5 668.4,656.9 668.6,657.3 668.9,657.7 669.1,658.0 669.3,658.4 669.5,658.7 669.6,659.0 669.8,659.2 669.9,659.4 670.0,659.6 670.0,659.9" fill="none" stroke="#333333" stroke-width="1.7" stroke-linejoin="round"/>
<polyline points="412.0,388.1 413.7,388.1 415.4,388.2 417.2,388.3 418.9,388.5 420.6,388.7 422.3,389.0 424.0,389.3 425.7,389.6 427.4,390.0 429.1,390.5 430.7,391.0 432.4,391.6 434.1,392.2 435.8,392.9 437.4,393.6 439.1,394.4 440.7,395.3 442.4,396.2 444.0,397.2 445.7,398.2 447.3,399.3 448.9,400.5 450.6,401.7 452.2,403.0 453.8,404.4 455.4,405.8 457.0,407.3 458.6,408.9 460.2,410.5 461.8,412.2 463.4,414.0 465.0,415.9 466.6,417.8 468.2,419.8 469.7,421.9 471.3,424.0 472.9,426.3 474.4,428.6 476.0,430.9 477.5,433.4 479.1,435.9 480.6,438.5 482.2,441.2 483.7,443.9 485.2,446.7 486.7,449.6 488.3,452.5 489.8,455.6 491.3,458.7 492.8,461.8 494.3,465.0 495.8,468.3 497.3,471.7 498.7,475.1 500.2,478.5 501.7,482.0 503.2,485.6 504.6,489.2 506.1,492.8 507.5,496.5 509.0,500.3 510.4,504.0 511.9,507.8 513.3,511.6 514.7,515.4 516.2,519.3 517.6,523.1 519.0,526.9 520.4,530.7 521.8,534.5 523.2,538.3 524.6,542.0 526.0,545.7 527.4,549.4 528.8,552.9 530.1,556.4 531.5,559.7 532.9,563.0 534.2,566.1 535.6,569.0 536.9,571.8 538.3,574.3 539.6,576.7 541.0,578.9 542.3,580.8 543.6,582.5 544.9,584.0 546.2,585.2 547.6,586.2 548.9,587.1 550.2,587.8 551.5,588.4 552.7,588.8 554.0,589.1 555.3,589.4 556.6,589.6 557.8,589.8 559.1,590.0 560.4,590.1 561.6,590.2 562.8,590.3 564.1,590.3 565.3,590.4 566.6,590.5 567.8,590.6 569.0,590.7 570.2,590.8 571.4,591.0 572.6,591.5 573.8,592.3 575.0,593.6 576.2,595.0 577.4,596.7 578.5,598.4 579.7,600.2 580.9,602.1 582.0,604.0 583.2,605.8 584.3,607.6 585.5,609.2 586.6,610.7 587.7,612.0 588.8,613.2 590.0,614.4 591.1,615.4 592.2,616.1 593.3,616.6 594.4,617.0 595.5,617.4 596.5,617.7 597.6,618.0 598.7,618.2 599.7,618.3 600.8,618.4 601.9,618.5 602.9,618.6 603.9,618.6 605.0,618.7 606.0,618.8 607.0,619.0 608.0,619.2 609.0,619.6 610.0,620.0 611.0,620.5 612.0,621.2 613.0,622.0 614.0,623.0 615.0,624.1 615.9,625.2 616.9,626.3 617.8,627.3 618.8,628.0 619.7,628.5 620.7,628.9 621.6,629.2 622.5,629.4 623.4,629.7 624.3,629.9 625.2,630.1 626.1,630.4 627.0,630.7 627.9,631.1 628.7,631.6 629.6,632.3 630.5,633.1 631.3,634.0 632.2,634.9 633.0,635.7 633.8,636.2 634.7,636.7 635.5,637.0 636.3,637.3 637.1,637.5 637.9,637.8 638.7,638.1 639.4,638.4 640.2,638.7 641.0,639.1 641.7,639.5 642.5,639.9 643.2,640.3 644.0,640.7 644.7,641.1 645.4,641.5 646.1,641.9 646.8,642.3 647.5,642.7 648.2,643.1 648.9,643.5 649.6,643.9 650.2,644.2 650.9,644.6 651.5,644.9 652.2,645.2 652.8,645.4 653.4,645.7 654.0,646.0 654.6,646.2 655.2,646.5 655.8,646.8 656.4,647.1 657.0,647.4 657.5,647.7 658.1,648.0 658.6,648.3 659.1,648.7 659.7,649.0 660.2,649.3 660.7,649.7 661.2,650.0 661.6,650.3 662.1,650.6 662.6,651.0 663.0,651.3 663.5,651.7 663.9,652.0 664.3,652.3 664.7,652.7 665.1,653.1 665.5,653.4 665.9,653.8 666.2,654.1 666.6,654.5 666.9,654.8 667.2,655.2 667.6,655.5 667.8,655.9 668.1,656.3 668.4,656.7 668.6,657.1 668.9,657.5 669.1,657.9 669.3,658.3 669.5,658.6 669.6,658.9 669.8,659.2 669.9,659.4 670.0,659.6 670.0,659.9" fill="none" stroke="#363636" stroke-width="1.7" stroke-linejoin="round"/>
<polyline points="412.0,388.1 413.7,388.1 415.4,388.2 417.2,388.3 418.9,388.5 420.6,388.7 422.3,388.9 424.0,389.2 425.7,389.5 427.4,389.9 429.1,390.3 430.7,390.8 432.4,391.4 434.1,391.9 435.8,392.6 437.4,393.3 439.1,394.0 440.7,394.8 442.4,395.7 444.0,396.6 445.7,397.6 447.3,398.6 448.9,399.7 450.6,400.9 452.2,402.1 453.8,403.4 455.4,404.7 457.0,406.1 458.6,407.6 460.2,409.1 461.8,410.7 463.4,412.4 465.0,414.2 466.6,416.0 468.2,417.9 469.7,419.8 471.3,421.9 472.9,424.0 474.4,426.1 476.0,428.4 477.5,430.7 479.1,433.1 480.6,435.6 482.2,438.1 483.7,440.7 485.2,443.4 486.7,446.1 488.3,448.9 489.8,451.8 491.3,454.7 492.8,457.8 494.3,460.8 495.8,464.0 497.3,467.2 498.7,470.5 500.2,473.8 501.7,477.2 503.2,480.6 504.6,484.1 506.1,487.6 507.5,491.2 509.0,494.8 510.4,498.5 511.9,502.2 513.3,505.9 514.7,509.6 516.2,513.4 517.6,517.2 519.0,521.0 520.4,524.7 521.8,528.5 523.2,532.3 524.6,536.1 526.0,539.8 527.4,543.5 528.8,547.1 530.1,550.7 531.5,554.2 532.9,557.6 534.2,560.9 535.6,564.1 536.9,567.1 538.3,570.0 539.6,572.7 541.0,575.2 542.3,577.5 543.6,579.6 544.9,581.4 546.2,583.1 547.6,584.5 548.9,585.7 550.2,586.7 551.5,587.5 552.7,588.1 554.0,588.6 555.3,589.1 556.6,589.4 557.8,589.6 559.1,589.8 560.4,590.0 561.6,590.1 562.8,590.2 564.1,590.3 565.3,590.4 566.6,590.5 567.8,590.6 569.0,590.7 570.2,590.7 571.4,590.8 572.6,591.0 573.8,591.2 575.0,591.8 576.2,592.7 577.4,593.9 578.5,595.4 579.7,597.0 580.9,598.8 582.0,600.6 583.2,602.4 584.3,604.3 585.5,606.1 586.6,607.8 587.7,609.4 588.8,610.9 590.0,612.2 591.1,613.4 592.2,614.5 593.3,615.5 594.4,616.2 595.5,616.7 596.5,617.1 597.6,617.5 598.7,617.8 599.7,618.1 600.8,618.3 601.9,618.4 602.9,618.5 603.9,618.6 605.0,618.7 606.0,618.7 607.0,618.8 608.0,618.9 609.0,619.1 610.0,619.3 611.0,619.7 612.0,620.1 613.0,620.6 614.0,621.2 615.0,622.0 615.9,623.0 616.9,624.1 617.8,625.2 618.8,626.3 619.7,627.2 620.7,628.0 621.6,628.6 622.5,628.9 623.4,629.2 624.3,629.5 625.2,629.7 626.1,630.0 627.0,630.2 627.9,630.4 628.7,630.7 629.6,631.1 630.5,631.6 631.3,632.3 632.2,633.1 633.0,634.0 633.8,634.9 634.7,635.7 635.5,636.3 636.3,636.7 637.1,637.0 637.9,637.3 638.7,637.6 639.4,637.9 640.2,638.1 641.0,638.4 641.7,638.7 642.5,639.1 643.2,639.5 644.0,639.9 644.7,640.3 645.4,640.7 646.1,641.2 646.8,641.6 647.5,642.0 648.2,642.4 648.9,642.8 649.6,643.2 650.2,643.6 650.9,643.9 651.5,644.3 652.2,644.7 652.8,645.0 653.4,645.3 654.0,645.5 654.6,645.8 655.2,646.1 655.8,646.4 656.4,646.6 657.0,646.9 657.5,647.2 658.1,647.5 658.6,647.9 659.1,648.2 659.7,648.5 660.2,648.9 660.7,649.2 661.2,649.6 661.6,649.9 662.1,650.2 662.6,650.6 663.0,650.9 663.5,651.3 663.9,651.6 664.3,652.0 664.7,652.3 665.1,652.7 665.5,653.1 665.9,653.4 666.2,653.8 666.6,654.2 666.9,654.5 667.2,654.9 667.6,655.3 667.8,655.7 668.1,656.1 668.4,656.5 668.6,656.9 668.9,657.3 669.1,657.7 669.3,658.1 669.5,658.5 669.6,658.9 669.8,659.2 669.9,659.4 670.0,659.6 670.0,659.9" fill="none" stroke="#393939" stroke-width="1.7" stroke-linejoin="round"/>
<polyline points="412.0,388.1 413.7,388.1 415.4,388.2 417.2,388.3 418.9,388.4 420.6,388.6 422.3,388.8 424.0,389.1 425.7,389.4 427.4,389.8 429.1,390.2 430.7,390.6 432.4,391.1 434.1,391.7 435.8,392.3 437.4,392.9 439.1,393.6 440.7,394.4 442.4,395.2 444.0,396.0 445.7,396.9 447.3,397.9 448.9,398.9 450.6,400.0 452.2,401.1 453.8,402.3 455.4,403.6 457.0,404.9 458.6,406.3 460.2,407.8 461.8,409.3 463.4,410.8 465.0,412.5 466.6,414.2 468.2,416.0 469.7,417.8 471.3,419.7 472.9,421.7 474.4,423.7 476.0,425.8 477.5,428.0 479.1,430.3 480.6,432.6 482.2,435.0 483.7,437.4 485.2,440.0 486.7,442.6 488.3,445.2 489.8,448.0 491.3,450.8 492.8,453.6 494.3,456.6 495.8,459.6 497.3,462.6 498.7,465.7 500.2,468.9 501.7,472.2 503.2,475.5 504.6,478.8 506.1,482.2 507.5,485.7 509.0,489.2 510.4,492.7 511.9,496.3 513.3,499.9 514.7,503.5 516.2,507.2 517.6,510.9 519.0,514.6 520.4,518.4 521.8,522.1 523.2,525.9 524.6,529.6 526.0,533.3 527.4,537.1 528.8,540.7 530.1,544.4 531.5,548.0 532.9,551.5 534.2,555.0 535.6,558.3 536.9,561.6 538.3,564.7 539.6,567.7 541.0,570.6 542.3,573.2 543.6,575.7 544.9,578.0 546.2,580.0 547.6,581.9 548.9,583.5 550.2,584.9 551.5,586.0 552.7,586.9 554.0,587.7 555.3,588.4 556.6,588.9 557.8,589.3 559.1,589.6 560.4,589.8 561.6,590.0 562.8,590.2 564.1,590.3 565.3,590.4 566.6,590.5 567.8,590.6 569.0,590.7 570.2,590.8 571.4,590.8 572.6,590.9 573.8,591.0 575.0,591.1 576.2,591.5 577.4,592.1 578.5,593.1 579.7,594.4 580.9,595.9 582.0,597.5 583.2,599.2 584.3,601.0 585.5,602.8 586.6,604.7 587.7,606.5 588.8,608.2 590.0,609.7 591.1,611.1 592.2,612.4 593.3,613.6 594.4,614.7 595.5,615.6 596.5,616.4 597.6,616.9 598.7,617.2 599.7,617.6 600.8,617.9 601.9,618.2 602.9,618.4 603.9,618.5 605.0,618.6 606.0,618.7 607.0,618.8 608.0,618.8 609.0,618.9 610.0,619.0 611.0,619.2 612.0,619.4 613.0,619.7 614.0,620.2 615.0,620.6 615.9,621.3 616.9,622.0 617.8,623.0 618.8,624.1 619.7,625.2 620.7,626.3 621.6,627.3 622.5,628.1 623.4,628.6 624.3,629.0 625.2,629.3 626.1,629.5 627.0,629.8 627.9,630.0 628.7,630.3 629.6,630.5 630.5,630.8 631.3,631.1 632.2,631.6 633.0,632.3 633.8,633.1 634.7,634.0 635.5,634.9 636.3,635.7 637.1,636.3 637.9,636.8 638.7,637.1 639.4,637.4 640.2,637.7 641.0,637.9 641.7,638.2 642.5,638.5 643.2,638.8 644.0,639.2 644.7,639.6 645.4,640.0 646.1,640.4 646.8,640.8 647.5,641.2 648.2,641.7 648.9,642.1 649.6,642.5 650.2,642.9 650.9,643.3 651.5,643.7 652.2,644.1 652.8,644.4 653.4,644.8 654.0,645.1 654.6,645.4 655.2,645.7 655.8,646.0 656.4,646.2 657.0,646.5 657.5,646.8 658.1,647.1 658.6,647.4 659.1,647.7 659.7,648.1 660.2,648.4 660.7,648.8 661.2,649.1 661.6,649.5 662.1,649.8 662.6,650.2 663.0,650.5 663.5,650.9 663.9,651.2 664.3,651.6 664.7,652.0 665.1,652.3 665.5,652.7 665.9,653.1 666.2,653.5 666.6,653.9 666.9,654.3 667.2,654.6 667.6,655.0 667.8,655.4 668.1,655.8 668.4,656.3 668.6,656.7 668.9,657.1 669.1,657.6 669.3,658.0 669.5,658.4 669.6,658.8 669.8,659.1 669.9,659.4 670.0,659.6 670.0,659.9" fill="none" stroke="#3c3c3c" stroke-width="1.7" stroke-linejoin="round"/>
<polyline points="412.0,388.1 413.7,388.1 415.4,388.2 417.2,388.3 418.9,388.4 420.6,388.6 422.3,388.8 424.0,389.0 425.7,389.3 427.4,389.7 429.1,390.0 430.7,390.5 432.4,390.9 434.1,391.4 435.8,392.0 437.4,392.6 439.1,393.2 440.7,393.9 442.4,394.7 444.0,395.5 445.7,396.3 447.3,397.2 448.9,398.2 450.6,399.2 452.2,400.2 453.8,401.3 455.4,402.5 457.0,403.7 458.6,405.0 460.2,406.4 461.8,407.8 463.4,409.2 465.0,410.8 466.6,412.4 468.2,414.0 469.7,415.7 471.3,417.5 472.9,419.4 474.4,421.3 476.0,423.3 477.5,425.3 479.1,427.4 480.6,429.6 482.2,431.9 483.7,434.2 485.2,436.6 486.7,439.0 488.3,441.5 489.8,444.1 491.3,446.7 492.8,449.5 494.3,452.2 495.8,455.1 497.3,458.0 498.7,461.0 500.2,464.0 501.7,467.1 503.2,470.2 504.6,473.4 506.1,476.7 507.5,480.0 509.0,483.3 510.4,486.7 511.9,490.2 513.3,493.7 514.7,497.2 516.2,500.8 517.6,504.4 519.0,508.0 520.4,511.7 521.8,515.4 523.2,519.0 524.6,522.7 526.0,526.4 527.4,530.1 528.8,533.8 530.1,537.5 531.5,541.1 532.9,544.8 534.2,548.3 535.6,551.8 536.9,555.2 538.3,558.6 539.6,561.8 541.0,564.9 542.3,567.9 543.6,570.8 544.9,573.4 546.2,575.9 547.6,578.1 548.9,580.2 550.2,582.0 551.5,583.6 552.7,585.0 554.0,586.1 555.3,587.1 556.6,587.9 557.8,588.5 559.1,589.0 560.4,589.4 561.6,589.7 562.8,590.0 564.1,590.2 565.3,590.4 566.6,590.5 567.8,590.6 569.0,590.7 570.2,590.8 571.4,590.9 572.6,590.9 573.8,591.0 575.0,591.1 576.2,591.2 577.4,591.3 578.5,591.7 579.7,592.4 580.9,593.4 582.0,594.8 583.2,596.2 584.3,597.9 585.5,599.6 586.6,601.4 587.7,603.2 588.8,605.0 590.0,606.7 591.1,608.4 592.2,609.9 593.3,611.3 594.4,612.6 595.5,613.8 596.5,614.8 597.6,615.8 598.7,616.5 599.7,617.0 600.8,617.3 601.9,617.7 602.9,618.0 603.9,618.3 605.0,618.5 606.0,618.6 607.0,618.7 608.0,618.8 609.0,618.9 610.0,618.9 611.0,619.0 612.0,619.1 613.0,619.2 614.0,619.5 615.0,619.8 615.9,620.2 616.9,620.7 617.8,621.3 618.8,622.0 619.7,623.0 620.7,624.0 621.6,625.2 622.5,626.2 623.4,627.2 624.3,628.0 625.2,628.6 626.1,629.0 627.0,629.3 627.9,629.6 628.7,629.8 629.6,630.1 630.5,630.3 631.3,630.5 632.2,630.8 633.0,631.2 633.8,631.6 634.7,632.3 635.5,633.1 636.3,634.0 637.1,634.9 637.9,635.7 638.7,636.3 639.4,636.8 640.2,637.1 641.0,637.4 641.7,637.7 642.5,638.0 643.2,638.2 644.0,638.5 644.7,638.9 645.4,639.2 646.1,639.6 646.8,640.0 647.5,640.5 648.2,640.9 648.9,641.3 649.6,641.7 650.2,642.1 650.9,642.6 651.5,643.0 652.2,643.4 652.8,643.8 653.4,644.2 654.0,644.5 654.6,644.9 655.2,645.2 655.8,645.5 656.4,645.8 657.0,646.1 657.5,646.4 658.1,646.7 658.6,646.9 659.1,647.3 659.7,647.6 660.2,647.9 660.7,648.3 661.2,648.6 661.6,649.0 662.1,649.4 662.6,649.7 663.0,650.1 663.5,650.5 663.9,650.8 664.3,651.2 664.7,651.6 665.1,651.9 665.5,652.3 665.9,652.7 666.2,653.1 666.6,653.5 666.9,653.9 667.2,654.4 667.6,654.8 667.8,655.2 668.1,655.6 668.4,656.0 668.6,656.5 668.9,656.9 669.1,657.4 669.3,657.9 669.5,658.3 669.6,658.7 669.8,659.1 669.9,659.4 670.0,659.6 670.0,659.9" fill="none" stroke="#404040" stroke-width="1.7" stroke-linejoin="round"/>
<polyline points="412.0,388.1 413.7,388.1 415.4,388.2 417.2,388.3 418.9,388.4 420.6,388.5 422.3,388.7 424.0,389.0 425.7,389.2 427.4,389.5 429.1,389.9 430.7,390.3 432.4,390.7 434.1,391.2 435.8,391.7 437.4,392.2 439.1,392.8 440.7,393.5 442.4,394.2 444.0,394.9 445.7,395.7 447.3,396.5 448.9,397.4 450.6,398.3 452.2,399.3 453.8,400.3 455.4,401.4 457.0,402.6 458.6,403.7 460.2,405.0 461.8,406.3 463.4,407.7 465.0,409.1 466.6,410.6 468.2,412.1 469.7,413.7 471.3,415.4 472.9,417.1 474.4,418.9 476.0,420.7 477.5,422.6 479.1,424.6 480.6,426.6 482.2,428.7 483.7,430.9 485.2,433.1 486.7,435.4 488.3,437.8 489.8,440.2 491.3,442.7 492.8,445.2 494.3,447.9 495.8,450.5 497.3,453.3 498.7,456.1 500.2,458.9 501.7,461.9 503.2,464.9 504.6,467.9 506.1,471.0 507.5,474.1 509.0,477.4 510.4,480.6 511.9,483.9 513.3,487.3 514.7,490.7 516.2,494.1 517.6,497.6 519.0,501.1 520.4,504.7 521.8,508.2 523.2,511.8 524.6,515.5 526.0,519.1 527.4,522.8 528.8,526.4 530.1,530.1 531.5,533.7 532.9,537.4 534.2,541.0 535.6,544.5 536.9,548.1 538.3,551.6 539.6,555.0 541.0,558.3 542.3,561.5 543.6,564.6 544.9,567.6 546.2,570.5 547.6,573.2 548.9,575.7 550.2,578.0 551.5,580.0 552.7,581.9 554.0,583.6 555.3,585.0 556.6,586.1 557.8,587.1 559.1,587.9 560.4,588.6 561.6,589.1 562.8,589.5 564.1,589.9 565.3,590.1 566.6,590.3 567.8,590.5 569.0,590.6 570.2,590.7 571.4,590.8 572.6,590.9 573.8,591.0 575.0,591.1 576.2,591.2 577.4,591.3 578.5,591.3 579.7,591.5 580.9,591.9 582.0,592.6 583.2,593.7 584.3,595.0 585.5,596.5 586.6,598.1 587.7,599.8 588.8,601.5 590.0,603.3 591.1,605.1 592.2,606.8 593.3,608.5 594.4,610.0 595.5,611.4 596.5,612.6 597.6,613.8 598.7,614.9 599.7,615.8 600.8,616.5 601.9,617.0 602.9,617.4 603.9,617.7 605.0,618.1 606.0,618.3 607.0,618.6 608.0,618.7 609.0,618.8 610.0,618.9 611.0,619.0 612.0,619.0 613.0,619.1 614.0,619.2 615.0,619.3 615.9,619.5 616.9,619.8 617.8,620.2 618.8,620.7 619.7,621.2 620.7,622.0 621.6,622.9 622.5,623.9 623.4,625.0 624.3,626.1 625.2,627.1 626.1,628.0 627.0,628.6 627.9,629.0 628.7,629.4 629.6,629.6 630.5,629.9 631.3,630.1 632.2,630.3 633.0,630.6 633.8,630.8 634.7,631.2 635.5,631.6 636.3,632.2 637.1,633.0 637.9,633.9 638.7,634.8 639.4,635.6 640.2,636.3 641.0,636.8 641.7,637.2 642.5,637.5 643.2,637.7 644.0,638.0 644.7,638.3 645.4,638.6 646.1,638.9 646.8,639.3 647.5,639.7 648.2,640.1 648.9,640.5 649.6,640.9 650.2,641.4 650.9,641.8 651.5,642.2 652.2,642.6 652.8,643.0 653.4,643.5 654.0,643.9 654.6,644.3 655.2,644.6 655.8,645.0 656.4,645.3 657.0,645.6 657.5,645.9 658.1,646.2 658.6,646.5 659.1,646.8 659.7,647.1 660.2,647.4 660.7,647.8 661.2,648.1 661.6,648.5 662.1,648.9 662.6,649.2 663.0,649.6 663.5,650.0 663.9,650.4 664.3,650.8 664.7,651.1 665.1,651.5 665.5,651.9 665.9,652.3 666.2,652.8 666.6,653.2 666.9,653.6 667.2,654.0 667.6,654.5 667.8,654.9 668.1,655.3 668.4,655.8 668.6,656.2 668.9,656.7 669.1,657.2 669.3,657.7 669.5,658.2 669.6,658.6 669.8,659.0 669.9,659.4 670.0,659.6 670.0,659.9" fill="none" stroke="#434343" stroke-width="1.7" stroke-linejoin="round"/>
<polyline points="412.0,388.1 413.7,388.1 415.4,388.2 417.2,388.2 418.9,388.4 420.6,388.5 422.3,388.7 424.0,388.9 425.7,389.1 427.4,389.4 429.1,389.7 430.7,390.1 432.4,390.5 434.1,390.9 435.8,391.4 437.4,391.9 439.1,392.4 440.7,393.0 442.4,393.7 444.0,394.3 445.7,395.1 447.3,395.8 448.9,396.6 450.6,397.5 452.2,398.4 453.8,399.3 455.4,400.3 457.0,401.4 458.6,402.5 460.2,403.6 461.8,404.8 463.4,406.1 465.0,407.4 466.6,408.8 468.2,410.2 469.7,411.7 471.3,413.2 472.9,414.8 474.4,416.4 476.0,418.2 477.5,419.9 479.1,421.8 480.6,423.6 482.2,425.6 483.7,427.6 485.2,429.7 486.7,431.8 488.3,434.0 489.8,436.3 491.3,438.6 492.8,441.0 494.3,443.4 495.8,445.9 497.3,448.5 498.7,451.1 500.2,453.8 501.7,456.6 503.2,459.4 504.6,462.3 506.1,465.2 507.5,468.2 509.0,471.2 510.4,474.3 511.9,477.5 513.3,480.7 514.7,483.9 516.2,487.2 517.6,490.6 519.0,493.9 520.4,497.4 521.8,500.8 523.2,504.3 524.6,507.8 526.0,511.4 527.4,515.0 528.8,518.5 530.1,522.1 531.5,525.8 532.9,529.4 534.2,533.0 535.6,536.6 536.9,540.1 538.3,543.7 539.6,547.2 541.0,550.7 542.3,554.1 543.6,557.4 544.9,560.6 546.2,563.8 547.6,566.8 548.9,569.7 550.2,572.4 551.5,575.0 552.7,577.4 554.0,579.5 555.3,581.5 556.6,583.2 557.8,584.7 559.1,585.9 560.4,587.0 561.6,587.9 562.8,588.6 564.1,589.1 565.3,589.6 566.6,590.0 567.8,590.2 569.0,590.5 570.2,590.6 571.4,590.8 572.6,590.9 573.8,591.0 575.0,591.1 576.2,591.2 577.4,591.3 578.5,591.3 579.7,591.4 580.9,591.5 582.0,591.7 583.2,592.1 584.3,592.8 585.5,593.8 586.6,595.1 587.7,596.6 588.8,598.2 590.0,599.8 591.1,601.6 592.2,603.3 593.3,605.1 594.4,606.8 595.5,608.4 596.5,609.9 597.6,611.3 598.7,612.6 599.7,613.7 600.8,614.8 601.9,615.8 602.9,616.5 603.9,617.0 605.0,617.5 606.0,617.8 607.0,618.1 608.0,618.4 609.0,618.6 610.0,618.8 611.0,618.9 612.0,619.0 613.0,619.1 614.0,619.1 615.0,619.2 615.9,619.3 616.9,619.4 617.8,619.6 618.8,619.9 619.7,620.2 620.7,620.6 621.6,621.2 622.5,621.8 623.4,622.7 624.3,623.6 625.2,624.7 626.1,625.8 627.0,626.9 627.9,627.8 628.7,628.5 629.6,629.0 630.5,629.4 631.3,629.6 632.2,629.9 633.0,630.1 633.8,630.3 634.7,630.6 635.5,630.8 636.3,631.1 637.1,631.5 637.9,632.1 638.7,632.8 639.4,633.7 640.2,634.6 641.0,635.5 641.7,636.2 642.5,636.7 643.2,637.1 644.0,637.5 644.7,637.7 645.4,638.0 646.1,638.3 646.8,638.6 647.5,638.9 648.2,639.3 648.9,639.7 649.6,640.1 650.2,640.5 650.9,640.9 651.5,641.4 652.2,641.8 652.8,642.2 653.4,642.7 654.0,643.1 654.6,643.5 655.2,643.9 655.8,644.3 656.4,644.7 657.0,645.1 657.5,645.4 658.1,645.7 658.6,646.0 659.1,646.3 659.7,646.6 660.2,646.9 660.7,647.3 661.2,647.6 661.6,648.0 662.1,648.3 662.6,648.7 663.0,649.1 663.5,649.5 663.9,649.9 664.3,650.3 664.7,650.7 665.1,651.1 665.5,651.5 665.9,651.9 666.2,652.3 666.6,652.8 666.9,653.2 667.2,653.7 667.6,654.1 667.8,654.6 668.1,655.0 668.4,655.5 668.6,656.0 668.9,656.5 669.1,657.0 669.3,657.5 669.5,658.0 669.6,658.5 669.8,659.0 669.9,659.3 670.0,659.6 670.0,659.9" fill="none" stroke="#474747" stroke-width="1.7" stroke-linejoin="round"/>
<polyline points="412.0,388.1 413.7,388.1 415.4,388.2 417.2,388.2 418.9,388.3 420.6,388.5 422.3,388.6 424.0,388.8 425.7,389.1 427.4,389.3 429.1,389.6 430.7,389.9 432.4,390.3 434.1,390.7 435.8,391.1 437.4,391.6 439.1,392.1 440.7,392.6 442.4,393.2 444.0,393.8 445.7,394.4 447.3,395.1 448.9,395.9 450.6,396.7 452.2,397.5 453.8,398.3 455.4,399.3 457.0,400.2 458.6,401.2 460.2,402.3 461.8,403.4 463.4,404.5 465.0,405.7 466.6,407.0 468.2,408.3 469.7,409.7 471.3,411.1 472.9,412.5 474.4,414.0 476.0,415.6 477.5,417.2 479.1,418.9 480.6,420.7 482.2,422.5 483.7,424.3 485.2,426.2 486.7,428.2 488.3,430.3 489.8,432.4 491.3,434.5 492.8,436.7 494.3,439.0 495.8,441.3 497.3,443.7 498.7,446.2 500.2,448.7 501.7,451.3 503.2,453.9 504.6,456.6 506.1,459.3 507.5,462.2 509.0,465.0 510.4,467.9 511.9,470.9 513.3,473.9 514.7,477.0 516.2,480.1 517.6,483.3 519.0,486.5 520.4,489.8 521.8,493.1 523.2,496.5 524.6,499.9 526.0,503.3 527.4,506.7 528.8,510.2 530.1,513.7 531.5,517.3 532.9,520.8 534.2,524.4 535.6,527.9 536.9,531.5 538.3,535.1 539.6,538.6 541.0,542.1 542.3,545.6 543.6,549.1 544.9,552.5 546.2,555.8 547.6,559.1 548.9,562.3 550.2,565.4 551.5,568.3 552.7,571.1 554.0,573.8 555.3,576.2 556.6,578.5 557.8,580.6 559.1,582.4 560.4,584.0 561.6,585.4 562.8,586.6 564.1,587.6 565.3,588.4 566.6,589.0 567.8,589.6 569.0,590.0 570.2,590.3 571.4,590.5 572.6,590.7 573.8,590.9 575.0,591.0 576.2,591.1 577.4,591.2 578.5,591.3 579.7,591.4 580.9,591.5 582.0,591.6 583.2,591.7 584.3,591.9 585.5,592.2 586.6,592.9 587.7,593.9 588.8,595.1 590.0,596.5 591.1,598.0 592.2,599.7 593.3,601.3 594.4,603.1 595.5,604.8 596.5,606.5 597.6,608.1 598.7,609.7 599.7,611.1 600.8,612.3 601.9,613.5 602.9,614.6 603.9,615.6 605.0,616.4 606.0,617.0 607.0,617.4 608.0,617.8 609.0,618.1 610.0,618.4 611.0,618.6 612.0,618.8 613.0,619.0 614.0,619.1 615.0,619.1 615.9,619.2 616.9,619.3 617.8,619.3 618.8,619.4 619.7,619.6 620.7,619.8 621.6,620.1 622.5,620.5 623.4,621.0 624.3,621.6 625.2,622.3 626.1,623.2 627.0,624.3 627.9,625.4 628.7,626.5 629.6,627.5 630.5,628.3 631.3,628.9 632.2,629.3 633.0,629.6 633.8,629.8 634.7,630.1 635.5,630.3 636.3,630.6 637.1,630.8 637.9,631.1 638.7,631.4 639.4,631.9 640.2,632.6 641.0,633.4 641.7,634.3 642.5,635.2 643.2,636.0 644.0,636.6 644.7,637.1 645.4,637.4 646.1,637.7 646.8,638.0 647.5,638.3 648.2,638.5 648.9,638.9 649.6,639.2 650.2,639.6 650.9,640.0 651.5,640.5 652.2,640.9 652.8,641.4 653.4,641.8 654.0,642.2 654.6,642.7 655.2,643.1 655.8,643.5 656.4,644.0 657.0,644.4 657.5,644.8 658.1,645.2 658.6,645.5 659.1,645.8 659.7,646.1 660.2,646.4 660.7,646.8 661.2,647.1 661.6,647.4 662.1,647.8 662.6,648.1 663.0,648.5 663.5,648.9 663.9,649.4 664.3,649.8 664.7,650.2 665.1,650.6 665.5,651.0 665.9,651.4 666.2,651.9 666.6,652.3 666.9,652.8 667.2,653.3 667.6,653.7 667.8,654.2 668.1,654.7 668.4,655.2 668.6,655.7 668.9,656.2 669.1,656.8 669.3,657.3 669.5,657.8 669.6,658.4 669.8,658.9 669.9,659.3 670.0,659.6 670.0,659.9" fill="none" stroke="#4a4a4a" stroke-width="1.7" stroke-linejoin="round"/>
<polyline points="412.0,388.1 413.7,388.1 415.4,388.1 417.2,388.2 418.9,388.3 420.6,388.4 422.3,388.6 424.0,388.8 425.7,389.0 427.4,389.2 429.1,389.5 430.7,389.7 432.4,390.1 434.1,390.4 435.8,390.8 437.4,391.2 439.1,391.7 440.7,392.2 442.4,392.7 444.0,393.2 445.7,393.8 447.3,394.5 448.9,395.1 450.6,395.8 452.2,396.6 453.8,397.4 455.4,398.2 457.0,399.1 458.6,400.0 460.2,401.0 461.8,402.0 463.4,403.0 465.0,404.1 466.6,405.2 468.2,406.4 469.7,407.7 471.3,408.9 472.9,410.3 474.4,411.7 476.0,413.1 477.5,414.6 479.1,416.1 480.6,417.7 482.2,419.4 483.7,421.1 485.2,422.8 486.7,424.6 488.3,426.5 489.8,428.4 491.3,430.4 492.8,432.5 494.3,434.6 495.8,436.7 497.3,438.9 498.7,441.2 500.2,443.5 501.7,445.9 503.2,448.4 504.6,450.9 506.1,453.4 507.5,456.0 509.0,458.7 510.4,461.4 511.9,464.2 513.3,467.1 514.7,470.0 516.2,472.9 517.6,475.9 519.0,478.9 520.4,482.0 521.8,485.2 523.2,488.4 524.6,491.6 526.0,494.9 527.4,498.2 528.8,501.5 530.1,504.9 531.5,508.3 532.9,511.8 534.2,515.2 535.6,518.7 536.9,522.2 538.3,525.7 539.6,529.3 541.0,532.8 542.3,536.3 543.6,539.8 544.9,543.3 546.2,546.7 547.6,550.1 548.9,553.5 550.2,556.8 551.5,560.0 552.7,563.2 554.0,566.2 555.3,569.1 556.6,571.9 557.8,574.5 559.1,576.9 560.4,579.2 561.6,581.2 562.8,583.0 564.1,584.5 565.3,585.9 566.6,587.0 567.8,588.0 569.0,588.7 570.2,589.4 571.4,589.9 572.6,590.3 573.8,590.6 575.0,590.8 576.2,591.0 577.4,591.1 578.5,591.3 579.7,591.4 580.9,591.5 582.0,591.6 583.2,591.7 584.3,591.7 585.5,591.8 586.6,592.0 587.7,592.3 588.8,592.8 590.0,593.7 591.1,594.8 592.2,596.2 593.3,597.6 594.4,599.2 595.5,600.8 596.5,602.5 597.6,604.2 598.7,605.9 599.7,607.5 600.8,609.1 601.9,610.5 602.9,611.8 603.9,613.0 605.0,614.2 606.0,615.2 607.0,616.1 608.0,616.8 609.0,617.3 610.0,617.7 611.0,618.0 612.0,618.3 613.0,618.6 614.0,618.9 615.0,619.0 615.9,619.1 616.9,619.2 617.8,619.3 618.8,619.4 619.7,619.4 620.7,619.5 621.6,619.6 622.5,619.8 623.4,620.0 624.3,620.4 625.2,620.8 626.1,621.3 627.0,621.9 627.9,622.7 628.7,623.6 629.6,624.7 630.5,625.8 631.3,626.8 632.2,627.8 633.0,628.6 633.8,629.1 634.7,629.5 635.5,629.8 636.3,630.0 637.1,630.3 637.9,630.5 638.7,630.7 639.4,631.0 640.2,631.3 641.0,631.7 641.7,632.2 642.5,632.9 643.2,633.8 644.0,634.7 644.7,635.5 645.4,636.3 646.1,636.9 646.8,637.3 647.5,637.6 648.2,637.9 648.9,638.2 649.6,638.5 650.2,638.8 650.9,639.1 651.5,639.5 652.2,639.9 652.8,640.3 653.4,640.8 654.0,641.2 654.6,641.7 655.2,642.1 655.8,642.6 656.4,643.0 657.0,643.5 657.5,643.9 658.1,644.4 658.6,644.8 659.1,645.2 659.7,645.5 660.2,645.9 660.7,646.2 661.2,646.5 661.6,646.9 662.1,647.2 662.6,647.5 663.0,647.9 663.5,648.3 663.9,648.7 664.3,649.2 664.7,649.6 665.1,650.0 665.5,650.5 665.9,650.9 666.2,651.4 666.6,651.8 666.9,652.3 667.2,652.8 667.6,653.3 667.8,653.8 668.1,654.3 668.4,654.9 668.6,655.4 668.9,655.9 669.1,656.5 669.3,657.1 669.5,657.6 669.6,658.2 669.8,658.8 669.9,659.2 670.0,659.6 670.0,659.9" fill="none" stroke="#4e4e4e" stroke-width="1.7" stroke-linejoin="round"/>
<polyline points="412.0,388.1 413.7,388.1 415.4,388.1 417.2,388.2 418.9,388.3 420.6,388.4 422.3,388.5 424.0,388.7 425.7,388.9 427.4,389.1 429.1,389.3 430.7,389.6 432.4,389.9 434.1,390.2 435.8,390.5 437.4,390.9 439.1,391.3 440.7,391.8 442.4,392.2 444.0,392.7 445.7,393.3 447.3,393.8 448.9,394.4 450.6,395.1 452.2,395.7 453.8,396.4 455.4,397.2 457.0,398.0 458.6,398.8 460.2,399.7 461.8,400.6 463.4,401.5 465.0,402.5 466.6,403.5 468.2,404.6 469.7,405.7 471.3,406.9 472.9,408.1 474.4,409.3 476.0,410.6 477.5,412.0 479.1,413.4 480.6,414.8 482.2,416.3 483.7,417.9 485.2,419.5 486.7,421.1 488.3,422.8 489.8,424.6 491.3,426.4 492.8,428.2 494.3,430.1 495.8,432.1 497.3,434.1 498.7,436.2 500.2,438.4 501.7,440.6 503.2,442.8 504.6,445.1 506.1,447.5 507.5,449.9 509.0,452.4 510.4,454.9 511.9,457.5 513.3,460.1 514.7,462.8 516.2,465.5 517.6,468.3 519.0,471.2 520.4,474.1 521.8,477.0 523.2,480.0 524.6,483.1 526.0,486.2 527.4,489.3 528.8,492.5 530.1,495.7 531.5,499.0 532.9,502.3 534.2,505.6 535.6,509.0 536.9,512.4 538.3,515.8 539.6,519.2 541.0,522.7 542.3,526.2 543.6,529.6 544.9,533.1 546.2,536.6 547.6,540.0 548.9,543.5 550.2,546.9 551.5,550.3 552.7,553.6 554.0,556.9 555.3,560.1 556.6,563.2 557.8,566.2 559.1,569.2 560.4,571.9 561.6,574.5 562.8,577.0 564.1,579.2 565.3,581.2 566.6,583.1 567.8,584.6 569.0,586.0 570.2,587.2 571.4,588.1 572.6,588.9 573.8,589.6 575.0,590.1 576.2,590.5 577.4,590.8 578.5,591.0 579.7,591.2 580.9,591.4 582.0,591.5 583.2,591.6 584.3,591.7 585.5,591.8 586.6,591.9 587.7,592.0 588.8,592.1 590.0,592.3 591.1,592.7 592.2,593.4 593.3,594.3 594.4,595.5 595.5,596.9 596.5,598.3 597.6,599.9 598.7,601.5 599.7,603.2 600.8,604.8 601.9,606.5 602.9,608.1 603.9,609.6 605.0,611.0 606.0,612.2 607.0,613.4 608.0,614.5 609.0,615.5 610.0,616.3 611.0,617.0 612.0,617.5 613.0,617.9 614.0,618.2 615.0,618.5 615.9,618.8 616.9,619.0 617.8,619.2 618.8,619.3 619.7,619.4 620.7,619.4 621.6,619.5 622.5,619.6 623.4,619.7 624.3,619.8 625.2,619.9 626.1,620.2 627.0,620.5 627.9,620.9 628.7,621.4 629.6,622.0 630.5,622.8 631.3,623.7 632.2,624.8 633.0,625.8 633.8,626.9 634.7,627.9 635.5,628.6 636.3,629.2 637.1,629.6 637.9,629.9 638.7,630.1 639.4,630.4 640.2,630.6 641.0,630.9 641.7,631.1 642.5,631.4 643.2,631.8 644.0,632.3 644.7,633.0 645.4,633.9 646.1,634.8 646.8,635.7 647.5,636.4 648.2,637.0 648.9,637.4 649.6,637.8 650.2,638.1 650.9,638.3 651.5,638.6 652.2,638.9 652.8,639.3 653.4,639.7 654.0,640.1 654.6,640.6 655.2,641.0 655.8,641.5 656.4,642.0 657.0,642.4 657.5,642.9 658.1,643.3 658.6,643.8 659.1,644.3 659.7,644.7 660.2,645.1 660.7,645.5 661.2,645.9 661.6,646.2 662.1,646.6 662.6,646.9 663.0,647.3 663.5,647.6 663.9,648.0 664.3,648.5 664.7,648.9 665.1,649.4 665.5,649.8 665.9,650.3 666.2,650.8 666.6,651.2 666.9,651.7 667.2,652.2 667.6,652.8 667.8,653.3 668.1,653.9 668.4,654.4 668.6,655.0 668.9,655.6 669.1,656.2 669.3,656.8 669.5,657.4 669.6,658.0 669.8,658.6 669.9,659.2 670.0,659.6 670.0,659.9" fill="none" stroke="#525252" stroke-width="1.7" stroke-linejoin="round"/>
<polyline points="412.0,388.1 413.7,388.1 415.4,388.1 417.2,388.2 418.9,388.3 420.6,388.4 422.3,388.5 424.0,388.6 425.7,388.8 427.4,389.0 429.1,389.2 430.7,389.4 432.4,389.7 434.1,390.0 435.8,390.3 437.4,390.6 439.1,391.0 440.7,391.3 442.4,391.8 444.0,392.2 445.7,392.7 447.3,393.2 448.9,393.7 450.6,394.3 452.2,394.9 453.8,395.5 455.4,396.2 457.0,396.9 458.6,397.6 460.2,398.4 461.8,399.2 463.4,400.0 465.0,400.9 466.6,401.8 468.2,402.8 469.7,403.8 471.3,404.8 472.9,405.9 474.4,407.0 476.0,408.2 477.5,409.4 479.1,410.7 480.6,412.0 482.2,413.3 483.7,414.7 485.2,416.1 486.7,417.6 488.3,419.2 489.8,420.7 491.3,422.4 492.8,424.0 494.3,425.8 495.8,427.6 497.3,429.4 498.7,431.3 500.2,433.2 501.7,435.2 503.2,437.3 504.6,439.4 506.1,441.5 507.5,443.7 509.0,446.0 510.4,448.3 511.9,450.7 513.3,453.1 514.7,455.6 516.2,458.1 517.6,460.7 519.0,463.3 520.4,466.0 521.8,468.8 523.2,471.6 524.6,474.4 526.0,477.3 527.4,480.2 528.8,483.2 530.1,486.3 531.5,489.3 532.9,492.5 534.2,495.6 535.6,498.8 536.9,502.1 538.3,505.3 539.6,508.6 541.0,512.0 542.3,515.3 543.6,518.7 544.9,522.1 546.2,525.5 547.6,529.0 548.9,532.4 550.2,535.8 551.5,539.2 552.7,542.7 554.0,546.0 555.3,549.4 556.6,552.7 557.8,556.0 559.1,559.2 560.4,562.3 561.6,565.4 562.8,568.3 564.1,571.1 565.3,573.8 566.6,576.3 567.8,578.6 569.0,580.7 570.2,582.6 571.4,584.3 572.6,585.8 573.8,587.0 575.0,588.1 576.2,588.9 577.4,589.6 578.5,590.2 579.7,590.6 580.9,590.9 582.0,591.2 583.2,591.4 584.3,591.6 585.5,591.7 586.6,591.9 587.7,592.0 588.8,592.1 590.0,592.1 591.1,592.2 592.2,592.4 593.3,592.6 594.4,593.0 595.5,593.6 596.5,594.6 597.6,595.8 598.7,597.1 599.7,598.5 600.8,600.0 601.9,601.6 602.9,603.2 603.9,604.8 605.0,606.4 606.0,608.0 607.0,609.5 608.0,610.9 609.0,612.1 610.0,613.3 611.0,614.4 612.0,615.4 613.0,616.3 614.0,617.0 615.0,617.5 615.9,617.9 616.9,618.3 617.8,618.6 618.8,618.9 619.7,619.1 620.7,619.3 621.6,619.4 622.5,619.5 623.4,619.6 624.3,619.7 625.2,619.7 626.1,619.8 627.0,619.9 627.9,620.0 628.7,620.2 629.6,620.5 630.5,620.9 631.3,621.3 632.2,621.9 633.0,622.5 633.8,623.4 634.7,624.4 635.5,625.5 636.3,626.5 637.1,627.5 637.9,628.4 638.7,629.1 639.4,629.6 640.2,629.9 641.0,630.2 641.7,630.4 642.5,630.6 643.2,630.9 644.0,631.1 644.7,631.4 645.4,631.7 646.1,632.2 646.8,632.8 647.5,633.7 648.2,634.6 648.9,635.5 649.6,636.3 650.2,637.0 650.9,637.5 651.5,637.8 652.2,638.1 652.8,638.4 653.4,638.7 654.0,639.0 654.6,639.4 655.2,639.8 655.8,640.2 656.4,640.7 657.0,641.1 657.5,641.6 658.1,642.1 658.6,642.6 659.1,643.1 659.7,643.5 660.2,644.0 660.7,644.5 661.2,645.0 661.6,645.4 662.1,645.8 662.6,646.2 663.0,646.6 663.5,646.9 663.9,647.3 664.3,647.7 664.7,648.1 665.1,648.6 665.5,649.0 665.9,649.5 666.2,650.0 666.6,650.5 666.9,651.1 667.2,651.6 667.6,652.1 667.8,652.7 668.1,653.3 668.4,653.9 668.6,654.5 668.9,655.1 669.1,655.8 669.3,656.4 669.5,657.1 669.6,657.8 669.8,658.4 669.9,659.0 670.0,659.6 670.0,659.9" fill="none" stroke="#565656" stroke-width="1.7" stroke-linejoin="round"/>
<polyline points="412.0,388.1 413.7,388.1 415.4,388.1 417.2,388.2 418.9,388.2 420.6,388.3 422.3,388.4 424.0,388.6 425.7,388.7 427.4,388.9 429.1,389.0 430.7,389.3 432.4,389.5 434.1,389.7 435.8,390.0 437.4,390.3 439.1,390.6 440.7,391.0 442.4,391.3 444.0,391.7 445.7,392.1 447.3,392.6 448.9,393.0 450.6,393.5 452.2,394.1 453.8,394.6 455.4,395.2 457.0,395.8 458.6,396.5 460.2,397.2 461.8,397.9 463.4,398.6 465.0,399.4 466.6,400.2 468.2,401.0 469.7,401.9 471.3,402.9 472.9,403.8 474.4,404.8 476.0,405.8 477.5,406.9 479.1,408.0 480.6,409.2 482.2,410.4 483.7,411.6 485.2,412.9 486.7,414.2 488.3,415.6 489.8,417.0 491.3,418.4 492.8,419.9 494.3,421.5 495.8,423.1 497.3,424.7 498.7,426.4 500.2,428.2 501.7,429.9 503.2,431.8 504.6,433.7 506.1,435.6 507.5,437.6 509.0,439.7 510.4,441.8 511.9,443.9 513.3,446.1 514.7,448.4 516.2,450.7 517.6,453.0 519.0,455.4 520.4,457.9 521.8,460.4 523.2,463.0 524.6,465.6 526.0,468.2 527.4,471.0 528.8,473.7 530.1,476.5 531.5,479.4 532.9,482.3 534.2,485.3 535.6,488.3 536.9,491.3 538.3,494.4 539.6,497.5 541.0,500.7 542.3,503.9 543.6,507.1 544.9,510.4 546.2,513.7 547.6,517.0 548.9,520.4 550.2,523.7 551.5,527.1 552.7,530.5 554.0,533.9 555.3,537.3 556.6,540.6 557.8,544.0 559.1,547.4 560.4,550.7 561.6,554.0 562.8,557.2 564.1,560.4 565.3,563.5 566.6,566.5 567.8,569.4 569.0,572.1 570.2,574.8 571.4,577.2 572.6,579.5 573.8,581.5 575.0,583.4 576.2,585.0 577.4,586.4 578.5,587.6 579.7,588.6 580.9,589.4 582.0,590.1 583.2,590.6 584.3,591.0 585.5,591.3 586.6,591.6 587.7,591.8 588.8,591.9 590.0,592.1 591.1,592.2 592.2,592.3 593.3,592.4 594.4,592.5 595.5,592.6 596.5,592.8 597.6,593.1 598.7,593.7 599.7,594.5 600.8,595.6 601.9,596.9 602.9,598.2 603.9,599.6 605.0,601.2 606.0,602.7 607.0,604.3 608.0,605.8 609.0,607.4 610.0,608.9 611.0,610.3 612.0,611.6 613.0,612.8 614.0,613.9 615.0,614.9 615.9,615.9 616.9,616.7 617.8,617.4 618.8,617.8 619.7,618.2 620.7,618.5 621.6,618.8 622.5,619.1 623.4,619.3 624.3,619.5 625.2,619.6 626.1,619.7 627.0,619.8 627.9,619.9 628.7,619.9 629.6,620.0 630.5,620.1 631.3,620.2 632.2,620.4 633.0,620.7 633.8,621.1 634.7,621.6 635.5,622.1 636.3,622.8 637.1,623.6 637.9,624.6 638.7,625.7 639.4,626.8 640.2,627.8 641.0,628.7 641.7,629.3 642.5,629.8 643.2,630.1 644.0,630.4 644.7,630.6 645.4,630.9 646.1,631.1 646.8,631.4 647.5,631.6 648.2,632.0 648.9,632.5 649.6,633.2 650.2,634.0 650.9,634.9 651.5,635.9 652.2,636.7 652.8,637.3 653.4,637.8 654.0,638.1 654.6,638.4 655.2,638.7 655.8,639.0 656.4,639.4 657.0,639.7 657.5,640.2 658.1,640.7 658.6,641.1 659.1,641.6 659.7,642.2 660.2,642.7 660.7,643.2 661.2,643.7 661.6,644.2 662.1,644.7 662.6,645.2 663.0,645.7 663.5,646.1 663.9,646.5 664.3,646.9 664.7,647.3 665.1,647.7 665.5,648.2 665.9,648.6 666.2,649.1 666.6,649.7 666.9,650.2 667.2,650.8 667.6,651.4 667.8,652.0 668.1,652.6 668.4,653.2 668.6,653.9 668.9,654.6 669.1,655.3 669.3,656.0 669.5,656.7 669.6,657.5 669.8,658.2 669.9,658.9 670.0,659.5 670.0,659.9" fill="none" stroke="#5a5a5a" stroke-width="1.7" stroke-linejoin="round"/>
<polyline points="412.0,388.1 413.7,388.1 415.4,388.1 417.2,388.2 418.9,388.2 420.6,388.3 422.3,388.4 424.0,388.5 425.7,388.6 427.4,388.8 429.1,388.9 430.7,389.1 432.4,389.3 434.1,389.5 435.8,389.8 437.4,390.0 439.1,390.3 440.7,390.6 442.4,390.9 444.0,391.2 445.7,391.6 447.3,392.0 448.9,392.4 450.6,392.8 452.2,393.3 453.8,393.8 455.4,394.3 457.0,394.8 458.6,395.4 460.2,396.0 461.8,396.6 463.4,397.2 465.0,397.9 466.6,398.6 468.2,399.4 469.7,400.1 471.3,400.9 472.9,401.8 474.4,402.6 476.0,403.5 477.5,404.5 479.1,405.5 480.6,406.5 482.2,407.5 483.7,408.6 485.2,409.7 486.7,410.9 488.3,412.1 489.8,413.3 491.3,414.6 492.8,415.9 494.3,417.3 495.8,418.7 497.3,420.2 498.7,421.6 500.2,423.2 501.7,424.8 503.2,426.4 504.6,428.1 506.1,429.8 507.5,431.6 509.0,433.4 510.4,435.3 511.9,437.2 513.3,439.2 514.7,441.2 516.2,443.2 517.6,445.4 519.0,447.5 520.4,449.8 521.8,452.0 523.2,454.3 524.6,456.7 526.0,459.1 527.4,461.6 528.8,464.1 530.1,466.7 531.5,469.3 532.9,472.0 534.2,474.7 535.6,477.5 536.9,480.3 538.3,483.2 539.6,486.1 541.0,489.0 542.3,492.0 543.6,495.1 544.9,498.1 546.2,501.2 547.6,504.4 548.9,507.6 550.2,510.8 551.5,514.0 552.7,517.3 554.0,520.6 555.3,523.9 556.6,527.3 557.8,530.6 559.1,533.9 560.4,537.3 561.6,540.6 562.8,544.0 564.1,547.3 565.3,550.6 566.6,553.9 567.8,557.1 569.0,560.3 570.2,563.3 571.4,566.4 572.6,569.2 573.8,572.0 575.0,574.7 576.2,577.1 577.4,579.4 578.5,581.5 579.7,583.4 580.9,585.1 582.0,586.5 583.2,587.8 584.3,588.8 585.5,589.6 586.6,590.3 587.7,590.8 588.8,591.3 590.0,591.6 591.1,591.9 592.2,592.1 593.3,592.2 594.4,592.4 595.5,592.5 596.5,592.6 597.6,592.7 598.7,592.8 599.7,592.9 600.8,593.2 601.9,593.6 602.9,594.3 603.9,595.2 605.0,596.4 606.0,597.6 607.0,598.9 608.0,600.3 609.0,601.8 610.0,603.3 611.0,604.8 612.0,606.4 613.0,607.9 614.0,609.3 615.0,610.7 615.9,611.9 616.9,613.1 617.8,614.1 618.8,615.1 619.7,616.1 620.7,616.9 621.6,617.5 622.5,618.0 623.4,618.4 624.3,618.7 625.2,619.0 626.1,619.3 627.0,619.5 627.9,619.7 628.7,619.8 629.6,619.9 630.5,620.0 631.3,620.1 632.2,620.1 633.0,620.2 633.8,620.3 634.7,620.4 635.5,620.6 636.3,620.9 637.1,621.2 637.9,621.6 638.7,622.1 639.4,622.8 640.2,623.6 641.0,624.5 641.7,625.6 642.5,626.7 643.2,627.7 644.0,628.6 644.7,629.3 645.4,629.9 646.1,630.2 646.8,630.5 647.5,630.8 648.2,631.0 648.9,631.3 649.6,631.5 650.2,631.8 650.9,632.1 651.5,632.6 652.2,633.3 652.8,634.1 653.4,635.1 654.0,636.0 654.6,636.9 655.2,637.5 655.8,638.0 656.4,638.3 657.0,638.7 657.5,639.0 658.1,639.3 658.6,639.7 659.1,640.1 659.7,640.6 660.2,641.1 660.7,641.6 661.2,642.1 661.6,642.7 662.1,643.2 662.6,643.7 663.0,644.3 663.5,644.8 663.9,645.4 664.3,645.9 664.7,646.4 665.1,646.9 665.5,647.3 665.9,647.8 666.2,648.2 666.6,648.8 666.9,649.3 667.2,649.9 667.6,650.5 667.8,651.2 668.1,651.8 668.4,652.5 668.6,653.2 668.9,653.9 669.1,654.7 669.3,655.5 669.5,656.3 669.6,657.1 669.8,657.9 669.9,658.7 670.0,659.4 670.0,659.9" fill="none" stroke="#5e5e5e" stroke-width="1.7" stroke-linejoin="round"/>
<polyline points="412.0,388.1 413.7,388.1 415.4,388.1 417.2,388.2 418.9,388.2 420.6,388.3 422.3,388.3 424.0,388.4 425.7,388.5 427.4,388.7 429.1,388.8 430.7,389.0 432.4,389.1 434.1,389.3 435.8,389.5 437.4,389.7 439.1,390.0 440.7,390.2 442.4,390.5 444.0,390.8 445.7,391.1 447.3,391.4 448.9,391.8 450.6,392.1 452.2,392.5 453.8,393.0 455.4,393.4 457.0,393.9 458.6,394.3 460.2,394.8 461.8,395.4 463.4,395.9 465.0,396.5 466.6,397.1 468.2,397.8 469.7,398.4 471.3,399.1 472.9,399.8 474.4,400.6 476.0,401.3 477.5,402.2 479.1,403.0 480.6,403.9 482.2,404.8 483.7,405.7 485.2,406.7 486.7,407.7 488.3,408.7 489.8,409.8 491.3,410.9 492.8,412.0 494.3,413.2 495.8,414.5 497.3,415.7 498.7,417.0 500.2,418.4 501.7,419.7 503.2,421.2 504.6,422.6 506.1,424.1 507.5,425.7 509.0,427.3 510.4,428.9 511.9,430.6 513.3,432.3 514.7,434.1 516.2,435.9 517.6,437.8 519.0,439.7 520.4,441.7 521.8,443.7 523.2,445.8 524.6,447.9 526.0,450.0 527.4,452.3 528.8,454.5 530.1,456.8 531.5,459.2 532.9,461.6 534.2,464.0 535.6,466.6 536.9,469.1 538.3,471.7 539.6,474.4 541.0,477.1 542.3,479.8 543.6,482.6 544.9,485.4 546.2,488.3 547.6,491.2 548.9,494.2 550.2,497.2 551.5,500.3 552.7,503.3 554.0,506.5 555.3,509.6 556.6,512.8 557.8,516.0 559.1,519.2 560.4,522.5 561.6,525.8 562.8,529.1 564.1,532.4 565.3,535.7 566.6,539.0 567.8,542.4 569.0,545.7 570.2,548.9 571.4,552.2 572.6,555.4 573.8,558.6 575.0,561.7 576.2,564.8 577.4,567.7 578.5,570.6 579.7,573.3 580.9,575.9 582.0,578.3 583.2,580.6 584.3,582.6 585.5,584.4 586.6,586.0 587.7,587.4 588.8,588.5 590.0,589.5 591.1,590.3 592.2,590.9 593.3,591.4 594.4,591.8 595.5,592.1 596.5,592.3 597.6,592.5 598.7,592.7 599.7,592.8 600.8,592.9 601.9,593.0 602.9,593.1 603.9,593.3 605.0,593.6 606.0,594.1 607.0,594.9 608.0,595.8 609.0,596.9 610.0,598.1 611.0,599.4 612.0,600.8 613.0,602.2 614.0,603.7 615.0,605.2 615.9,606.6 616.9,608.1 617.8,609.5 618.8,610.8 619.7,612.0 620.7,613.2 621.6,614.2 622.5,615.2 623.4,616.1 624.3,616.9 625.2,617.6 626.1,618.1 627.0,618.5 627.9,618.8 628.7,619.1 629.6,619.4 630.5,619.6 631.3,619.9 632.2,620.0 633.0,620.1 633.8,620.2 634.7,620.3 635.5,620.3 636.3,620.4 637.1,620.5 637.9,620.6 638.7,620.7 639.4,621.0 640.2,621.3 641.0,621.7 641.7,622.1 642.5,622.7 643.2,623.4 644.0,624.3 644.7,625.3 645.4,626.4 646.1,627.5 646.8,628.4 647.5,629.3 648.2,629.9 648.9,630.3 649.6,630.6 650.2,630.9 650.9,631.1 651.5,631.4 652.2,631.7 652.8,631.9 653.4,632.3 654.0,632.7 654.6,633.3 655.2,634.2 655.8,635.1 656.4,636.1 657.0,637.0 657.5,637.7 658.1,638.2 658.6,638.6 659.1,638.9 659.7,639.3 660.2,639.6 660.7,640.0 661.2,640.5 661.6,641.0 662.1,641.6 662.6,642.1 663.0,642.7 663.5,643.3 663.9,643.9 664.3,644.5 664.7,645.1 665.1,645.7 665.5,646.3 665.9,646.8 666.2,647.4 666.6,647.9 666.9,648.4 667.2,649.0 667.6,649.6 667.8,650.2 668.1,650.9 668.4,651.7 668.6,652.4 668.9,653.2 669.1,654.1 669.3,654.9 669.5,655.8 669.6,656.7 669.8,657.6 669.9,658.5 670.0,659.3 670.0,659.9" fill="none" stroke="#636363" stroke-width="1.7" stroke-linejoin="round"/>
<polyline points="412.0,388.1 413.7,388.1 415.4,388.1 417.2,388.1 418.9,388.2 420.6,388.2 422.3,388.3 424.0,388.4 425.7,388.5 427.4,388.6 429.1,388.7 430.7,388.8 432.4,389.0 434.1,389.1 435.8,389.3 437.4,389.5 439.1,389.7 440.7,389.9 442.4,390.1 444.0,390.4 445.7,390.6 447.3,390.9 448.9,391.2 450.6,391.5 452.2,391.8 453.8,392.2 455.4,392.5 457.0,392.9 458.6,393.3 460.2,393.8 461.8,394.2 463.4,394.7 465.0,395.2 466.6,395.7 468.2,396.2 469.7,396.8 471.3,397.4 472.9,398.0 474.4,398.6 476.0,399.3 477.5,399.9 479.1,400.6 480.6,401.4 482.2,402.1 483.7,402.9 485.2,403.8 486.7,404.6 488.3,405.5 489.8,406.4 491.3,407.3 492.8,408.3 494.3,409.3 495.8,410.4 497.3,411.5 498.7,412.6 500.2,413.7 501.7,414.9 503.2,416.1 504.6,417.4 506.1,418.7 507.5,420.0 509.0,421.4 510.4,422.8 511.9,424.2 513.3,425.7 514.7,427.2 516.2,428.8 517.6,430.4 519.0,432.1 520.4,433.8 521.8,435.6 523.2,437.4 524.6,439.2 526.0,441.1 527.4,443.0 528.8,445.0 530.1,447.0 531.5,449.1 532.9,451.2 534.2,453.4 535.6,455.6 536.9,457.9 538.3,460.2 539.6,462.6 541.0,465.0 542.3,467.4 543.6,469.9 544.9,472.5 546.2,475.1 547.6,477.7 548.9,480.4 550.2,483.2 551.5,486.0 552.7,488.8 554.0,491.7 555.3,494.6 556.6,497.5 557.8,500.5 559.1,503.6 560.4,506.6 561.6,509.7 562.8,512.9 564.1,516.1 565.3,519.3 566.6,522.5 567.8,525.7 569.0,529.0 570.2,532.3 571.4,535.5 572.6,538.8 573.8,542.1 575.0,545.4 576.2,548.7 577.4,551.9 578.5,555.1 579.7,558.3 580.9,561.4 582.0,564.5 583.2,567.5 584.3,570.4 585.5,573.1 586.6,575.7 587.7,578.2 588.8,580.5 590.0,582.6 591.1,584.4 592.2,586.1 593.3,587.5 594.4,588.7 595.5,589.7 596.5,590.5 597.6,591.2 598.7,591.7 599.7,592.1 600.8,592.4 601.9,592.7 602.9,592.9 603.9,593.0 605.0,593.2 606.0,593.3 607.0,593.5 608.0,593.7 609.0,594.1 610.0,594.6 611.0,595.4 612.0,596.4 613.0,597.5 614.0,598.7 615.0,599.9 615.9,601.2 616.9,602.6 617.8,604.0 618.8,605.4 619.7,606.9 620.7,608.3 621.6,609.6 622.5,610.9 623.4,612.1 624.3,613.2 625.2,614.2 626.1,615.2 627.0,616.1 627.9,617.0 628.7,617.7 629.6,618.2 630.5,618.6 631.3,619.0 632.2,619.3 633.0,619.5 633.8,619.8 634.7,620.0 635.5,620.2 636.3,620.3 637.1,620.4 637.9,620.5 638.7,620.5 639.4,620.6 640.2,620.7 641.0,620.8 641.7,620.9 642.5,621.1 643.2,621.4 644.0,621.7 644.7,622.1 645.4,622.6 646.1,623.3 646.8,624.1 647.5,625.0 648.2,626.1 648.9,627.2 649.6,628.2 650.2,629.2 650.9,629.9 651.5,630.4 652.2,630.7 652.8,631.0 653.4,631.3 654.0,631.6 654.6,631.9 655.2,632.1 655.8,632.5 656.4,632.9 657.0,633.5 657.5,634.3 658.1,635.3 658.6,636.3 659.1,637.2 659.7,638.0 660.2,638.5 660.7,638.9 661.2,639.3 661.6,639.7 662.1,640.1 662.6,640.5 663.0,641.1 663.5,641.6 663.9,642.2 664.3,642.9 664.7,643.5 665.1,644.2 665.5,644.8 665.9,645.5 666.2,646.2 666.6,646.8 666.9,647.5 667.2,648.1 667.6,648.7 667.8,649.3 668.1,650.0 668.4,650.8 668.6,651.6 668.9,652.4 669.1,653.4 669.3,654.3 669.5,655.2 669.6,656.3 669.8,657.3 669.9,658.3 670.0,659.2 670.0,659.9" fill="none" stroke="#676767" stroke-width="1.7" stroke-linejoin="round"/>
<polyline points="412.0,388.1 413.7,388.1 415.4,388.1 417.2,388.1 418.9,388.2 420.6,388.2 422.3,388.3 424.0,388.3 425.7,388.4 427.4,388.5 429.1,388.6 430.7,388.7 432.4,388.8 434.1,388.9 435.8,389.1 437.4,389.2 439.1,389.4 440.7,389.6 442.4,389.8 444.0,390.0 445.7,390.2 447.3,390.4 448.9,390.6 450.6,390.9 452.2,391.2 453.8,391.5 455.4,391.8 457.0,392.1 458.6,392.4 460.2,392.8 461.8,393.1 463.4,393.5 465.0,393.9 466.6,394.3 468.2,394.8 469.7,395.2 471.3,395.7 472.9,396.2 474.4,396.7 476.0,397.3 477.5,397.8 479.1,398.4 480.6,399.0 482.2,399.7 483.7,400.3 485.2,401.0 486.7,401.7 488.3,402.4 489.8,403.2 491.3,404.0 492.8,404.8 494.3,405.6 495.8,406.5 497.3,407.4 498.7,408.3 500.2,409.3 501.7,410.3 503.2,411.3 504.6,412.3 506.1,413.4 507.5,414.5 509.0,415.7 510.4,416.9 511.9,418.1 513.3,419.3 514.7,420.6 516.2,422.0 517.6,423.3 519.0,424.7 520.4,426.2 521.8,427.7 523.2,429.2 524.6,430.7 526.0,432.4 527.4,434.0 528.8,435.7 530.1,437.4 531.5,439.2 532.9,441.0 534.2,442.9 535.6,444.8 536.9,446.8 538.3,448.8 539.6,450.8 541.0,452.9 542.3,455.1 543.6,457.3 544.9,459.5 546.2,461.8 547.6,464.1 548.9,466.5 550.2,468.9 551.5,471.4 552.7,473.9 554.0,476.5 555.3,479.1 556.6,481.8 557.8,484.5 559.1,487.2 560.4,490.0 561.6,492.9 562.8,495.7 564.1,498.7 565.3,501.6 566.6,504.6 567.8,507.7 569.0,510.7 570.2,513.9 571.4,517.0 572.6,520.2 573.8,523.4 575.0,526.6 576.2,529.8 577.4,533.1 578.5,536.3 579.7,539.6 580.9,542.9 582.0,546.1 583.2,549.4 584.3,552.6 585.5,555.8 586.6,559.0 587.7,562.1 588.8,565.2 590.0,568.1 591.1,571.0 592.2,573.8 593.3,576.4 594.4,578.9 595.5,581.1 596.5,583.2 597.6,585.1 598.7,586.7 599.7,588.1 600.8,589.3 601.9,590.3 602.9,591.1 603.9,591.7 605.0,592.2 606.0,592.6 607.0,592.9 608.0,593.2 609.0,593.4 610.0,593.6 611.0,593.8 612.0,594.0 613.0,594.4 614.0,595.0 615.0,595.8 615.9,596.8 616.9,597.8 617.8,599.0 618.8,600.2 619.7,601.5 620.7,602.8 621.6,604.1 622.5,605.5 623.4,606.9 624.3,608.2 625.2,609.6 626.1,610.8 627.0,612.0 627.9,613.1 628.7,614.1 629.6,615.1 630.5,616.0 631.3,616.8 632.2,617.6 633.0,618.2 633.8,618.7 634.7,619.0 635.5,619.3 636.3,619.6 637.1,619.9 637.9,620.1 638.7,620.3 639.4,620.5 640.2,620.6 641.0,620.7 641.7,620.8 642.5,620.8 643.2,620.9 644.0,621.0 644.7,621.1 645.4,621.2 646.1,621.5 646.8,621.8 647.5,622.1 648.2,622.6 648.9,623.1 649.6,623.8 650.2,624.6 650.9,625.6 651.5,626.7 652.2,627.8 652.8,628.8 653.4,629.7 654.0,630.4 654.6,630.8 655.2,631.2 655.8,631.5 656.4,631.8 657.0,632.1 657.5,632.4 658.1,632.7 658.6,633.1 659.1,633.6 659.7,634.4 660.2,635.4 660.7,636.4 661.2,637.5 661.6,638.3 662.1,638.9 662.6,639.4 663.0,639.8 663.5,640.2 663.9,640.7 664.3,641.2 664.7,641.8 665.1,642.4 665.5,643.1 665.9,643.8 666.2,644.6 666.6,645.3 666.9,646.1 667.2,646.9 667.6,647.7 667.8,648.4 668.1,649.1 668.4,649.9 668.6,650.7 668.9,651.6 669.1,652.5 669.3,653.6 669.5,654.6 669.6,655.7 669.8,656.9 669.9,658.0 670.0,659.0 670.0,659.9" fill="none" stroke="#6c6c6c" stroke-width="1.7" stroke-linejoin="round"/>
<polyline points="412.0,388.1 413.7,388.1 415.4,388.1 417.2,388.1 418.9,388.2 420.6,388.2 422.3,388.2 424.0,388.3 425.7,388.3 427.4,388.4 429.1,388.5 430.7,388.6 432.4,388.7 434.1,388.8 435.8,388.9 437.4,389.0 439.1,389.1 440.7,389.3 442.4,389.4 444.0,389.6 445.7,389.8 447.3,389.9 448.9,390.1 450.6,390.3 452.2,390.6 453.8,390.8 455.4,391.0 457.0,391.3 458.6,391.5 460.2,391.8 461.8,392.1 463.4,392.4 465.0,392.8 466.6,393.1 468.2,393.4 469.7,393.8 471.3,394.2 472.9,394.6 474.4,395.0 476.0,395.5 477.5,395.9 479.1,396.4 480.6,396.9 482.2,397.4 483.7,397.9 485.2,398.4 486.7,399.0 488.3,399.6 489.8,400.2 491.3,400.8 492.8,401.5 494.3,402.2 495.8,402.9 497.3,403.6 498.7,404.3 500.2,405.1 501.7,405.9 503.2,406.7 504.6,407.6 506.1,408.5 507.5,409.4 509.0,410.3 510.4,411.3 511.9,412.3 513.3,413.3 514.7,414.4 516.2,415.4 517.6,416.6 519.0,417.7 520.4,418.9 521.8,420.1 523.2,421.4 524.6,422.7 526.0,424.0 527.4,425.4 528.8,426.8 530.1,428.2 531.5,429.7 532.9,431.2 534.2,432.7 535.6,434.3 536.9,436.0 538.3,437.7 539.6,439.4 541.0,441.1 542.3,442.9 543.6,444.8 544.9,446.7 546.2,448.6 547.6,450.6 548.9,452.6 550.2,454.7 551.5,456.8 552.7,459.0 554.0,461.2 555.3,463.5 556.6,465.8 557.8,468.2 559.1,470.6 560.4,473.0 561.6,475.5 562.8,478.1 564.1,480.7 565.3,483.3 566.6,486.0 567.8,488.7 569.0,491.5 570.2,494.3 571.4,497.2 572.6,500.1 573.8,503.0 575.0,506.0 576.2,509.0 577.4,512.1 578.5,515.1 579.7,518.3 580.9,521.4 582.0,524.6 583.2,527.8 584.3,531.0 585.5,534.3 586.6,537.5 587.7,540.8 588.8,544.0 590.0,547.3 591.1,550.6 592.2,553.8 593.3,557.0 594.4,560.2 595.5,563.3 596.5,566.3 597.6,569.3 598.7,572.2 599.7,574.9 600.8,577.5 601.9,580.0 602.9,582.2 603.9,584.3 605.0,586.1 606.0,587.7 607.0,589.0 608.0,590.2 609.0,591.1 610.0,591.9 611.0,592.5 612.0,592.9 613.0,593.3 614.0,593.6 615.0,593.9 615.9,594.2 616.9,594.6 617.8,595.2 618.8,595.9 619.7,596.8 620.7,597.8 621.6,598.8 622.5,599.9 623.4,601.1 624.3,602.4 625.2,603.6 626.1,604.9 627.0,606.2 627.9,607.5 628.7,608.8 629.6,610.1 630.5,611.3 631.3,612.4 632.2,613.5 633.0,614.4 633.8,615.4 634.7,616.2 635.5,617.1 636.3,617.8 637.1,618.4 637.9,618.9 638.7,619.3 639.4,619.6 640.2,619.8 641.0,620.1 641.7,620.4 642.5,620.6 643.2,620.8 644.0,620.9 644.7,621.0 645.4,621.1 646.1,621.1 646.8,621.2 647.5,621.3 648.2,621.4 648.9,621.5 649.6,621.7 650.2,622.0 650.9,622.4 651.5,622.8 652.2,623.3 652.8,623.9 653.4,624.7 654.0,625.7 654.6,626.8 655.2,627.9 655.8,629.0 656.4,630.0 657.0,630.7 657.5,631.2 658.1,631.6 658.6,631.9 659.1,632.2 659.7,632.5 660.2,632.9 660.7,633.2 661.2,633.7 661.6,634.3 662.1,635.2 662.6,636.3 663.0,637.4 663.5,638.5 663.9,639.3 664.3,639.8 664.7,640.3 665.1,640.8 665.5,641.3 665.9,641.9 666.2,642.7 666.6,643.4 666.9,644.3 667.2,645.1 667.6,646.0 667.8,646.9 668.1,647.9 668.4,648.8 668.6,649.7 668.9,650.6 669.1,651.6 669.3,652.6 669.5,653.8 669.6,655.1 669.8,656.3 669.9,657.6 670.0,658.9 670.0,659.9" fill="none" stroke="#717171" stroke-width="1.7" stroke-linejoin="round"/>
<polyline points="412.0,388.1 413.7,388.1 415.4,388.1 417.2,388.1 418.9,388.1 420.6,388.2 422.3,388.2 424.0,388.2 425.7,388.3 427.4,388.3 429.1,388.4 430.7,388.5 432.4,388.5 434.1,388.6 435.8,388.7 437.4,388.8 439.1,388.9 440.7,389.0 442.4,389.1 444.0,389.2 445.7,389.4 447.3,389.5 448.9,389.7 450.6,389.8 452.2,390.0 453.8,390.2 455.4,390.4 457.0,390.6 458.6,390.8 460.2,391.0 461.8,391.2 463.4,391.4 465.0,391.7 466.6,392.0 468.2,392.2 469.7,392.5 471.3,392.8 472.9,393.1 474.4,393.4 476.0,393.8 477.5,394.1 479.1,394.5 480.6,394.9 482.2,395.3 483.7,395.7 485.2,396.1 486.7,396.5 488.3,397.0 489.8,397.5 491.3,398.0 492.8,398.5 494.3,399.0 495.8,399.5 497.3,400.1 498.7,400.7 500.2,401.3 501.7,401.9 503.2,402.6 504.6,403.2 506.1,403.9 507.5,404.6 509.0,405.4 510.4,406.1 511.9,406.9 513.3,407.7 514.7,408.5 516.2,409.4 517.6,410.3 519.0,411.2 520.4,412.1 521.8,413.1 523.2,414.1 524.6,415.1 526.0,416.1 527.4,417.2 528.8,418.3 530.1,419.5 531.5,420.7 532.9,421.9 534.2,423.1 535.6,424.4 536.9,425.7 538.3,427.1 539.6,428.4 541.0,429.9 542.3,431.3 543.6,432.8 544.9,434.4 546.2,435.9 547.6,437.6 548.9,439.2 550.2,440.9 551.5,442.7 552.7,444.4 554.0,446.3 555.3,448.1 556.6,450.1 557.8,452.0 559.1,454.0 560.4,456.1 561.6,458.2 562.8,460.3 564.1,462.5 565.3,464.7 566.6,467.0 567.8,469.4 569.0,471.7 570.2,474.2 571.4,476.6 572.6,479.2 573.8,481.7 575.0,484.4 576.2,487.0 577.4,489.7 578.5,492.5 579.7,495.3 580.9,498.1 582.0,501.0 583.2,503.9 584.3,506.9 585.5,509.9 586.6,513.0 587.7,516.0 588.8,519.1 590.0,522.3 591.1,525.5 592.2,528.7 593.3,531.9 594.4,535.1 595.5,538.4 596.5,541.7 597.6,544.9 598.7,548.2 599.7,551.5 600.8,554.7 601.9,557.9 602.9,561.1 603.9,564.2 605.0,567.3 606.0,570.3 607.0,573.2 608.0,575.9 609.0,578.6 610.0,581.0 611.0,583.3 612.0,585.3 613.0,587.1 614.0,588.7 615.0,590.0 615.9,591.1 616.9,592.0 617.8,592.7 618.8,593.3 619.7,593.8 620.7,594.2 621.6,594.7 622.5,595.3 623.4,596.0 624.3,596.8 625.2,597.7 626.1,598.6 627.0,599.7 627.9,600.7 628.7,601.9 629.6,603.0 630.5,604.2 631.3,605.4 632.2,606.6 633.0,607.9 633.8,609.1 634.7,610.3 635.5,611.4 636.3,612.5 637.1,613.5 637.9,614.5 638.7,615.4 639.4,616.2 640.2,617.1 641.0,617.8 641.7,618.5 642.5,619.0 643.2,619.4 644.0,619.8 644.7,620.1 645.4,620.3 646.1,620.6 646.8,620.8 647.5,621.0 648.2,621.2 648.9,621.4 649.6,621.5 650.2,621.6 650.9,621.6 651.5,621.7 652.2,621.8 652.8,621.9 653.4,622.1 654.0,622.3 654.6,622.6 655.2,623.0 655.8,623.5 656.4,624.0 657.0,624.7 657.5,625.6 658.1,626.7 658.6,627.8 659.1,629.0 659.7,630.1 660.2,631.0 660.7,631.7 661.2,632.1 661.6,632.5 662.1,632.9 662.6,633.3 663.0,633.7 663.5,634.1 663.9,634.6 664.3,635.4 664.7,636.4 665.1,637.7 665.5,639.0 665.9,640.0 666.2,640.8 666.6,641.5 666.9,642.1 667.2,642.8 667.6,643.6 667.8,644.6 668.1,645.6 668.4,646.7 668.6,647.9 668.9,649.1 669.1,650.4 669.3,651.6 669.5,652.8 669.6,654.1 669.8,655.6 669.9,657.1 670.0,658.6 670.0,659.9" fill="none" stroke="#767676" stroke-width="1.7" stroke-linejoin="round"/>
<polyline points="412.0,388.1 413.7,388.1 415.4,388.1 417.2,388.1 418.9,388.1 420.6,388.2 422.3,388.2 424.0,388.2 425.7,388.2 427.4,388.3 429.1,388.3 430.7,388.4 432.4,388.4 434.1,388.5 435.8,388.5 437.4,388.6 439.1,388.7 440.7,388.8 442.4,388.9 444.0,388.9 445.7,389.0 447.3,389.1 448.9,389.3 450.6,389.4 452.2,389.5 453.8,389.6 455.4,389.8 457.0,389.9 458.6,390.1 460.2,390.2 461.8,390.4 463.4,390.6 465.0,390.7 466.6,390.9 468.2,391.1 469.7,391.3 471.3,391.6 472.9,391.8 474.4,392.0 476.0,392.3 477.5,392.5 479.1,392.8 480.6,393.1 482.2,393.4 483.7,393.7 485.2,394.0 486.7,394.3 488.3,394.7 489.8,395.0 491.3,395.4 492.8,395.7 494.3,396.1 495.8,396.5 497.3,397.0 498.7,397.4 500.2,397.8 501.7,398.3 503.2,398.8 504.6,399.3 506.1,399.8 507.5,400.3 509.0,400.9 510.4,401.4 511.9,402.0 513.3,402.6 514.7,403.2 516.2,403.9 517.6,404.5 519.0,405.2 520.4,405.9 521.8,406.6 523.2,407.4 524.6,408.1 526.0,408.9 527.4,409.7 528.8,410.6 530.1,411.4 531.5,412.3 532.9,413.3 534.2,414.2 535.6,415.2 536.9,416.2 538.3,417.2 539.6,418.3 541.0,419.3 542.3,420.5 543.6,421.6 544.9,422.8 546.2,424.0 547.6,425.3 548.9,426.5 550.2,427.8 551.5,429.2 552.7,430.6 554.0,432.0 555.3,433.5 556.6,435.0 557.8,436.5 559.1,438.1 560.4,439.7 561.6,441.4 562.8,443.1 564.1,444.8 565.3,446.6 566.6,448.4 567.8,450.3 569.0,452.2 570.2,454.2 571.4,456.2 572.6,458.3 573.8,460.4 575.0,462.5 576.2,464.7 577.4,466.9 578.5,469.2 579.7,471.6 580.9,474.0 582.0,476.4 583.2,478.9 584.3,481.4 585.5,484.0 586.6,486.6 587.7,489.3 588.8,492.0 590.0,494.8 591.1,497.6 592.2,500.5 593.3,503.4 594.4,506.4 595.5,509.4 596.5,512.4 597.6,515.5 598.7,518.6 599.7,521.7 600.8,524.9 601.9,528.1 602.9,531.4 603.9,534.6 605.0,537.9 606.0,541.2 607.0,544.5 608.0,547.8 609.0,551.1 610.0,554.4 611.0,557.7 612.0,560.9 613.0,564.1 614.0,567.2 615.0,570.3 615.9,573.3 616.9,576.1 617.8,578.8 618.8,581.3 619.7,583.7 620.7,585.8 621.6,587.7 622.5,589.3 623.4,590.7 624.3,591.8 625.2,592.8 626.1,593.6 627.0,594.3 627.9,594.9 628.7,595.6 629.6,596.3 630.5,597.1 631.3,597.9 632.2,598.8 633.0,599.7 633.8,600.7 634.7,601.7 635.5,602.7 636.3,603.7 637.1,604.8 637.9,605.9 638.7,607.0 639.4,608.1 640.2,609.2 641.0,610.3 641.7,611.4 642.5,612.4 643.2,613.4 644.0,614.3 644.7,615.2 645.4,616.0 646.1,616.8 646.8,617.6 647.5,618.3 648.2,619.0 648.9,619.5 649.6,619.9 650.2,620.3 650.9,620.6 651.5,620.9 652.2,621.2 652.8,621.4 653.4,621.7 654.0,621.9 654.6,622.1 655.2,622.2 655.8,622.3 656.4,622.5 657.0,622.6 657.5,622.7 658.1,622.8 658.6,623.0 659.1,623.3 659.7,623.6 660.2,624.0 660.7,624.5 661.2,625.1 661.6,625.8 662.1,626.8 662.6,627.9 663.0,629.2 663.5,630.5 663.9,631.7 664.3,632.7 664.7,633.4 665.1,634.0 665.5,634.5 665.9,635.1 666.2,635.7 666.6,636.3 666.9,637.2 667.2,638.4 667.6,640.0 667.8,641.6 668.1,643.0 668.4,644.1 668.6,645.1 668.9,646.3 669.1,647.7 669.3,649.3 669.5,651.0 669.6,652.7 669.8,654.5 669.9,656.2 670.0,658.1 670.0,659.9" fill="none" stroke="#7b7b7b" stroke-width="1.7" stroke-linejoin="round"/>
<polyline points="412.0,388.1 413.7,388.1 415.4,388.1 417.2,388.1 418.9,388.1 420.6,388.1 422.3,388.2 424.0,388.2 425.7,388.2 427.4,388.2 429.1,388.3 430.7,388.3 432.4,388.3 434.1,388.4 435.8,388.4 437.4,388.5 439.1,388.5 440.7,388.6 442.4,388.6 444.0,388.7 445.7,388.8 447.3,388.8 448.9,388.9 450.6,389.0 452.2,389.1 453.8,389.2 455.4,389.3 457.0,389.3 458.6,389.5 460.2,389.6 461.8,389.7 463.4,389.8 465.0,389.9 466.6,390.1 468.2,390.2 469.7,390.3 471.3,390.5 472.9,390.6 474.4,390.8 476.0,391.0 477.5,391.2 479.1,391.3 480.6,391.5 482.2,391.7 483.7,391.9 485.2,392.2 486.7,392.4 488.3,392.6 489.8,392.9 491.3,393.1 492.8,393.4 494.3,393.6 495.8,393.9 497.3,394.2 498.7,394.5 500.2,394.8 501.7,395.1 503.2,395.5 504.6,395.8 506.1,396.2 507.5,396.5 509.0,396.9 510.4,397.3 511.9,397.7 513.3,398.1 514.7,398.5 516.2,399.0 517.6,399.4 519.0,399.9 520.4,400.4 521.8,400.9 523.2,401.4 524.6,402.0 526.0,402.5 527.4,403.1 528.8,403.7 530.1,404.3 531.5,404.9 532.9,405.6 534.2,406.2 535.6,406.9 536.9,407.6 538.3,408.3 539.6,409.1 541.0,409.9 542.3,410.7 543.6,411.5 544.9,412.3 546.2,413.2 547.6,414.1 548.9,415.0 550.2,415.9 551.5,416.9 552.7,417.9 554.0,418.9 555.3,420.0 556.6,421.1 557.8,422.2 559.1,423.3 560.4,424.5 561.6,425.7 562.8,427.0 564.1,428.3 565.3,429.6 566.6,430.9 567.8,432.3 569.0,433.7 570.2,435.2 571.4,436.7 572.6,438.2 573.8,439.8 575.0,441.4 576.2,443.1 577.4,444.8 578.5,446.5 579.7,448.3 580.9,450.2 582.0,452.0 583.2,454.0 584.3,455.9 585.5,458.0 586.6,460.0 587.7,462.2 588.8,464.3 590.0,466.5 591.1,468.8 592.2,471.1 593.3,473.5 594.4,475.9 595.5,478.4 596.5,480.9 597.6,483.4 598.7,486.1 599.7,488.7 600.8,491.4 601.9,494.2 602.9,497.0 603.9,499.9 605.0,502.8 606.0,505.8 607.0,508.8 608.0,511.8 609.0,514.9 610.0,518.1 611.0,521.3 612.0,524.5 613.0,527.7 614.0,531.0 615.0,534.3 615.9,537.6 616.9,541.0 617.8,544.4 618.8,547.7 619.7,551.1 620.7,554.5 621.6,557.8 622.5,561.2 623.4,564.4 624.3,567.7 625.2,570.8 626.1,573.9 627.0,576.8 627.9,579.6 628.7,582.3 629.6,584.7 630.5,586.9 631.3,588.9 632.2,590.6 633.0,592.2 633.8,593.6 634.7,594.8 635.5,596.0 636.3,597.0 637.1,598.0 637.9,599.0 638.7,599.9 639.4,600.8 640.2,601.7 641.0,602.6 641.7,603.6 642.5,604.5 643.2,605.5 644.0,606.4 644.7,607.4 645.4,608.4 646.1,609.4 646.8,610.4 647.5,611.4 648.2,612.4 648.9,613.3 649.6,614.2 650.2,615.0 650.9,615.8 651.5,616.6 652.2,617.4 652.8,618.1 653.4,618.8 654.0,619.5 654.6,620.1 655.2,620.6 655.8,621.0 656.4,621.3 657.0,621.6 657.5,621.9 658.1,622.2 658.6,622.5 659.1,622.8 659.7,623.1 660.2,623.3 660.7,623.5 661.2,623.7 661.6,623.9 662.1,624.1 662.6,624.3 663.0,624.6 663.5,624.9 663.9,625.3 664.3,625.8 664.7,626.5 665.1,627.2 665.5,628.2 665.9,629.4 666.2,630.9 666.6,632.5 666.9,634.1 667.2,635.5 667.6,636.6 667.8,637.5 668.1,638.5 668.4,639.5 668.6,640.7 668.9,642.4 669.1,644.6 669.3,647.0 669.5,648.8 669.6,650.6 669.8,652.8 669.9,655.2 670.0,657.6 670.0,659.9" fill="none" stroke="#808080" stroke-width="1.7" stroke-linejoin="round"/>
<polyline points="412.0,388.1 413.7,388.1 415.4,388.1 417.2,388.1 418.9,388.1 420.6,388.1 422.3,388.1 424.0,388.1 425.7,388.2 427.4,388.2 429.1,388.2 430.7,388.2 432.4,388.2 434.1,388.3 435.8,388.3 437.4,388.3 439.1,388.4 440.7,388.4 442.4,388.4 444.0,388.5 445.7,388.5 447.3,388.6 448.9,388.6 450.6,388.7 452.2,388.7 453.8,388.8 455.4,388.8 457.0,388.9 458.6,389.0 460.2,389.0 461.8,389.1 463.4,389.2 465.0,389.2 466.6,389.3 468.2,389.4 469.7,389.5 471.3,389.6 472.9,389.7 474.4,389.8 476.0,389.9 477.5,390.0 479.1,390.1 480.6,390.2 482.2,390.4 483.7,390.5 485.2,390.6 486.7,390.8 488.3,390.9 489.8,391.1 491.3,391.2 492.8,391.4 494.3,391.5 495.8,391.7 497.3,391.9 498.7,392.1 500.2,392.3 501.7,392.5 503.2,392.7 504.6,392.9 506.1,393.1 507.5,393.3 509.0,393.6 510.4,393.8 511.9,394.1 513.3,394.3 514.7,394.6 516.2,394.9 517.6,395.2 519.0,395.5 520.4,395.8 521.8,396.1 523.2,396.4 524.6,396.8 526.0,397.1 527.4,397.5 528.8,397.8 530.1,398.2 531.5,398.6 532.9,399.0 534.2,399.4 535.6,399.9 536.9,400.3 538.3,400.8 539.6,401.2 541.0,401.7 542.3,402.2 543.6,402.8 544.9,403.3 546.2,403.8 547.6,404.4 548.9,405.0 550.2,405.6 551.5,406.2 552.7,406.9 554.0,407.5 555.3,408.2 556.6,408.9 557.8,409.6 559.1,410.4 560.4,411.1 561.6,411.9 562.8,412.7 564.1,413.6 565.3,414.4 566.6,415.3 567.8,416.2 569.0,417.2 570.2,418.1 571.4,419.1 572.6,420.1 573.8,421.2 575.0,422.3 576.2,423.4 577.4,424.5 578.5,425.7 579.7,426.9 580.9,428.1 582.0,429.4 583.2,430.7 584.3,432.1 585.5,433.5 586.6,434.9 587.7,436.4 588.8,437.9 590.0,439.4 591.1,441.0 592.2,442.6 593.3,444.3 594.4,446.0 595.5,447.8 596.5,449.6 597.6,451.5 598.7,453.4 599.7,455.3 600.8,457.3 601.9,459.4 602.9,461.5 603.9,463.6 605.0,465.8 606.0,468.1 607.0,470.4 608.0,472.8 609.0,475.2 610.0,477.7 611.0,480.2 612.0,482.8 613.0,485.5 614.0,488.1 615.0,490.9 615.9,493.7 616.9,496.6 617.8,499.5 618.8,502.5 619.7,505.5 620.7,508.6 621.6,511.7 622.5,514.9 623.4,518.1 624.3,521.3 625.2,524.6 626.1,528.0 627.0,531.4 627.9,534.8 628.7,538.2 629.6,541.7 630.5,545.2 631.3,548.7 632.2,552.2 633.0,555.7 633.8,559.2 634.7,562.6 635.5,566.1 636.3,569.5 637.1,572.8 637.9,576.1 638.7,579.2 639.4,582.3 640.2,585.3 641.0,588.1 641.7,590.7 642.5,593.2 643.2,595.4 644.0,597.5 644.7,599.3 645.4,601.0 646.1,602.5 646.8,603.9 647.5,605.1 648.2,606.3 648.9,607.4 649.6,608.4 650.2,609.4 650.9,610.4 651.5,611.3 652.2,612.2 652.8,613.1 653.4,614.0 654.0,614.8 654.6,615.6 655.2,616.4 655.8,617.2 656.4,617.9 657.0,618.6 657.5,619.4 658.1,620.0 658.6,620.7 659.1,621.2 659.7,621.7 660.2,622.1 660.7,622.5 661.2,622.9 661.6,623.2 662.1,623.6 662.6,624.0 663.0,624.3 663.5,624.6 663.9,625.0 664.3,625.3 664.7,625.6 665.1,626.0 665.5,626.4 665.9,626.8 666.2,627.3 666.6,628.0 666.9,628.8 667.2,629.8 667.6,631.0 667.8,632.5 668.1,634.5 668.4,636.6 668.6,638.8 668.9,640.6 669.1,642.2 669.3,643.9 669.5,645.8 669.6,648.3 669.8,651.5 669.9,654.1 670.0,656.9 670.0,659.9" fill="none" stroke="#868686" stroke-width="1.7" stroke-linejoin="round"/>
<polyline points="412.0,388.1 413.7,388.1 415.4,388.1 417.2,388.1 418.9,388.1 420.6,388.1 422.3,388.1 424.0,388.1 425.7,388.1 427.4,388.1 429.1,388.2 430.7,388.2 432.4,388.2 434.1,388.2 435.8,388.2 437.4,388.2 439.1,388.2 440.7,388.3 442.4,388.3 444.0,388.3 445.7,388.3 447.3,388.4 448.9,388.4 450.6,388.4 452.2,388.4 453.8,388.5 455.4,388.5 457.0,388.5 458.6,388.6 460.2,388.6 461.8,388.6 463.4,388.7 465.0,388.7 466.6,388.8 468.2,388.8 469.7,388.9 471.3,388.9 472.9,389.0 474.4,389.0 476.0,389.1 477.5,389.1 479.1,389.2 480.6,389.2 482.2,389.3 483.7,389.4 485.2,389.4 486.7,389.5 488.3,389.6 489.8,389.7 491.3,389.8 492.8,389.8 494.3,389.9 495.8,390.0 497.3,390.1 498.7,390.2 500.2,390.3 501.7,390.4 503.2,390.5 504.6,390.6 506.1,390.7 507.5,390.9 509.0,391.0 510.4,391.1 511.9,391.2 513.3,391.4 514.7,391.5 516.2,391.7 517.6,391.8 519.0,392.0 520.4,392.1 521.8,392.3 523.2,392.5 524.6,392.6 526.0,392.8 527.4,393.0 528.8,393.2 530.1,393.4 531.5,393.6 532.9,393.8 534.2,394.0 535.6,394.3 536.9,394.5 538.3,394.8 539.6,395.0 541.0,395.3 542.3,395.5 543.6,395.8 544.9,396.1 546.2,396.4 547.6,396.7 548.9,397.0 550.2,397.3 551.5,397.6 552.7,398.0 554.0,398.3 555.3,398.7 556.6,399.1 557.8,399.4 559.1,399.8 560.4,400.3 561.6,400.7 562.8,401.1 564.1,401.6 565.3,402.0 566.6,402.5 567.8,403.0 569.0,403.5 570.2,404.0 571.4,404.6 572.6,405.1 573.8,405.7 575.0,406.3 576.2,406.9 577.4,407.5 578.5,408.2 579.7,408.8 580.9,409.5 582.0,410.2 583.2,411.0 584.3,411.7 585.5,412.5 586.6,413.3 587.7,414.1 588.8,415.0 590.0,415.8 591.1,416.7 592.2,417.7 593.3,418.6 594.4,419.6 595.5,420.6 596.5,421.7 597.6,422.8 598.7,423.9 599.7,425.0 600.8,426.2 601.9,427.4 602.9,428.7 603.9,429.9 605.0,431.3 606.0,432.6 607.0,434.1 608.0,435.5 609.0,437.0 610.0,438.5 611.0,440.1 612.0,441.7 613.0,443.4 614.0,445.1 615.0,446.9 615.9,448.7 616.9,450.6 617.8,452.5 618.8,454.5 619.7,456.5 620.7,458.6 621.6,460.8 622.5,463.0 623.4,465.2 624.3,467.5 625.2,469.9 626.1,472.4 627.0,474.9 627.9,477.4 628.7,480.0 629.6,482.7 630.5,485.5 631.3,488.3 632.2,491.2 633.0,494.1 633.8,497.1 634.7,500.2 635.5,503.3 636.3,506.5 637.1,509.7 637.9,513.0 638.7,516.3 639.4,519.8 640.2,523.2 641.0,526.7 641.7,530.3 642.5,533.9 643.2,537.5 644.0,541.2 644.7,544.9 645.4,548.6 646.1,552.3 646.8,556.1 647.5,559.8 648.2,563.6 648.9,567.3 649.6,571.1 650.2,574.7 650.9,578.4 651.5,582.0 652.2,585.5 652.8,589.0 653.4,592.3 654.0,595.5 654.6,598.6 655.2,601.5 655.8,604.2 656.4,606.7 657.0,609.0 657.5,611.0 658.1,612.8 658.6,614.3 659.1,615.7 659.7,616.8 660.2,617.9 660.7,618.8 661.2,619.7 661.6,620.5 662.1,621.3 662.6,622.0 663.0,622.6 663.5,623.2 663.9,623.8 664.3,624.3 664.7,624.8 665.1,625.3 665.5,625.9 665.9,626.4 666.2,627.0 666.6,627.6 666.9,628.2 667.2,628.9 667.6,629.6 667.8,630.5 668.1,631.4 668.4,632.5 668.6,633.9 668.9,635.6 669.1,637.7 669.3,640.3 669.5,643.5 669.6,646.7 669.8,649.5 669.9,652.4 670.0,656.2 670.0,659.9" fill="none" stroke="#8b8b8b" stroke-width="1.7" stroke-linejoin="round"/>
<polyline points="412.0,388.1 413.7,388.1 415.4,388.1 417.2,388.1 418.9,388.1 420.6,388.1 422.3,388.1 424.0,388.1 425.7,388.1 427.4,388.1 429.1,388.1 430.7,388.1 432.4,388.1 434.1,388.1 435.8,388.2 437.4,388.2 439.1,388.2 440.7,388.2 442.4,388.2 444.0,388.2 445.7,388.2 447.3,388.2 448.9,388.2 450.6,388.2 452.2,388.2 453.8,388.3 455.4,388.3 457.0,388.3 458.6,388.3 460.2,388.3 461.8,388.3 463.4,388.3 465.0,388.4 466.6,388.4 468.2,388.4 469.7,388.4 471.3,388.4 472.9,388.4 474.4,388.5 476.0,388.5 477.5,388.5 479.1,388.5 480.6,388.6 482.2,388.6 483.7,388.6 485.2,388.6 486.7,388.7 488.3,388.7 489.8,388.7 491.3,388.7 492.8,388.8 494.3,388.8 495.8,388.8 497.3,388.9 498.7,388.9 500.2,388.9 501.7,389.0 503.2,389.0 504.6,389.1 506.1,389.1 507.5,389.2 509.0,389.2 510.4,389.2 511.9,389.3 513.3,389.3 514.7,389.4 516.2,389.4 517.6,389.5 519.0,389.6 520.4,389.6 521.8,389.7 523.2,389.7 524.6,389.8 526.0,389.9 527.4,389.9 528.8,390.0 530.1,390.1 531.5,390.2 532.9,390.2 534.2,390.3 535.6,390.4 536.9,390.5 538.3,390.6 539.6,390.7 541.0,390.8 542.3,390.9 543.6,390.9 544.9,391.1 546.2,391.2 547.6,391.3 548.9,391.4 550.2,391.5 551.5,391.6 552.7,391.7 554.0,391.9 555.3,392.0 556.6,392.1 557.8,392.3 559.1,392.4 560.4,392.6 561.6,392.7 562.8,392.9 564.1,393.0 565.3,393.2 566.6,393.4 567.8,393.6 569.0,393.8 570.2,393.9 571.4,394.1 572.6,394.3 573.8,394.6 575.0,394.8 576.2,395.0 577.4,395.2 578.5,395.5 579.7,395.7 580.9,396.0 582.0,396.2 583.2,396.5 584.3,396.8 585.5,397.1 586.6,397.4 587.7,397.7 588.8,398.0 590.0,398.3 591.1,398.7 592.2,399.0 593.3,399.4 594.4,399.8 595.5,400.1 596.5,400.5 597.6,400.9 598.7,401.4 599.7,401.8 600.8,402.3 601.9,402.7 602.9,403.2 603.9,403.7 605.0,404.2 606.0,404.8 607.0,405.3 608.0,405.9 609.0,406.5 610.0,407.1 611.0,407.7 612.0,408.4 613.0,409.1 614.0,409.8 615.0,410.5 615.9,411.2 616.9,412.0 617.8,412.8 618.8,413.6 619.7,414.5 620.7,415.4 621.6,416.3 622.5,417.2 623.4,418.2 624.3,419.2 625.2,420.2 626.1,421.3 627.0,422.4 627.9,423.6 628.7,424.8 629.6,426.0 630.5,427.3 631.3,428.6 632.2,429.9 633.0,431.3 633.8,432.8 634.7,434.3 635.5,435.8 636.3,437.4 637.1,439.1 637.9,440.8 638.7,442.6 639.4,444.4 640.2,446.2 641.0,448.2 641.7,450.2 642.5,452.2 643.2,454.3 644.0,456.5 644.7,458.8 645.4,461.1 646.1,463.5 646.8,465.9 647.5,468.4 648.2,471.0 648.9,473.7 649.6,476.4 650.2,479.2 650.9,482.1 651.5,485.0 652.2,488.1 652.8,491.1 653.4,494.3 654.0,497.5 654.6,500.8 655.2,504.1 655.8,507.5 656.4,511.0 657.0,514.5 657.5,518.1 658.1,521.7 658.6,525.4 659.1,529.1 659.7,532.8 660.2,536.6 660.7,540.4 661.2,544.2 661.6,548.0 662.1,551.8 662.6,555.6 663.0,559.4 663.5,563.2 663.9,566.9 664.3,570.6 664.7,574.3 665.1,577.9 665.5,581.5 665.9,585.0 666.2,588.5 666.6,591.8 666.9,595.1 667.2,598.4 667.6,601.5 667.8,604.6 668.1,607.7 668.4,610.7 668.6,613.7 668.9,616.8 669.1,619.9 669.3,623.2 669.5,626.8 669.6,630.8 669.8,635.6 669.9,641.3 670.0,648.7 670.0,659.9" fill="none" stroke="#919191" stroke-width="1.7" stroke-linejoin="round"/>
<line x1="412" y1="386.8" x2="412" y2="660.9" stroke="#000" stroke-width="2" />
<line x1="412" y1="659.9" x2="669.8" y2="659.9" stroke="#000" stroke-width="2" />
<text x="395.2" y="397.7" font-family='"Liberation Sans", sans-serif' font-size="20.5" style="font-kerning:none"> </text>
<path d="M764 0H584V1147Q519 1085 413 1023Q307 961 222 931V1104Q371 1174 483 1274Q595 1374 642 1466H764Z" transform="translate(395.2,397.7) scale(0.01001,-0.01001)"/>
<text x="402.4" y="449.7" font-family='"Liberation Sans", sans-serif' font-size="20.5" text-anchor="end">0.8</text>
<text x="402.4" y="503.8" font-family='"Liberation Sans", sans-serif' font-size="20.5" text-anchor="end">0.6</text>
<text x="402.4" y="558.3" font-family='"Liberation Sans", sans-serif' font-size="20.5" text-anchor="end">0.4</text>
<text x="402.4" y="612.5" font-family='"Liberation Sans", sans-serif' font-size="20.5" text-anchor="end">0.2</text>
<text x="405.8" y="662.3" font-family='"Liberation Sans", sans-serif' font-size="20.5" text-anchor="end">0</text>
<text x="413.6" y="683.6" font-family='"Liberation Sans", sans-serif' font-size="20.5" text-anchor="middle">0</text>
<text x="453.25" y="683.6" font-family='"Liberation Sans", sans-serif' font-size="20.5" style="font-kerning:none">0. </text>
<path d="M764 0H584V1147Q519 1085 413 1023Q307 961 222 931V1104Q371 1174 483 1274Q595 1374 642 1466H764Z" transform="translate(470.35,683.6) scale(0.01001,-0.01001)"/>
<text x="522.4" y="683.6" font-family='"Liberation Sans", sans-serif' font-size="20.5" text-anchor="middle">0.2</text>
<text x="578.5" y="683.6" font-family='"Liberation Sans", sans-serif' font-size="20.5" text-anchor="middle">0.3</text>
<text x="634.2" y="683.6" font-family='"Liberation Sans", sans-serif' font-size="20.5" text-anchor="middle">0.4</text>
<text x="522.4" y="704.5" font-family='"Liberation Serif", serif' font-size="23.8">k/</text>
<text x="541.2" y="704.2" font-family='"Liberation Serif", serif' font-size="26.5" textLength="16.8" lengthAdjust="spacingAndGlyphs">Ω</text>
<text transform="translate(370.8,525.1) rotate(-90)" font-family='"Liberation Sans", sans-serif' font-size="24" text-anchor="middle">IPR</text>
<text x="658.6" y="676.4" font-family='"Liberation Serif", serif' font-size="21">k</text>
<text x="668.2" y="678.6" font-family='"Liberation Serif", serif' font-size="16.5">c</text>
<text x="677.1" y="678.6" font-family='"Liberation Serif", serif' font-size="16.5">-</text>
<line x1="654.6" y1="681.4" x2="682.9" y2="681.4" stroke="#000" stroke-width="1.4" />
<text x="668.5" y="698.7" font-family='"Liberation Serif", serif' font-size="21" text-anchor="middle">Ω</text></svg>
</body></html>
